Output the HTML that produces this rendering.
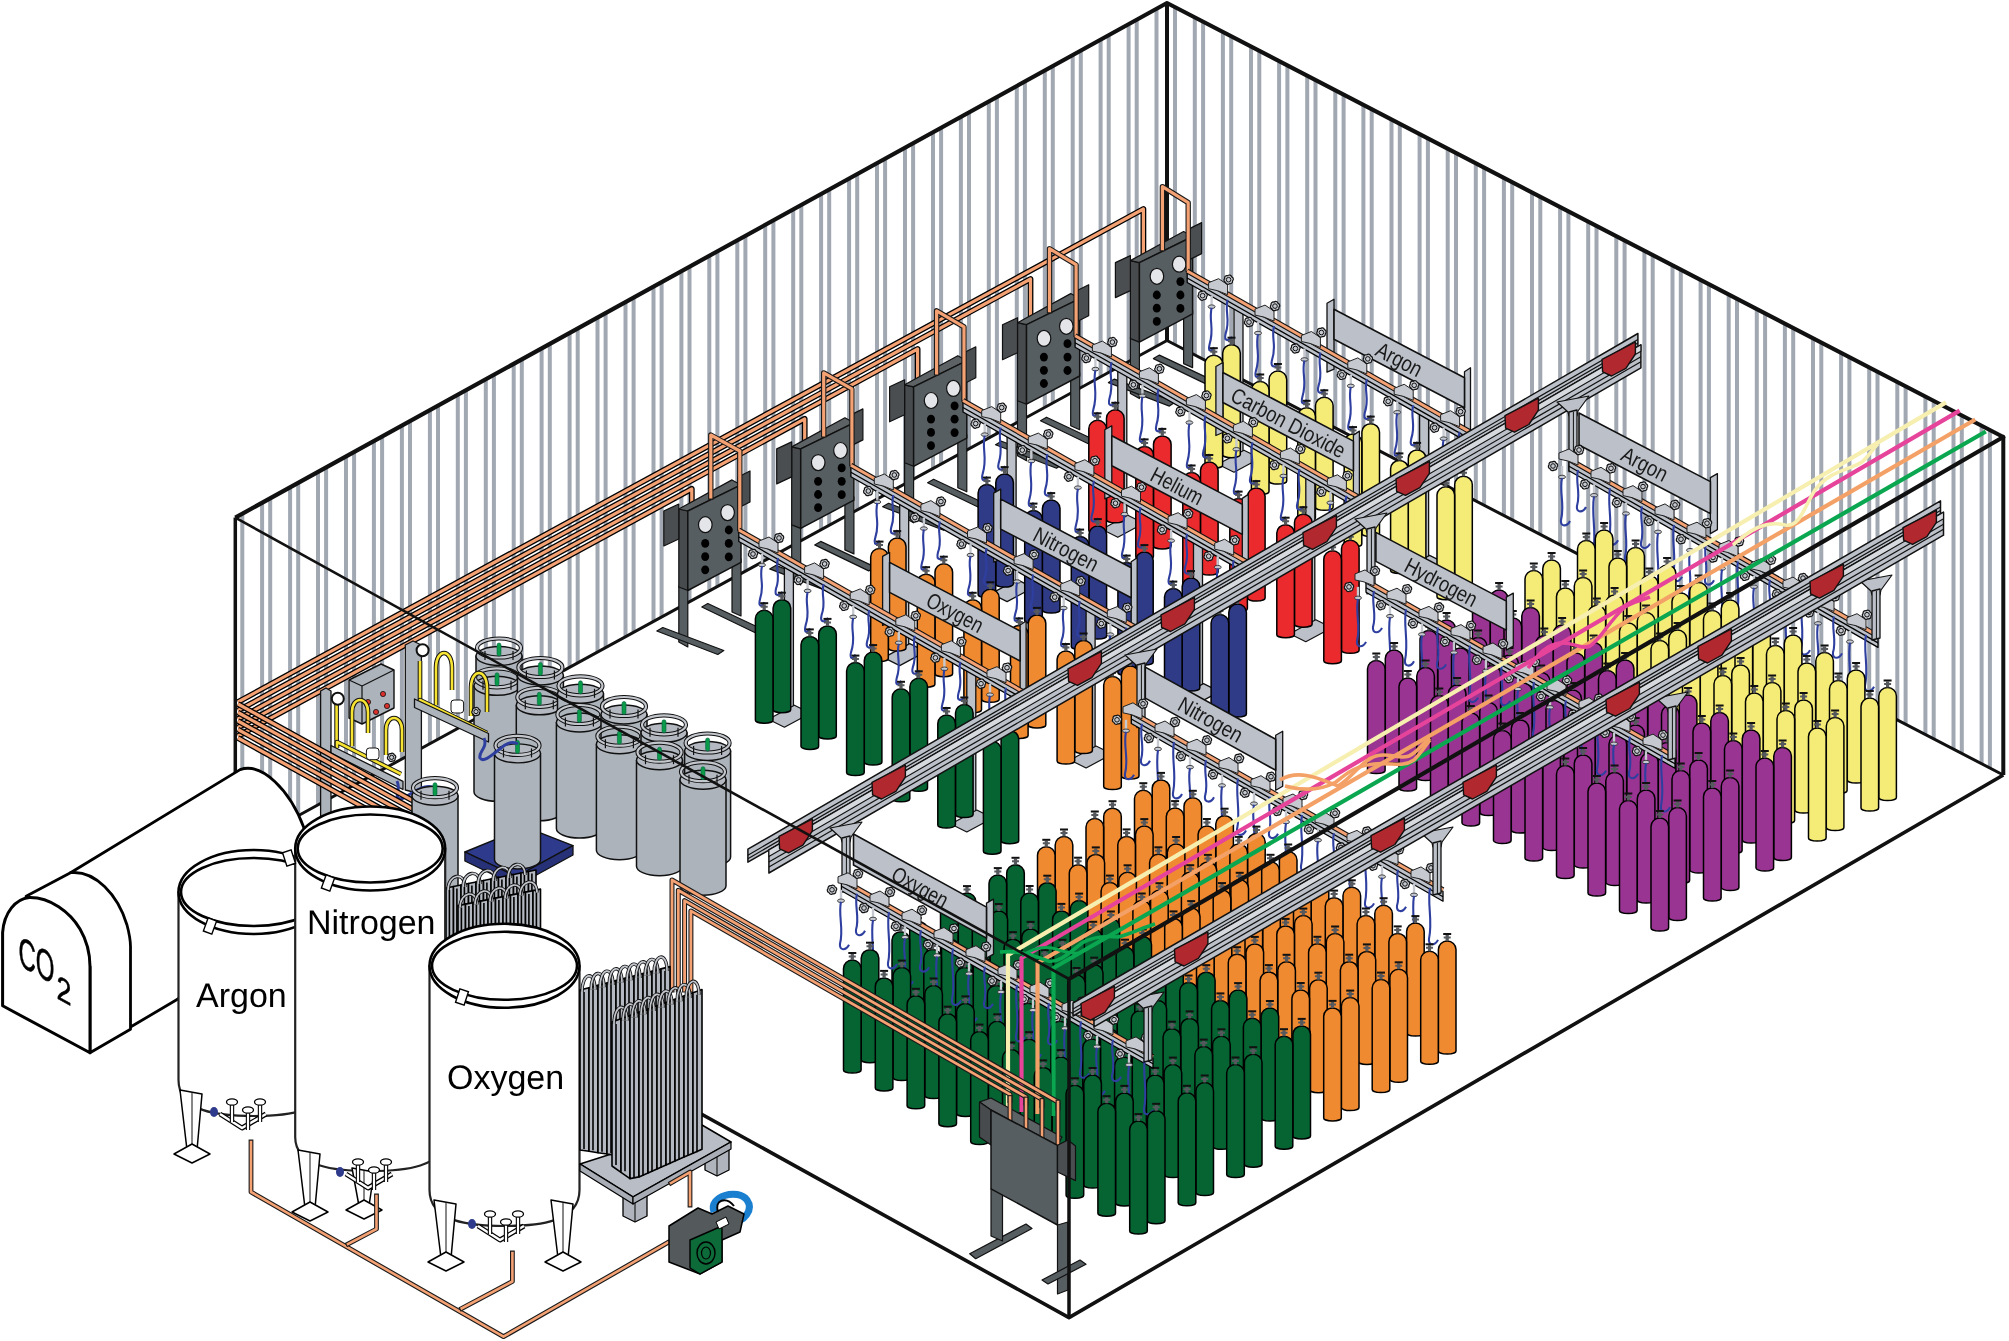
<!DOCTYPE html>
<html><head><meta charset="utf-8"><style>
html,body{margin:0;padding:0;background:#fff;overflow:hidden}
text{text-rendering:geometricPrecision}
svg{display:block;will-change:transform}
</style></head><body>
<svg xmlns="http://www.w3.org/2000/svg" width="2009" height="1341" viewBox="0 0 2009 1341">
<rect width="2009" height="1341" fill="#fff"/>
<line x1="242.3" y1="514.7" x2="242.3" y2="846.3" stroke="#a1a8b2" stroke-width="4" stroke-linecap="butt"/>
<line x1="262.1" y1="503.8" x2="262.1" y2="835.5" stroke="#a1a8b2" stroke-width="4" stroke-linecap="butt"/>
<line x1="270.2" y1="499.3" x2="270.2" y2="831" stroke="#a1a8b2" stroke-width="4" stroke-linecap="butt"/>
<line x1="290.1" y1="488.3" x2="290.1" y2="820.2" stroke="#a1a8b2" stroke-width="4" stroke-linecap="butt"/>
<line x1="298.2" y1="483.9" x2="298.2" y2="815.7" stroke="#a1a8b2" stroke-width="4" stroke-linecap="butt"/>
<line x1="318" y1="472.9" x2="318" y2="804.9" stroke="#a1a8b2" stroke-width="4" stroke-linecap="butt"/>
<line x1="326.1" y1="468.4" x2="326.1" y2="800.4" stroke="#a1a8b2" stroke-width="4" stroke-linecap="butt"/>
<line x1="346" y1="457.5" x2="346" y2="789.6" stroke="#a1a8b2" stroke-width="4" stroke-linecap="butt"/>
<line x1="354.1" y1="453" x2="354.1" y2="785.2" stroke="#a1a8b2" stroke-width="4" stroke-linecap="butt"/>
<line x1="373.9" y1="442" x2="373.9" y2="774.3" stroke="#a1a8b2" stroke-width="4" stroke-linecap="butt"/>
<line x1="382.1" y1="437.5" x2="382.1" y2="769.9" stroke="#a1a8b2" stroke-width="4" stroke-linecap="butt"/>
<line x1="401.9" y1="426.6" x2="401.9" y2="759" stroke="#a1a8b2" stroke-width="4" stroke-linecap="butt"/>
<line x1="410" y1="422.1" x2="410" y2="754.6" stroke="#a1a8b2" stroke-width="4" stroke-linecap="butt"/>
<line x1="429.9" y1="411.1" x2="429.9" y2="743.7" stroke="#a1a8b2" stroke-width="4" stroke-linecap="butt"/>
<line x1="438" y1="406.7" x2="438" y2="739.3" stroke="#a1a8b2" stroke-width="4" stroke-linecap="butt"/>
<line x1="457.8" y1="395.7" x2="457.8" y2="728.4" stroke="#a1a8b2" stroke-width="4" stroke-linecap="butt"/>
<line x1="465.9" y1="391.2" x2="465.9" y2="724" stroke="#a1a8b2" stroke-width="4" stroke-linecap="butt"/>
<line x1="485.8" y1="380.3" x2="485.8" y2="713.1" stroke="#a1a8b2" stroke-width="4" stroke-linecap="butt"/>
<line x1="493.9" y1="375.8" x2="493.9" y2="708.7" stroke="#a1a8b2" stroke-width="4" stroke-linecap="butt"/>
<line x1="513.7" y1="364.8" x2="513.7" y2="697.9" stroke="#a1a8b2" stroke-width="4" stroke-linecap="butt"/>
<line x1="521.8" y1="360.4" x2="521.8" y2="693.4" stroke="#a1a8b2" stroke-width="4" stroke-linecap="butt"/>
<line x1="541.6" y1="349.4" x2="541.6" y2="682.6" stroke="#a1a8b2" stroke-width="4" stroke-linecap="butt"/>
<line x1="549.8" y1="344.9" x2="549.8" y2="678.1" stroke="#a1a8b2" stroke-width="4" stroke-linecap="butt"/>
<line x1="569.6" y1="334" x2="569.6" y2="667.3" stroke="#a1a8b2" stroke-width="4" stroke-linecap="butt"/>
<line x1="577.7" y1="329.5" x2="577.7" y2="662.8" stroke="#a1a8b2" stroke-width="4" stroke-linecap="butt"/>
<line x1="597.5" y1="318.5" x2="597.5" y2="652" stroke="#a1a8b2" stroke-width="4" stroke-linecap="butt"/>
<line x1="605.6" y1="314" x2="605.6" y2="647.6" stroke="#a1a8b2" stroke-width="4" stroke-linecap="butt"/>
<line x1="625.5" y1="303.1" x2="625.5" y2="636.7" stroke="#a1a8b2" stroke-width="4" stroke-linecap="butt"/>
<line x1="633.6" y1="298.6" x2="633.6" y2="632.3" stroke="#a1a8b2" stroke-width="4" stroke-linecap="butt"/>
<line x1="653.5" y1="287.6" x2="653.5" y2="621.4" stroke="#a1a8b2" stroke-width="4" stroke-linecap="butt"/>
<line x1="661.6" y1="283.2" x2="661.6" y2="617" stroke="#a1a8b2" stroke-width="4" stroke-linecap="butt"/>
<line x1="681.4" y1="272.2" x2="681.4" y2="606.1" stroke="#a1a8b2" stroke-width="4" stroke-linecap="butt"/>
<line x1="689.5" y1="267.7" x2="689.5" y2="601.7" stroke="#a1a8b2" stroke-width="4" stroke-linecap="butt"/>
<line x1="709.3" y1="256.8" x2="709.3" y2="590.8" stroke="#a1a8b2" stroke-width="4" stroke-linecap="butt"/>
<line x1="717.4" y1="252.3" x2="717.4" y2="586.4" stroke="#a1a8b2" stroke-width="4" stroke-linecap="butt"/>
<line x1="737.3" y1="241.3" x2="737.3" y2="575.5" stroke="#a1a8b2" stroke-width="4" stroke-linecap="butt"/>
<line x1="745.4" y1="236.9" x2="745.4" y2="571.1" stroke="#a1a8b2" stroke-width="4" stroke-linecap="butt"/>
<line x1="765.2" y1="225.9" x2="765.2" y2="560.3" stroke="#a1a8b2" stroke-width="4" stroke-linecap="butt"/>
<line x1="773.4" y1="221.4" x2="773.4" y2="555.8" stroke="#a1a8b2" stroke-width="4" stroke-linecap="butt"/>
<line x1="793.2" y1="210.5" x2="793.2" y2="545" stroke="#a1a8b2" stroke-width="4" stroke-linecap="butt"/>
<line x1="801.3" y1="206" x2="801.3" y2="540.5" stroke="#a1a8b2" stroke-width="4" stroke-linecap="butt"/>
<line x1="821.1" y1="195" x2="821.1" y2="529.7" stroke="#a1a8b2" stroke-width="4" stroke-linecap="butt"/>
<line x1="829.2" y1="190.5" x2="829.2" y2="525.2" stroke="#a1a8b2" stroke-width="4" stroke-linecap="butt"/>
<line x1="849.1" y1="179.6" x2="849.1" y2="514.4" stroke="#a1a8b2" stroke-width="4" stroke-linecap="butt"/>
<line x1="857.2" y1="175.1" x2="857.2" y2="510" stroke="#a1a8b2" stroke-width="4" stroke-linecap="butt"/>
<line x1="877" y1="164.1" x2="877" y2="499.1" stroke="#a1a8b2" stroke-width="4" stroke-linecap="butt"/>
<line x1="885.1" y1="159.7" x2="885.1" y2="494.7" stroke="#a1a8b2" stroke-width="4" stroke-linecap="butt"/>
<line x1="905" y1="148.7" x2="905" y2="483.8" stroke="#a1a8b2" stroke-width="4" stroke-linecap="butt"/>
<line x1="913.1" y1="144.2" x2="913.1" y2="479.4" stroke="#a1a8b2" stroke-width="4" stroke-linecap="butt"/>
<line x1="933" y1="133.3" x2="933" y2="468.5" stroke="#a1a8b2" stroke-width="4" stroke-linecap="butt"/>
<line x1="941.1" y1="128.8" x2="941.1" y2="464.1" stroke="#a1a8b2" stroke-width="4" stroke-linecap="butt"/>
<line x1="960.9" y1="117.8" x2="960.9" y2="453.2" stroke="#a1a8b2" stroke-width="4" stroke-linecap="butt"/>
<line x1="969" y1="113.4" x2="969" y2="448.8" stroke="#a1a8b2" stroke-width="4" stroke-linecap="butt"/>
<line x1="988.8" y1="102.4" x2="988.8" y2="437.9" stroke="#a1a8b2" stroke-width="4" stroke-linecap="butt"/>
<line x1="996.9" y1="97.9" x2="996.9" y2="433.5" stroke="#a1a8b2" stroke-width="4" stroke-linecap="butt"/>
<line x1="1016.8" y1="87" x2="1016.8" y2="422.7" stroke="#a1a8b2" stroke-width="4" stroke-linecap="butt"/>
<line x1="1024.9" y1="82.5" x2="1024.9" y2="418.2" stroke="#a1a8b2" stroke-width="4" stroke-linecap="butt"/>
<line x1="1044.8" y1="71.5" x2="1044.8" y2="407.4" stroke="#a1a8b2" stroke-width="4" stroke-linecap="butt"/>
<line x1="1052.8" y1="67" x2="1052.8" y2="402.9" stroke="#a1a8b2" stroke-width="4" stroke-linecap="butt"/>
<line x1="1072.7" y1="56.1" x2="1072.7" y2="392.1" stroke="#a1a8b2" stroke-width="4" stroke-linecap="butt"/>
<line x1="1080.8" y1="51.6" x2="1080.8" y2="387.7" stroke="#a1a8b2" stroke-width="4" stroke-linecap="butt"/>
<line x1="1100.6" y1="40.6" x2="1100.6" y2="376.8" stroke="#a1a8b2" stroke-width="4" stroke-linecap="butt"/>
<line x1="1108.7" y1="36.2" x2="1108.7" y2="372.4" stroke="#a1a8b2" stroke-width="4" stroke-linecap="butt"/>
<line x1="1128.6" y1="25.2" x2="1128.6" y2="361.5" stroke="#a1a8b2" stroke-width="4" stroke-linecap="butt"/>
<line x1="1136.7" y1="20.7" x2="1136.7" y2="357.1" stroke="#a1a8b2" stroke-width="4" stroke-linecap="butt"/>
<line x1="1156.5" y1="9.8" x2="1156.5" y2="346.2" stroke="#a1a8b2" stroke-width="4" stroke-linecap="butt"/>
<line x1="1175" y1="8.2" x2="1175" y2="344.7" stroke="#a1a8b2" stroke-width="4" stroke-linecap="butt"/>
<line x1="1194.8" y1="18.4" x2="1194.8" y2="354.9" stroke="#a1a8b2" stroke-width="4" stroke-linecap="butt"/>
<line x1="1203.1" y1="22.7" x2="1203.1" y2="359.3" stroke="#a1a8b2" stroke-width="4" stroke-linecap="butt"/>
<line x1="1222.9" y1="33" x2="1222.9" y2="369.5" stroke="#a1a8b2" stroke-width="4" stroke-linecap="butt"/>
<line x1="1231.2" y1="37.3" x2="1231.2" y2="373.9" stroke="#a1a8b2" stroke-width="4" stroke-linecap="butt"/>
<line x1="1251" y1="47.6" x2="1251" y2="384.1" stroke="#a1a8b2" stroke-width="4" stroke-linecap="butt"/>
<line x1="1259.3" y1="51.9" x2="1259.3" y2="388.5" stroke="#a1a8b2" stroke-width="4" stroke-linecap="butt"/>
<line x1="1279.1" y1="62.2" x2="1279.1" y2="398.7" stroke="#a1a8b2" stroke-width="4" stroke-linecap="butt"/>
<line x1="1287.4" y1="66.5" x2="1287.4" y2="403.1" stroke="#a1a8b2" stroke-width="4" stroke-linecap="butt"/>
<line x1="1307.2" y1="76.8" x2="1307.2" y2="413.3" stroke="#a1a8b2" stroke-width="4" stroke-linecap="butt"/>
<line x1="1315.5" y1="81.1" x2="1315.5" y2="417.7" stroke="#a1a8b2" stroke-width="4" stroke-linecap="butt"/>
<line x1="1335.3" y1="91.3" x2="1335.3" y2="427.9" stroke="#a1a8b2" stroke-width="4" stroke-linecap="butt"/>
<line x1="1343.6" y1="95.6" x2="1343.6" y2="432.3" stroke="#a1a8b2" stroke-width="4" stroke-linecap="butt"/>
<line x1="1363.4" y1="105.9" x2="1363.4" y2="442.5" stroke="#a1a8b2" stroke-width="4" stroke-linecap="butt"/>
<line x1="1371.7" y1="110.2" x2="1371.7" y2="446.9" stroke="#a1a8b2" stroke-width="4" stroke-linecap="butt"/>
<line x1="1391.5" y1="120.5" x2="1391.5" y2="457.1" stroke="#a1a8b2" stroke-width="4" stroke-linecap="butt"/>
<line x1="1399.8" y1="124.8" x2="1399.8" y2="461.5" stroke="#a1a8b2" stroke-width="4" stroke-linecap="butt"/>
<line x1="1419.6" y1="135.1" x2="1419.6" y2="471.7" stroke="#a1a8b2" stroke-width="4" stroke-linecap="butt"/>
<line x1="1427.9" y1="139.4" x2="1427.9" y2="476.1" stroke="#a1a8b2" stroke-width="4" stroke-linecap="butt"/>
<line x1="1447.7" y1="149.7" x2="1447.7" y2="486.3" stroke="#a1a8b2" stroke-width="4" stroke-linecap="butt"/>
<line x1="1456" y1="154" x2="1456" y2="490.7" stroke="#a1a8b2" stroke-width="4" stroke-linecap="butt"/>
<line x1="1475.8" y1="164.3" x2="1475.8" y2="500.9" stroke="#a1a8b2" stroke-width="4" stroke-linecap="butt"/>
<line x1="1484.1" y1="168.6" x2="1484.1" y2="505.2" stroke="#a1a8b2" stroke-width="4" stroke-linecap="butt"/>
<line x1="1503.9" y1="178.8" x2="1503.9" y2="515.5" stroke="#a1a8b2" stroke-width="4" stroke-linecap="butt"/>
<line x1="1512.2" y1="183.1" x2="1512.2" y2="519.8" stroke="#a1a8b2" stroke-width="4" stroke-linecap="butt"/>
<line x1="1532" y1="193.4" x2="1532" y2="530.1" stroke="#a1a8b2" stroke-width="4" stroke-linecap="butt"/>
<line x1="1540.3" y1="197.7" x2="1540.3" y2="534.4" stroke="#a1a8b2" stroke-width="4" stroke-linecap="butt"/>
<line x1="1560.1" y1="208" x2="1560.1" y2="544.7" stroke="#a1a8b2" stroke-width="4" stroke-linecap="butt"/>
<line x1="1568.4" y1="212.3" x2="1568.4" y2="549" stroke="#a1a8b2" stroke-width="4" stroke-linecap="butt"/>
<line x1="1588.2" y1="222.6" x2="1588.2" y2="559.3" stroke="#a1a8b2" stroke-width="4" stroke-linecap="butt"/>
<line x1="1596.5" y1="226.9" x2="1596.5" y2="563.6" stroke="#a1a8b2" stroke-width="4" stroke-linecap="butt"/>
<line x1="1616.3" y1="237.2" x2="1616.3" y2="573.9" stroke="#a1a8b2" stroke-width="4" stroke-linecap="butt"/>
<line x1="1624.6" y1="241.5" x2="1624.6" y2="578.2" stroke="#a1a8b2" stroke-width="4" stroke-linecap="butt"/>
<line x1="1644.4" y1="251.7" x2="1644.4" y2="588.5" stroke="#a1a8b2" stroke-width="4" stroke-linecap="butt"/>
<line x1="1652.7" y1="256.1" x2="1652.7" y2="592.8" stroke="#a1a8b2" stroke-width="4" stroke-linecap="butt"/>
<line x1="1672.5" y1="266.3" x2="1672.5" y2="603.1" stroke="#a1a8b2" stroke-width="4" stroke-linecap="butt"/>
<line x1="1680.8" y1="270.6" x2="1680.8" y2="607.4" stroke="#a1a8b2" stroke-width="4" stroke-linecap="butt"/>
<line x1="1700.6" y1="280.9" x2="1700.6" y2="617.7" stroke="#a1a8b2" stroke-width="4" stroke-linecap="butt"/>
<line x1="1708.9" y1="285.2" x2="1708.9" y2="622" stroke="#a1a8b2" stroke-width="4" stroke-linecap="butt"/>
<line x1="1728.7" y1="295.5" x2="1728.7" y2="632.3" stroke="#a1a8b2" stroke-width="4" stroke-linecap="butt"/>
<line x1="1737" y1="299.8" x2="1737" y2="636.6" stroke="#a1a8b2" stroke-width="4" stroke-linecap="butt"/>
<line x1="1756.8" y1="310.1" x2="1756.8" y2="646.9" stroke="#a1a8b2" stroke-width="4" stroke-linecap="butt"/>
<line x1="1765.1" y1="314.4" x2="1765.1" y2="651.2" stroke="#a1a8b2" stroke-width="4" stroke-linecap="butt"/>
<line x1="1784.9" y1="324.7" x2="1784.9" y2="661.5" stroke="#a1a8b2" stroke-width="4" stroke-linecap="butt"/>
<line x1="1793.2" y1="329" x2="1793.2" y2="665.8" stroke="#a1a8b2" stroke-width="4" stroke-linecap="butt"/>
<line x1="1813" y1="339.2" x2="1813" y2="676.1" stroke="#a1a8b2" stroke-width="4" stroke-linecap="butt"/>
<line x1="1821.3" y1="343.6" x2="1821.3" y2="680.4" stroke="#a1a8b2" stroke-width="4" stroke-linecap="butt"/>
<line x1="1841.1" y1="353.8" x2="1841.1" y2="690.7" stroke="#a1a8b2" stroke-width="4" stroke-linecap="butt"/>
<line x1="1849.4" y1="358.1" x2="1849.4" y2="695" stroke="#a1a8b2" stroke-width="4" stroke-linecap="butt"/>
<line x1="1869.2" y1="368.4" x2="1869.2" y2="705.3" stroke="#a1a8b2" stroke-width="4" stroke-linecap="butt"/>
<line x1="1877.5" y1="372.7" x2="1877.5" y2="709.6" stroke="#a1a8b2" stroke-width="4" stroke-linecap="butt"/>
<line x1="1897.3" y1="383" x2="1897.3" y2="719.9" stroke="#a1a8b2" stroke-width="4" stroke-linecap="butt"/>
<line x1="1905.6" y1="387.3" x2="1905.6" y2="724.2" stroke="#a1a8b2" stroke-width="4" stroke-linecap="butt"/>
<line x1="1925.4" y1="397.6" x2="1925.4" y2="734.5" stroke="#a1a8b2" stroke-width="4" stroke-linecap="butt"/>
<line x1="1933.7" y1="401.9" x2="1933.7" y2="738.8" stroke="#a1a8b2" stroke-width="4" stroke-linecap="butt"/>
<line x1="1953.5" y1="412.2" x2="1953.5" y2="749.1" stroke="#a1a8b2" stroke-width="4" stroke-linecap="butt"/>
<line x1="1961.8" y1="416.5" x2="1961.8" y2="753.4" stroke="#a1a8b2" stroke-width="4" stroke-linecap="butt"/>
<line x1="1981.6" y1="426.7" x2="1981.6" y2="763.7" stroke="#a1a8b2" stroke-width="4" stroke-linecap="butt"/>
<line x1="1989.9" y1="431" x2="1989.9" y2="768" stroke="#a1a8b2" stroke-width="4" stroke-linecap="butt"/>
<polyline points="235.3,517.6 1167,3 2003.3,437" fill="none" stroke="#111" stroke-width="4.2" stroke-linejoin="round" />
<line x1="1167" y1="3" x2="1167" y2="340.5" stroke="#111" stroke-width="4" stroke-linecap="butt"/>
<polyline points="235.3,850.1 1167,340.5 2003.3,775" fill="none" stroke="#111" stroke-width="3" stroke-linejoin="round" />
<polyline points="238,736 691.8,488.9 691.8,508" fill="none" stroke="#000" stroke-width="5.800000000000001" stroke-linejoin="round" stroke-linecap="butt"/>
<polyline points="238,736 691.8,488.9 691.8,508" fill="none" stroke="#f4a173" stroke-width="3.2" stroke-linejoin="round" stroke-linecap="butt"/>
<polyline points="238,727.5 804.7,418.9 804.7,445.9" fill="none" stroke="#000" stroke-width="5.800000000000001" stroke-linejoin="round" stroke-linecap="butt"/>
<polyline points="238,727.5 804.7,418.9 804.7,445.9" fill="none" stroke="#f4a173" stroke-width="3.2" stroke-linejoin="round" stroke-linecap="butt"/>
<polyline points="238,719 917.6,349 917.6,383.8" fill="none" stroke="#000" stroke-width="5.800000000000001" stroke-linejoin="round" stroke-linecap="butt"/>
<polyline points="238,719 917.6,349 917.6,383.8" fill="none" stroke="#f4a173" stroke-width="3.2" stroke-linejoin="round" stroke-linecap="butt"/>
<polyline points="238,710.5 1030.5,279 1030.5,321.7" fill="none" stroke="#000" stroke-width="5.800000000000001" stroke-linejoin="round" stroke-linecap="butt"/>
<polyline points="238,710.5 1030.5,279 1030.5,321.7" fill="none" stroke="#f4a173" stroke-width="3.2" stroke-linejoin="round" stroke-linecap="butt"/>
<polyline points="238,702 1143.4,209 1143.4,259.6" fill="none" stroke="#000" stroke-width="5.800000000000001" stroke-linejoin="round" stroke-linecap="butt"/>
<polyline points="238,702 1143.4,209 1143.4,259.6" fill="none" stroke="#f4a173" stroke-width="3.2" stroke-linejoin="round" stroke-linecap="butt"/>
<polyline points="235.3,856 1069,1317.6 2003.3,775" fill="none" stroke="#111" stroke-width="3.6" stroke-linejoin="round" />
<polygon points="1130.4,337.6 1139.4,341.6 1139.4,398.6 1130.4,393.6" fill="#575e61" stroke="#111" stroke-width="1.2" stroke-linejoin="round" />
<polygon points="1183.6,307.6 1192.6,310.6 1192.6,367.6 1183.6,363.6" fill="#575e61" stroke="#111" stroke-width="1.2" stroke-linejoin="round" />
<polygon points="1108.4,382.6 1114.4,379.1 1175.4,402.1 1169.4,406.1" fill="#575e61" stroke="#111" stroke-width="1.2" stroke-linejoin="round" />
<polygon points="1153.4,358.6 1159.4,355.1 1213.4,380.6 1207.4,384.6" fill="#575e61" stroke="#111" stroke-width="1.2" stroke-linejoin="round" />
<polygon points="1130.4,260.6 1139.4,262.6 1139.4,342.1 1130.4,338.6" fill="#474b4e" stroke="#111" stroke-width="1.2" stroke-linejoin="round" />
<polygon points="1130.4,260.6 1183.6,231.5 1192.6,236.5 1139.4,262.6" fill="#5d6265" stroke="#111" stroke-width="1.2" stroke-linejoin="round" />
<polygon points="1139.4,262.6 1192.6,236.5 1192.6,313.9 1139.4,342.1" fill="#575e61" stroke="#111" stroke-width="1.5" stroke-linejoin="round" />
<polygon points="1115.4,262.6 1130.4,255.6 1130.4,290.6 1115.4,297.6" fill="#4a4e51" stroke="#111" stroke-width="1.2" stroke-linejoin="round" />
<polygon points="1189.6,228.6 1201.6,222.6 1201.6,253.6 1189.6,259.6" fill="#4a4e51" stroke="#111" stroke-width="1.2" stroke-linejoin="round" />
<ellipse cx="1156.9" cy="276.3" rx="6.8" ry="8" fill="#e4e5e8" stroke="#111" stroke-width="1.2"/>
<ellipse cx="1179.2" cy="264.2" rx="6.8" ry="8" fill="#e4e5e8" stroke="#111" stroke-width="1.2"/>
<ellipse cx="1156.8" cy="295" rx="4" ry="4.4" fill="#000"/>
<ellipse cx="1156.8" cy="308.2" rx="4" ry="4.4" fill="#000"/>
<ellipse cx="1156.8" cy="321.4" rx="4" ry="4.4" fill="#000"/>
<ellipse cx="1180.4" cy="281.6" rx="4" ry="4.4" fill="#000"/>
<ellipse cx="1180.4" cy="295" rx="4" ry="4.4" fill="#000"/>
<ellipse cx="1180.4" cy="308.4" rx="4" ry="4.4" fill="#000"/>
<polyline points="1162.4,248.6 1162.4,186.6 1188.2,202.6 1188.2,269.5" fill="none" stroke="#1a1a1a" stroke-width="5.4" stroke-linejoin="round" stroke-linecap="square"/>
<polyline points="1162.4,248.6 1162.4,186.6 1188.2,202.6 1188.2,269.5" fill="none" stroke="#f4a173" stroke-width="3.2" stroke-linejoin="round" stroke-linecap="square"/>
<polygon points="1017.5,399.7 1026.5,403.7 1026.5,460.7 1017.5,455.7" fill="#575e61" stroke="#111" stroke-width="1.2" stroke-linejoin="round" />
<polygon points="1070.7,369.7 1079.7,372.7 1079.7,429.7 1070.7,425.7" fill="#575e61" stroke="#111" stroke-width="1.2" stroke-linejoin="round" />
<polygon points="995.5,444.7 1001.5,441.2 1062.5,464.2 1056.5,468.2" fill="#575e61" stroke="#111" stroke-width="1.2" stroke-linejoin="round" />
<polygon points="1040.5,420.7 1046.5,417.2 1100.5,442.7 1094.5,446.7" fill="#575e61" stroke="#111" stroke-width="1.2" stroke-linejoin="round" />
<polygon points="1017.5,322.7 1026.5,324.7 1026.5,404.2 1017.5,400.7" fill="#474b4e" stroke="#111" stroke-width="1.2" stroke-linejoin="round" />
<polygon points="1017.5,322.7 1070.7,293.6 1079.7,298.6 1026.5,324.7" fill="#5d6265" stroke="#111" stroke-width="1.2" stroke-linejoin="round" />
<polygon points="1026.5,324.7 1079.7,298.6 1079.7,376 1026.5,404.2" fill="#575e61" stroke="#111" stroke-width="1.5" stroke-linejoin="round" />
<polygon points="1002.5,324.7 1017.5,317.7 1017.5,352.7 1002.5,359.7" fill="#4a4e51" stroke="#111" stroke-width="1.2" stroke-linejoin="round" />
<polygon points="1076.7,290.7 1088.7,284.7 1088.7,315.7 1076.7,321.7" fill="#4a4e51" stroke="#111" stroke-width="1.2" stroke-linejoin="round" />
<ellipse cx="1044" cy="338.4" rx="6.8" ry="8" fill="#e4e5e8" stroke="#111" stroke-width="1.2"/>
<ellipse cx="1066.3" cy="326.3" rx="6.8" ry="8" fill="#e4e5e8" stroke="#111" stroke-width="1.2"/>
<ellipse cx="1043.9" cy="357.1" rx="4" ry="4.4" fill="#000"/>
<ellipse cx="1043.9" cy="370.3" rx="4" ry="4.4" fill="#000"/>
<ellipse cx="1043.9" cy="383.5" rx="4" ry="4.4" fill="#000"/>
<ellipse cx="1067.5" cy="343.7" rx="4" ry="4.4" fill="#000"/>
<ellipse cx="1067.5" cy="357.1" rx="4" ry="4.4" fill="#000"/>
<ellipse cx="1067.5" cy="370.5" rx="4" ry="4.4" fill="#000"/>
<polyline points="1049.5,310.7 1049.5,248.7 1076.1,264.7 1076.1,334.2" fill="none" stroke="#1a1a1a" stroke-width="5.4" stroke-linejoin="round" stroke-linecap="square"/>
<polyline points="1049.5,310.7 1049.5,248.7 1076.1,264.7 1076.1,334.2" fill="none" stroke="#f4a173" stroke-width="3.2" stroke-linejoin="round" stroke-linecap="square"/>
<polygon points="904.6,461.8 913.6,465.8 913.6,522.8 904.6,517.8" fill="#575e61" stroke="#111" stroke-width="1.2" stroke-linejoin="round" />
<polygon points="957.8,431.8 966.8,434.8 966.8,491.8 957.8,487.8" fill="#575e61" stroke="#111" stroke-width="1.2" stroke-linejoin="round" />
<polygon points="882.6,506.8 888.6,503.3 949.6,526.3 943.6,530.3" fill="#575e61" stroke="#111" stroke-width="1.2" stroke-linejoin="round" />
<polygon points="927.6,482.8 933.6,479.3 987.6,504.8 981.6,508.8" fill="#575e61" stroke="#111" stroke-width="1.2" stroke-linejoin="round" />
<polygon points="904.6,384.8 913.6,386.8 913.6,466.3 904.6,462.8" fill="#474b4e" stroke="#111" stroke-width="1.2" stroke-linejoin="round" />
<polygon points="904.6,384.8 957.8,355.7 966.8,360.7 913.6,386.8" fill="#5d6265" stroke="#111" stroke-width="1.2" stroke-linejoin="round" />
<polygon points="913.6,386.8 966.8,360.7 966.8,438.1 913.6,466.3" fill="#575e61" stroke="#111" stroke-width="1.5" stroke-linejoin="round" />
<polygon points="889.6,386.8 904.6,379.8 904.6,414.8 889.6,421.8" fill="#4a4e51" stroke="#111" stroke-width="1.2" stroke-linejoin="round" />
<polygon points="963.8,352.8 975.8,346.8 975.8,377.8 963.8,383.8" fill="#4a4e51" stroke="#111" stroke-width="1.2" stroke-linejoin="round" />
<ellipse cx="931.1" cy="400.5" rx="6.8" ry="8" fill="#e4e5e8" stroke="#111" stroke-width="1.2"/>
<ellipse cx="953.4" cy="388.4" rx="6.8" ry="8" fill="#e4e5e8" stroke="#111" stroke-width="1.2"/>
<ellipse cx="931" cy="419.2" rx="4" ry="4.4" fill="#000"/>
<ellipse cx="931" cy="432.4" rx="4" ry="4.4" fill="#000"/>
<ellipse cx="931" cy="445.6" rx="4" ry="4.4" fill="#000"/>
<ellipse cx="954.6" cy="405.8" rx="4" ry="4.4" fill="#000"/>
<ellipse cx="954.6" cy="419.2" rx="4" ry="4.4" fill="#000"/>
<ellipse cx="954.6" cy="432.6" rx="4" ry="4.4" fill="#000"/>
<polyline points="936.6,372.8 936.6,310.8 964,326.8 964,399" fill="none" stroke="#1a1a1a" stroke-width="5.4" stroke-linejoin="round" stroke-linecap="square"/>
<polyline points="936.6,372.8 936.6,310.8 964,326.8 964,399" fill="none" stroke="#f4a173" stroke-width="3.2" stroke-linejoin="round" stroke-linecap="square"/>
<polygon points="791.7,523.9 800.7,527.9 800.7,584.9 791.7,579.9" fill="#575e61" stroke="#111" stroke-width="1.2" stroke-linejoin="round" />
<polygon points="844.9,493.9 853.9,496.9 853.9,553.9 844.9,549.9" fill="#575e61" stroke="#111" stroke-width="1.2" stroke-linejoin="round" />
<polygon points="769.7,568.9 775.7,565.4 836.7,588.4 830.7,592.4" fill="#575e61" stroke="#111" stroke-width="1.2" stroke-linejoin="round" />
<polygon points="814.7,544.9 820.7,541.4 874.7,566.9 868.7,570.9" fill="#575e61" stroke="#111" stroke-width="1.2" stroke-linejoin="round" />
<polygon points="791.7,446.9 800.7,448.9 800.7,528.4 791.7,524.9" fill="#474b4e" stroke="#111" stroke-width="1.2" stroke-linejoin="round" />
<polygon points="791.7,446.9 844.9,417.8 853.9,422.8 800.7,448.9" fill="#5d6265" stroke="#111" stroke-width="1.2" stroke-linejoin="round" />
<polygon points="800.7,448.9 853.9,422.8 853.9,500.2 800.7,528.4" fill="#575e61" stroke="#111" stroke-width="1.5" stroke-linejoin="round" />
<polygon points="776.7,448.9 791.7,441.9 791.7,476.9 776.7,483.9" fill="#4a4e51" stroke="#111" stroke-width="1.2" stroke-linejoin="round" />
<polygon points="850.9,414.9 862.9,408.9 862.9,439.9 850.9,445.9" fill="#4a4e51" stroke="#111" stroke-width="1.2" stroke-linejoin="round" />
<ellipse cx="818.2" cy="462.6" rx="6.8" ry="8" fill="#e4e5e8" stroke="#111" stroke-width="1.2"/>
<ellipse cx="840.5" cy="450.5" rx="6.8" ry="8" fill="#e4e5e8" stroke="#111" stroke-width="1.2"/>
<ellipse cx="818.1" cy="481.3" rx="4" ry="4.4" fill="#000"/>
<ellipse cx="818.1" cy="494.5" rx="4" ry="4.4" fill="#000"/>
<ellipse cx="818.1" cy="507.7" rx="4" ry="4.4" fill="#000"/>
<ellipse cx="841.7" cy="467.9" rx="4" ry="4.4" fill="#000"/>
<ellipse cx="841.7" cy="481.3" rx="4" ry="4.4" fill="#000"/>
<ellipse cx="841.7" cy="494.7" rx="4" ry="4.4" fill="#000"/>
<polyline points="823.7,434.9 823.7,372.9 851.9,388.9 851.9,463.8" fill="none" stroke="#1a1a1a" stroke-width="5.4" stroke-linejoin="round" stroke-linecap="square"/>
<polyline points="823.7,434.9 823.7,372.9 851.9,388.9 851.9,463.8" fill="none" stroke="#f4a173" stroke-width="3.2" stroke-linejoin="round" stroke-linecap="square"/>
<polygon points="678.8,586 687.8,590 687.8,647 678.8,642" fill="#575e61" stroke="#111" stroke-width="1.2" stroke-linejoin="round" />
<polygon points="732,556 741,559 741,616 732,612" fill="#575e61" stroke="#111" stroke-width="1.2" stroke-linejoin="round" />
<polygon points="656.8,631 662.8,627.5 723.8,650.5 717.8,654.5" fill="#575e61" stroke="#111" stroke-width="1.2" stroke-linejoin="round" />
<polygon points="701.8,607 707.8,603.5 761.8,629 755.8,633" fill="#575e61" stroke="#111" stroke-width="1.2" stroke-linejoin="round" />
<polygon points="678.8,509 687.8,511 687.8,590.5 678.8,587" fill="#474b4e" stroke="#111" stroke-width="1.2" stroke-linejoin="round" />
<polygon points="678.8,509 732,479.9 741,484.9 687.8,511" fill="#5d6265" stroke="#111" stroke-width="1.2" stroke-linejoin="round" />
<polygon points="687.8,511 741,484.9 741,562.3 687.8,590.5" fill="#575e61" stroke="#111" stroke-width="1.5" stroke-linejoin="round" />
<polygon points="663.8,511 678.8,504 678.8,539 663.8,546" fill="#4a4e51" stroke="#111" stroke-width="1.2" stroke-linejoin="round" />
<polygon points="738,477 750,471 750,502 738,508" fill="#4a4e51" stroke="#111" stroke-width="1.2" stroke-linejoin="round" />
<ellipse cx="705.3" cy="524.7" rx="6.8" ry="8" fill="#e4e5e8" stroke="#111" stroke-width="1.2"/>
<ellipse cx="727.6" cy="512.6" rx="6.8" ry="8" fill="#e4e5e8" stroke="#111" stroke-width="1.2"/>
<ellipse cx="705.2" cy="543.4" rx="4" ry="4.4" fill="#000"/>
<ellipse cx="705.2" cy="556.6" rx="4" ry="4.4" fill="#000"/>
<ellipse cx="705.2" cy="569.8" rx="4" ry="4.4" fill="#000"/>
<ellipse cx="728.8" cy="530" rx="4" ry="4.4" fill="#000"/>
<ellipse cx="728.8" cy="543.4" rx="4" ry="4.4" fill="#000"/>
<ellipse cx="728.8" cy="556.8" rx="4" ry="4.4" fill="#000"/>
<polyline points="710.8,497 710.8,435 739.8,451 739.8,528.5" fill="none" stroke="#1a1a1a" stroke-width="5.4" stroke-linejoin="round" stroke-linecap="square"/>
<polyline points="710.8,497 710.8,435 739.8,451 739.8,528.5" fill="none" stroke="#f4a173" stroke-width="3.2" stroke-linejoin="round" stroke-linecap="square"/>
<polygon points="1327,303.2 1334,299.2 1334,369.2 1327,372.2" fill="#bcc1c9" stroke="#111" stroke-width="1.3" stroke-linejoin="round" />
<polygon points="1464.5,371.8 1470.5,367.8 1470.5,442.8 1464.5,445.8" fill="#bcc1c9" stroke="#111" stroke-width="1.3" stroke-linejoin="round" />
<polygon points="1334,309.2 1464.5,377.8 1464.5,407.8 1334,339.2" fill="#bcc1c9" stroke="#111" stroke-width="1.6" stroke-linejoin="round" />
<text x="0" y="0" font-family="Liberation Sans, sans-serif" font-size="22" fill="#1a1a1a" text-anchor="middle" dominant-baseline="central" textLength="49" lengthAdjust="spacingAndGlyphs" transform="translate(1399.2,359.5) rotate(27.7)">Argon</text>
<polygon points="1234,306.1 1243,303.1 1243,456.2 1234,459.2" fill="#bcc1c9" stroke="#111" stroke-width="1.3" stroke-linejoin="round" />
<polygon points="1218,464.2 1244,450.2 1260,458.2 1234,472.2" fill="#bcc1c9" stroke="#111" stroke-width="1.2" stroke-linejoin="round" />
<polygon points="1419.6,411.7 1428.6,408.7 1428.6,561.4 1419.6,564.4" fill="#bcc1c9" stroke="#111" stroke-width="1.3" stroke-linejoin="round" />
<polygon points="1403.6,569.4 1429.6,555.4 1445.6,563.4 1419.6,577.4" fill="#bcc1c9" stroke="#111" stroke-width="1.2" stroke-linejoin="round" />
<polygon points="1187.2,272.5 1487,443.1 1487,453.1 1187.2,282.5" fill="#bcc1c9" stroke="#000" stroke-width="1.3" stroke-linejoin="round" />
<line x1="1187.2" y1="278" x2="1487" y2="448.6" stroke="#000" stroke-width="1.3" stroke-linecap="butt"/>
<line x1="1187.2" y1="271" x2="1487" y2="441.6" stroke="#111" stroke-width="5.2" stroke-linecap="butt"/>
<line x1="1187.2" y1="271" x2="1487" y2="441.6" stroke="#f4a173" stroke-width="3.0" stroke-linecap="butt"/>
<polygon points="1208.6,282.7 1218.6,278.7 1227.6,284.7 1227.6,294.7 1217.6,290.7 1208.6,288.7" fill="#c6cad0" stroke="#222" stroke-width="1.0" stroke-linejoin="round" />
<path d="M1232.5,280.9 A2.3,2.3 0 0 1 1229.5,283.6 A2.3,2.3 0 0 1 1225.6,282.4 A2.3,2.3 0 0 1 1224.7,278.5 A2.3,2.3 0 0 1 1227.7,275.7 A2.3,2.3 0 0 1 1231.6,276.9 A2.3,2.3 0 0 1 1232.5,280.9 Z" fill="#c6cad0" stroke="#111" stroke-width="1.2" stroke-linejoin="round" />
<circle cx="1228.6" cy="279.7" r="2.3" fill="none" stroke="#111" stroke-width="1.0"/>
<line x1="1211.6" y1="295.7" x2="1211.6" y2="305.7" stroke="#c6cad0" stroke-width="2.4" stroke-linecap="butt"/>
<ellipse cx="1211.6" cy="306.7" rx="3.5" ry="1.8" fill="#c6cad0" stroke="#222" stroke-width="0.8"/>
<path d="M1206.5,296.9 A2.3,2.3 0 0 1 1203.5,299.6 A2.3,2.3 0 0 1 1199.6,298.4 A2.3,2.3 0 0 1 1198.7,294.5 A2.3,2.3 0 0 1 1201.7,291.7 A2.3,2.3 0 0 1 1205.6,292.9 A2.3,2.3 0 0 1 1206.5,296.9 Z" fill="#c6cad0" stroke="#111" stroke-width="1.2" stroke-linejoin="round" />
<circle cx="1202.6" cy="295.7" r="2.3" fill="none" stroke="#111" stroke-width="1.0"/>
<polygon points="1255,309.1 1265,305.1 1274,311.1 1274,321.1 1264,317.1 1255,315.1" fill="#c6cad0" stroke="#222" stroke-width="1.0" stroke-linejoin="round" />
<path d="M1278.9,307.3 A2.3,2.3 0 0 1 1275.9,310 A2.3,2.3 0 0 1 1272,308.8 A2.3,2.3 0 0 1 1271.1,304.9 A2.3,2.3 0 0 1 1274.1,302.1 A2.3,2.3 0 0 1 1278,303.3 A2.3,2.3 0 0 1 1278.9,307.3 Z" fill="#c6cad0" stroke="#111" stroke-width="1.2" stroke-linejoin="round" />
<circle cx="1275" cy="306.1" r="2.3" fill="none" stroke="#111" stroke-width="1.0"/>
<line x1="1258" y1="322.1" x2="1258" y2="332.1" stroke="#c6cad0" stroke-width="2.4" stroke-linecap="butt"/>
<ellipse cx="1258" cy="333.1" rx="3.5" ry="1.8" fill="#c6cad0" stroke="#222" stroke-width="0.8"/>
<path d="M1252.9,323.3 A2.3,2.3 0 0 1 1249.9,326 A2.3,2.3 0 0 1 1246,324.8 A2.3,2.3 0 0 1 1245.1,320.9 A2.3,2.3 0 0 1 1248.1,318.1 A2.3,2.3 0 0 1 1252,319.3 A2.3,2.3 0 0 1 1252.9,323.3 Z" fill="#c6cad0" stroke="#111" stroke-width="1.2" stroke-linejoin="round" />
<circle cx="1249" cy="322.1" r="2.3" fill="none" stroke="#111" stroke-width="1.0"/>
<polygon points="1301.4,335.5 1311.4,331.5 1320.4,337.5 1320.4,347.5 1310.4,343.5 1301.4,341.5" fill="#c6cad0" stroke="#222" stroke-width="1.0" stroke-linejoin="round" />
<path d="M1325.3,333.7 A2.3,2.3 0 0 1 1322.3,336.4 A2.3,2.3 0 0 1 1318.4,335.2 A2.3,2.3 0 0 1 1317.5,331.3 A2.3,2.3 0 0 1 1320.5,328.5 A2.3,2.3 0 0 1 1324.4,329.7 A2.3,2.3 0 0 1 1325.3,333.7 Z" fill="#c6cad0" stroke="#111" stroke-width="1.2" stroke-linejoin="round" />
<circle cx="1321.4" cy="332.5" r="2.3" fill="none" stroke="#111" stroke-width="1.0"/>
<line x1="1304.4" y1="348.5" x2="1304.4" y2="358.5" stroke="#c6cad0" stroke-width="2.4" stroke-linecap="butt"/>
<ellipse cx="1304.4" cy="359.5" rx="3.5" ry="1.8" fill="#c6cad0" stroke="#222" stroke-width="0.8"/>
<path d="M1299.3,349.7 A2.3,2.3 0 0 1 1296.3,352.4 A2.3,2.3 0 0 1 1292.4,351.2 A2.3,2.3 0 0 1 1291.5,347.3 A2.3,2.3 0 0 1 1294.5,344.5 A2.3,2.3 0 0 1 1298.4,345.7 A2.3,2.3 0 0 1 1299.3,349.7 Z" fill="#c6cad0" stroke="#111" stroke-width="1.2" stroke-linejoin="round" />
<circle cx="1295.4" cy="348.5" r="2.3" fill="none" stroke="#111" stroke-width="1.0"/>
<polygon points="1347.8,361.9 1357.8,357.9 1366.8,363.9 1366.8,373.9 1356.8,369.9 1347.8,367.9" fill="#c6cad0" stroke="#222" stroke-width="1.0" stroke-linejoin="round" />
<path d="M1371.7,360.1 A2.3,2.3 0 0 1 1368.7,362.8 A2.3,2.3 0 0 1 1364.8,361.6 A2.3,2.3 0 0 1 1363.9,357.7 A2.3,2.3 0 0 1 1366.9,354.9 A2.3,2.3 0 0 1 1370.8,356.1 A2.3,2.3 0 0 1 1371.7,360.1 Z" fill="#c6cad0" stroke="#111" stroke-width="1.2" stroke-linejoin="round" />
<circle cx="1367.8" cy="358.9" r="2.3" fill="none" stroke="#111" stroke-width="1.0"/>
<line x1="1350.8" y1="374.9" x2="1350.8" y2="384.9" stroke="#c6cad0" stroke-width="2.4" stroke-linecap="butt"/>
<ellipse cx="1350.8" cy="385.9" rx="3.5" ry="1.8" fill="#c6cad0" stroke="#222" stroke-width="0.8"/>
<path d="M1345.7,376.1 A2.3,2.3 0 0 1 1342.7,378.8 A2.3,2.3 0 0 1 1338.8,377.6 A2.3,2.3 0 0 1 1337.9,373.7 A2.3,2.3 0 0 1 1340.9,370.9 A2.3,2.3 0 0 1 1344.8,372.1 A2.3,2.3 0 0 1 1345.7,376.1 Z" fill="#c6cad0" stroke="#111" stroke-width="1.2" stroke-linejoin="round" />
<circle cx="1341.8" cy="374.9" r="2.3" fill="none" stroke="#111" stroke-width="1.0"/>
<polygon points="1394.2,388.3 1404.2,384.3 1413.2,390.3 1413.2,400.3 1403.2,396.3 1394.2,394.3" fill="#c6cad0" stroke="#222" stroke-width="1.0" stroke-linejoin="round" />
<path d="M1418.1,386.5 A2.3,2.3 0 0 1 1415.1,389.2 A2.3,2.3 0 0 1 1411.2,388 A2.3,2.3 0 0 1 1410.3,384.1 A2.3,2.3 0 0 1 1413.3,381.3 A2.3,2.3 0 0 1 1417.2,382.5 A2.3,2.3 0 0 1 1418.1,386.5 Z" fill="#c6cad0" stroke="#111" stroke-width="1.2" stroke-linejoin="round" />
<circle cx="1414.2" cy="385.3" r="2.3" fill="none" stroke="#111" stroke-width="1.0"/>
<line x1="1397.2" y1="401.3" x2="1397.2" y2="411.3" stroke="#c6cad0" stroke-width="2.4" stroke-linecap="butt"/>
<ellipse cx="1397.2" cy="412.3" rx="3.5" ry="1.8" fill="#c6cad0" stroke="#222" stroke-width="0.8"/>
<path d="M1392.1,402.5 A2.3,2.3 0 0 1 1389.1,405.2 A2.3,2.3 0 0 1 1385.2,404 A2.3,2.3 0 0 1 1384.3,400.1 A2.3,2.3 0 0 1 1387.3,397.3 A2.3,2.3 0 0 1 1391.2,398.5 A2.3,2.3 0 0 1 1392.1,402.5 Z" fill="#c6cad0" stroke="#111" stroke-width="1.2" stroke-linejoin="round" />
<circle cx="1388.2" cy="401.3" r="2.3" fill="none" stroke="#111" stroke-width="1.0"/>
<polygon points="1440.6,414.7 1450.6,410.7 1459.6,416.7 1459.6,426.7 1449.6,422.7 1440.6,420.7" fill="#c6cad0" stroke="#222" stroke-width="1.0" stroke-linejoin="round" />
<path d="M1464.5,412.9 A2.3,2.3 0 0 1 1461.5,415.6 A2.3,2.3 0 0 1 1457.6,414.4 A2.3,2.3 0 0 1 1456.7,410.5 A2.3,2.3 0 0 1 1459.7,407.7 A2.3,2.3 0 0 1 1463.6,408.9 A2.3,2.3 0 0 1 1464.5,412.9 Z" fill="#c6cad0" stroke="#111" stroke-width="1.2" stroke-linejoin="round" />
<circle cx="1460.6" cy="411.7" r="2.3" fill="none" stroke="#111" stroke-width="1.0"/>
<line x1="1443.6" y1="427.7" x2="1443.6" y2="437.7" stroke="#c6cad0" stroke-width="2.4" stroke-linecap="butt"/>
<ellipse cx="1443.6" cy="438.7" rx="3.5" ry="1.8" fill="#c6cad0" stroke="#222" stroke-width="0.8"/>
<path d="M1438.5,428.9 A2.3,2.3 0 0 1 1435.5,431.6 A2.3,2.3 0 0 1 1431.6,430.4 A2.3,2.3 0 0 1 1430.7,426.5 A2.3,2.3 0 0 1 1433.7,423.7 A2.3,2.3 0 0 1 1437.6,424.9 A2.3,2.3 0 0 1 1438.5,428.9 Z" fill="#c6cad0" stroke="#111" stroke-width="1.2" stroke-linejoin="round" />
<circle cx="1434.6" cy="427.7" r="2.3" fill="none" stroke="#111" stroke-width="1.0"/>
<path d="M1211.6,307.7 C1208.6,321.8 1214.6,327.9 1209.6,344.2 C1207.6,352.2 1211,352.2 1214,347.2" fill="none" stroke="#2e3fa0" stroke-width="2.1" stroke-linejoin="round" />
<path d="M1227.6,299.7 C1224.6,313 1230.6,318.7 1225.6,333.7 C1223.6,341.7 1229,341.7 1232,336.7" fill="none" stroke="#2e3fa0" stroke-width="2.1" stroke-linejoin="round" />
<path d="M1258,334.1 C1255,348.2 1261,354.3 1256,370.5 C1254,378.5 1257.4,378.5 1260.4,373.5" fill="none" stroke="#2e3fa0" stroke-width="2.1" stroke-linejoin="round" />
<path d="M1274,326.1 C1271,339.3 1277,345 1272,360 C1270,368 1275.4,368 1278.4,363" fill="none" stroke="#2e3fa0" stroke-width="2.1" stroke-linejoin="round" />
<path d="M1304.4,360.5 C1301.4,374.6 1307.4,380.6 1302.4,396.8 C1300.4,404.8 1303.8,404.8 1306.8,399.8" fill="none" stroke="#2e3fa0" stroke-width="2.1" stroke-linejoin="round" />
<path d="M1320.4,352.5 C1317.4,365.7 1323.4,371.4 1318.4,386.3 C1316.4,394.3 1321.8,394.3 1324.8,389.3" fill="none" stroke="#2e3fa0" stroke-width="2.1" stroke-linejoin="round" />
<path d="M1350.8,386.9 C1347.8,400.9 1353.8,407 1348.8,423.1 C1346.8,431.1 1350.2,431.1 1353.2,426.1" fill="none" stroke="#2e3fa0" stroke-width="2.1" stroke-linejoin="round" />
<path d="M1366.8,378.9 C1363.8,392.1 1369.8,397.7 1364.8,412.6 C1362.8,420.6 1368.2,420.6 1371.2,415.6" fill="none" stroke="#2e3fa0" stroke-width="2.1" stroke-linejoin="round" />
<path d="M1397.2,413.3 C1394.2,427.3 1400.2,433.3 1395.2,449.4 C1393.2,457.4 1396.6,457.4 1399.6,452.4" fill="none" stroke="#2e3fa0" stroke-width="2.1" stroke-linejoin="round" />
<path d="M1413.2,405.3 C1410.2,418.4 1416.2,424.1 1411.2,438.9 C1409.2,446.9 1414.6,446.9 1417.6,441.9" fill="none" stroke="#2e3fa0" stroke-width="2.1" stroke-linejoin="round" />
<path d="M1443.6,439.7 C1440.6,453.7 1446.6,459.7 1441.6,475.7 C1439.6,483.7 1443,483.7 1446,478.7" fill="none" stroke="#2e3fa0" stroke-width="2.1" stroke-linejoin="round" />
<path d="M1459.6,431.7 C1456.6,444.8 1462.6,450.4 1457.6,465.2 C1455.6,473.2 1461,473.2 1464,468.2" fill="none" stroke="#2e3fa0" stroke-width="2.1" stroke-linejoin="round" />
<path d="M1222.7,454.7 L1222.7,353.1 A8.8,8.4 0 0 1 1240.3,353.1 L1240.3,454.7 A8.8,3 0 0 1 1222.7,454.7 Z" fill="#f5ec78" stroke="#000" stroke-width="1.5" stroke-linejoin="round" />
<path d="M1229.9,344.7 L1229.9,342.2 L1228,342.2 L1228,340.2 L1229.9,340.2 L1229.9,338.7 L1233.1,338.7 L1233.1,340.2 L1235,340.2 L1235,342.2 L1233.1,342.2 L1233.1,344.7 Z" fill="#55585c"/>
<rect x="1227.5" y="336.7" width="8" height="2" fill="#111"/>
<path d="M1205,465.2 L1205,363.6 A8.8,8.4 0 0 1 1222.6,363.6 L1222.6,465.2 A8.8,3 0 0 1 1205,465.2 Z" fill="#f5ec78" stroke="#000" stroke-width="1.5" stroke-linejoin="round" />
<path d="M1212.2,355.2 L1212.2,352.7 L1210.3,352.7 L1210.3,350.7 L1212.2,350.7 L1212.2,349.2 L1215.4,349.2 L1215.4,350.7 L1217.3,350.7 L1217.3,352.7 L1215.4,352.7 L1215.4,355.2 Z" fill="#55585c"/>
<rect x="1209.8" y="347.2" width="8" height="2" fill="#111"/>
<path d="M1269.1,481 L1269.1,379.4 A8.8,8.4 0 0 1 1286.7,379.4 L1286.7,481 A8.8,3 0 0 1 1269.1,481 Z" fill="#f5ec78" stroke="#000" stroke-width="1.5" stroke-linejoin="round" />
<path d="M1276.3,371 L1276.3,368.5 L1274.4,368.5 L1274.4,366.5 L1276.3,366.5 L1276.3,365 L1279.5,365 L1279.5,366.5 L1281.4,366.5 L1281.4,368.5 L1279.5,368.5 L1279.5,371 Z" fill="#55585c"/>
<rect x="1273.9" y="363" width="8" height="2" fill="#111"/>
<path d="M1251.4,491.5 L1251.4,389.9 A8.8,8.4 0 0 1 1269,389.9 L1269,491.5 A8.8,3 0 0 1 1251.4,491.5 Z" fill="#f5ec78" stroke="#000" stroke-width="1.5" stroke-linejoin="round" />
<path d="M1258.6,381.5 L1258.6,379 L1256.7,379 L1256.7,377 L1258.6,377 L1258.6,375.5 L1261.8,375.5 L1261.8,377 L1263.7,377 L1263.7,379 L1261.8,379 L1261.8,381.5 Z" fill="#55585c"/>
<rect x="1256.2" y="373.5" width="8" height="2" fill="#111"/>
<path d="M1315.5,507.3 L1315.5,405.7 A8.8,8.4 0 0 1 1333.1,405.7 L1333.1,507.3 A8.8,3 0 0 1 1315.5,507.3 Z" fill="#f5ec78" stroke="#000" stroke-width="1.5" stroke-linejoin="round" />
<path d="M1322.7,397.3 L1322.7,394.8 L1320.8,394.8 L1320.8,392.8 L1322.7,392.8 L1322.7,391.3 L1325.9,391.3 L1325.9,392.8 L1327.8,392.8 L1327.8,394.8 L1325.9,394.8 L1325.9,397.3 Z" fill="#55585c"/>
<rect x="1320.3" y="389.3" width="8" height="2" fill="#111"/>
<path d="M1297.8,517.8 L1297.8,416.2 A8.8,8.4 0 0 1 1315.4,416.2 L1315.4,517.8 A8.8,3 0 0 1 1297.8,517.8 Z" fill="#f5ec78" stroke="#000" stroke-width="1.5" stroke-linejoin="round" />
<path d="M1305,407.8 L1305,405.3 L1303.1,405.3 L1303.1,403.3 L1305,403.3 L1305,401.8 L1308.2,401.8 L1308.2,403.3 L1310.1,403.3 L1310.1,405.3 L1308.2,405.3 L1308.2,407.8 Z" fill="#55585c"/>
<rect x="1302.6" y="399.8" width="8" height="2" fill="#111"/>
<path d="M1361.9,533.6 L1361.9,432 A8.8,8.4 0 0 1 1379.5,432 L1379.5,533.6 A8.8,3 0 0 1 1361.9,533.6 Z" fill="#f5ec78" stroke="#000" stroke-width="1.5" stroke-linejoin="round" />
<path d="M1369.1,423.6 L1369.1,421.1 L1367.2,421.1 L1367.2,419.1 L1369.1,419.1 L1369.1,417.6 L1372.3,417.6 L1372.3,419.1 L1374.2,419.1 L1374.2,421.1 L1372.3,421.1 L1372.3,423.6 Z" fill="#55585c"/>
<rect x="1366.7" y="415.6" width="8" height="2" fill="#111"/>
<path d="M1344.2,544.1 L1344.2,442.5 A8.8,8.4 0 0 1 1361.8,442.5 L1361.8,544.1 A8.8,3 0 0 1 1344.2,544.1 Z" fill="#f5ec78" stroke="#000" stroke-width="1.5" stroke-linejoin="round" />
<path d="M1351.4,434.1 L1351.4,431.6 L1349.5,431.6 L1349.5,429.6 L1351.4,429.6 L1351.4,428.1 L1354.6,428.1 L1354.6,429.6 L1356.5,429.6 L1356.5,431.6 L1354.6,431.6 L1354.6,434.1 Z" fill="#55585c"/>
<rect x="1349" y="426.1" width="8" height="2" fill="#111"/>
<path d="M1408.3,559.9 L1408.3,458.3 A8.8,8.4 0 0 1 1425.9,458.3 L1425.9,559.9 A8.8,3 0 0 1 1408.3,559.9 Z" fill="#f5ec78" stroke="#000" stroke-width="1.5" stroke-linejoin="round" />
<path d="M1415.5,449.9 L1415.5,447.4 L1413.6,447.4 L1413.6,445.4 L1415.5,445.4 L1415.5,443.9 L1418.7,443.9 L1418.7,445.4 L1420.6,445.4 L1420.6,447.4 L1418.7,447.4 L1418.7,449.9 Z" fill="#55585c"/>
<rect x="1413.1" y="441.9" width="8" height="2" fill="#111"/>
<path d="M1390.6,570.4 L1390.6,468.8 A8.8,8.4 0 0 1 1408.2,468.8 L1408.2,570.4 A8.8,3 0 0 1 1390.6,570.4 Z" fill="#f5ec78" stroke="#000" stroke-width="1.5" stroke-linejoin="round" />
<path d="M1397.8,460.4 L1397.8,457.9 L1395.9,457.9 L1395.9,455.9 L1397.8,455.9 L1397.8,454.4 L1401,454.4 L1401,455.9 L1402.9,455.9 L1402.9,457.9 L1401,457.9 L1401,460.4 Z" fill="#55585c"/>
<rect x="1395.4" y="452.4" width="8" height="2" fill="#111"/>
<path d="M1454.7,586.2 L1454.7,484.6 A8.8,8.4 0 0 1 1472.3,484.6 L1472.3,586.2 A8.8,3 0 0 1 1454.7,586.2 Z" fill="#f5ec78" stroke="#000" stroke-width="1.5" stroke-linejoin="round" />
<path d="M1461.9,476.2 L1461.9,473.7 L1460,473.7 L1460,471.7 L1461.9,471.7 L1461.9,470.2 L1465.1,470.2 L1465.1,471.7 L1467,471.7 L1467,473.7 L1465.1,473.7 L1465.1,476.2 Z" fill="#55585c"/>
<rect x="1459.5" y="468.2" width="8" height="2" fill="#111"/>
<path d="M1437,596.7 L1437,495.1 A8.8,8.4 0 0 1 1454.6,495.1 L1454.6,596.7 A8.8,3 0 0 1 1437,596.7 Z" fill="#f5ec78" stroke="#000" stroke-width="1.5" stroke-linejoin="round" />
<path d="M1444.2,486.7 L1444.2,484.2 L1442.3,484.2 L1442.3,482.2 L1444.2,482.2 L1444.2,480.7 L1447.4,480.7 L1447.4,482.2 L1449.3,482.2 L1449.3,484.2 L1447.4,484.2 L1447.4,486.7 Z" fill="#55585c"/>
<rect x="1441.8" y="478.7" width="8" height="2" fill="#111"/>
<polygon points="1215.9,366.5 1222.9,362.5 1222.9,432.5 1215.9,435.5" fill="#bcc1c9" stroke="#111" stroke-width="1.3" stroke-linejoin="round" />
<polygon points="1353.4,435.1 1359.4,431.1 1359.4,506.1 1353.4,509.1" fill="#bcc1c9" stroke="#111" stroke-width="1.3" stroke-linejoin="round" />
<polygon points="1222.9,372.5 1353.4,441.1 1353.4,471.1 1222.9,402.5" fill="#bcc1c9" stroke="#111" stroke-width="1.6" stroke-linejoin="round" />
<text x="0" y="0" font-family="Liberation Sans, sans-serif" font-size="22" fill="#1a1a1a" text-anchor="middle" dominant-baseline="central" textLength="126" lengthAdjust="spacingAndGlyphs" transform="translate(1288.2,422.8) rotate(27.7)">Carbon Dioxide</text>
<polygon points="1117.8,368.5 1126.8,365.5 1126.8,521.3 1117.8,524.3" fill="#bcc1c9" stroke="#111" stroke-width="1.3" stroke-linejoin="round" />
<polygon points="1101.8,529.3 1127.8,515.3 1143.8,523.3 1117.8,537.3" fill="#bcc1c9" stroke="#111" stroke-width="1.2" stroke-linejoin="round" />
<polygon points="1305.8,475.5 1314.8,472.5 1314.8,625.7 1305.8,628.7" fill="#bcc1c9" stroke="#111" stroke-width="1.3" stroke-linejoin="round" />
<polygon points="1289.8,633.7 1315.8,619.7 1331.8,627.7 1305.8,641.7" fill="#bcc1c9" stroke="#111" stroke-width="1.2" stroke-linejoin="round" />
<polygon points="1075.1,337.2 1373.8,507.2 1373.8,517.2 1075.1,347.2" fill="#bcc1c9" stroke="#000" stroke-width="1.3" stroke-linejoin="round" />
<line x1="1075.1" y1="342.8" x2="1373.8" y2="512.7" stroke="#000" stroke-width="1.3" stroke-linecap="butt"/>
<line x1="1075.1" y1="335.8" x2="1373.8" y2="505.7" stroke="#111" stroke-width="5.2" stroke-linecap="butt"/>
<line x1="1075.1" y1="335.8" x2="1373.8" y2="505.7" stroke="#f4a173" stroke-width="3.0" stroke-linecap="butt"/>
<polygon points="1092.4,345.1 1102.4,341.1 1111.4,347.1 1111.4,357.1 1101.4,353.1 1092.4,351.1" fill="#c6cad0" stroke="#222" stroke-width="1.0" stroke-linejoin="round" />
<path d="M1116.3,343.3 A2.3,2.3 0 0 1 1113.3,346 A2.3,2.3 0 0 1 1109.4,344.8 A2.3,2.3 0 0 1 1108.5,340.9 A2.3,2.3 0 0 1 1111.5,338.1 A2.3,2.3 0 0 1 1115.4,339.3 A2.3,2.3 0 0 1 1116.3,343.3 Z" fill="#c6cad0" stroke="#111" stroke-width="1.2" stroke-linejoin="round" />
<circle cx="1112.4" cy="342.1" r="2.3" fill="none" stroke="#111" stroke-width="1.0"/>
<line x1="1095.4" y1="358.1" x2="1095.4" y2="368.1" stroke="#c6cad0" stroke-width="2.4" stroke-linecap="butt"/>
<ellipse cx="1095.4" cy="369.1" rx="3.5" ry="1.8" fill="#c6cad0" stroke="#222" stroke-width="0.8"/>
<path d="M1090.3,359.3 A2.3,2.3 0 0 1 1087.3,362 A2.3,2.3 0 0 1 1083.4,360.8 A2.3,2.3 0 0 1 1082.5,356.9 A2.3,2.3 0 0 1 1085.5,354.1 A2.3,2.3 0 0 1 1089.4,355.3 A2.3,2.3 0 0 1 1090.3,359.3 Z" fill="#c6cad0" stroke="#111" stroke-width="1.2" stroke-linejoin="round" />
<circle cx="1086.4" cy="358.1" r="2.3" fill="none" stroke="#111" stroke-width="1.0"/>
<polygon points="1139.4,371.8 1149.4,367.8 1158.4,373.8 1158.4,383.8 1148.4,379.8 1139.4,377.8" fill="#c6cad0" stroke="#222" stroke-width="1.0" stroke-linejoin="round" />
<path d="M1163.3,370 A2.3,2.3 0 0 1 1160.3,372.8 A2.3,2.3 0 0 1 1156.4,371.6 A2.3,2.3 0 0 1 1155.5,367.6 A2.3,2.3 0 0 1 1158.5,364.9 A2.3,2.3 0 0 1 1162.4,366.1 A2.3,2.3 0 0 1 1163.3,370 Z" fill="#c6cad0" stroke="#111" stroke-width="1.2" stroke-linejoin="round" />
<circle cx="1159.4" cy="368.8" r="2.3" fill="none" stroke="#111" stroke-width="1.0"/>
<line x1="1142.4" y1="384.8" x2="1142.4" y2="394.8" stroke="#c6cad0" stroke-width="2.4" stroke-linecap="butt"/>
<ellipse cx="1142.4" cy="395.8" rx="3.5" ry="1.8" fill="#c6cad0" stroke="#222" stroke-width="0.8"/>
<path d="M1137.3,386 A2.3,2.3 0 0 1 1134.3,388.8 A2.3,2.3 0 0 1 1130.4,387.6 A2.3,2.3 0 0 1 1129.5,383.6 A2.3,2.3 0 0 1 1132.5,380.9 A2.3,2.3 0 0 1 1136.4,382.1 A2.3,2.3 0 0 1 1137.3,386 Z" fill="#c6cad0" stroke="#111" stroke-width="1.2" stroke-linejoin="round" />
<circle cx="1133.4" cy="384.8" r="2.3" fill="none" stroke="#111" stroke-width="1.0"/>
<polygon points="1186.4,398.6 1196.4,394.6 1205.4,400.6 1205.4,410.6 1195.4,406.6 1186.4,404.6" fill="#c6cad0" stroke="#222" stroke-width="1.0" stroke-linejoin="round" />
<path d="M1210.3,396.8 A2.3,2.3 0 0 1 1207.3,399.5 A2.3,2.3 0 0 1 1203.4,398.3 A2.3,2.3 0 0 1 1202.5,394.4 A2.3,2.3 0 0 1 1205.5,391.6 A2.3,2.3 0 0 1 1209.4,392.8 A2.3,2.3 0 0 1 1210.3,396.8 Z" fill="#c6cad0" stroke="#111" stroke-width="1.2" stroke-linejoin="round" />
<circle cx="1206.4" cy="395.6" r="2.3" fill="none" stroke="#111" stroke-width="1.0"/>
<line x1="1189.4" y1="411.6" x2="1189.4" y2="421.6" stroke="#c6cad0" stroke-width="2.4" stroke-linecap="butt"/>
<ellipse cx="1189.4" cy="422.6" rx="3.5" ry="1.8" fill="#c6cad0" stroke="#222" stroke-width="0.8"/>
<path d="M1184.3,412.8 A2.3,2.3 0 0 1 1181.3,415.5 A2.3,2.3 0 0 1 1177.4,414.3 A2.3,2.3 0 0 1 1176.5,410.4 A2.3,2.3 0 0 1 1179.5,407.6 A2.3,2.3 0 0 1 1183.4,408.8 A2.3,2.3 0 0 1 1184.3,412.8 Z" fill="#c6cad0" stroke="#111" stroke-width="1.2" stroke-linejoin="round" />
<circle cx="1180.4" cy="411.6" r="2.3" fill="none" stroke="#111" stroke-width="1.0"/>
<polygon points="1233.4,425.3 1243.4,421.3 1252.4,427.3 1252.4,437.3 1242.4,433.3 1233.4,431.3" fill="#c6cad0" stroke="#222" stroke-width="1.0" stroke-linejoin="round" />
<path d="M1257.3,423.5 A2.3,2.3 0 0 1 1254.3,426.3 A2.3,2.3 0 0 1 1250.4,425.1 A2.3,2.3 0 0 1 1249.5,421.1 A2.3,2.3 0 0 1 1252.5,418.3 A2.3,2.3 0 0 1 1256.4,419.5 A2.3,2.3 0 0 1 1257.3,423.5 Z" fill="#c6cad0" stroke="#111" stroke-width="1.2" stroke-linejoin="round" />
<circle cx="1253.4" cy="422.3" r="2.3" fill="none" stroke="#111" stroke-width="1.0"/>
<line x1="1236.4" y1="438.3" x2="1236.4" y2="448.3" stroke="#c6cad0" stroke-width="2.4" stroke-linecap="butt"/>
<ellipse cx="1236.4" cy="449.3" rx="3.5" ry="1.8" fill="#c6cad0" stroke="#222" stroke-width="0.8"/>
<path d="M1231.3,439.5 A2.3,2.3 0 0 1 1228.3,442.3 A2.3,2.3 0 0 1 1224.4,441.1 A2.3,2.3 0 0 1 1223.5,437.1 A2.3,2.3 0 0 1 1226.5,434.3 A2.3,2.3 0 0 1 1230.4,435.5 A2.3,2.3 0 0 1 1231.3,439.5 Z" fill="#c6cad0" stroke="#111" stroke-width="1.2" stroke-linejoin="round" />
<circle cx="1227.4" cy="438.3" r="2.3" fill="none" stroke="#111" stroke-width="1.0"/>
<polygon points="1280.4,452 1290.4,448 1299.4,454 1299.4,464 1289.4,460 1280.4,458" fill="#c6cad0" stroke="#222" stroke-width="1.0" stroke-linejoin="round" />
<path d="M1304.3,450.3 A2.3,2.3 0 0 1 1301.3,453 A2.3,2.3 0 0 1 1297.4,451.8 A2.3,2.3 0 0 1 1296.5,447.8 A2.3,2.3 0 0 1 1299.5,445.1 A2.3,2.3 0 0 1 1303.4,446.3 A2.3,2.3 0 0 1 1304.3,450.3 Z" fill="#c6cad0" stroke="#111" stroke-width="1.2" stroke-linejoin="round" />
<circle cx="1300.4" cy="449" r="2.3" fill="none" stroke="#111" stroke-width="1.0"/>
<line x1="1283.4" y1="465" x2="1283.4" y2="475" stroke="#c6cad0" stroke-width="2.4" stroke-linecap="butt"/>
<ellipse cx="1283.4" cy="476" rx="3.5" ry="1.8" fill="#c6cad0" stroke="#222" stroke-width="0.8"/>
<path d="M1278.3,466.3 A2.3,2.3 0 0 1 1275.3,469 A2.3,2.3 0 0 1 1271.4,467.8 A2.3,2.3 0 0 1 1270.5,463.8 A2.3,2.3 0 0 1 1273.5,461.1 A2.3,2.3 0 0 1 1277.4,462.3 A2.3,2.3 0 0 1 1278.3,466.3 Z" fill="#c6cad0" stroke="#111" stroke-width="1.2" stroke-linejoin="round" />
<circle cx="1274.4" cy="465" r="2.3" fill="none" stroke="#111" stroke-width="1.0"/>
<polygon points="1327.4,478.8 1337.4,474.8 1346.4,480.8 1346.4,490.8 1336.4,486.8 1327.4,484.8" fill="#c6cad0" stroke="#222" stroke-width="1.0" stroke-linejoin="round" />
<path d="M1351.3,477 A2.3,2.3 0 0 1 1348.3,479.8 A2.3,2.3 0 0 1 1344.4,478.6 A2.3,2.3 0 0 1 1343.5,474.6 A2.3,2.3 0 0 1 1346.5,471.8 A2.3,2.3 0 0 1 1350.4,473 A2.3,2.3 0 0 1 1351.3,477 Z" fill="#c6cad0" stroke="#111" stroke-width="1.2" stroke-linejoin="round" />
<circle cx="1347.4" cy="475.8" r="2.3" fill="none" stroke="#111" stroke-width="1.0"/>
<line x1="1330.4" y1="491.8" x2="1330.4" y2="501.8" stroke="#c6cad0" stroke-width="2.4" stroke-linecap="butt"/>
<ellipse cx="1330.4" cy="502.8" rx="3.5" ry="1.8" fill="#c6cad0" stroke="#222" stroke-width="0.8"/>
<path d="M1325.3,493 A2.3,2.3 0 0 1 1322.3,495.8 A2.3,2.3 0 0 1 1318.4,494.6 A2.3,2.3 0 0 1 1317.5,490.6 A2.3,2.3 0 0 1 1320.5,487.8 A2.3,2.3 0 0 1 1324.4,489 A2.3,2.3 0 0 1 1325.3,493 Z" fill="#c6cad0" stroke="#111" stroke-width="1.2" stroke-linejoin="round" />
<circle cx="1321.4" cy="491.8" r="2.3" fill="none" stroke="#111" stroke-width="1.0"/>
<path d="M1095.4,370.1 C1092.4,385.2 1098.4,391.7 1093.4,409.3 C1091.4,417.3 1094.8,417.3 1097.8,412.3" fill="none" stroke="#2e3fa0" stroke-width="2.1" stroke-linejoin="round" />
<path d="M1111.4,362.1 C1108.4,376.3 1114.4,382.4 1109.4,398.8 C1107.4,406.8 1112.8,406.8 1115.8,401.8" fill="none" stroke="#2e3fa0" stroke-width="2.1" stroke-linejoin="round" />
<path d="M1142.4,396.8 C1139.4,411.7 1145.4,418.1 1140.4,435.4 C1138.4,443.4 1141.8,443.4 1144.8,438.4" fill="none" stroke="#2e3fa0" stroke-width="2.1" stroke-linejoin="round" />
<path d="M1158.4,388.8 C1155.4,402.8 1161.4,408.9 1156.4,424.9 C1154.4,432.9 1159.8,432.9 1162.8,427.9" fill="none" stroke="#2e3fa0" stroke-width="2.1" stroke-linejoin="round" />
<path d="M1189.4,423.6 C1186.4,438.2 1192.4,444.5 1187.4,461.5 C1185.4,469.5 1188.8,469.5 1191.8,464.5" fill="none" stroke="#2e3fa0" stroke-width="2.1" stroke-linejoin="round" />
<path d="M1205.4,415.6 C1202.4,429.4 1208.4,435.3 1203.4,451 C1201.4,459 1206.8,459 1209.8,454" fill="none" stroke="#2e3fa0" stroke-width="2.1" stroke-linejoin="round" />
<path d="M1236.4,450.3 C1233.4,464.8 1239.4,471 1234.4,487.6 C1232.4,495.6 1235.8,495.6 1238.8,490.6" fill="none" stroke="#2e3fa0" stroke-width="2.1" stroke-linejoin="round" />
<path d="M1252.4,442.3 C1249.4,455.9 1255.4,461.7 1250.4,477.1 C1248.4,485.1 1253.8,485.1 1256.8,480.1" fill="none" stroke="#2e3fa0" stroke-width="2.1" stroke-linejoin="round" />
<path d="M1283.4,477 C1280.4,491.3 1286.4,497.4 1281.4,513.7 C1279.4,521.7 1282.8,521.7 1285.8,516.7" fill="none" stroke="#2e3fa0" stroke-width="2.1" stroke-linejoin="round" />
<path d="M1299.4,469 C1296.4,482.4 1302.4,488.1 1297.4,503.2 C1295.4,511.2 1300.8,511.2 1303.8,506.2" fill="none" stroke="#2e3fa0" stroke-width="2.1" stroke-linejoin="round" />
<path d="M1330.4,503.8 C1327.4,517.8 1333.4,523.8 1328.4,539.8 C1326.4,547.8 1329.8,547.8 1332.8,542.8" fill="none" stroke="#2e3fa0" stroke-width="2.1" stroke-linejoin="round" />
<path d="M1346.4,495.8 C1343.4,508.9 1349.4,514.5 1344.4,529.3 C1342.4,537.3 1347.8,537.3 1350.8,532.3" fill="none" stroke="#2e3fa0" stroke-width="2.1" stroke-linejoin="round" />
<path d="M1106.5,519.8 L1106.5,418.2 A8.8,8.4 0 0 1 1124.1,418.2 L1124.1,519.8 A8.8,3 0 0 1 1106.5,519.8 Z" fill="#ea2a2d" stroke="#000" stroke-width="1.5" stroke-linejoin="round" />
<path d="M1113.7,409.8 L1113.7,407.3 L1111.8,407.3 L1111.8,405.3 L1113.7,405.3 L1113.7,403.8 L1116.9,403.8 L1116.9,405.3 L1118.8,405.3 L1118.8,407.3 L1116.9,407.3 L1116.9,409.8 Z" fill="#55585c"/>
<rect x="1111.3" y="401.8" width="8" height="2" fill="#111"/>
<path d="M1088.8,530.3 L1088.8,428.7 A8.8,8.4 0 0 1 1106.4,428.7 L1106.4,530.3 A8.8,3 0 0 1 1088.8,530.3 Z" fill="#ea2a2d" stroke="#000" stroke-width="1.5" stroke-linejoin="round" />
<path d="M1096,420.3 L1096,417.8 L1094.1,417.8 L1094.1,415.8 L1096,415.8 L1096,414.3 L1099.2,414.3 L1099.2,415.8 L1101.1,415.8 L1101.1,417.8 L1099.2,417.8 L1099.2,420.3 Z" fill="#55585c"/>
<rect x="1093.6" y="412.3" width="8" height="2" fill="#111"/>
<path d="M1153.5,545.9 L1153.5,444.3 A8.8,8.4 0 0 1 1171.1,444.3 L1171.1,545.9 A8.8,3 0 0 1 1153.5,545.9 Z" fill="#ea2a2d" stroke="#000" stroke-width="1.5" stroke-linejoin="round" />
<path d="M1160.7,435.9 L1160.7,433.4 L1158.8,433.4 L1158.8,431.4 L1160.7,431.4 L1160.7,429.9 L1163.9,429.9 L1163.9,431.4 L1165.8,431.4 L1165.8,433.4 L1163.9,433.4 L1163.9,435.9 Z" fill="#55585c"/>
<rect x="1158.3" y="427.9" width="8" height="2" fill="#111"/>
<path d="M1135.8,556.4 L1135.8,454.8 A8.8,8.4 0 0 1 1153.4,454.8 L1153.4,556.4 A8.8,3 0 0 1 1135.8,556.4 Z" fill="#ea2a2d" stroke="#000" stroke-width="1.5" stroke-linejoin="round" />
<path d="M1143,446.4 L1143,443.9 L1141.1,443.9 L1141.1,441.9 L1143,441.9 L1143,440.4 L1146.2,440.4 L1146.2,441.9 L1148.1,441.9 L1148.1,443.9 L1146.2,443.9 L1146.2,446.4 Z" fill="#55585c"/>
<rect x="1140.6" y="438.4" width="8" height="2" fill="#111"/>
<path d="M1200.5,572 L1200.5,470.4 A8.8,8.4 0 0 1 1218.1,470.4 L1218.1,572 A8.8,3 0 0 1 1200.5,572 Z" fill="#ea2a2d" stroke="#000" stroke-width="1.5" stroke-linejoin="round" />
<path d="M1207.7,462 L1207.7,459.5 L1205.8,459.5 L1205.8,457.5 L1207.7,457.5 L1207.7,456 L1210.9,456 L1210.9,457.5 L1212.8,457.5 L1212.8,459.5 L1210.9,459.5 L1210.9,462 Z" fill="#55585c"/>
<rect x="1205.3" y="454" width="8" height="2" fill="#111"/>
<path d="M1182.8,582.5 L1182.8,480.9 A8.8,8.4 0 0 1 1200.4,480.9 L1200.4,582.5 A8.8,3 0 0 1 1182.8,582.5 Z" fill="#ea2a2d" stroke="#000" stroke-width="1.5" stroke-linejoin="round" />
<path d="M1190,472.5 L1190,470 L1188.1,470 L1188.1,468 L1190,468 L1190,466.5 L1193.2,466.5 L1193.2,468 L1195.1,468 L1195.1,470 L1193.2,470 L1193.2,472.5 Z" fill="#55585c"/>
<rect x="1187.6" y="464.5" width="8" height="2" fill="#111"/>
<path d="M1247.5,598.1 L1247.5,496.5 A8.8,8.4 0 0 1 1265.1,496.5 L1265.1,598.1 A8.8,3 0 0 1 1247.5,598.1 Z" fill="#ea2a2d" stroke="#000" stroke-width="1.5" stroke-linejoin="round" />
<path d="M1254.7,488.1 L1254.7,485.6 L1252.8,485.6 L1252.8,483.6 L1254.7,483.6 L1254.7,482.1 L1257.9,482.1 L1257.9,483.6 L1259.8,483.6 L1259.8,485.6 L1257.9,485.6 L1257.9,488.1 Z" fill="#55585c"/>
<rect x="1252.3" y="480.1" width="8" height="2" fill="#111"/>
<path d="M1229.8,608.6 L1229.8,507 A8.8,8.4 0 0 1 1247.4,507 L1247.4,608.6 A8.8,3 0 0 1 1229.8,608.6 Z" fill="#ea2a2d" stroke="#000" stroke-width="1.5" stroke-linejoin="round" />
<path d="M1237,498.6 L1237,496.1 L1235.1,496.1 L1235.1,494.1 L1237,494.1 L1237,492.6 L1240.2,492.6 L1240.2,494.1 L1242.1,494.1 L1242.1,496.1 L1240.2,496.1 L1240.2,498.6 Z" fill="#55585c"/>
<rect x="1234.6" y="490.6" width="8" height="2" fill="#111"/>
<path d="M1294.5,624.2 L1294.5,522.6 A8.8,8.4 0 0 1 1312.1,522.6 L1312.1,624.2 A8.8,3 0 0 1 1294.5,624.2 Z" fill="#ea2a2d" stroke="#000" stroke-width="1.5" stroke-linejoin="round" />
<path d="M1301.7,514.2 L1301.7,511.7 L1299.8,511.7 L1299.8,509.7 L1301.7,509.7 L1301.7,508.2 L1304.9,508.2 L1304.9,509.7 L1306.8,509.7 L1306.8,511.7 L1304.9,511.7 L1304.9,514.2 Z" fill="#55585c"/>
<rect x="1299.3" y="506.2" width="8" height="2" fill="#111"/>
<path d="M1276.8,634.7 L1276.8,533.1 A8.8,8.4 0 0 1 1294.4,533.1 L1294.4,634.7 A8.8,3 0 0 1 1276.8,634.7 Z" fill="#ea2a2d" stroke="#000" stroke-width="1.5" stroke-linejoin="round" />
<path d="M1284,524.7 L1284,522.2 L1282.1,522.2 L1282.1,520.2 L1284,520.2 L1284,518.7 L1287.2,518.7 L1287.2,520.2 L1289.1,520.2 L1289.1,522.2 L1287.2,522.2 L1287.2,524.7 Z" fill="#55585c"/>
<rect x="1281.6" y="516.7" width="8" height="2" fill="#111"/>
<path d="M1341.5,650.3 L1341.5,548.7 A8.8,8.4 0 0 1 1359.1,548.7 L1359.1,650.3 A8.8,3 0 0 1 1341.5,650.3 Z" fill="#ea2a2d" stroke="#000" stroke-width="1.5" stroke-linejoin="round" />
<path d="M1348.7,540.3 L1348.7,537.8 L1346.8,537.8 L1346.8,535.8 L1348.7,535.8 L1348.7,534.3 L1351.9,534.3 L1351.9,535.8 L1353.8,535.8 L1353.8,537.8 L1351.9,537.8 L1351.9,540.3 Z" fill="#55585c"/>
<rect x="1346.3" y="532.3" width="8" height="2" fill="#111"/>
<path d="M1323.8,660.8 L1323.8,559.2 A8.8,8.4 0 0 1 1341.4,559.2 L1341.4,660.8 A8.8,3 0 0 1 1323.8,660.8 Z" fill="#ea2a2d" stroke="#000" stroke-width="1.5" stroke-linejoin="round" />
<path d="M1331,550.8 L1331,548.3 L1329.1,548.3 L1329.1,546.3 L1331,546.3 L1331,544.8 L1334.2,544.8 L1334.2,546.3 L1336.1,546.3 L1336.1,548.3 L1334.2,548.3 L1334.2,550.8 Z" fill="#55585c"/>
<rect x="1328.6" y="542.8" width="8" height="2" fill="#111"/>
<polygon points="1104.8,429.8 1111.8,425.8 1111.8,495.8 1104.8,498.8" fill="#bcc1c9" stroke="#111" stroke-width="1.3" stroke-linejoin="round" />
<polygon points="1242.3,498.4 1248.3,494.4 1248.3,569.4 1242.3,572.4" fill="#bcc1c9" stroke="#111" stroke-width="1.3" stroke-linejoin="round" />
<polygon points="1111.8,435.8 1242.3,504.4 1242.3,534.4 1111.8,465.8" fill="#bcc1c9" stroke="#111" stroke-width="1.6" stroke-linejoin="round" />
<text x="0" y="0" font-family="Liberation Sans, sans-serif" font-size="22" fill="#1a1a1a" text-anchor="middle" dominant-baseline="central" textLength="56" lengthAdjust="spacingAndGlyphs" transform="translate(1177,486.1) rotate(27.7)">Helium</text>
<polygon points="1007.1,434.1 1016.1,431.1 1016.1,585.6 1007.1,588.6" fill="#bcc1c9" stroke="#111" stroke-width="1.3" stroke-linejoin="round" />
<polygon points="991.1,593.6 1017.1,579.6 1033.1,587.6 1007.1,601.6" fill="#bcc1c9" stroke="#111" stroke-width="1.2" stroke-linejoin="round" />
<polygon points="1193.5,540.2 1202.5,537.2 1202.5,689.6 1193.5,692.6" fill="#bcc1c9" stroke="#111" stroke-width="1.3" stroke-linejoin="round" />
<polygon points="1177.5,697.6 1203.5,683.6 1219.5,691.6 1193.5,705.6" fill="#bcc1c9" stroke="#111" stroke-width="1.2" stroke-linejoin="round" />
<polygon points="963,402 1261.1,571.6 1261.1,581.6 963,412" fill="#bcc1c9" stroke="#000" stroke-width="1.3" stroke-linejoin="round" />
<line x1="963" y1="407.5" x2="1261.1" y2="577.1" stroke="#000" stroke-width="1.3" stroke-linecap="butt"/>
<line x1="963" y1="400.5" x2="1261.1" y2="570.1" stroke="#111" stroke-width="5.2" stroke-linecap="butt"/>
<line x1="963" y1="400.5" x2="1261.1" y2="570.1" stroke="#f4a173" stroke-width="3.0" stroke-linecap="butt"/>
<polygon points="981.7,410.6 991.7,406.6 1000.7,412.6 1000.7,422.6 990.7,418.6 981.7,416.6" fill="#c6cad0" stroke="#222" stroke-width="1.0" stroke-linejoin="round" />
<path d="M1005.6,408.8 A2.3,2.3 0 0 1 1002.6,411.6 A2.3,2.3 0 0 1 998.7,410.4 A2.3,2.3 0 0 1 997.8,406.4 A2.3,2.3 0 0 1 1000.8,403.7 A2.3,2.3 0 0 1 1004.7,404.9 A2.3,2.3 0 0 1 1005.6,408.8 Z" fill="#c6cad0" stroke="#111" stroke-width="1.2" stroke-linejoin="round" />
<circle cx="1001.7" cy="407.6" r="2.3" fill="none" stroke="#111" stroke-width="1.0"/>
<line x1="984.7" y1="423.6" x2="984.7" y2="433.6" stroke="#c6cad0" stroke-width="2.4" stroke-linecap="butt"/>
<ellipse cx="984.7" cy="434.6" rx="3.5" ry="1.8" fill="#c6cad0" stroke="#222" stroke-width="0.8"/>
<path d="M979.6,424.8 A2.3,2.3 0 0 1 976.6,427.6 A2.3,2.3 0 0 1 972.7,426.4 A2.3,2.3 0 0 1 971.8,422.4 A2.3,2.3 0 0 1 974.8,419.7 A2.3,2.3 0 0 1 978.7,420.9 A2.3,2.3 0 0 1 979.6,424.8 Z" fill="#c6cad0" stroke="#111" stroke-width="1.2" stroke-linejoin="round" />
<circle cx="975.7" cy="423.6" r="2.3" fill="none" stroke="#111" stroke-width="1.0"/>
<polygon points="1028.3,437.1 1038.3,433.1 1047.3,439.1 1047.3,449.1 1037.3,445.1 1028.3,443.1" fill="#c6cad0" stroke="#222" stroke-width="1.0" stroke-linejoin="round" />
<path d="M1052.2,435.3 A2.3,2.3 0 0 1 1049.2,438.1 A2.3,2.3 0 0 1 1045.3,436.9 A2.3,2.3 0 0 1 1044.4,432.9 A2.3,2.3 0 0 1 1047.4,430.2 A2.3,2.3 0 0 1 1051.3,431.4 A2.3,2.3 0 0 1 1052.2,435.3 Z" fill="#c6cad0" stroke="#111" stroke-width="1.2" stroke-linejoin="round" />
<circle cx="1048.3" cy="434.1" r="2.3" fill="none" stroke="#111" stroke-width="1.0"/>
<line x1="1031.3" y1="450.1" x2="1031.3" y2="460.1" stroke="#c6cad0" stroke-width="2.4" stroke-linecap="butt"/>
<ellipse cx="1031.3" cy="461.1" rx="3.5" ry="1.8" fill="#c6cad0" stroke="#222" stroke-width="0.8"/>
<path d="M1026.2,451.3 A2.3,2.3 0 0 1 1023.2,454.1 A2.3,2.3 0 0 1 1019.3,452.9 A2.3,2.3 0 0 1 1018.4,448.9 A2.3,2.3 0 0 1 1021.4,446.2 A2.3,2.3 0 0 1 1025.3,447.4 A2.3,2.3 0 0 1 1026.2,451.3 Z" fill="#c6cad0" stroke="#111" stroke-width="1.2" stroke-linejoin="round" />
<circle cx="1022.3" cy="450.1" r="2.3" fill="none" stroke="#111" stroke-width="1.0"/>
<polygon points="1074.9,463.7 1084.9,459.7 1093.9,465.7 1093.9,475.7 1083.9,471.7 1074.9,469.7" fill="#c6cad0" stroke="#222" stroke-width="1.0" stroke-linejoin="round" />
<path d="M1098.8,461.9 A2.3,2.3 0 0 1 1095.8,464.6 A2.3,2.3 0 0 1 1091.9,463.4 A2.3,2.3 0 0 1 1091,459.5 A2.3,2.3 0 0 1 1094,456.7 A2.3,2.3 0 0 1 1097.9,457.9 A2.3,2.3 0 0 1 1098.8,461.9 Z" fill="#c6cad0" stroke="#111" stroke-width="1.2" stroke-linejoin="round" />
<circle cx="1094.9" cy="460.7" r="2.3" fill="none" stroke="#111" stroke-width="1.0"/>
<line x1="1077.9" y1="476.7" x2="1077.9" y2="486.7" stroke="#c6cad0" stroke-width="2.4" stroke-linecap="butt"/>
<ellipse cx="1077.9" cy="487.7" rx="3.5" ry="1.8" fill="#c6cad0" stroke="#222" stroke-width="0.8"/>
<path d="M1072.8,477.9 A2.3,2.3 0 0 1 1069.8,480.6 A2.3,2.3 0 0 1 1065.9,479.4 A2.3,2.3 0 0 1 1065,475.5 A2.3,2.3 0 0 1 1068,472.7 A2.3,2.3 0 0 1 1071.9,473.9 A2.3,2.3 0 0 1 1072.8,477.9 Z" fill="#c6cad0" stroke="#111" stroke-width="1.2" stroke-linejoin="round" />
<circle cx="1068.9" cy="476.7" r="2.3" fill="none" stroke="#111" stroke-width="1.0"/>
<polygon points="1121.5,490.2 1131.5,486.2 1140.5,492.2 1140.5,502.2 1130.5,498.2 1121.5,496.2" fill="#c6cad0" stroke="#222" stroke-width="1.0" stroke-linejoin="round" />
<path d="M1145.4,488.4 A2.3,2.3 0 0 1 1142.4,491.1 A2.3,2.3 0 0 1 1138.5,489.9 A2.3,2.3 0 0 1 1137.6,486 A2.3,2.3 0 0 1 1140.6,483.2 A2.3,2.3 0 0 1 1144.5,484.4 A2.3,2.3 0 0 1 1145.4,488.4 Z" fill="#c6cad0" stroke="#111" stroke-width="1.2" stroke-linejoin="round" />
<circle cx="1141.5" cy="487.2" r="2.3" fill="none" stroke="#111" stroke-width="1.0"/>
<line x1="1124.5" y1="503.2" x2="1124.5" y2="513.2" stroke="#c6cad0" stroke-width="2.4" stroke-linecap="butt"/>
<ellipse cx="1124.5" cy="514.2" rx="3.5" ry="1.8" fill="#c6cad0" stroke="#222" stroke-width="0.8"/>
<path d="M1119.4,504.4 A2.3,2.3 0 0 1 1116.4,507.1 A2.3,2.3 0 0 1 1112.5,505.9 A2.3,2.3 0 0 1 1111.6,502 A2.3,2.3 0 0 1 1114.6,499.2 A2.3,2.3 0 0 1 1118.5,500.4 A2.3,2.3 0 0 1 1119.4,504.4 Z" fill="#c6cad0" stroke="#111" stroke-width="1.2" stroke-linejoin="round" />
<circle cx="1115.5" cy="503.2" r="2.3" fill="none" stroke="#111" stroke-width="1.0"/>
<polygon points="1168.1,516.7 1178.1,512.7 1187.1,518.7 1187.1,528.7 1177.1,524.7 1168.1,522.7" fill="#c6cad0" stroke="#222" stroke-width="1.0" stroke-linejoin="round" />
<path d="M1192,514.9 A2.3,2.3 0 0 1 1189,517.7 A2.3,2.3 0 0 1 1185.1,516.5 A2.3,2.3 0 0 1 1184.2,512.5 A2.3,2.3 0 0 1 1187.2,509.7 A2.3,2.3 0 0 1 1191.1,510.9 A2.3,2.3 0 0 1 1192,514.9 Z" fill="#c6cad0" stroke="#111" stroke-width="1.2" stroke-linejoin="round" />
<circle cx="1188.1" cy="513.7" r="2.3" fill="none" stroke="#111" stroke-width="1.0"/>
<line x1="1171.1" y1="529.7" x2="1171.1" y2="539.7" stroke="#c6cad0" stroke-width="2.4" stroke-linecap="butt"/>
<ellipse cx="1171.1" cy="540.7" rx="3.5" ry="1.8" fill="#c6cad0" stroke="#222" stroke-width="0.8"/>
<path d="M1166,530.9 A2.3,2.3 0 0 1 1163,533.7 A2.3,2.3 0 0 1 1159.1,532.5 A2.3,2.3 0 0 1 1158.2,528.5 A2.3,2.3 0 0 1 1161.2,525.7 A2.3,2.3 0 0 1 1165.1,526.9 A2.3,2.3 0 0 1 1166,530.9 Z" fill="#c6cad0" stroke="#111" stroke-width="1.2" stroke-linejoin="round" />
<circle cx="1162.1" cy="529.7" r="2.3" fill="none" stroke="#111" stroke-width="1.0"/>
<polygon points="1214.7,543.2 1224.7,539.2 1233.7,545.2 1233.7,555.2 1223.7,551.2 1214.7,549.2" fill="#c6cad0" stroke="#222" stroke-width="1.0" stroke-linejoin="round" />
<path d="M1238.6,541.4 A2.3,2.3 0 0 1 1235.6,544.2 A2.3,2.3 0 0 1 1231.7,543 A2.3,2.3 0 0 1 1230.8,539 A2.3,2.3 0 0 1 1233.8,536.2 A2.3,2.3 0 0 1 1237.7,537.4 A2.3,2.3 0 0 1 1238.6,541.4 Z" fill="#c6cad0" stroke="#111" stroke-width="1.2" stroke-linejoin="round" />
<circle cx="1234.7" cy="540.2" r="2.3" fill="none" stroke="#111" stroke-width="1.0"/>
<line x1="1217.7" y1="556.2" x2="1217.7" y2="566.2" stroke="#c6cad0" stroke-width="2.4" stroke-linecap="butt"/>
<ellipse cx="1217.7" cy="567.2" rx="3.5" ry="1.8" fill="#c6cad0" stroke="#222" stroke-width="0.8"/>
<path d="M1212.6,557.4 A2.3,2.3 0 0 1 1209.6,560.2 A2.3,2.3 0 0 1 1205.7,559 A2.3,2.3 0 0 1 1204.8,555 A2.3,2.3 0 0 1 1207.8,552.2 A2.3,2.3 0 0 1 1211.7,553.4 A2.3,2.3 0 0 1 1212.6,557.4 Z" fill="#c6cad0" stroke="#111" stroke-width="1.2" stroke-linejoin="round" />
<circle cx="1208.7" cy="556.2" r="2.3" fill="none" stroke="#111" stroke-width="1.0"/>
<path d="M984.7,435.6 C981.7,450.3 987.7,456.6 982.7,473.6 C980.7,481.6 984.1,481.6 987.1,476.6" fill="none" stroke="#2e3fa0" stroke-width="2.1" stroke-linejoin="round" />
<path d="M1000.7,427.6 C997.7,441.4 1003.7,447.4 998.7,463.1 C996.7,471.1 1002.1,471.1 1005.1,466.1" fill="none" stroke="#2e3fa0" stroke-width="2.1" stroke-linejoin="round" />
<path d="M1031.3,462.1 C1028.3,476.7 1034.3,482.9 1029.3,499.6 C1027.3,507.6 1030.7,507.6 1033.7,502.6" fill="none" stroke="#2e3fa0" stroke-width="2.1" stroke-linejoin="round" />
<path d="M1047.3,454.1 C1044.3,467.8 1050.3,473.6 1045.3,489.1 C1043.3,497.1 1048.7,497.1 1051.7,492.1" fill="none" stroke="#2e3fa0" stroke-width="2.1" stroke-linejoin="round" />
<path d="M1077.9,488.7 C1074.9,503 1080.9,509.1 1075.9,525.6 C1073.9,533.6 1077.3,533.6 1080.3,528.6" fill="none" stroke="#2e3fa0" stroke-width="2.1" stroke-linejoin="round" />
<path d="M1093.9,480.7 C1090.9,494.1 1096.9,499.9 1091.9,515.1 C1089.9,523.1 1095.3,523.1 1098.3,518.1" fill="none" stroke="#2e3fa0" stroke-width="2.1" stroke-linejoin="round" />
<path d="M1124.5,515.2 C1121.5,529.3 1127.5,535.4 1122.5,551.6 C1120.5,559.6 1123.9,559.6 1126.9,554.6" fill="none" stroke="#2e3fa0" stroke-width="2.1" stroke-linejoin="round" />
<path d="M1140.5,507.2 C1137.5,520.4 1143.5,526.1 1138.5,541.1 C1136.5,549.1 1141.9,549.1 1144.9,544.1" fill="none" stroke="#2e3fa0" stroke-width="2.1" stroke-linejoin="round" />
<path d="M1171.1,541.7 C1168.1,555.7 1174.1,561.6 1169.1,577.6 C1167.1,585.6 1170.5,585.6 1173.5,580.6" fill="none" stroke="#2e3fa0" stroke-width="2.1" stroke-linejoin="round" />
<path d="M1187.1,533.7 C1184.1,546.8 1190.1,552.4 1185.1,567.1 C1183.1,575.1 1188.5,575.1 1191.5,570.1" fill="none" stroke="#2e3fa0" stroke-width="2.1" stroke-linejoin="round" />
<path d="M1217.7,568.2 C1214.7,582 1220.7,587.9 1215.7,603.6 C1213.7,611.6 1217.1,611.6 1220.1,606.6" fill="none" stroke="#2e3fa0" stroke-width="2.1" stroke-linejoin="round" />
<path d="M1233.7,560.2 C1230.7,573.1 1236.7,578.7 1231.7,593.1 C1229.7,601.1 1235.1,601.1 1238.1,596.1" fill="none" stroke="#2e3fa0" stroke-width="2.1" stroke-linejoin="round" />
<path d="M995.8,584.1 L995.8,482.5 A8.8,8.4 0 0 1 1013.4,482.5 L1013.4,584.1 A8.8,3 0 0 1 995.8,584.1 Z" fill="#303b88" stroke="#000" stroke-width="1.5" stroke-linejoin="round" />
<path d="M1003,474.1 L1003,471.6 L1001.1,471.6 L1001.1,469.6 L1003,469.6 L1003,468.1 L1006.2,468.1 L1006.2,469.6 L1008.1,469.6 L1008.1,471.6 L1006.2,471.6 L1006.2,474.1 Z" fill="#55585c"/>
<rect x="1000.6" y="466.1" width="8" height="2" fill="#111"/>
<path d="M978.1,594.6 L978.1,493 A8.8,8.4 0 0 1 995.7,493 L995.7,594.6 A8.8,3 0 0 1 978.1,594.6 Z" fill="#303b88" stroke="#000" stroke-width="1.5" stroke-linejoin="round" />
<path d="M985.3,484.6 L985.3,482.1 L983.4,482.1 L983.4,480.1 L985.3,480.1 L985.3,478.6 L988.5,478.6 L988.5,480.1 L990.4,480.1 L990.4,482.1 L988.5,482.1 L988.5,484.6 Z" fill="#55585c"/>
<rect x="982.9" y="476.6" width="8" height="2" fill="#111"/>
<path d="M1042.4,610.1 L1042.4,508.5 A8.8,8.4 0 0 1 1060,508.5 L1060,610.1 A8.8,3 0 0 1 1042.4,610.1 Z" fill="#303b88" stroke="#000" stroke-width="1.5" stroke-linejoin="round" />
<path d="M1049.6,500.1 L1049.6,497.6 L1047.7,497.6 L1047.7,495.6 L1049.6,495.6 L1049.6,494.1 L1052.8,494.1 L1052.8,495.6 L1054.7,495.6 L1054.7,497.6 L1052.8,497.6 L1052.8,500.1 Z" fill="#55585c"/>
<rect x="1047.2" y="492.1" width="8" height="2" fill="#111"/>
<path d="M1024.7,620.6 L1024.7,519 A8.8,8.4 0 0 1 1042.3,519 L1042.3,620.6 A8.8,3 0 0 1 1024.7,620.6 Z" fill="#303b88" stroke="#000" stroke-width="1.5" stroke-linejoin="round" />
<path d="M1031.9,510.6 L1031.9,508.1 L1030,508.1 L1030,506.1 L1031.9,506.1 L1031.9,504.6 L1035.1,504.6 L1035.1,506.1 L1037,506.1 L1037,508.1 L1035.1,508.1 L1035.1,510.6 Z" fill="#55585c"/>
<rect x="1029.5" y="502.6" width="8" height="2" fill="#111"/>
<path d="M1089,636.1 L1089,534.5 A8.8,8.4 0 0 1 1106.6,534.5 L1106.6,636.1 A8.8,3 0 0 1 1089,636.1 Z" fill="#303b88" stroke="#000" stroke-width="1.5" stroke-linejoin="round" />
<path d="M1096.2,526.1 L1096.2,523.6 L1094.3,523.6 L1094.3,521.6 L1096.2,521.6 L1096.2,520.1 L1099.4,520.1 L1099.4,521.6 L1101.3,521.6 L1101.3,523.6 L1099.4,523.6 L1099.4,526.1 Z" fill="#55585c"/>
<rect x="1093.8" y="518.1" width="8" height="2" fill="#111"/>
<path d="M1071.3,646.6 L1071.3,545 A8.8,8.4 0 0 1 1088.9,545 L1088.9,646.6 A8.8,3 0 0 1 1071.3,646.6 Z" fill="#303b88" stroke="#000" stroke-width="1.5" stroke-linejoin="round" />
<path d="M1078.5,536.6 L1078.5,534.1 L1076.6,534.1 L1076.6,532.1 L1078.5,532.1 L1078.5,530.6 L1081.7,530.6 L1081.7,532.1 L1083.6,532.1 L1083.6,534.1 L1081.7,534.1 L1081.7,536.6 Z" fill="#55585c"/>
<rect x="1076.1" y="528.6" width="8" height="2" fill="#111"/>
<path d="M1135.6,662.1 L1135.6,560.5 A8.8,8.4 0 0 1 1153.2,560.5 L1153.2,662.1 A8.8,3 0 0 1 1135.6,662.1 Z" fill="#303b88" stroke="#000" stroke-width="1.5" stroke-linejoin="round" />
<path d="M1142.8,552.1 L1142.8,549.6 L1140.9,549.6 L1140.9,547.6 L1142.8,547.6 L1142.8,546.1 L1146,546.1 L1146,547.6 L1147.9,547.6 L1147.9,549.6 L1146,549.6 L1146,552.1 Z" fill="#55585c"/>
<rect x="1140.4" y="544.1" width="8" height="2" fill="#111"/>
<path d="M1117.9,672.6 L1117.9,571 A8.8,8.4 0 0 1 1135.5,571 L1135.5,672.6 A8.8,3 0 0 1 1117.9,672.6 Z" fill="#303b88" stroke="#000" stroke-width="1.5" stroke-linejoin="round" />
<path d="M1125.1,562.6 L1125.1,560.1 L1123.2,560.1 L1123.2,558.1 L1125.1,558.1 L1125.1,556.6 L1128.3,556.6 L1128.3,558.1 L1130.2,558.1 L1130.2,560.1 L1128.3,560.1 L1128.3,562.6 Z" fill="#55585c"/>
<rect x="1122.7" y="554.6" width="8" height="2" fill="#111"/>
<path d="M1182.2,688.1 L1182.2,586.5 A8.8,8.4 0 0 1 1199.8,586.5 L1199.8,688.1 A8.8,3 0 0 1 1182.2,688.1 Z" fill="#303b88" stroke="#000" stroke-width="1.5" stroke-linejoin="round" />
<path d="M1189.4,578.1 L1189.4,575.6 L1187.5,575.6 L1187.5,573.6 L1189.4,573.6 L1189.4,572.1 L1192.6,572.1 L1192.6,573.6 L1194.5,573.6 L1194.5,575.6 L1192.6,575.6 L1192.6,578.1 Z" fill="#55585c"/>
<rect x="1187" y="570.1" width="8" height="2" fill="#111"/>
<path d="M1164.5,698.6 L1164.5,597 A8.8,8.4 0 0 1 1182.1,597 L1182.1,698.6 A8.8,3 0 0 1 1164.5,698.6 Z" fill="#303b88" stroke="#000" stroke-width="1.5" stroke-linejoin="round" />
<path d="M1171.7,588.6 L1171.7,586.1 L1169.8,586.1 L1169.8,584.1 L1171.7,584.1 L1171.7,582.6 L1174.9,582.6 L1174.9,584.1 L1176.8,584.1 L1176.8,586.1 L1174.9,586.1 L1174.9,588.6 Z" fill="#55585c"/>
<rect x="1169.3" y="580.6" width="8" height="2" fill="#111"/>
<path d="M1228.8,714.1 L1228.8,612.5 A8.8,8.4 0 0 1 1246.4,612.5 L1246.4,714.1 A8.8,3 0 0 1 1228.8,714.1 Z" fill="#303b88" stroke="#000" stroke-width="1.5" stroke-linejoin="round" />
<path d="M1236,604.1 L1236,601.6 L1234.1,601.6 L1234.1,599.6 L1236,599.6 L1236,598.1 L1239.2,598.1 L1239.2,599.6 L1241.1,599.6 L1241.1,601.6 L1239.2,601.6 L1239.2,604.1 Z" fill="#55585c"/>
<rect x="1233.6" y="596.1" width="8" height="2" fill="#111"/>
<path d="M1211.1,724.6 L1211.1,623 A8.8,8.4 0 0 1 1228.7,623 L1228.7,724.6 A8.8,3 0 0 1 1211.1,724.6 Z" fill="#303b88" stroke="#000" stroke-width="1.5" stroke-linejoin="round" />
<path d="M1218.3,614.6 L1218.3,612.1 L1216.4,612.1 L1216.4,610.1 L1218.3,610.1 L1218.3,608.6 L1221.5,608.6 L1221.5,610.1 L1223.4,610.1 L1223.4,612.1 L1221.5,612.1 L1221.5,614.6 Z" fill="#55585c"/>
<rect x="1215.9" y="606.6" width="8" height="2" fill="#111"/>
<polygon points="993.7,493.1 1000.7,489.1 1000.7,559.1 993.7,562.1" fill="#bcc1c9" stroke="#111" stroke-width="1.3" stroke-linejoin="round" />
<polygon points="1131.2,561.7 1137.2,557.7 1137.2,632.7 1131.2,635.7" fill="#bcc1c9" stroke="#111" stroke-width="1.3" stroke-linejoin="round" />
<polygon points="1000.7,499.1 1131.2,567.7 1131.2,597.7 1000.7,529.1" fill="#bcc1c9" stroke="#111" stroke-width="1.6" stroke-linejoin="round" />
<text x="0" y="0" font-family="Liberation Sans, sans-serif" font-size="22" fill="#1a1a1a" text-anchor="middle" dominant-baseline="central" textLength="70" lengthAdjust="spacingAndGlyphs" transform="translate(1066,549.4) rotate(27.7)">Nitrogen</text>
<polygon points="899.7,501.5 908.7,498.5 908.7,649.6 899.7,652.6" fill="#bcc1c9" stroke="#111" stroke-width="1.3" stroke-linejoin="round" />
<polygon points="883.7,657.6 909.7,643.6 925.7,651.6 899.7,665.6" fill="#bcc1c9" stroke="#111" stroke-width="1.2" stroke-linejoin="round" />
<polygon points="1086.1,607.6 1095.1,604.6 1095.1,752 1086.1,755" fill="#bcc1c9" stroke="#111" stroke-width="1.3" stroke-linejoin="round" />
<polygon points="1070.1,760 1096.1,746 1112.1,754 1086.1,768" fill="#bcc1c9" stroke="#111" stroke-width="1.2" stroke-linejoin="round" />
<polygon points="850.9,466.8 1153.7,639 1153.7,649 850.9,476.8" fill="#bcc1c9" stroke="#000" stroke-width="1.3" stroke-linejoin="round" />
<line x1="850.9" y1="472.2" x2="1153.7" y2="644.5" stroke="#000" stroke-width="1.3" stroke-linecap="butt"/>
<line x1="850.9" y1="465.2" x2="1153.7" y2="637.5" stroke="#111" stroke-width="5.2" stroke-linecap="butt"/>
<line x1="850.9" y1="465.2" x2="1153.7" y2="637.5" stroke="#f4a173" stroke-width="3.0" stroke-linecap="butt"/>
<polygon points="874.3,478 884.3,474 893.3,480 893.3,490 883.3,486 874.3,484" fill="#c6cad0" stroke="#222" stroke-width="1.0" stroke-linejoin="round" />
<path d="M898.2,476.3 A2.3,2.3 0 0 1 895.2,479 A2.3,2.3 0 0 1 891.3,477.8 A2.3,2.3 0 0 1 890.4,473.8 A2.3,2.3 0 0 1 893.4,471.1 A2.3,2.3 0 0 1 897.3,472.3 A2.3,2.3 0 0 1 898.2,476.3 Z" fill="#c6cad0" stroke="#111" stroke-width="1.2" stroke-linejoin="round" />
<circle cx="894.3" cy="475" r="2.3" fill="none" stroke="#111" stroke-width="1.0"/>
<line x1="877.3" y1="491" x2="877.3" y2="501" stroke="#c6cad0" stroke-width="2.4" stroke-linecap="butt"/>
<ellipse cx="877.3" cy="502" rx="3.5" ry="1.8" fill="#c6cad0" stroke="#222" stroke-width="0.8"/>
<path d="M872.2,492.3 A2.3,2.3 0 0 1 869.2,495 A2.3,2.3 0 0 1 865.3,493.8 A2.3,2.3 0 0 1 864.4,489.8 A2.3,2.3 0 0 1 867.4,487.1 A2.3,2.3 0 0 1 871.3,488.3 A2.3,2.3 0 0 1 872.2,492.3 Z" fill="#c6cad0" stroke="#111" stroke-width="1.2" stroke-linejoin="round" />
<circle cx="868.3" cy="491" r="2.3" fill="none" stroke="#111" stroke-width="1.0"/>
<polygon points="920.9,504.6 930.9,500.6 939.9,506.6 939.9,516.6 929.9,512.6 920.9,510.6" fill="#c6cad0" stroke="#222" stroke-width="1.0" stroke-linejoin="round" />
<path d="M944.8,502.8 A2.3,2.3 0 0 1 941.8,505.5 A2.3,2.3 0 0 1 937.9,504.3 A2.3,2.3 0 0 1 937,500.4 A2.3,2.3 0 0 1 940,497.6 A2.3,2.3 0 0 1 943.9,498.8 A2.3,2.3 0 0 1 944.8,502.8 Z" fill="#c6cad0" stroke="#111" stroke-width="1.2" stroke-linejoin="round" />
<circle cx="940.9" cy="501.6" r="2.3" fill="none" stroke="#111" stroke-width="1.0"/>
<line x1="923.9" y1="517.6" x2="923.9" y2="527.6" stroke="#c6cad0" stroke-width="2.4" stroke-linecap="butt"/>
<ellipse cx="923.9" cy="528.6" rx="3.5" ry="1.8" fill="#c6cad0" stroke="#222" stroke-width="0.8"/>
<path d="M918.8,518.8 A2.3,2.3 0 0 1 915.8,521.5 A2.3,2.3 0 0 1 911.9,520.3 A2.3,2.3 0 0 1 911,516.4 A2.3,2.3 0 0 1 914,513.6 A2.3,2.3 0 0 1 917.9,514.8 A2.3,2.3 0 0 1 918.8,518.8 Z" fill="#c6cad0" stroke="#111" stroke-width="1.2" stroke-linejoin="round" />
<circle cx="914.9" cy="517.6" r="2.3" fill="none" stroke="#111" stroke-width="1.0"/>
<polygon points="967.5,531.1 977.5,527.1 986.5,533.1 986.5,543.1 976.5,539.1 967.5,537.1" fill="#c6cad0" stroke="#222" stroke-width="1.0" stroke-linejoin="round" />
<path d="M991.4,529.3 A2.3,2.3 0 0 1 988.4,532 A2.3,2.3 0 0 1 984.5,530.8 A2.3,2.3 0 0 1 983.6,526.9 A2.3,2.3 0 0 1 986.6,524.1 A2.3,2.3 0 0 1 990.5,525.3 A2.3,2.3 0 0 1 991.4,529.3 Z" fill="#c6cad0" stroke="#111" stroke-width="1.2" stroke-linejoin="round" />
<circle cx="987.5" cy="528.1" r="2.3" fill="none" stroke="#111" stroke-width="1.0"/>
<line x1="970.5" y1="544.1" x2="970.5" y2="554.1" stroke="#c6cad0" stroke-width="2.4" stroke-linecap="butt"/>
<ellipse cx="970.5" cy="555.1" rx="3.5" ry="1.8" fill="#c6cad0" stroke="#222" stroke-width="0.8"/>
<path d="M965.4,545.3 A2.3,2.3 0 0 1 962.4,548 A2.3,2.3 0 0 1 958.5,546.8 A2.3,2.3 0 0 1 957.6,542.9 A2.3,2.3 0 0 1 960.6,540.1 A2.3,2.3 0 0 1 964.5,541.3 A2.3,2.3 0 0 1 965.4,545.3 Z" fill="#c6cad0" stroke="#111" stroke-width="1.2" stroke-linejoin="round" />
<circle cx="961.5" cy="544.1" r="2.3" fill="none" stroke="#111" stroke-width="1.0"/>
<polygon points="1014.1,557.6 1024.1,553.6 1033.1,559.6 1033.1,569.6 1023.1,565.6 1014.1,563.6" fill="#c6cad0" stroke="#222" stroke-width="1.0" stroke-linejoin="round" />
<path d="M1038,555.8 A2.3,2.3 0 0 1 1035,558.6 A2.3,2.3 0 0 1 1031.1,557.4 A2.3,2.3 0 0 1 1030.2,553.4 A2.3,2.3 0 0 1 1033.2,550.6 A2.3,2.3 0 0 1 1037.1,551.8 A2.3,2.3 0 0 1 1038,555.8 Z" fill="#c6cad0" stroke="#111" stroke-width="1.2" stroke-linejoin="round" />
<circle cx="1034.1" cy="554.6" r="2.3" fill="none" stroke="#111" stroke-width="1.0"/>
<line x1="1017.1" y1="570.6" x2="1017.1" y2="580.6" stroke="#c6cad0" stroke-width="2.4" stroke-linecap="butt"/>
<ellipse cx="1017.1" cy="581.6" rx="3.5" ry="1.8" fill="#c6cad0" stroke="#222" stroke-width="0.8"/>
<path d="M1012,571.8 A2.3,2.3 0 0 1 1009,574.6 A2.3,2.3 0 0 1 1005.1,573.4 A2.3,2.3 0 0 1 1004.2,569.4 A2.3,2.3 0 0 1 1007.2,566.6 A2.3,2.3 0 0 1 1011.1,567.8 A2.3,2.3 0 0 1 1012,571.8 Z" fill="#c6cad0" stroke="#111" stroke-width="1.2" stroke-linejoin="round" />
<circle cx="1008.1" cy="570.6" r="2.3" fill="none" stroke="#111" stroke-width="1.0"/>
<polygon points="1060.7,584.1 1070.7,580.1 1079.7,586.1 1079.7,596.1 1069.7,592.1 1060.7,590.1" fill="#c6cad0" stroke="#222" stroke-width="1.0" stroke-linejoin="round" />
<path d="M1084.6,582.3 A2.3,2.3 0 0 1 1081.6,585.1 A2.3,2.3 0 0 1 1077.7,583.9 A2.3,2.3 0 0 1 1076.8,579.9 A2.3,2.3 0 0 1 1079.8,577.1 A2.3,2.3 0 0 1 1083.7,578.3 A2.3,2.3 0 0 1 1084.6,582.3 Z" fill="#c6cad0" stroke="#111" stroke-width="1.2" stroke-linejoin="round" />
<circle cx="1080.7" cy="581.1" r="2.3" fill="none" stroke="#111" stroke-width="1.0"/>
<line x1="1063.7" y1="597.1" x2="1063.7" y2="607.1" stroke="#c6cad0" stroke-width="2.4" stroke-linecap="butt"/>
<ellipse cx="1063.7" cy="608.1" rx="3.5" ry="1.8" fill="#c6cad0" stroke="#222" stroke-width="0.8"/>
<path d="M1058.6,598.3 A2.3,2.3 0 0 1 1055.6,601.1 A2.3,2.3 0 0 1 1051.7,599.9 A2.3,2.3 0 0 1 1050.8,595.9 A2.3,2.3 0 0 1 1053.8,593.1 A2.3,2.3 0 0 1 1057.7,594.3 A2.3,2.3 0 0 1 1058.6,598.3 Z" fill="#c6cad0" stroke="#111" stroke-width="1.2" stroke-linejoin="round" />
<circle cx="1054.7" cy="597.1" r="2.3" fill="none" stroke="#111" stroke-width="1.0"/>
<polygon points="1107.3,610.6 1117.3,606.6 1126.3,612.6 1126.3,622.6 1116.3,618.6 1107.3,616.6" fill="#c6cad0" stroke="#222" stroke-width="1.0" stroke-linejoin="round" />
<path d="M1131.2,608.8 A2.3,2.3 0 0 1 1128.2,611.6 A2.3,2.3 0 0 1 1124.3,610.4 A2.3,2.3 0 0 1 1123.4,606.4 A2.3,2.3 0 0 1 1126.4,603.7 A2.3,2.3 0 0 1 1130.3,604.9 A2.3,2.3 0 0 1 1131.2,608.8 Z" fill="#c6cad0" stroke="#111" stroke-width="1.2" stroke-linejoin="round" />
<circle cx="1127.3" cy="607.6" r="2.3" fill="none" stroke="#111" stroke-width="1.0"/>
<line x1="1110.3" y1="623.6" x2="1110.3" y2="633.6" stroke="#c6cad0" stroke-width="2.4" stroke-linecap="butt"/>
<ellipse cx="1110.3" cy="634.6" rx="3.5" ry="1.8" fill="#c6cad0" stroke="#222" stroke-width="0.8"/>
<path d="M1105.2,624.8 A2.3,2.3 0 0 1 1102.2,627.6 A2.3,2.3 0 0 1 1098.3,626.4 A2.3,2.3 0 0 1 1097.4,622.4 A2.3,2.3 0 0 1 1100.4,619.7 A2.3,2.3 0 0 1 1104.3,620.9 A2.3,2.3 0 0 1 1105.2,624.8 Z" fill="#c6cad0" stroke="#111" stroke-width="1.2" stroke-linejoin="round" />
<circle cx="1101.3" cy="623.6" r="2.3" fill="none" stroke="#111" stroke-width="1.0"/>
<path d="M877.3,503 C874.3,516.5 880.3,522.3 875.3,537.6 C873.3,545.6 876.7,545.6 879.7,540.6" fill="none" stroke="#2e3fa0" stroke-width="2.1" stroke-linejoin="round" />
<path d="M893.3,495 C890.3,507.7 896.3,513.1 891.3,527.1 C889.3,535.1 894.7,535.1 897.7,530.1" fill="none" stroke="#2e3fa0" stroke-width="2.1" stroke-linejoin="round" />
<path d="M923.9,529.6 C920.9,542.7 926.9,548.4 921.9,563.2 C919.9,571.2 923.3,571.2 926.3,566.2" fill="none" stroke="#2e3fa0" stroke-width="2.1" stroke-linejoin="round" />
<path d="M939.9,521.6 C936.9,533.9 942.9,539.1 937.9,552.7 C935.9,560.7 941.3,560.7 944.3,555.7" fill="none" stroke="#2e3fa0" stroke-width="2.1" stroke-linejoin="round" />
<path d="M970.5,556.1 C967.5,568.9 973.5,574.4 968.5,588.8 C966.5,596.8 969.9,596.8 972.9,591.8" fill="none" stroke="#2e3fa0" stroke-width="2.1" stroke-linejoin="round" />
<path d="M986.5,548.1 C983.5,560.1 989.5,565.2 984.5,578.3 C982.5,586.3 987.9,586.3 990.9,581.3" fill="none" stroke="#2e3fa0" stroke-width="2.1" stroke-linejoin="round" />
<path d="M1017.1,582.6 C1014.1,595.1 1020.1,600.5 1015.1,614.4 C1013.1,622.4 1016.5,622.4 1019.5,617.4" fill="none" stroke="#2e3fa0" stroke-width="2.1" stroke-linejoin="round" />
<path d="M1033.1,574.6 C1030.1,586.3 1036.1,591.2 1031.1,603.9 C1029.1,611.9 1034.5,611.9 1037.5,606.9" fill="none" stroke="#2e3fa0" stroke-width="2.1" stroke-linejoin="round" />
<path d="M1063.7,609.1 C1060.7,621.3 1066.7,626.6 1061.7,640 C1059.7,648 1063.1,648 1066.1,643" fill="none" stroke="#2e3fa0" stroke-width="2.1" stroke-linejoin="round" />
<path d="M1079.7,601.1 C1076.7,612.4 1082.7,617.3 1077.7,629.5 C1075.7,637.5 1081.1,637.5 1084.1,632.5" fill="none" stroke="#2e3fa0" stroke-width="2.1" stroke-linejoin="round" />
<path d="M1110.3,635.6 C1107.3,647.5 1113.3,652.6 1108.3,665.6 C1106.3,673.6 1109.7,673.6 1112.7,668.6" fill="none" stroke="#2e3fa0" stroke-width="2.1" stroke-linejoin="round" />
<path d="M1126.3,627.6 C1123.3,638.6 1129.3,643.4 1124.3,655.1 C1122.3,663.1 1127.7,663.1 1130.7,658.1" fill="none" stroke="#2e3fa0" stroke-width="2.1" stroke-linejoin="round" />
<path d="M888.4,648.1 L888.4,546.5 A8.8,8.4 0 0 1 906,546.5 L906,648.1 A8.8,3 0 0 1 888.4,648.1 Z" fill="#f08a30" stroke="#000" stroke-width="1.5" stroke-linejoin="round" />
<path d="M895.6,538.1 L895.6,535.6 L893.7,535.6 L893.7,533.6 L895.6,533.6 L895.6,532.1 L898.8,532.1 L898.8,533.6 L900.7,533.6 L900.7,535.6 L898.8,535.6 L898.8,538.1 Z" fill="#55585c"/>
<rect x="893.2" y="530.1" width="8" height="2" fill="#111"/>
<path d="M870.7,658.6 L870.7,557 A8.8,8.4 0 0 1 888.3,557 L888.3,658.6 A8.8,3 0 0 1 870.7,658.6 Z" fill="#f08a30" stroke="#000" stroke-width="1.5" stroke-linejoin="round" />
<path d="M877.9,548.6 L877.9,546.1 L876,546.1 L876,544.1 L877.9,544.1 L877.9,542.6 L881.1,542.6 L881.1,544.1 L883,544.1 L883,546.1 L881.1,546.1 L881.1,548.6 Z" fill="#55585c"/>
<rect x="875.5" y="540.6" width="8" height="2" fill="#111"/>
<path d="M935,673.7 L935,572.1 A8.8,8.4 0 0 1 952.6,572.1 L952.6,673.7 A8.8,3 0 0 1 935,673.7 Z" fill="#f08a30" stroke="#000" stroke-width="1.5" stroke-linejoin="round" />
<path d="M942.2,563.7 L942.2,561.2 L940.3,561.2 L940.3,559.2 L942.2,559.2 L942.2,557.7 L945.4,557.7 L945.4,559.2 L947.3,559.2 L947.3,561.2 L945.4,561.2 L945.4,563.7 Z" fill="#55585c"/>
<rect x="939.8" y="555.7" width="8" height="2" fill="#111"/>
<path d="M917.3,684.2 L917.3,582.6 A8.8,8.4 0 0 1 934.9,582.6 L934.9,684.2 A8.8,3 0 0 1 917.3,684.2 Z" fill="#f08a30" stroke="#000" stroke-width="1.5" stroke-linejoin="round" />
<path d="M924.5,574.2 L924.5,571.7 L922.6,571.7 L922.6,569.7 L924.5,569.7 L924.5,568.2 L927.7,568.2 L927.7,569.7 L929.6,569.7 L929.6,571.7 L927.7,571.7 L927.7,574.2 Z" fill="#55585c"/>
<rect x="922.1" y="566.2" width="8" height="2" fill="#111"/>
<path d="M981.6,699.3 L981.6,597.7 A8.8,8.4 0 0 1 999.2,597.7 L999.2,699.3 A8.8,3 0 0 1 981.6,699.3 Z" fill="#f08a30" stroke="#000" stroke-width="1.5" stroke-linejoin="round" />
<path d="M988.8,589.3 L988.8,586.8 L986.9,586.8 L986.9,584.8 L988.8,584.8 L988.8,583.3 L992,583.3 L992,584.8 L993.9,584.8 L993.9,586.8 L992,586.8 L992,589.3 Z" fill="#55585c"/>
<rect x="986.4" y="581.3" width="8" height="2" fill="#111"/>
<path d="M963.9,709.8 L963.9,608.2 A8.8,8.4 0 0 1 981.5,608.2 L981.5,709.8 A8.8,3 0 0 1 963.9,709.8 Z" fill="#f08a30" stroke="#000" stroke-width="1.5" stroke-linejoin="round" />
<path d="M971.1,599.8 L971.1,597.3 L969.2,597.3 L969.2,595.3 L971.1,595.3 L971.1,593.8 L974.3,593.8 L974.3,595.3 L976.2,595.3 L976.2,597.3 L974.3,597.3 L974.3,599.8 Z" fill="#55585c"/>
<rect x="968.7" y="591.8" width="8" height="2" fill="#111"/>
<path d="M1028.2,724.9 L1028.2,623.3 A8.8,8.4 0 0 1 1045.8,623.3 L1045.8,724.9 A8.8,3 0 0 1 1028.2,724.9 Z" fill="#f08a30" stroke="#000" stroke-width="1.5" stroke-linejoin="round" />
<path d="M1035.4,614.9 L1035.4,612.4 L1033.5,612.4 L1033.5,610.4 L1035.4,610.4 L1035.4,608.9 L1038.6,608.9 L1038.6,610.4 L1040.5,610.4 L1040.5,612.4 L1038.6,612.4 L1038.6,614.9 Z" fill="#55585c"/>
<rect x="1033" y="606.9" width="8" height="2" fill="#111"/>
<path d="M1010.5,735.4 L1010.5,633.8 A8.8,8.4 0 0 1 1028.1,633.8 L1028.1,735.4 A8.8,3 0 0 1 1010.5,735.4 Z" fill="#f08a30" stroke="#000" stroke-width="1.5" stroke-linejoin="round" />
<path d="M1017.7,625.4 L1017.7,622.9 L1015.8,622.9 L1015.8,620.9 L1017.7,620.9 L1017.7,619.4 L1020.9,619.4 L1020.9,620.9 L1022.8,620.9 L1022.8,622.9 L1020.9,622.9 L1020.9,625.4 Z" fill="#55585c"/>
<rect x="1015.3" y="617.4" width="8" height="2" fill="#111"/>
<path d="M1074.8,750.5 L1074.8,648.9 A8.8,8.4 0 0 1 1092.4,648.9 L1092.4,750.5 A8.8,3 0 0 1 1074.8,750.5 Z" fill="#f08a30" stroke="#000" stroke-width="1.5" stroke-linejoin="round" />
<path d="M1082,640.5 L1082,638 L1080.1,638 L1080.1,636 L1082,636 L1082,634.5 L1085.2,634.5 L1085.2,636 L1087.1,636 L1087.1,638 L1085.2,638 L1085.2,640.5 Z" fill="#55585c"/>
<rect x="1079.6" y="632.5" width="8" height="2" fill="#111"/>
<path d="M1057.1,761 L1057.1,659.4 A8.8,8.4 0 0 1 1074.7,659.4 L1074.7,761 A8.8,3 0 0 1 1057.1,761 Z" fill="#f08a30" stroke="#000" stroke-width="1.5" stroke-linejoin="round" />
<path d="M1064.3,651 L1064.3,648.5 L1062.4,648.5 L1062.4,646.5 L1064.3,646.5 L1064.3,645 L1067.5,645 L1067.5,646.5 L1069.4,646.5 L1069.4,648.5 L1067.5,648.5 L1067.5,651 Z" fill="#55585c"/>
<rect x="1061.9" y="643" width="8" height="2" fill="#111"/>
<path d="M1121.4,776.1 L1121.4,674.5 A8.8,8.4 0 0 1 1139,674.5 L1139,776.1 A8.8,3 0 0 1 1121.4,776.1 Z" fill="#f08a30" stroke="#000" stroke-width="1.5" stroke-linejoin="round" />
<path d="M1128.6,666.1 L1128.6,663.6 L1126.7,663.6 L1126.7,661.6 L1128.6,661.6 L1128.6,660.1 L1131.8,660.1 L1131.8,661.6 L1133.7,661.6 L1133.7,663.6 L1131.8,663.6 L1131.8,666.1 Z" fill="#55585c"/>
<rect x="1126.2" y="658.1" width="8" height="2" fill="#111"/>
<path d="M1103.7,786.6 L1103.7,685 A8.8,8.4 0 0 1 1121.3,685 L1121.3,786.6 A8.8,3 0 0 1 1103.7,786.6 Z" fill="#f08a30" stroke="#000" stroke-width="1.5" stroke-linejoin="round" />
<path d="M1110.9,676.6 L1110.9,674.1 L1109,674.1 L1109,672.1 L1110.9,672.1 L1110.9,670.6 L1114.1,670.6 L1114.1,672.1 L1116,672.1 L1116,674.1 L1114.1,674.1 L1114.1,676.6 Z" fill="#55585c"/>
<rect x="1108.5" y="668.6" width="8" height="2" fill="#111"/>
<polygon points="882.6,556.4 889.6,552.4 889.6,622.4 882.6,625.4" fill="#bcc1c9" stroke="#111" stroke-width="1.3" stroke-linejoin="round" />
<polygon points="1020.1,625 1026.1,621 1026.1,696 1020.1,699" fill="#bcc1c9" stroke="#111" stroke-width="1.3" stroke-linejoin="round" />
<polygon points="889.6,562.4 1020.1,631 1020.1,661 889.6,592.4" fill="#bcc1c9" stroke="#111" stroke-width="1.6" stroke-linejoin="round" />
<text x="0" y="0" font-family="Liberation Sans, sans-serif" font-size="22" fill="#1a1a1a" text-anchor="middle" dominant-baseline="central" textLength="61" lengthAdjust="spacingAndGlyphs" transform="translate(954.9,612.7) rotate(27.7)">Oxygen</text>
<polygon points="784.4,564.4 793.4,561.4 793.4,711.2 784.4,714.2" fill="#bcc1c9" stroke="#111" stroke-width="1.3" stroke-linejoin="round" />
<polygon points="768.4,719.2 794.4,705.2 810.4,713.2 784.4,727.2" fill="#bcc1c9" stroke="#111" stroke-width="1.2" stroke-linejoin="round" />
<polygon points="966.8,668.2 975.8,665.2 975.8,816 966.8,819" fill="#bcc1c9" stroke="#111" stroke-width="1.3" stroke-linejoin="round" />
<polygon points="950.8,824 976.8,810 992.8,818 966.8,832" fill="#bcc1c9" stroke="#111" stroke-width="1.2" stroke-linejoin="round" />
<polygon points="738.8,531.5 1033.4,699.1 1033.4,709.1 738.8,541.5" fill="#bcc1c9" stroke="#000" stroke-width="1.3" stroke-linejoin="round" />
<line x1="738.8" y1="537" x2="1033.4" y2="704.6" stroke="#000" stroke-width="1.3" stroke-linecap="butt"/>
<line x1="738.8" y1="530" x2="1033.4" y2="697.6" stroke="#111" stroke-width="5.2" stroke-linecap="butt"/>
<line x1="738.8" y1="530" x2="1033.4" y2="697.6" stroke="#f4a173" stroke-width="3.0" stroke-linecap="butt"/>
<polygon points="759,541 769,537 778,543 778,553 768,549 759,547" fill="#c6cad0" stroke="#222" stroke-width="1.0" stroke-linejoin="round" />
<path d="M782.9,539.2 A2.3,2.3 0 0 1 779.9,541.9 A2.3,2.3 0 0 1 776,540.7 A2.3,2.3 0 0 1 775.1,536.8 A2.3,2.3 0 0 1 778.1,534 A2.3,2.3 0 0 1 782,535.2 A2.3,2.3 0 0 1 782.9,539.2 Z" fill="#c6cad0" stroke="#111" stroke-width="1.2" stroke-linejoin="round" />
<circle cx="779" cy="538" r="2.3" fill="none" stroke="#111" stroke-width="1.0"/>
<line x1="762" y1="554" x2="762" y2="564" stroke="#c6cad0" stroke-width="2.4" stroke-linecap="butt"/>
<ellipse cx="762" cy="565" rx="3.5" ry="1.8" fill="#c6cad0" stroke="#222" stroke-width="0.8"/>
<path d="M756.9,555.2 A2.3,2.3 0 0 1 753.9,557.9 A2.3,2.3 0 0 1 750,556.7 A2.3,2.3 0 0 1 749.1,552.8 A2.3,2.3 0 0 1 752.1,550 A2.3,2.3 0 0 1 756,551.2 A2.3,2.3 0 0 1 756.9,555.2 Z" fill="#c6cad0" stroke="#111" stroke-width="1.2" stroke-linejoin="round" />
<circle cx="753" cy="554" r="2.3" fill="none" stroke="#111" stroke-width="1.0"/>
<polygon points="804.6,566.9 814.6,562.9 823.6,568.9 823.6,578.9 813.6,574.9 804.6,572.9" fill="#c6cad0" stroke="#222" stroke-width="1.0" stroke-linejoin="round" />
<path d="M828.5,565.1 A2.3,2.3 0 0 1 825.5,567.9 A2.3,2.3 0 0 1 821.6,566.7 A2.3,2.3 0 0 1 820.7,562.7 A2.3,2.3 0 0 1 823.7,560 A2.3,2.3 0 0 1 827.6,561.2 A2.3,2.3 0 0 1 828.5,565.1 Z" fill="#c6cad0" stroke="#111" stroke-width="1.2" stroke-linejoin="round" />
<circle cx="824.6" cy="563.9" r="2.3" fill="none" stroke="#111" stroke-width="1.0"/>
<line x1="807.6" y1="579.9" x2="807.6" y2="589.9" stroke="#c6cad0" stroke-width="2.4" stroke-linecap="butt"/>
<ellipse cx="807.6" cy="590.9" rx="3.5" ry="1.8" fill="#c6cad0" stroke="#222" stroke-width="0.8"/>
<path d="M802.5,581.1 A2.3,2.3 0 0 1 799.5,583.9 A2.3,2.3 0 0 1 795.6,582.7 A2.3,2.3 0 0 1 794.7,578.7 A2.3,2.3 0 0 1 797.7,576 A2.3,2.3 0 0 1 801.6,577.2 A2.3,2.3 0 0 1 802.5,581.1 Z" fill="#c6cad0" stroke="#111" stroke-width="1.2" stroke-linejoin="round" />
<circle cx="798.6" cy="579.9" r="2.3" fill="none" stroke="#111" stroke-width="1.0"/>
<polygon points="850.2,592.9 860.2,588.9 869.2,594.9 869.2,604.9 859.2,600.9 850.2,598.9" fill="#c6cad0" stroke="#222" stroke-width="1.0" stroke-linejoin="round" />
<path d="M874.1,591.1 A2.3,2.3 0 0 1 871.1,593.8 A2.3,2.3 0 0 1 867.2,592.6 A2.3,2.3 0 0 1 866.3,588.7 A2.3,2.3 0 0 1 869.3,585.9 A2.3,2.3 0 0 1 873.2,587.1 A2.3,2.3 0 0 1 874.1,591.1 Z" fill="#c6cad0" stroke="#111" stroke-width="1.2" stroke-linejoin="round" />
<circle cx="870.2" cy="589.9" r="2.3" fill="none" stroke="#111" stroke-width="1.0"/>
<line x1="853.2" y1="605.9" x2="853.2" y2="615.9" stroke="#c6cad0" stroke-width="2.4" stroke-linecap="butt"/>
<ellipse cx="853.2" cy="616.9" rx="3.5" ry="1.8" fill="#c6cad0" stroke="#222" stroke-width="0.8"/>
<path d="M848.1,607.1 A2.3,2.3 0 0 1 845.1,609.8 A2.3,2.3 0 0 1 841.2,608.6 A2.3,2.3 0 0 1 840.3,604.7 A2.3,2.3 0 0 1 843.3,601.9 A2.3,2.3 0 0 1 847.2,603.1 A2.3,2.3 0 0 1 848.1,607.1 Z" fill="#c6cad0" stroke="#111" stroke-width="1.2" stroke-linejoin="round" />
<circle cx="844.2" cy="605.9" r="2.3" fill="none" stroke="#111" stroke-width="1.0"/>
<polygon points="895.8,618.8 905.8,614.8 914.8,620.8 914.8,630.8 904.8,626.8 895.8,624.8" fill="#c6cad0" stroke="#222" stroke-width="1.0" stroke-linejoin="round" />
<path d="M919.7,617 A2.3,2.3 0 0 1 916.7,619.8 A2.3,2.3 0 0 1 912.8,618.6 A2.3,2.3 0 0 1 911.9,614.6 A2.3,2.3 0 0 1 914.9,611.8 A2.3,2.3 0 0 1 918.8,613.1 A2.3,2.3 0 0 1 919.7,617 Z" fill="#c6cad0" stroke="#111" stroke-width="1.2" stroke-linejoin="round" />
<circle cx="915.8" cy="615.8" r="2.3" fill="none" stroke="#111" stroke-width="1.0"/>
<line x1="898.8" y1="631.8" x2="898.8" y2="641.8" stroke="#c6cad0" stroke-width="2.4" stroke-linecap="butt"/>
<ellipse cx="898.8" cy="642.8" rx="3.5" ry="1.8" fill="#c6cad0" stroke="#222" stroke-width="0.8"/>
<path d="M893.7,633 A2.3,2.3 0 0 1 890.7,635.8 A2.3,2.3 0 0 1 886.8,634.6 A2.3,2.3 0 0 1 885.9,630.6 A2.3,2.3 0 0 1 888.9,627.8 A2.3,2.3 0 0 1 892.8,629.1 A2.3,2.3 0 0 1 893.7,633 Z" fill="#c6cad0" stroke="#111" stroke-width="1.2" stroke-linejoin="round" />
<circle cx="889.8" cy="631.8" r="2.3" fill="none" stroke="#111" stroke-width="1.0"/>
<polygon points="941.4,644.8 951.4,640.8 960.4,646.8 960.4,656.8 950.4,652.8 941.4,650.8" fill="#c6cad0" stroke="#222" stroke-width="1.0" stroke-linejoin="round" />
<path d="M965.3,643 A2.3,2.3 0 0 1 962.3,645.7 A2.3,2.3 0 0 1 958.4,644.5 A2.3,2.3 0 0 1 957.5,640.6 A2.3,2.3 0 0 1 960.5,637.8 A2.3,2.3 0 0 1 964.4,639 A2.3,2.3 0 0 1 965.3,643 Z" fill="#c6cad0" stroke="#111" stroke-width="1.2" stroke-linejoin="round" />
<circle cx="961.4" cy="641.8" r="2.3" fill="none" stroke="#111" stroke-width="1.0"/>
<line x1="944.4" y1="657.8" x2="944.4" y2="667.8" stroke="#c6cad0" stroke-width="2.4" stroke-linecap="butt"/>
<ellipse cx="944.4" cy="668.8" rx="3.5" ry="1.8" fill="#c6cad0" stroke="#222" stroke-width="0.8"/>
<path d="M939.3,659 A2.3,2.3 0 0 1 936.3,661.7 A2.3,2.3 0 0 1 932.4,660.5 A2.3,2.3 0 0 1 931.5,656.6 A2.3,2.3 0 0 1 934.5,653.8 A2.3,2.3 0 0 1 938.4,655 A2.3,2.3 0 0 1 939.3,659 Z" fill="#c6cad0" stroke="#111" stroke-width="1.2" stroke-linejoin="round" />
<circle cx="935.4" cy="657.8" r="2.3" fill="none" stroke="#111" stroke-width="1.0"/>
<polygon points="987,670.7 997,666.7 1006,672.7 1006,682.7 996,678.7 987,676.7" fill="#c6cad0" stroke="#222" stroke-width="1.0" stroke-linejoin="round" />
<path d="M1010.9,668.9 A2.3,2.3 0 0 1 1007.9,671.7 A2.3,2.3 0 0 1 1004,670.5 A2.3,2.3 0 0 1 1003.1,666.5 A2.3,2.3 0 0 1 1006.1,663.7 A2.3,2.3 0 0 1 1010,664.9 A2.3,2.3 0 0 1 1010.9,668.9 Z" fill="#c6cad0" stroke="#111" stroke-width="1.2" stroke-linejoin="round" />
<circle cx="1007" cy="667.7" r="2.3" fill="none" stroke="#111" stroke-width="1.0"/>
<line x1="990" y1="683.7" x2="990" y2="693.7" stroke="#c6cad0" stroke-width="2.4" stroke-linecap="butt"/>
<ellipse cx="990" cy="694.7" rx="3.5" ry="1.8" fill="#c6cad0" stroke="#222" stroke-width="0.8"/>
<path d="M984.9,684.9 A2.3,2.3 0 0 1 981.9,687.7 A2.3,2.3 0 0 1 978,686.5 A2.3,2.3 0 0 1 977.1,682.5 A2.3,2.3 0 0 1 980.1,679.7 A2.3,2.3 0 0 1 984,680.9 A2.3,2.3 0 0 1 984.9,684.9 Z" fill="#c6cad0" stroke="#111" stroke-width="1.2" stroke-linejoin="round" />
<circle cx="981" cy="683.7" r="2.3" fill="none" stroke="#111" stroke-width="1.0"/>
<path d="M762,566 C759,579 765,584.6 760,599.2 C758,607.2 761.4,607.2 764.4,602.2" fill="none" stroke="#2e3fa0" stroke-width="2.1" stroke-linejoin="round" />
<path d="M778,558 C775,570.1 781,575.3 776,588.7 C774,596.7 779.4,596.7 782.4,591.7" fill="none" stroke="#2e3fa0" stroke-width="2.1" stroke-linejoin="round" />
<path d="M807.6,591.9 C804.6,605 810.6,610.7 805.6,625.4 C803.6,633.4 807,633.4 810,628.4" fill="none" stroke="#2e3fa0" stroke-width="2.1" stroke-linejoin="round" />
<path d="M823.6,583.9 C820.6,596.2 826.6,601.4 821.6,614.9 C819.6,622.9 825,622.9 828,617.9" fill="none" stroke="#2e3fa0" stroke-width="2.1" stroke-linejoin="round" />
<path d="M853.2,617.9 C850.2,631.1 856.2,636.7 851.2,651.6 C849.2,659.6 852.6,659.6 855.6,654.6" fill="none" stroke="#2e3fa0" stroke-width="2.1" stroke-linejoin="round" />
<path d="M869.2,609.9 C866.2,622.2 872.2,627.5 867.2,641.1 C865.2,649.1 870.6,649.1 873.6,644.1" fill="none" stroke="#2e3fa0" stroke-width="2.1" stroke-linejoin="round" />
<path d="M898.8,643.8 C895.8,657.1 901.8,662.8 896.8,677.8 C894.8,685.8 898.2,685.8 901.2,680.8" fill="none" stroke="#2e3fa0" stroke-width="2.1" stroke-linejoin="round" />
<path d="M914.8,635.8 C911.8,648.2 917.8,653.6 912.8,667.3 C910.8,675.3 916.2,675.3 919.2,670.3" fill="none" stroke="#2e3fa0" stroke-width="2.1" stroke-linejoin="round" />
<path d="M944.4,669.8 C941.4,683.1 947.4,688.9 942.4,704 C940.4,712 943.8,712 946.8,707" fill="none" stroke="#2e3fa0" stroke-width="2.1" stroke-linejoin="round" />
<path d="M960.4,661.8 C957.4,674.3 963.4,679.6 958.4,693.5 C956.4,701.5 961.8,701.5 964.8,696.5" fill="none" stroke="#2e3fa0" stroke-width="2.1" stroke-linejoin="round" />
<path d="M990,695.7 C987,709.2 993,715 988,730.2 C986,738.2 989.4,738.2 992.4,733.2" fill="none" stroke="#2e3fa0" stroke-width="2.1" stroke-linejoin="round" />
<path d="M1006,687.7 C1003,700.3 1009,705.7 1004,719.7 C1002,727.7 1007.4,727.7 1010.4,722.7" fill="none" stroke="#2e3fa0" stroke-width="2.1" stroke-linejoin="round" />
<path d="M773.1,709.7 L773.1,608.1 A8.8,8.4 0 0 1 790.7,608.1 L790.7,709.7 A8.8,3 0 0 1 773.1,709.7 Z" fill="#056432" stroke="#000" stroke-width="1.5" stroke-linejoin="round" />
<path d="M780.3,599.7 L780.3,597.2 L778.4,597.2 L778.4,595.2 L780.3,595.2 L780.3,593.7 L783.5,593.7 L783.5,595.2 L785.4,595.2 L785.4,597.2 L783.5,597.2 L783.5,599.7 Z" fill="#55585c"/>
<rect x="777.9" y="591.7" width="8" height="2" fill="#111"/>
<path d="M755.4,720.2 L755.4,618.6 A8.8,8.4 0 0 1 773,618.6 L773,720.2 A8.8,3 0 0 1 755.4,720.2 Z" fill="#056432" stroke="#000" stroke-width="1.5" stroke-linejoin="round" />
<path d="M762.6,610.2 L762.6,607.7 L760.7,607.7 L760.7,605.7 L762.6,605.7 L762.6,604.2 L765.8,604.2 L765.8,605.7 L767.7,605.7 L767.7,607.7 L765.8,607.7 L765.8,610.2 Z" fill="#55585c"/>
<rect x="760.2" y="602.2" width="8" height="2" fill="#111"/>
<path d="M818.7,735.9 L818.7,634.3 A8.8,8.4 0 0 1 836.3,634.3 L836.3,735.9 A8.8,3 0 0 1 818.7,735.9 Z" fill="#056432" stroke="#000" stroke-width="1.5" stroke-linejoin="round" />
<path d="M825.9,625.9 L825.9,623.4 L824,623.4 L824,621.4 L825.9,621.4 L825.9,619.9 L829.1,619.9 L829.1,621.4 L831,621.4 L831,623.4 L829.1,623.4 L829.1,625.9 Z" fill="#55585c"/>
<rect x="823.5" y="617.9" width="8" height="2" fill="#111"/>
<path d="M801,746.4 L801,644.8 A8.8,8.4 0 0 1 818.6,644.8 L818.6,746.4 A8.8,3 0 0 1 801,746.4 Z" fill="#056432" stroke="#000" stroke-width="1.5" stroke-linejoin="round" />
<path d="M808.2,636.4 L808.2,633.9 L806.3,633.9 L806.3,631.9 L808.2,631.9 L808.2,630.4 L811.4,630.4 L811.4,631.9 L813.3,631.9 L813.3,633.9 L811.4,633.9 L811.4,636.4 Z" fill="#55585c"/>
<rect x="805.8" y="628.4" width="8" height="2" fill="#111"/>
<path d="M864.3,762.1 L864.3,660.5 A8.8,8.4 0 0 1 881.9,660.5 L881.9,762.1 A8.8,3 0 0 1 864.3,762.1 Z" fill="#056432" stroke="#000" stroke-width="1.5" stroke-linejoin="round" />
<path d="M871.5,652.1 L871.5,649.6 L869.6,649.6 L869.6,647.6 L871.5,647.6 L871.5,646.1 L874.7,646.1 L874.7,647.6 L876.6,647.6 L876.6,649.6 L874.7,649.6 L874.7,652.1 Z" fill="#55585c"/>
<rect x="869.1" y="644.1" width="8" height="2" fill="#111"/>
<path d="M846.6,772.6 L846.6,671 A8.8,8.4 0 0 1 864.2,671 L864.2,772.6 A8.8,3 0 0 1 846.6,772.6 Z" fill="#056432" stroke="#000" stroke-width="1.5" stroke-linejoin="round" />
<path d="M853.8,662.6 L853.8,660.1 L851.9,660.1 L851.9,658.1 L853.8,658.1 L853.8,656.6 L857,656.6 L857,658.1 L858.9,658.1 L858.9,660.1 L857,660.1 L857,662.6 Z" fill="#55585c"/>
<rect x="851.4" y="654.6" width="8" height="2" fill="#111"/>
<path d="M909.9,788.3 L909.9,686.7 A8.8,8.4 0 0 1 927.5,686.7 L927.5,788.3 A8.8,3 0 0 1 909.9,788.3 Z" fill="#056432" stroke="#000" stroke-width="1.5" stroke-linejoin="round" />
<path d="M917.1,678.3 L917.1,675.8 L915.2,675.8 L915.2,673.8 L917.1,673.8 L917.1,672.3 L920.3,672.3 L920.3,673.8 L922.2,673.8 L922.2,675.8 L920.3,675.8 L920.3,678.3 Z" fill="#55585c"/>
<rect x="914.7" y="670.3" width="8" height="2" fill="#111"/>
<path d="M892.2,798.8 L892.2,697.2 A8.8,8.4 0 0 1 909.8,697.2 L909.8,798.8 A8.8,3 0 0 1 892.2,798.8 Z" fill="#056432" stroke="#000" stroke-width="1.5" stroke-linejoin="round" />
<path d="M899.4,688.8 L899.4,686.3 L897.5,686.3 L897.5,684.3 L899.4,684.3 L899.4,682.8 L902.6,682.8 L902.6,684.3 L904.5,684.3 L904.5,686.3 L902.6,686.3 L902.6,688.8 Z" fill="#55585c"/>
<rect x="897" y="680.8" width="8" height="2" fill="#111"/>
<path d="M955.5,814.5 L955.5,712.9 A8.8,8.4 0 0 1 973.1,712.9 L973.1,814.5 A8.8,3 0 0 1 955.5,814.5 Z" fill="#056432" stroke="#000" stroke-width="1.5" stroke-linejoin="round" />
<path d="M962.7,704.5 L962.7,702 L960.8,702 L960.8,700 L962.7,700 L962.7,698.5 L965.9,698.5 L965.9,700 L967.8,700 L967.8,702 L965.9,702 L965.9,704.5 Z" fill="#55585c"/>
<rect x="960.3" y="696.5" width="8" height="2" fill="#111"/>
<path d="M937.8,825 L937.8,723.4 A8.8,8.4 0 0 1 955.4,723.4 L955.4,825 A8.8,3 0 0 1 937.8,825 Z" fill="#056432" stroke="#000" stroke-width="1.5" stroke-linejoin="round" />
<path d="M945,715 L945,712.5 L943.1,712.5 L943.1,710.5 L945,710.5 L945,709 L948.2,709 L948.2,710.5 L950.1,710.5 L950.1,712.5 L948.2,712.5 L948.2,715 Z" fill="#55585c"/>
<rect x="942.6" y="707" width="8" height="2" fill="#111"/>
<path d="M1001.1,840.7 L1001.1,739.1 A8.8,8.4 0 0 1 1018.7,739.1 L1018.7,840.7 A8.8,3 0 0 1 1001.1,840.7 Z" fill="#056432" stroke="#000" stroke-width="1.5" stroke-linejoin="round" />
<path d="M1008.3,730.7 L1008.3,728.2 L1006.4,728.2 L1006.4,726.2 L1008.3,726.2 L1008.3,724.7 L1011.5,724.7 L1011.5,726.2 L1013.4,726.2 L1013.4,728.2 L1011.5,728.2 L1011.5,730.7 Z" fill="#55585c"/>
<rect x="1005.9" y="722.7" width="8" height="2" fill="#111"/>
<path d="M983.4,851.2 L983.4,749.6 A8.8,8.4 0 0 1 1001,749.6 L1001,851.2 A8.8,3 0 0 1 983.4,851.2 Z" fill="#056432" stroke="#000" stroke-width="1.5" stroke-linejoin="round" />
<path d="M990.6,741.2 L990.6,738.7 L988.7,738.7 L988.7,736.7 L990.6,736.7 L990.6,735.2 L993.8,735.2 L993.8,736.7 L995.7,736.7 L995.7,738.7 L993.8,738.7 L993.8,741.2 Z" fill="#55585c"/>
<rect x="988.2" y="733.2" width="8" height="2" fill="#111"/>
<path d="M476,656 L476,762 A23,9.5 0 0 0 522,762 L522,656 Z" fill="#acb3bb" stroke="#111" stroke-width="1.5" stroke-linejoin="round" />
<ellipse cx="499" cy="656" rx="23" ry="9.5" fill="#b4b9c1" stroke="#111" stroke-width="1.4"/>
<ellipse cx="499" cy="648" rx="22" ry="9.5" fill="none" stroke="#111" stroke-width="4.2"/>
<ellipse cx="499" cy="648" rx="22" ry="9.5" fill="none" stroke="#c3c7cd" stroke-width="2.2"/>
<line x1="485" y1="651" x2="485" y2="660" stroke="#111" stroke-width="1.2" stroke-linecap="butt"/>
<line x1="513" y1="651" x2="513" y2="660" stroke="#111" stroke-width="1.2" stroke-linecap="butt"/>
<rect x="497" y="643" width="4" height="13" rx="2" fill="#0a9a48" stroke="#064" stroke-width="0.6"/>
<path d="M474,685.8 L474,791.8 A23,9.5 0 0 0 520,791.8 L520,685.8 Z" fill="#acb3bb" stroke="#111" stroke-width="1.5" stroke-linejoin="round" />
<ellipse cx="497" cy="685.8" rx="23" ry="9.5" fill="#b4b9c1" stroke="#111" stroke-width="1.4"/>
<ellipse cx="497" cy="677.8" rx="22" ry="9.5" fill="none" stroke="#111" stroke-width="4.2"/>
<ellipse cx="497" cy="677.8" rx="22" ry="9.5" fill="none" stroke="#c3c7cd" stroke-width="2.2"/>
<line x1="483" y1="680.8" x2="483" y2="689.8" stroke="#111" stroke-width="1.2" stroke-linecap="butt"/>
<line x1="511" y1="680.8" x2="511" y2="689.8" stroke="#111" stroke-width="1.2" stroke-linecap="butt"/>
<rect x="495" y="672.8" width="4" height="13" rx="2" fill="#0a9a48" stroke="#064" stroke-width="0.6"/>
<path d="M517.4,675.5 L517.4,781.5 A23,9.5 0 0 0 563.4,781.5 L563.4,675.5 Z" fill="#acb3bb" stroke="#111" stroke-width="1.5" stroke-linejoin="round" />
<ellipse cx="540.4" cy="675.5" rx="23" ry="9.5" fill="#b4b9c1" stroke="#111" stroke-width="1.4"/>
<ellipse cx="540.4" cy="667.5" rx="22" ry="9.5" fill="none" stroke="#111" stroke-width="4.2"/>
<ellipse cx="540.4" cy="667.5" rx="22" ry="9.5" fill="none" stroke="#c3c7cd" stroke-width="2.2"/>
<line x1="526.4" y1="670.5" x2="526.4" y2="679.5" stroke="#111" stroke-width="1.2" stroke-linecap="butt"/>
<line x1="554.4" y1="670.5" x2="554.4" y2="679.5" stroke="#111" stroke-width="1.2" stroke-linecap="butt"/>
<rect x="538.4" y="662.5" width="4" height="13" rx="2" fill="#0a9a48" stroke="#064" stroke-width="0.6"/>
<path d="M516.3,705.3 L516.3,811.3 A23,9.5 0 0 0 562.3,811.3 L562.3,705.3 Z" fill="#acb3bb" stroke="#111" stroke-width="1.5" stroke-linejoin="round" />
<ellipse cx="539.3" cy="705.3" rx="23" ry="9.5" fill="#b4b9c1" stroke="#111" stroke-width="1.4"/>
<ellipse cx="539.3" cy="697.3" rx="22" ry="9.5" fill="none" stroke="#111" stroke-width="4.2"/>
<ellipse cx="539.3" cy="697.3" rx="22" ry="9.5" fill="none" stroke="#c3c7cd" stroke-width="2.2"/>
<line x1="525.3" y1="700.3" x2="525.3" y2="709.3" stroke="#111" stroke-width="1.2" stroke-linecap="butt"/>
<line x1="553.3" y1="700.3" x2="553.3" y2="709.3" stroke="#111" stroke-width="1.2" stroke-linecap="butt"/>
<rect x="537.3" y="692.3" width="4" height="13" rx="2" fill="#0a9a48" stroke="#064" stroke-width="0.6"/>
<path d="M557.5,693.8 L557.5,799.8 A23,9.5 0 0 0 603.5,799.8 L603.5,693.8 Z" fill="#acb3bb" stroke="#111" stroke-width="1.5" stroke-linejoin="round" />
<ellipse cx="580.5" cy="693.8" rx="23" ry="9.5" fill="#b4b9c1" stroke="#111" stroke-width="1.4"/>
<ellipse cx="580.5" cy="685.8" rx="22" ry="9.5" fill="none" stroke="#111" stroke-width="4.2"/>
<ellipse cx="580.5" cy="685.8" rx="22" ry="9.5" fill="none" stroke="#c3c7cd" stroke-width="2.2"/>
<line x1="566.5" y1="688.8" x2="566.5" y2="697.8" stroke="#111" stroke-width="1.2" stroke-linecap="butt"/>
<line x1="594.5" y1="688.8" x2="594.5" y2="697.8" stroke="#111" stroke-width="1.2" stroke-linecap="butt"/>
<rect x="578.5" y="680.8" width="4" height="13" rx="2" fill="#0a9a48" stroke="#064" stroke-width="0.6"/>
<path d="M556.4,722.5 L556.4,828.5 A23,9.5 0 0 0 602.4,828.5 L602.4,722.5 Z" fill="#acb3bb" stroke="#111" stroke-width="1.5" stroke-linejoin="round" />
<ellipse cx="579.4" cy="722.5" rx="23" ry="9.5" fill="#b4b9c1" stroke="#111" stroke-width="1.4"/>
<ellipse cx="579.4" cy="714.5" rx="22" ry="9.5" fill="none" stroke="#111" stroke-width="4.2"/>
<ellipse cx="579.4" cy="714.5" rx="22" ry="9.5" fill="none" stroke="#c3c7cd" stroke-width="2.2"/>
<line x1="565.4" y1="717.5" x2="565.4" y2="726.5" stroke="#111" stroke-width="1.2" stroke-linecap="butt"/>
<line x1="593.4" y1="717.5" x2="593.4" y2="726.5" stroke="#111" stroke-width="1.2" stroke-linecap="butt"/>
<rect x="577.4" y="709.5" width="4" height="13" rx="2" fill="#0a9a48" stroke="#064" stroke-width="0.6"/>
<path d="M601,714.5 L601,820.5 A23,9.5 0 0 0 647,820.5 L647,714.5 Z" fill="#acb3bb" stroke="#111" stroke-width="1.5" stroke-linejoin="round" />
<ellipse cx="624" cy="714.5" rx="23" ry="9.5" fill="#b4b9c1" stroke="#111" stroke-width="1.4"/>
<ellipse cx="624" cy="706.5" rx="22" ry="9.5" fill="none" stroke="#111" stroke-width="4.2"/>
<ellipse cx="624" cy="706.5" rx="22" ry="9.5" fill="none" stroke="#c3c7cd" stroke-width="2.2"/>
<line x1="610" y1="709.5" x2="610" y2="718.5" stroke="#111" stroke-width="1.2" stroke-linecap="butt"/>
<line x1="638" y1="709.5" x2="638" y2="718.5" stroke="#111" stroke-width="1.2" stroke-linecap="butt"/>
<rect x="622" y="701.5" width="4" height="13" rx="2" fill="#0a9a48" stroke="#064" stroke-width="0.6"/>
<path d="M596.4,744.2 L596.4,850.2 A23,9.5 0 0 0 642.4,850.2 L642.4,744.2 Z" fill="#acb3bb" stroke="#111" stroke-width="1.5" stroke-linejoin="round" />
<ellipse cx="619.4" cy="744.2" rx="23" ry="9.5" fill="#b4b9c1" stroke="#111" stroke-width="1.4"/>
<ellipse cx="619.4" cy="736.2" rx="22" ry="9.5" fill="none" stroke="#111" stroke-width="4.2"/>
<ellipse cx="619.4" cy="736.2" rx="22" ry="9.5" fill="none" stroke="#c3c7cd" stroke-width="2.2"/>
<line x1="605.4" y1="739.2" x2="605.4" y2="748.2" stroke="#111" stroke-width="1.2" stroke-linecap="butt"/>
<line x1="633.4" y1="739.2" x2="633.4" y2="748.2" stroke="#111" stroke-width="1.2" stroke-linecap="butt"/>
<rect x="617.4" y="731.2" width="4" height="13" rx="2" fill="#0a9a48" stroke="#064" stroke-width="0.6"/>
<path d="M641,732.8 L641,838.8 A23,9.5 0 0 0 687,838.8 L687,732.8 Z" fill="#acb3bb" stroke="#111" stroke-width="1.5" stroke-linejoin="round" />
<ellipse cx="664" cy="732.8" rx="23" ry="9.5" fill="#b4b9c1" stroke="#111" stroke-width="1.4"/>
<ellipse cx="664" cy="724.8" rx="22" ry="9.5" fill="none" stroke="#111" stroke-width="4.2"/>
<ellipse cx="664" cy="724.8" rx="22" ry="9.5" fill="none" stroke="#c3c7cd" stroke-width="2.2"/>
<line x1="650" y1="727.8" x2="650" y2="736.8" stroke="#111" stroke-width="1.2" stroke-linecap="butt"/>
<line x1="678" y1="727.8" x2="678" y2="736.8" stroke="#111" stroke-width="1.2" stroke-linecap="butt"/>
<rect x="662" y="719.8" width="4" height="13" rx="2" fill="#0a9a48" stroke="#064" stroke-width="0.6"/>
<path d="M636.5,760.2 L636.5,866.2 A23,9.5 0 0 0 682.5,866.2 L682.5,760.2 Z" fill="#acb3bb" stroke="#111" stroke-width="1.5" stroke-linejoin="round" />
<ellipse cx="659.5" cy="760.2" rx="23" ry="9.5" fill="#b4b9c1" stroke="#111" stroke-width="1.4"/>
<ellipse cx="659.5" cy="752.2" rx="22" ry="9.5" fill="none" stroke="#111" stroke-width="4.2"/>
<ellipse cx="659.5" cy="752.2" rx="22" ry="9.5" fill="none" stroke="#c3c7cd" stroke-width="2.2"/>
<line x1="645.5" y1="755.2" x2="645.5" y2="764.2" stroke="#111" stroke-width="1.2" stroke-linecap="butt"/>
<line x1="673.5" y1="755.2" x2="673.5" y2="764.2" stroke="#111" stroke-width="1.2" stroke-linecap="butt"/>
<rect x="657.5" y="747.2" width="4" height="13" rx="2" fill="#0a9a48" stroke="#064" stroke-width="0.6"/>
<path d="M684.6,751 L684.6,857 A23,9.5 0 0 0 730.6,857 L730.6,751 Z" fill="#acb3bb" stroke="#111" stroke-width="1.5" stroke-linejoin="round" />
<ellipse cx="707.6" cy="751" rx="23" ry="9.5" fill="#b4b9c1" stroke="#111" stroke-width="1.4"/>
<ellipse cx="707.6" cy="743" rx="22" ry="9.5" fill="none" stroke="#111" stroke-width="4.2"/>
<ellipse cx="707.6" cy="743" rx="22" ry="9.5" fill="none" stroke="#c3c7cd" stroke-width="2.2"/>
<line x1="693.6" y1="746" x2="693.6" y2="755" stroke="#111" stroke-width="1.2" stroke-linecap="butt"/>
<line x1="721.6" y1="746" x2="721.6" y2="755" stroke="#111" stroke-width="1.2" stroke-linecap="butt"/>
<rect x="705.6" y="738" width="4" height="13" rx="2" fill="#0a9a48" stroke="#064" stroke-width="0.6"/>
<path d="M680,779.7 L680,885.7 A23,9.5 0 0 0 726,885.7 L726,779.7 Z" fill="#acb3bb" stroke="#111" stroke-width="1.5" stroke-linejoin="round" />
<ellipse cx="703" cy="779.7" rx="23" ry="9.5" fill="#b4b9c1" stroke="#111" stroke-width="1.4"/>
<ellipse cx="703" cy="771.7" rx="22" ry="9.5" fill="none" stroke="#111" stroke-width="4.2"/>
<ellipse cx="703" cy="771.7" rx="22" ry="9.5" fill="none" stroke="#c3c7cd" stroke-width="2.2"/>
<line x1="689" y1="774.7" x2="689" y2="783.7" stroke="#111" stroke-width="1.2" stroke-linecap="butt"/>
<line x1="717" y1="774.7" x2="717" y2="783.7" stroke="#111" stroke-width="1.2" stroke-linecap="butt"/>
<rect x="701" y="766.7" width="4" height="13" rx="2" fill="#0a9a48" stroke="#064" stroke-width="0.6"/>
<polygon points="464.9,852 525.6,827.2 573,845.6 516.4,876.5" fill="#2e3a8c" stroke="#111" stroke-width="1.4" stroke-linejoin="round" />
<polygon points="464.9,852 516.4,876.5 516.4,886 464.9,861" fill="#263178" stroke="#111" stroke-width="1.3" stroke-linejoin="round" />
<polygon points="516.4,876.5 573,845.6 573,855 516.4,886" fill="#263178" stroke="#111" stroke-width="1.3" stroke-linejoin="round" />
<path d="M494.5,753.4 L494.5,859.4 A23,9.5 0 0 0 540.5,859.4 L540.5,753.4 Z" fill="#acb3bb" stroke="#111" stroke-width="1.5" stroke-linejoin="round" />
<ellipse cx="517.5" cy="753.4" rx="23" ry="9.5" fill="#b4b9c1" stroke="#111" stroke-width="1.4"/>
<ellipse cx="517.5" cy="745.4" rx="22" ry="9.5" fill="none" stroke="#111" stroke-width="4.2"/>
<ellipse cx="517.5" cy="745.4" rx="22" ry="9.5" fill="none" stroke="#c3c7cd" stroke-width="2.2"/>
<line x1="503.5" y1="748.4" x2="503.5" y2="757.4" stroke="#111" stroke-width="1.2" stroke-linecap="butt"/>
<line x1="531.5" y1="748.4" x2="531.5" y2="757.4" stroke="#111" stroke-width="1.2" stroke-linecap="butt"/>
<rect x="515.5" y="740.4" width="4" height="13" rx="2" fill="#0a9a48" stroke="#064" stroke-width="0.6"/>
<polygon points="320.6,691 326,688 331,691 331,821.5 320.6,818" fill="#acb3bb" stroke="#111" stroke-width="1.3" stroke-linejoin="round" />
<polygon points="349,680 381,664 394,670 394,708 362,724 349,718" fill="#acb3bb" stroke="#111" stroke-width="1.4" stroke-linejoin="round" />
<line x1="362" y1="686" x2="362" y2="724" stroke="#111" stroke-width="1.2" stroke-linecap="butt"/>
<line x1="349" y1="680" x2="362" y2="686" stroke="#111" stroke-width="1.2" stroke-linecap="butt"/>
<line x1="362" y1="686" x2="394" y2="670" stroke="#111" stroke-width="1.2" stroke-linecap="butt"/>
<circle cx="368" cy="702" r="2.6" fill="#d9302c" stroke="#111" stroke-width="0.8"/>
<circle cx="383" cy="694" r="2.6" fill="#d9302c" stroke="#111" stroke-width="0.8"/>
<circle cx="376" cy="712" r="2.6" fill="#d9302c" stroke="#111" stroke-width="0.8"/>
<circle cx="387" cy="706" r="2.6" fill="#d9302c" stroke="#111" stroke-width="0.8"/>
<path d="M336.6,748 L336.6,700" fill="none" stroke="#111" stroke-width="4.6" stroke-linejoin="round" />
<path d="M336.6,748 L336.6,700" fill="none" stroke="#f7e332" stroke-width="2.6" stroke-linejoin="round" />
<path d="M352,746 L352,712 C352,696 368,696 368,712 L368,733" fill="none" stroke="#111" stroke-width="4.6" stroke-linejoin="round" />
<path d="M352,746 L352,712 C352,696 368,696 368,712 L368,733" fill="none" stroke="#f7e332" stroke-width="2.6" stroke-linejoin="round" />
<path d="M386,755 L386,730 C386,714 402,714 402,730 L402,752" fill="none" stroke="#111" stroke-width="4.6" stroke-linejoin="round" />
<path d="M386,755 L386,730 C386,714 402,714 402,730 L402,752" fill="none" stroke="#f7e332" stroke-width="2.6" stroke-linejoin="round" />
<path d="M337,748 L337,742 L401,774" fill="none" stroke="#111" stroke-width="4.6" stroke-linejoin="round" />
<path d="M337,748 L337,742 L401,774" fill="none" stroke="#f7e332" stroke-width="2.6" stroke-linejoin="round" />
<polygon points="331,745.5 403,781.4 403,789.5 331,753" fill="#acb3bb" stroke="#111" stroke-width="1.3" stroke-linejoin="round" />
<circle cx="337.8" cy="698.8" r="6" fill="#fff" stroke="#111" stroke-width="2"/>
<rect x="366.4" y="748" width="12.6" height="11.7" rx="3" fill="#fff" stroke="#111" stroke-width="1"/>
<path d="M395.1,758.5 A2.1,2.1 0 0 1 392.4,761 A2.1,2.1 0 0 1 388.9,759.9 A2.1,2.1 0 0 1 388.1,756.3 A2.1,2.1 0 0 1 390.8,753.8 A2.1,2.1 0 0 1 394.3,754.9 A2.1,2.1 0 0 1 395.1,758.5 Z" fill="#c6cad0" stroke="#111" stroke-width="1.2" stroke-linejoin="round" />
<circle cx="391.6" cy="757.4" r="2.1" fill="none" stroke="#111" stroke-width="1.0"/>
<polygon points="405.3,645 413,641 421.4,645 421.4,794 405.3,790" fill="#acb3bb" stroke="#111" stroke-width="1.3" stroke-linejoin="round" />
<path d="M420,707 L420,661" fill="none" stroke="#111" stroke-width="4.6" stroke-linejoin="round" />
<path d="M420,707 L420,661" fill="none" stroke="#f7e332" stroke-width="2.6" stroke-linejoin="round" />
<path d="M436,705 L436,668 C436,648 452,648 452,668 L452,690" fill="none" stroke="#111" stroke-width="4.6" stroke-linejoin="round" />
<path d="M436,705 L436,668 C436,648 452,648 452,668 L452,690" fill="none" stroke="#f7e332" stroke-width="2.6" stroke-linejoin="round" />
<path d="M471,716 L471,688 C471,668 487,668 487,688 L487,712" fill="none" stroke="#111" stroke-width="4.6" stroke-linejoin="round" />
<path d="M471,716 L471,688 C471,668 487,668 487,688 L487,712" fill="none" stroke="#f7e332" stroke-width="2.6" stroke-linejoin="round" />
<path d="M420,707 L420,700 L487,733" fill="none" stroke="#111" stroke-width="4.6" stroke-linejoin="round" />
<path d="M420,707 L420,700 L487,733" fill="none" stroke="#f7e332" stroke-width="2.6" stroke-linejoin="round" />
<polygon points="414.5,699 488.5,733.5 488.5,742 414.5,707.5" fill="#acb3bb" stroke="#111" stroke-width="1.3" stroke-linejoin="round" />
<circle cx="422.6" cy="650.3" r="6" fill="#fff" stroke="#111" stroke-width="2"/>
<rect x="451" y="700" width="12.6" height="13" rx="3" fill="#fff" stroke="#111" stroke-width="1"/>
<path d="M479.5,712.7 A2.1,2.1 0 0 1 476.8,715.2 A2.1,2.1 0 0 1 473.3,714.1 A2.1,2.1 0 0 1 472.5,710.5 A2.1,2.1 0 0 1 475.2,708 A2.1,2.1 0 0 1 478.7,709.1 A2.1,2.1 0 0 1 479.5,712.7 Z" fill="#c6cad0" stroke="#111" stroke-width="1.2" stroke-linejoin="round" />
<circle cx="476" cy="711.6" r="2.1" fill="none" stroke="#111" stroke-width="1.0"/>
<path d="M484,738 C488,748 478,752 480,758 C484,764 495,752 505,745 C510,742 515,742 518,744" fill="none" stroke="#2e3fa0" stroke-width="3" stroke-linejoin="round" />
<path d="M397,781 C401,790 395,793 398,798 C403,802 412,790 425,787 C430,786 433,787 435,789" fill="none" stroke="#2e3fa0" stroke-width="3" stroke-linejoin="round" />
<polyline points="238,704 432,811.3" fill="none" stroke="#000" stroke-width="5.800000000000001" stroke-linejoin="round" stroke-linecap="butt"/>
<polyline points="238,704 432,811.3" fill="none" stroke="#f4a173" stroke-width="3.2" stroke-linejoin="round" stroke-linecap="butt"/>
<polyline points="238,712.5 432,819.8" fill="none" stroke="#000" stroke-width="5.800000000000001" stroke-linejoin="round" stroke-linecap="butt"/>
<polyline points="238,712.5 432,819.8" fill="none" stroke="#f4a173" stroke-width="3.2" stroke-linejoin="round" stroke-linecap="butt"/>
<polyline points="238,721 432,828.3" fill="none" stroke="#000" stroke-width="5.800000000000001" stroke-linejoin="round" stroke-linecap="butt"/>
<polyline points="238,721 432,828.3" fill="none" stroke="#f4a173" stroke-width="3.2" stroke-linejoin="round" stroke-linecap="butt"/>
<polyline points="238,729.5 432,836.8" fill="none" stroke="#000" stroke-width="5.800000000000001" stroke-linejoin="round" stroke-linecap="butt"/>
<polyline points="238,729.5 432,836.8" fill="none" stroke="#f4a173" stroke-width="3.2" stroke-linejoin="round" stroke-linecap="butt"/>
<polyline points="238,738 432,845.3" fill="none" stroke="#000" stroke-width="5.800000000000001" stroke-linejoin="round" stroke-linecap="butt"/>
<polyline points="238,738 432,845.3" fill="none" stroke="#f4a173" stroke-width="3.2" stroke-linejoin="round" stroke-linecap="butt"/>
<path d="M412,795.7 L412,901.7 A23,9.5 0 0 0 458,901.7 L458,795.7 Z" fill="#acb3bb" stroke="#111" stroke-width="1.5" stroke-linejoin="round" />
<ellipse cx="435" cy="795.7" rx="23" ry="9.5" fill="#b4b9c1" stroke="#111" stroke-width="1.4"/>
<ellipse cx="435" cy="787.7" rx="22" ry="9.5" fill="none" stroke="#111" stroke-width="4.2"/>
<ellipse cx="435" cy="787.7" rx="22" ry="9.5" fill="none" stroke="#c3c7cd" stroke-width="2.2"/>
<line x1="421" y1="790.7" x2="421" y2="799.7" stroke="#111" stroke-width="1.2" stroke-linecap="butt"/>
<line x1="449" y1="790.7" x2="449" y2="799.7" stroke="#111" stroke-width="1.2" stroke-linecap="butt"/>
<rect x="433" y="782.7" width="4" height="13" rx="2" fill="#0a9a48" stroke="#064" stroke-width="0.6"/>
<polygon points="747.9,849.2 1637.9,333.5 1637.9,346.5 747.9,862.2" fill="#bcc1c9" stroke="#111" stroke-width="1.5" stroke-linejoin="round" />
<line x1="747.9" y1="855.2" x2="1637.9" y2="339.5" stroke="#111" stroke-width="1.2" stroke-linecap="butt"/>
<line x1="747.9" y1="858.7" x2="1637.9" y2="343" stroke="#111" stroke-width="1.2" stroke-linecap="butt"/>
<polygon points="768.9,850 1640.9,344.8 1640.9,367.8 768.9,873" fill="#bcc1c9" stroke="#111" stroke-width="1.5" stroke-linejoin="round" />
<polygon points="768.9,850 1640.9,344.8 1640.9,351.3 768.9,856.5" fill="#d6d9de" stroke="#111" stroke-width="1.1" stroke-linejoin="round" />
<line x1="768.9" y1="862" x2="1640.9" y2="356.8" stroke="#111" stroke-width="1.2" stroke-linecap="butt"/>
<line x1="768.9" y1="867" x2="1640.9" y2="361.8" stroke="#111" stroke-width="1.2" stroke-linecap="butt"/>
<polygon points="779,836.3 812.4,818.9 812.4,830.9 802.9,845.2 788.5,852.9 779.6,848.8" fill="#b1282e" stroke="#111" stroke-width="1.4" stroke-linejoin="round" />
<polygon points="872,782.4 905.4,765 905.4,777 895.9,791.3 881.5,799 872.6,794.9" fill="#b1282e" stroke="#111" stroke-width="1.4" stroke-linejoin="round" />
<polygon points="1068,668.8 1101.4,651.4 1101.4,663.4 1091.9,677.7 1077.5,685.4 1068.6,681.3" fill="#b1282e" stroke="#111" stroke-width="1.4" stroke-linejoin="round" />
<polygon points="1161,614.9 1194.4,597.5 1194.4,609.5 1184.9,623.8 1170.5,631.5 1161.6,627.4" fill="#b1282e" stroke="#111" stroke-width="1.4" stroke-linejoin="round" />
<polygon points="1303,532.7 1336.4,515.3 1336.4,527.3 1326.9,541.6 1312.5,549.3 1303.6,545.2" fill="#b1282e" stroke="#111" stroke-width="1.4" stroke-linejoin="round" />
<polygon points="1396,478.8 1429.4,461.4 1429.4,473.4 1419.9,487.7 1405.5,495.4 1396.6,491.3" fill="#b1282e" stroke="#111" stroke-width="1.4" stroke-linejoin="round" />
<polygon points="1505,415.6 1538.4,398.2 1538.4,410.2 1528.9,424.5 1514.5,432.2 1505.6,428.1" fill="#b1282e" stroke="#111" stroke-width="1.4" stroke-linejoin="round" />
<polygon points="1602,359.4 1635.4,342 1635.4,354 1625.9,368.3 1611.5,376 1602.6,371.9" fill="#b1282e" stroke="#111" stroke-width="1.4" stroke-linejoin="round" />
<polygon points="1557,402 1589,396 1578,411 1577,416 1569,416 1568,412" fill="#bcc1c9" stroke="#111" stroke-width="1.2" stroke-linejoin="round" />
<polygon points="1569,412 1577,410 1577,469.7 1569,471.7" fill="#bcc1c9" stroke="#111" stroke-width="1.3" stroke-linejoin="round" />
<line x1="1573.4" y1="412" x2="1573.4" y2="470.7" stroke="#111" stroke-width="1.0" stroke-linecap="butt"/>
<polygon points="1710.4,477.6 1717.4,473.6 1717.4,529.6 1710.4,533.6" fill="#bcc1c9" stroke="#111" stroke-width="1.3" stroke-linejoin="round" />
<polygon points="1579,413 1710.4,481.6 1710.4,513.6 1579,445" fill="#bcc1c9" stroke="#111" stroke-width="1.6" stroke-linejoin="round" />
<text x="0" y="0" font-family="Liberation Sans, sans-serif" font-size="22" fill="#1a1a1a" text-anchor="middle" dominant-baseline="central" textLength="49" lengthAdjust="spacingAndGlyphs" transform="translate(1644.7,464.3) rotate(27.6)">Argon</text>
<polygon points="1569,460.7 1878,637.4 1878,647.4 1569,470.7" fill="#bcc1c9" stroke="#000" stroke-width="1.3" stroke-linejoin="round" />
<line x1="1569" y1="466.2" x2="1878" y2="642.9" stroke="#000" stroke-width="1.3" stroke-linecap="butt"/>
<line x1="1569" y1="459.2" x2="1878" y2="635.9" stroke="#111" stroke-width="5.2" stroke-linecap="butt"/>
<line x1="1569" y1="459.2" x2="1878" y2="635.9" stroke="#f4a173" stroke-width="3.0" stroke-linecap="butt"/>
<polygon points="1559,453 1569,449 1578,455 1578,465 1568,461 1559,459" fill="#c6cad0" stroke="#222" stroke-width="1.0" stroke-linejoin="round" />
<path d="M1582.9,451.2 A2.3,2.3 0 0 1 1579.9,454 A2.3,2.3 0 0 1 1576,452.7 A2.3,2.3 0 0 1 1575.1,448.8 A2.3,2.3 0 0 1 1578.1,446 A2.3,2.3 0 0 1 1582,447.2 A2.3,2.3 0 0 1 1582.9,451.2 Z" fill="#c6cad0" stroke="#111" stroke-width="1.2" stroke-linejoin="round" />
<circle cx="1579" cy="450" r="2.3" fill="none" stroke="#111" stroke-width="1.0"/>
<line x1="1562" y1="466" x2="1562" y2="476" stroke="#c6cad0" stroke-width="2.4" stroke-linecap="butt"/>
<ellipse cx="1562" cy="477" rx="3.5" ry="1.8" fill="#c6cad0" stroke="#222" stroke-width="0.8"/>
<path d="M1556.9,467.2 A2.3,2.3 0 0 1 1553.9,470 A2.3,2.3 0 0 1 1550,468.7 A2.3,2.3 0 0 1 1549.1,464.8 A2.3,2.3 0 0 1 1552.1,462 A2.3,2.3 0 0 1 1556,463.2 A2.3,2.3 0 0 1 1556.9,467.2 Z" fill="#c6cad0" stroke="#111" stroke-width="1.2" stroke-linejoin="round" />
<circle cx="1553" cy="466" r="2.3" fill="none" stroke="#111" stroke-width="1.0"/>
<polygon points="1591,471.3 1601,467.3 1610,473.3 1610,483.3 1600,479.3 1591,477.3" fill="#c6cad0" stroke="#222" stroke-width="1.0" stroke-linejoin="round" />
<path d="M1614.9,469.5 A2.3,2.3 0 0 1 1611.9,472.3 A2.3,2.3 0 0 1 1608,471.1 A2.3,2.3 0 0 1 1607.1,467.1 A2.3,2.3 0 0 1 1610.1,464.3 A2.3,2.3 0 0 1 1614,465.5 A2.3,2.3 0 0 1 1614.9,469.5 Z" fill="#c6cad0" stroke="#111" stroke-width="1.2" stroke-linejoin="round" />
<circle cx="1611" cy="468.3" r="2.3" fill="none" stroke="#111" stroke-width="1.0"/>
<line x1="1594" y1="484.3" x2="1594" y2="494.3" stroke="#c6cad0" stroke-width="2.4" stroke-linecap="butt"/>
<ellipse cx="1594" cy="495.3" rx="3.5" ry="1.8" fill="#c6cad0" stroke="#222" stroke-width="0.8"/>
<path d="M1588.9,485.5 A2.3,2.3 0 0 1 1585.9,488.3 A2.3,2.3 0 0 1 1582,487.1 A2.3,2.3 0 0 1 1581.1,483.1 A2.3,2.3 0 0 1 1584.1,480.3 A2.3,2.3 0 0 1 1588,481.5 A2.3,2.3 0 0 1 1588.9,485.5 Z" fill="#c6cad0" stroke="#111" stroke-width="1.2" stroke-linejoin="round" />
<circle cx="1585" cy="484.3" r="2.3" fill="none" stroke="#111" stroke-width="1.0"/>
<polygon points="1623,489.6 1633,485.6 1642,491.6 1642,501.6 1632,497.6 1623,495.6" fill="#c6cad0" stroke="#222" stroke-width="1.0" stroke-linejoin="round" />
<path d="M1646.9,487.8 A2.3,2.3 0 0 1 1643.9,490.6 A2.3,2.3 0 0 1 1640,489.4 A2.3,2.3 0 0 1 1639.1,485.4 A2.3,2.3 0 0 1 1642.1,482.6 A2.3,2.3 0 0 1 1646,483.8 A2.3,2.3 0 0 1 1646.9,487.8 Z" fill="#c6cad0" stroke="#111" stroke-width="1.2" stroke-linejoin="round" />
<circle cx="1643" cy="486.6" r="2.3" fill="none" stroke="#111" stroke-width="1.0"/>
<line x1="1626" y1="502.6" x2="1626" y2="512.6" stroke="#c6cad0" stroke-width="2.4" stroke-linecap="butt"/>
<ellipse cx="1626" cy="513.6" rx="3.5" ry="1.8" fill="#c6cad0" stroke="#222" stroke-width="0.8"/>
<path d="M1620.9,503.8 A2.3,2.3 0 0 1 1617.9,506.6 A2.3,2.3 0 0 1 1614,505.4 A2.3,2.3 0 0 1 1613.1,501.4 A2.3,2.3 0 0 1 1616.1,498.6 A2.3,2.3 0 0 1 1620,499.8 A2.3,2.3 0 0 1 1620.9,503.8 Z" fill="#c6cad0" stroke="#111" stroke-width="1.2" stroke-linejoin="round" />
<circle cx="1617" cy="502.6" r="2.3" fill="none" stroke="#111" stroke-width="1.0"/>
<polygon points="1655,507.9 1665,503.9 1674,509.9 1674,519.9 1664,515.9 1655,513.9" fill="#c6cad0" stroke="#222" stroke-width="1.0" stroke-linejoin="round" />
<path d="M1678.9,506.1 A2.3,2.3 0 0 1 1675.9,508.9 A2.3,2.3 0 0 1 1672,507.7 A2.3,2.3 0 0 1 1671.1,503.7 A2.3,2.3 0 0 1 1674.1,500.9 A2.3,2.3 0 0 1 1678,502.1 A2.3,2.3 0 0 1 1678.9,506.1 Z" fill="#c6cad0" stroke="#111" stroke-width="1.2" stroke-linejoin="round" />
<circle cx="1675" cy="504.9" r="2.3" fill="none" stroke="#111" stroke-width="1.0"/>
<line x1="1658" y1="520.9" x2="1658" y2="530.9" stroke="#c6cad0" stroke-width="2.4" stroke-linecap="butt"/>
<ellipse cx="1658" cy="531.9" rx="3.5" ry="1.8" fill="#c6cad0" stroke="#222" stroke-width="0.8"/>
<path d="M1652.9,522.1 A2.3,2.3 0 0 1 1649.9,524.9 A2.3,2.3 0 0 1 1646,523.7 A2.3,2.3 0 0 1 1645.1,519.7 A2.3,2.3 0 0 1 1648.1,516.9 A2.3,2.3 0 0 1 1652,518.1 A2.3,2.3 0 0 1 1652.9,522.1 Z" fill="#c6cad0" stroke="#111" stroke-width="1.2" stroke-linejoin="round" />
<circle cx="1649" cy="520.9" r="2.3" fill="none" stroke="#111" stroke-width="1.0"/>
<polygon points="1687,526.2 1697,522.2 1706,528.2 1706,538.2 1696,534.2 1687,532.2" fill="#c6cad0" stroke="#222" stroke-width="1.0" stroke-linejoin="round" />
<path d="M1710.9,524.4 A2.3,2.3 0 0 1 1707.9,527.2 A2.3,2.3 0 0 1 1704,526 A2.3,2.3 0 0 1 1703.1,522 A2.3,2.3 0 0 1 1706.1,519.2 A2.3,2.3 0 0 1 1710,520.4 A2.3,2.3 0 0 1 1710.9,524.4 Z" fill="#c6cad0" stroke="#111" stroke-width="1.2" stroke-linejoin="round" />
<circle cx="1707" cy="523.2" r="2.3" fill="none" stroke="#111" stroke-width="1.0"/>
<line x1="1690" y1="539.2" x2="1690" y2="549.2" stroke="#c6cad0" stroke-width="2.4" stroke-linecap="butt"/>
<ellipse cx="1690" cy="550.2" rx="3.5" ry="1.8" fill="#c6cad0" stroke="#222" stroke-width="0.8"/>
<path d="M1684.9,540.4 A2.3,2.3 0 0 1 1681.9,543.2 A2.3,2.3 0 0 1 1678,542 A2.3,2.3 0 0 1 1677.1,538 A2.3,2.3 0 0 1 1680.1,535.2 A2.3,2.3 0 0 1 1684,536.4 A2.3,2.3 0 0 1 1684.9,540.4 Z" fill="#c6cad0" stroke="#111" stroke-width="1.2" stroke-linejoin="round" />
<circle cx="1681" cy="539.2" r="2.3" fill="none" stroke="#111" stroke-width="1.0"/>
<polygon points="1719,544.5 1729,540.5 1738,546.5 1738,556.5 1728,552.5 1719,550.5" fill="#c6cad0" stroke="#222" stroke-width="1.0" stroke-linejoin="round" />
<path d="M1742.9,542.7 A2.3,2.3 0 0 1 1739.9,545.5 A2.3,2.3 0 0 1 1736,544.3 A2.3,2.3 0 0 1 1735.1,540.3 A2.3,2.3 0 0 1 1738.1,537.5 A2.3,2.3 0 0 1 1742,538.7 A2.3,2.3 0 0 1 1742.9,542.7 Z" fill="#c6cad0" stroke="#111" stroke-width="1.2" stroke-linejoin="round" />
<circle cx="1739" cy="541.5" r="2.3" fill="none" stroke="#111" stroke-width="1.0"/>
<line x1="1722" y1="557.5" x2="1722" y2="567.5" stroke="#c6cad0" stroke-width="2.4" stroke-linecap="butt"/>
<ellipse cx="1722" cy="568.5" rx="3.5" ry="1.8" fill="#c6cad0" stroke="#222" stroke-width="0.8"/>
<path d="M1716.9,558.7 A2.3,2.3 0 0 1 1713.9,561.5 A2.3,2.3 0 0 1 1710,560.3 A2.3,2.3 0 0 1 1709.1,556.3 A2.3,2.3 0 0 1 1712.1,553.5 A2.3,2.3 0 0 1 1716,554.7 A2.3,2.3 0 0 1 1716.9,558.7 Z" fill="#c6cad0" stroke="#111" stroke-width="1.2" stroke-linejoin="round" />
<circle cx="1713" cy="557.5" r="2.3" fill="none" stroke="#111" stroke-width="1.0"/>
<polygon points="1751,562.8 1761,558.8 1770,564.8 1770,574.8 1760,570.8 1751,568.8" fill="#c6cad0" stroke="#222" stroke-width="1.0" stroke-linejoin="round" />
<path d="M1774.9,561 A2.3,2.3 0 0 1 1771.9,563.8 A2.3,2.3 0 0 1 1768,562.6 A2.3,2.3 0 0 1 1767.1,558.6 A2.3,2.3 0 0 1 1770.1,555.8 A2.3,2.3 0 0 1 1774,557 A2.3,2.3 0 0 1 1774.9,561 Z" fill="#c6cad0" stroke="#111" stroke-width="1.2" stroke-linejoin="round" />
<circle cx="1771" cy="559.8" r="2.3" fill="none" stroke="#111" stroke-width="1.0"/>
<line x1="1754" y1="575.8" x2="1754" y2="585.8" stroke="#c6cad0" stroke-width="2.4" stroke-linecap="butt"/>
<ellipse cx="1754" cy="586.8" rx="3.5" ry="1.8" fill="#c6cad0" stroke="#222" stroke-width="0.8"/>
<path d="M1748.9,577 A2.3,2.3 0 0 1 1745.9,579.8 A2.3,2.3 0 0 1 1742,578.6 A2.3,2.3 0 0 1 1741.1,574.6 A2.3,2.3 0 0 1 1744.1,571.8 A2.3,2.3 0 0 1 1748,573 A2.3,2.3 0 0 1 1748.9,577 Z" fill="#c6cad0" stroke="#111" stroke-width="1.2" stroke-linejoin="round" />
<circle cx="1745" cy="575.8" r="2.3" fill="none" stroke="#111" stroke-width="1.0"/>
<polygon points="1783,581.1 1793,577.1 1802,583.1 1802,593.1 1792,589.1 1783,587.1" fill="#c6cad0" stroke="#222" stroke-width="1.0" stroke-linejoin="round" />
<path d="M1806.9,579.3 A2.3,2.3 0 0 1 1803.9,582.1 A2.3,2.3 0 0 1 1800,580.9 A2.3,2.3 0 0 1 1799.1,576.9 A2.3,2.3 0 0 1 1802.1,574.1 A2.3,2.3 0 0 1 1806,575.3 A2.3,2.3 0 0 1 1806.9,579.3 Z" fill="#c6cad0" stroke="#111" stroke-width="1.2" stroke-linejoin="round" />
<circle cx="1803" cy="578.1" r="2.3" fill="none" stroke="#111" stroke-width="1.0"/>
<line x1="1786" y1="594.1" x2="1786" y2="604.1" stroke="#c6cad0" stroke-width="2.4" stroke-linecap="butt"/>
<ellipse cx="1786" cy="605.1" rx="3.5" ry="1.8" fill="#c6cad0" stroke="#222" stroke-width="0.8"/>
<path d="M1780.9,595.3 A2.3,2.3 0 0 1 1777.9,598.1 A2.3,2.3 0 0 1 1774,596.9 A2.3,2.3 0 0 1 1773.1,592.9 A2.3,2.3 0 0 1 1776.1,590.1 A2.3,2.3 0 0 1 1780,591.3 A2.3,2.3 0 0 1 1780.9,595.3 Z" fill="#c6cad0" stroke="#111" stroke-width="1.2" stroke-linejoin="round" />
<circle cx="1777" cy="594.1" r="2.3" fill="none" stroke="#111" stroke-width="1.0"/>
<polygon points="1815,599.4 1825,595.4 1834,601.4 1834,611.4 1824,607.4 1815,605.4" fill="#c6cad0" stroke="#222" stroke-width="1.0" stroke-linejoin="round" />
<path d="M1838.9,597.6 A2.3,2.3 0 0 1 1835.9,600.4 A2.3,2.3 0 0 1 1832,599.2 A2.3,2.3 0 0 1 1831.1,595.2 A2.3,2.3 0 0 1 1834.1,592.4 A2.3,2.3 0 0 1 1838,593.7 A2.3,2.3 0 0 1 1838.9,597.6 Z" fill="#c6cad0" stroke="#111" stroke-width="1.2" stroke-linejoin="round" />
<circle cx="1835" cy="596.4" r="2.3" fill="none" stroke="#111" stroke-width="1.0"/>
<line x1="1818" y1="612.4" x2="1818" y2="622.4" stroke="#c6cad0" stroke-width="2.4" stroke-linecap="butt"/>
<ellipse cx="1818" cy="623.4" rx="3.5" ry="1.8" fill="#c6cad0" stroke="#222" stroke-width="0.8"/>
<path d="M1812.9,613.6 A2.3,2.3 0 0 1 1809.9,616.4 A2.3,2.3 0 0 1 1806,615.2 A2.3,2.3 0 0 1 1805.1,611.2 A2.3,2.3 0 0 1 1808.1,608.4 A2.3,2.3 0 0 1 1812,609.7 A2.3,2.3 0 0 1 1812.9,613.6 Z" fill="#c6cad0" stroke="#111" stroke-width="1.2" stroke-linejoin="round" />
<circle cx="1809" cy="612.4" r="2.3" fill="none" stroke="#111" stroke-width="1.0"/>
<polygon points="1847,617.7 1857,613.7 1866,619.7 1866,629.7 1856,625.7 1847,623.7" fill="#c6cad0" stroke="#222" stroke-width="1.0" stroke-linejoin="round" />
<path d="M1870.9,615.9 A2.3,2.3 0 0 1 1867.9,618.7 A2.3,2.3 0 0 1 1864,617.5 A2.3,2.3 0 0 1 1863.1,613.5 A2.3,2.3 0 0 1 1866.1,610.8 A2.3,2.3 0 0 1 1870,612 A2.3,2.3 0 0 1 1870.9,615.9 Z" fill="#c6cad0" stroke="#111" stroke-width="1.2" stroke-linejoin="round" />
<circle cx="1867" cy="614.7" r="2.3" fill="none" stroke="#111" stroke-width="1.0"/>
<line x1="1850" y1="630.7" x2="1850" y2="640.7" stroke="#c6cad0" stroke-width="2.4" stroke-linecap="butt"/>
<ellipse cx="1850" cy="641.7" rx="3.5" ry="1.8" fill="#c6cad0" stroke="#222" stroke-width="0.8"/>
<path d="M1844.9,631.9 A2.3,2.3 0 0 1 1841.9,634.7 A2.3,2.3 0 0 1 1838,633.5 A2.3,2.3 0 0 1 1837.1,629.5 A2.3,2.3 0 0 1 1840.1,626.8 A2.3,2.3 0 0 1 1844,628 A2.3,2.3 0 0 1 1844.9,631.9 Z" fill="#c6cad0" stroke="#111" stroke-width="1.2" stroke-linejoin="round" />
<circle cx="1841" cy="630.7" r="2.3" fill="none" stroke="#111" stroke-width="1.0"/>
<path d="M1562,478 C1559,491.5 1565,505 1561,520 C1560,527 1567,527 1570,521" fill="none" stroke="#2e3fa0" stroke-width="2.1" stroke-linejoin="round" />
<path d="M1578,470 C1575,481.7 1581,493.4 1577,506 C1576,513 1583,513 1586,507" fill="none" stroke="#2e3fa0" stroke-width="2.1" stroke-linejoin="round" />
<path d="M1594,496.3 C1591,514.3 1597,532.3 1593,553.3 C1592,560.3 1599,560.3 1602,554.3" fill="none" stroke="#2e3fa0" stroke-width="2.1" stroke-linejoin="round" />
<path d="M1610,488.3 C1607,504.5 1613,520.7 1609,539.3 C1608,546.3 1615,546.3 1618,540.3" fill="none" stroke="#2e3fa0" stroke-width="2.1" stroke-linejoin="round" />
<path d="M1626,514.6 C1623,528.1 1629,541.6 1625,556.6 C1624,563.6 1631,563.6 1634,557.6" fill="none" stroke="#2e3fa0" stroke-width="2.1" stroke-linejoin="round" />
<path d="M1642,506.6 C1639,518.3 1645,530 1641,542.6 C1640,549.6 1647,549.6 1650,543.6" fill="none" stroke="#2e3fa0" stroke-width="2.1" stroke-linejoin="round" />
<path d="M1658,532.9 C1655,550.9 1661,568.9 1657,589.9 C1656,596.9 1663,596.9 1666,590.9" fill="none" stroke="#2e3fa0" stroke-width="2.1" stroke-linejoin="round" />
<path d="M1674,524.9 C1671,541.1 1677,557.3 1673,575.9 C1672,582.9 1679,582.9 1682,576.9" fill="none" stroke="#2e3fa0" stroke-width="2.1" stroke-linejoin="round" />
<path d="M1690,551.2 C1687,564.7 1693,578.2 1689,593.2 C1688,600.2 1695,600.2 1698,594.2" fill="none" stroke="#2e3fa0" stroke-width="2.1" stroke-linejoin="round" />
<path d="M1706,543.2 C1703,554.9 1709,566.6 1705,579.2 C1704,586.2 1711,586.2 1714,580.2" fill="none" stroke="#2e3fa0" stroke-width="2.1" stroke-linejoin="round" />
<path d="M1722,569.5 C1719,587.5 1725,605.5 1721,626.5 C1720,633.5 1727,633.5 1730,627.5" fill="none" stroke="#2e3fa0" stroke-width="2.1" stroke-linejoin="round" />
<path d="M1738,561.5 C1735,577.7 1741,593.9 1737,612.5 C1736,619.5 1743,619.5 1746,613.5" fill="none" stroke="#2e3fa0" stroke-width="2.1" stroke-linejoin="round" />
<path d="M1754,587.8 C1751,601.3 1757,614.8 1753,629.8 C1752,636.8 1759,636.8 1762,630.8" fill="none" stroke="#2e3fa0" stroke-width="2.1" stroke-linejoin="round" />
<path d="M1770,579.8 C1767,591.5 1773,603.2 1769,615.8 C1768,622.8 1775,622.8 1778,616.8" fill="none" stroke="#2e3fa0" stroke-width="2.1" stroke-linejoin="round" />
<path d="M1786,606.1 C1783,624.1 1789,642.1 1785,663.1 C1784,670.1 1791,670.1 1794,664.1" fill="none" stroke="#2e3fa0" stroke-width="2.1" stroke-linejoin="round" />
<path d="M1802,598.1 C1799,614.3 1805,630.5 1801,649.1 C1800,656.1 1807,656.1 1810,650.1" fill="none" stroke="#2e3fa0" stroke-width="2.1" stroke-linejoin="round" />
<path d="M1818,624.4 C1815,637.9 1821,651.4 1817,666.4 C1816,673.4 1823,673.4 1826,667.4" fill="none" stroke="#2e3fa0" stroke-width="2.1" stroke-linejoin="round" />
<path d="M1834,616.4 C1831,628.1 1837,639.8 1833,652.4 C1832,659.4 1839,659.4 1842,653.4" fill="none" stroke="#2e3fa0" stroke-width="2.1" stroke-linejoin="round" />
<path d="M1850,642.7 C1847,660.7 1853,678.7 1849,699.7 C1848,706.7 1855,706.7 1858,700.7" fill="none" stroke="#2e3fa0" stroke-width="2.1" stroke-linejoin="round" />
<path d="M1866,634.7 C1863,650.9 1869,667.1 1865,685.7 C1864,692.7 1871,692.7 1874,686.7" fill="none" stroke="#2e3fa0" stroke-width="2.1" stroke-linejoin="round" />
<path d="M1595.3,640 L1595.3,538.4 A8.8,8.4 0 0 1 1612.9,538.4 L1612.9,640 A8.8,3 0 0 1 1595.3,640 Z" fill="#f5ec78" stroke="#000" stroke-width="1.5" stroke-linejoin="round" />
<path d="M1602.5,530 L1602.5,527.5 L1600.6,527.5 L1600.6,525.5 L1602.5,525.5 L1602.5,524 L1605.7,524 L1605.7,525.5 L1607.6,525.5 L1607.6,527.5 L1605.7,527.5 L1605.7,530 Z" fill="#55585c"/>
<rect x="1600.1" y="522" width="8" height="2" fill="#111"/>
<path d="M1577.5,650.5 L1577.5,548.9 A8.8,8.4 0 0 1 1595.1,548.9 L1595.1,650.5 A8.8,3 0 0 1 1577.5,650.5 Z" fill="#f5ec78" stroke="#000" stroke-width="1.5" stroke-linejoin="round" />
<path d="M1584.7,540.5 L1584.7,538 L1582.8,538 L1582.8,536 L1584.7,536 L1584.7,534.5 L1587.9,534.5 L1587.9,536 L1589.8,536 L1589.8,538 L1587.9,538 L1587.9,540.5 Z" fill="#55585c"/>
<rect x="1582.3" y="532.5" width="8" height="2" fill="#111"/>
<path d="M1626.8,657.5 L1626.8,555.9 A8.8,8.4 0 0 1 1644.4,555.9 L1644.4,657.5 A8.8,3 0 0 1 1626.8,657.5 Z" fill="#f5ec78" stroke="#000" stroke-width="1.5" stroke-linejoin="round" />
<path d="M1634,547.5 L1634,545 L1632.1,545 L1632.1,543 L1634,543 L1634,541.5 L1637.2,541.5 L1637.2,543 L1639.1,543 L1639.1,545 L1637.2,545 L1637.2,547.5 Z" fill="#55585c"/>
<rect x="1631.6" y="539.5" width="8" height="2" fill="#111"/>
<path d="M1609,668 L1609,566.4 A8.8,8.4 0 0 1 1626.6,566.4 L1626.6,668 A8.8,3 0 0 1 1609,668 Z" fill="#f5ec78" stroke="#000" stroke-width="1.5" stroke-linejoin="round" />
<path d="M1616.2,558 L1616.2,555.5 L1614.3,555.5 L1614.3,553.5 L1616.2,553.5 L1616.2,552 L1619.4,552 L1619.4,553.5 L1621.3,553.5 L1621.3,555.5 L1619.4,555.5 L1619.4,558 Z" fill="#55585c"/>
<rect x="1613.8" y="550" width="8" height="2" fill="#111"/>
<path d="M1542.8,670 L1542.8,568.4 A8.8,8.4 0 0 1 1560.4,568.4 L1560.4,670 A8.8,3 0 0 1 1542.8,670 Z" fill="#f5ec78" stroke="#000" stroke-width="1.5" stroke-linejoin="round" />
<path d="M1550,560 L1550,557.5 L1548.1,557.5 L1548.1,555.5 L1550,555.5 L1550,554 L1553.2,554 L1553.2,555.5 L1555.1,555.5 L1555.1,557.5 L1553.2,557.5 L1553.2,560 Z" fill="#55585c"/>
<rect x="1547.6" y="552" width="8" height="2" fill="#111"/>
<path d="M1658.3,675 L1658.3,573.4 A8.8,8.4 0 0 1 1675.9,573.4 L1675.9,675 A8.8,3 0 0 1 1658.3,675 Z" fill="#f5ec78" stroke="#000" stroke-width="1.5" stroke-linejoin="round" />
<path d="M1665.5,565 L1665.5,562.5 L1663.6,562.5 L1663.6,560.5 L1665.5,560.5 L1665.5,559 L1668.7,559 L1668.7,560.5 L1670.6,560.5 L1670.6,562.5 L1668.7,562.5 L1668.7,565 Z" fill="#55585c"/>
<rect x="1663.1" y="557" width="8" height="2" fill="#111"/>
<path d="M1525,680.5 L1525,578.9 A8.8,8.4 0 0 1 1542.6,578.9 L1542.6,680.5 A8.8,3 0 0 1 1525,680.5 Z" fill="#f5ec78" stroke="#000" stroke-width="1.5" stroke-linejoin="round" />
<path d="M1532.2,570.5 L1532.2,568 L1530.3,568 L1530.3,566 L1532.2,566 L1532.2,564.5 L1535.4,564.5 L1535.4,566 L1537.3,566 L1537.3,568 L1535.4,568 L1535.4,570.5 Z" fill="#55585c"/>
<rect x="1529.8" y="562.5" width="8" height="2" fill="#111"/>
<path d="M1640.5,685.5 L1640.5,583.9 A8.8,8.4 0 0 1 1658.1,583.9 L1658.1,685.5 A8.8,3 0 0 1 1640.5,685.5 Z" fill="#f5ec78" stroke="#000" stroke-width="1.5" stroke-linejoin="round" />
<path d="M1647.7,575.5 L1647.7,573 L1645.8,573 L1645.8,571 L1647.7,571 L1647.7,569.5 L1650.9,569.5 L1650.9,571 L1652.8,571 L1652.8,573 L1650.9,573 L1650.9,575.5 Z" fill="#55585c"/>
<rect x="1645.3" y="567.5" width="8" height="2" fill="#111"/>
<path d="M1574.3,687.5 L1574.3,585.9 A8.8,8.4 0 0 1 1591.9,585.9 L1591.9,687.5 A8.8,3 0 0 1 1574.3,687.5 Z" fill="#f5ec78" stroke="#000" stroke-width="1.5" stroke-linejoin="round" />
<path d="M1581.5,577.5 L1581.5,575 L1579.6,575 L1579.6,573 L1581.5,573 L1581.5,571.5 L1584.7,571.5 L1584.7,573 L1586.6,573 L1586.6,575 L1584.7,575 L1584.7,577.5 Z" fill="#55585c"/>
<rect x="1579.1" y="569.5" width="8" height="2" fill="#111"/>
<path d="M1689.8,692.5 L1689.8,590.9 A8.8,8.4 0 0 1 1707.4,590.9 L1707.4,692.5 A8.8,3 0 0 1 1689.8,692.5 Z" fill="#f5ec78" stroke="#000" stroke-width="1.5" stroke-linejoin="round" />
<path d="M1697,582.5 L1697,580 L1695.1,580 L1695.1,578 L1697,578 L1697,576.5 L1700.2,576.5 L1700.2,578 L1702.1,578 L1702.1,580 L1700.2,580 L1700.2,582.5 Z" fill="#55585c"/>
<rect x="1694.6" y="574.5" width="8" height="2" fill="#111"/>
<path d="M1556.5,698 L1556.5,596.4 A8.8,8.4 0 0 1 1574.1,596.4 L1574.1,698 A8.8,3 0 0 1 1556.5,698 Z" fill="#f5ec78" stroke="#000" stroke-width="1.5" stroke-linejoin="round" />
<path d="M1563.7,588 L1563.7,585.5 L1561.8,585.5 L1561.8,583.5 L1563.7,583.5 L1563.7,582 L1566.9,582 L1566.9,583.5 L1568.8,583.5 L1568.8,585.5 L1566.9,585.5 L1566.9,588 Z" fill="#55585c"/>
<rect x="1561.3" y="580" width="8" height="2" fill="#111"/>
<path d="M1490.3,700 L1490.3,598.4 A8.8,8.4 0 0 1 1507.9,598.4 L1507.9,700 A8.8,3 0 0 1 1490.3,700 Z" fill="#9a3492" stroke="#000" stroke-width="1.5" stroke-linejoin="round" />
<path d="M1497.5,590 L1497.5,587.5 L1495.6,587.5 L1495.6,585.5 L1497.5,585.5 L1497.5,584 L1500.7,584 L1500.7,585.5 L1502.6,585.5 L1502.6,587.5 L1500.7,587.5 L1500.7,590 Z" fill="#55585c"/>
<rect x="1495.1" y="582" width="8" height="2" fill="#111"/>
<path d="M1672,703 L1672,601.4 A8.8,8.4 0 0 1 1689.6,601.4 L1689.6,703 A8.8,3 0 0 1 1672,703 Z" fill="#f5ec78" stroke="#000" stroke-width="1.5" stroke-linejoin="round" />
<path d="M1679.2,593 L1679.2,590.5 L1677.3,590.5 L1677.3,588.5 L1679.2,588.5 L1679.2,587 L1682.4,587 L1682.4,588.5 L1684.3,588.5 L1684.3,590.5 L1682.4,590.5 L1682.4,593 Z" fill="#55585c"/>
<rect x="1676.8" y="585" width="8" height="2" fill="#111"/>
<path d="M1605.8,705 L1605.8,603.4 A8.8,8.4 0 0 1 1623.4,603.4 L1623.4,705 A8.8,3 0 0 1 1605.8,705 Z" fill="#f5ec78" stroke="#000" stroke-width="1.5" stroke-linejoin="round" />
<path d="M1613,595 L1613,592.5 L1611.1,592.5 L1611.1,590.5 L1613,590.5 L1613,589 L1616.2,589 L1616.2,590.5 L1618.1,590.5 L1618.1,592.5 L1616.2,592.5 L1616.2,595 Z" fill="#55585c"/>
<rect x="1610.6" y="587" width="8" height="2" fill="#111"/>
<path d="M1721.3,710 L1721.3,608.4 A8.8,8.4 0 0 1 1738.9,608.4 L1738.9,710 A8.8,3 0 0 1 1721.3,710 Z" fill="#f5ec78" stroke="#000" stroke-width="1.5" stroke-linejoin="round" />
<path d="M1728.5,600 L1728.5,597.5 L1726.6,597.5 L1726.6,595.5 L1728.5,595.5 L1728.5,594 L1731.7,594 L1731.7,595.5 L1733.6,595.5 L1733.6,597.5 L1731.7,597.5 L1731.7,600 Z" fill="#55585c"/>
<rect x="1726.1" y="592" width="8" height="2" fill="#111"/>
<path d="M1472.5,710.5 L1472.5,608.9 A8.8,8.4 0 0 1 1490.1,608.9 L1490.1,710.5 A8.8,3 0 0 1 1472.5,710.5 Z" fill="#9a3492" stroke="#000" stroke-width="1.5" stroke-linejoin="round" />
<path d="M1479.7,600.5 L1479.7,598 L1477.8,598 L1477.8,596 L1479.7,596 L1479.7,594.5 L1482.9,594.5 L1482.9,596 L1484.8,596 L1484.8,598 L1482.9,598 L1482.9,600.5 Z" fill="#55585c"/>
<rect x="1477.3" y="592.5" width="8" height="2" fill="#111"/>
<path d="M1588,715.5 L1588,613.9 A8.8,8.4 0 0 1 1605.6,613.9 L1605.6,715.5 A8.8,3 0 0 1 1588,715.5 Z" fill="#f5ec78" stroke="#000" stroke-width="1.5" stroke-linejoin="round" />
<path d="M1595.2,605.5 L1595.2,603 L1593.3,603 L1593.3,601 L1595.2,601 L1595.2,599.5 L1598.4,599.5 L1598.4,601 L1600.3,601 L1600.3,603 L1598.4,603 L1598.4,605.5 Z" fill="#55585c"/>
<rect x="1592.8" y="597.5" width="8" height="2" fill="#111"/>
<path d="M1521.8,717.5 L1521.8,615.9 A8.8,8.4 0 0 1 1539.4,615.9 L1539.4,717.5 A8.8,3 0 0 1 1521.8,717.5 Z" fill="#9a3492" stroke="#000" stroke-width="1.5" stroke-linejoin="round" />
<path d="M1529,607.5 L1529,605 L1527.1,605 L1527.1,603 L1529,603 L1529,601.5 L1532.2,601.5 L1532.2,603 L1534.1,603 L1534.1,605 L1532.2,605 L1532.2,607.5 Z" fill="#55585c"/>
<rect x="1526.6" y="599.5" width="8" height="2" fill="#111"/>
<path d="M1703.5,720.5 L1703.5,618.9 A8.8,8.4 0 0 1 1721.1,618.9 L1721.1,720.5 A8.8,3 0 0 1 1703.5,720.5 Z" fill="#f5ec78" stroke="#000" stroke-width="1.5" stroke-linejoin="round" />
<path d="M1710.7,610.5 L1710.7,608 L1708.8,608 L1708.8,606 L1710.7,606 L1710.7,604.5 L1713.9,604.5 L1713.9,606 L1715.8,606 L1715.8,608 L1713.9,608 L1713.9,610.5 Z" fill="#55585c"/>
<rect x="1708.3" y="602.5" width="8" height="2" fill="#111"/>
<path d="M1637.3,722.5 L1637.3,620.9 A8.8,8.4 0 0 1 1654.9,620.9 L1654.9,722.5 A8.8,3 0 0 1 1637.3,722.5 Z" fill="#f5ec78" stroke="#000" stroke-width="1.5" stroke-linejoin="round" />
<path d="M1644.5,612.5 L1644.5,610 L1642.6,610 L1642.6,608 L1644.5,608 L1644.5,606.5 L1647.7,606.5 L1647.7,608 L1649.6,608 L1649.6,610 L1647.7,610 L1647.7,612.5 Z" fill="#55585c"/>
<rect x="1642.1" y="604.5" width="8" height="2" fill="#111"/>
<path d="M1752.8,727.5 L1752.8,625.9 A8.8,8.4 0 0 1 1770.4,625.9 L1770.4,727.5 A8.8,3 0 0 1 1752.8,727.5 Z" fill="#f5ec78" stroke="#000" stroke-width="1.5" stroke-linejoin="round" />
<path d="M1760,617.5 L1760,615 L1758.1,615 L1758.1,613 L1760,613 L1760,611.5 L1763.2,611.5 L1763.2,613 L1765.1,613 L1765.1,615 L1763.2,615 L1763.2,617.5 Z" fill="#55585c"/>
<rect x="1757.6" y="609.5" width="8" height="2" fill="#111"/>
<path d="M1504,728 L1504,626.4 A8.8,8.4 0 0 1 1521.6,626.4 L1521.6,728 A8.8,3 0 0 1 1504,728 Z" fill="#9a3492" stroke="#000" stroke-width="1.5" stroke-linejoin="round" />
<path d="M1511.2,618 L1511.2,615.5 L1509.3,615.5 L1509.3,613.5 L1511.2,613.5 L1511.2,612 L1514.4,612 L1514.4,613.5 L1516.3,613.5 L1516.3,615.5 L1514.4,615.5 L1514.4,618 Z" fill="#55585c"/>
<rect x="1508.8" y="610" width="8" height="2" fill="#111"/>
<path d="M1437.8,730 L1437.8,628.4 A8.8,8.4 0 0 1 1455.4,628.4 L1455.4,730 A8.8,3 0 0 1 1437.8,730 Z" fill="#9a3492" stroke="#000" stroke-width="1.5" stroke-linejoin="round" />
<path d="M1445,620 L1445,617.5 L1443.1,617.5 L1443.1,615.5 L1445,615.5 L1445,614 L1448.2,614 L1448.2,615.5 L1450.1,615.5 L1450.1,617.5 L1448.2,617.5 L1448.2,620 Z" fill="#55585c"/>
<rect x="1442.6" y="612" width="8" height="2" fill="#111"/>
<path d="M1619.5,733 L1619.5,631.4 A8.8,8.4 0 0 1 1637.1,631.4 L1637.1,733 A8.8,3 0 0 1 1619.5,733 Z" fill="#f5ec78" stroke="#000" stroke-width="1.5" stroke-linejoin="round" />
<path d="M1626.7,623 L1626.7,620.5 L1624.8,620.5 L1624.8,618.5 L1626.7,618.5 L1626.7,617 L1629.9,617 L1629.9,618.5 L1631.8,618.5 L1631.8,620.5 L1629.9,620.5 L1629.9,623 Z" fill="#55585c"/>
<rect x="1624.3" y="615" width="8" height="2" fill="#111"/>
<path d="M1553.3,735 L1553.3,633.4 A8.8,8.4 0 0 1 1570.9,633.4 L1570.9,735 A8.8,3 0 0 1 1553.3,735 Z" fill="#9a3492" stroke="#000" stroke-width="1.5" stroke-linejoin="round" />
<path d="M1560.5,625 L1560.5,622.5 L1558.6,622.5 L1558.6,620.5 L1560.5,620.5 L1560.5,619 L1563.7,619 L1563.7,620.5 L1565.6,620.5 L1565.6,622.5 L1563.7,622.5 L1563.7,625 Z" fill="#55585c"/>
<rect x="1558.1" y="617" width="8" height="2" fill="#111"/>
<path d="M1735,738 L1735,636.4 A8.8,8.4 0 0 1 1752.6,636.4 L1752.6,738 A8.8,3 0 0 1 1735,738 Z" fill="#f5ec78" stroke="#000" stroke-width="1.5" stroke-linejoin="round" />
<path d="M1742.2,628 L1742.2,625.5 L1740.3,625.5 L1740.3,623.5 L1742.2,623.5 L1742.2,622 L1745.4,622 L1745.4,623.5 L1747.3,623.5 L1747.3,625.5 L1745.4,625.5 L1745.4,628 Z" fill="#55585c"/>
<rect x="1739.8" y="620" width="8" height="2" fill="#111"/>
<path d="M1668.8,740 L1668.8,638.4 A8.8,8.4 0 0 1 1686.4,638.4 L1686.4,740 A8.8,3 0 0 1 1668.8,740 Z" fill="#f5ec78" stroke="#000" stroke-width="1.5" stroke-linejoin="round" />
<path d="M1676,630 L1676,627.5 L1674.1,627.5 L1674.1,625.5 L1676,625.5 L1676,624 L1679.2,624 L1679.2,625.5 L1681.1,625.5 L1681.1,627.5 L1679.2,627.5 L1679.2,630 Z" fill="#55585c"/>
<rect x="1673.6" y="622" width="8" height="2" fill="#111"/>
<path d="M1420,740.5 L1420,638.9 A8.8,8.4 0 0 1 1437.6,638.9 L1437.6,740.5 A8.8,3 0 0 1 1420,740.5 Z" fill="#9a3492" stroke="#000" stroke-width="1.5" stroke-linejoin="round" />
<path d="M1427.2,630.5 L1427.2,628 L1425.3,628 L1425.3,626 L1427.2,626 L1427.2,624.5 L1430.4,624.5 L1430.4,626 L1432.3,626 L1432.3,628 L1430.4,628 L1430.4,630.5 Z" fill="#55585c"/>
<rect x="1424.8" y="622.5" width="8" height="2" fill="#111"/>
<path d="M1784.3,745 L1784.3,643.4 A8.8,8.4 0 0 1 1801.9,643.4 L1801.9,745 A8.8,3 0 0 1 1784.3,745 Z" fill="#f5ec78" stroke="#000" stroke-width="1.5" stroke-linejoin="round" />
<path d="M1791.5,635 L1791.5,632.5 L1789.6,632.5 L1789.6,630.5 L1791.5,630.5 L1791.5,629 L1794.7,629 L1794.7,630.5 L1796.6,630.5 L1796.6,632.5 L1794.7,632.5 L1794.7,635 Z" fill="#55585c"/>
<rect x="1789.1" y="627" width="8" height="2" fill="#111"/>
<path d="M1535.5,745.5 L1535.5,643.9 A8.8,8.4 0 0 1 1553.1,643.9 L1553.1,745.5 A8.8,3 0 0 1 1535.5,745.5 Z" fill="#9a3492" stroke="#000" stroke-width="1.5" stroke-linejoin="round" />
<path d="M1542.7,635.5 L1542.7,633 L1540.8,633 L1540.8,631 L1542.7,631 L1542.7,629.5 L1545.9,629.5 L1545.9,631 L1547.8,631 L1547.8,633 L1545.9,633 L1545.9,635.5 Z" fill="#55585c"/>
<rect x="1540.3" y="627.5" width="8" height="2" fill="#111"/>
<path d="M1469.3,747.5 L1469.3,645.9 A8.8,8.4 0 0 1 1486.9,645.9 L1486.9,747.5 A8.8,3 0 0 1 1469.3,747.5 Z" fill="#9a3492" stroke="#000" stroke-width="1.5" stroke-linejoin="round" />
<path d="M1476.5,637.5 L1476.5,635 L1474.6,635 L1474.6,633 L1476.5,633 L1476.5,631.5 L1479.7,631.5 L1479.7,633 L1481.6,633 L1481.6,635 L1479.7,635 L1479.7,637.5 Z" fill="#55585c"/>
<rect x="1474.1" y="629.5" width="8" height="2" fill="#111"/>
<path d="M1651,750.5 L1651,648.9 A8.8,8.4 0 0 1 1668.6,648.9 L1668.6,750.5 A8.8,3 0 0 1 1651,750.5 Z" fill="#f5ec78" stroke="#000" stroke-width="1.5" stroke-linejoin="round" />
<path d="M1658.2,640.5 L1658.2,638 L1656.3,638 L1656.3,636 L1658.2,636 L1658.2,634.5 L1661.4,634.5 L1661.4,636 L1663.3,636 L1663.3,638 L1661.4,638 L1661.4,640.5 Z" fill="#55585c"/>
<rect x="1655.8" y="632.5" width="8" height="2" fill="#111"/>
<path d="M1584.8,752.5 L1584.8,650.9 A8.8,8.4 0 0 1 1602.4,650.9 L1602.4,752.5 A8.8,3 0 0 1 1584.8,752.5 Z" fill="#9a3492" stroke="#000" stroke-width="1.5" stroke-linejoin="round" />
<path d="M1592,642.5 L1592,640 L1590.1,640 L1590.1,638 L1592,638 L1592,636.5 L1595.2,636.5 L1595.2,638 L1597.1,638 L1597.1,640 L1595.2,640 L1595.2,642.5 Z" fill="#55585c"/>
<rect x="1589.6" y="634.5" width="8" height="2" fill="#111"/>
<path d="M1766.5,755.5 L1766.5,653.9 A8.8,8.4 0 0 1 1784.1,653.9 L1784.1,755.5 A8.8,3 0 0 1 1766.5,755.5 Z" fill="#f5ec78" stroke="#000" stroke-width="1.5" stroke-linejoin="round" />
<path d="M1773.7,645.5 L1773.7,643 L1771.8,643 L1771.8,641 L1773.7,641 L1773.7,639.5 L1776.9,639.5 L1776.9,641 L1778.8,641 L1778.8,643 L1776.9,643 L1776.9,645.5 Z" fill="#55585c"/>
<rect x="1771.3" y="637.5" width="8" height="2" fill="#111"/>
<path d="M1700.3,757.5 L1700.3,655.9 A8.8,8.4 0 0 1 1717.9,655.9 L1717.9,757.5 A8.8,3 0 0 1 1700.3,757.5 Z" fill="#f5ec78" stroke="#000" stroke-width="1.5" stroke-linejoin="round" />
<path d="M1707.5,647.5 L1707.5,645 L1705.6,645 L1705.6,643 L1707.5,643 L1707.5,641.5 L1710.7,641.5 L1710.7,643 L1712.6,643 L1712.6,645 L1710.7,645 L1710.7,647.5 Z" fill="#55585c"/>
<rect x="1705.1" y="639.5" width="8" height="2" fill="#111"/>
<path d="M1451.5,758 L1451.5,656.4 A8.8,8.4 0 0 1 1469.1,656.4 L1469.1,758 A8.8,3 0 0 1 1451.5,758 Z" fill="#9a3492" stroke="#000" stroke-width="1.5" stroke-linejoin="round" />
<path d="M1458.7,648 L1458.7,645.5 L1456.8,645.5 L1456.8,643.5 L1458.7,643.5 L1458.7,642 L1461.9,642 L1461.9,643.5 L1463.8,643.5 L1463.8,645.5 L1461.9,645.5 L1461.9,648 Z" fill="#55585c"/>
<rect x="1456.3" y="640" width="8" height="2" fill="#111"/>
<path d="M1815.8,762.5 L1815.8,660.9 A8.8,8.4 0 0 1 1833.4,660.9 L1833.4,762.5 A8.8,3 0 0 1 1815.8,762.5 Z" fill="#f5ec78" stroke="#000" stroke-width="1.5" stroke-linejoin="round" />
<path d="M1823,652.5 L1823,650 L1821.1,650 L1821.1,648 L1823,648 L1823,646.5 L1826.2,646.5 L1826.2,648 L1828.1,648 L1828.1,650 L1826.2,650 L1826.2,652.5 Z" fill="#55585c"/>
<rect x="1820.6" y="644.5" width="8" height="2" fill="#111"/>
<path d="M1567,763 L1567,661.4 A8.8,8.4 0 0 1 1584.6,661.4 L1584.6,763 A8.8,3 0 0 1 1567,763 Z" fill="#9a3492" stroke="#000" stroke-width="1.5" stroke-linejoin="round" />
<path d="M1574.2,653 L1574.2,650.5 L1572.3,650.5 L1572.3,648.5 L1574.2,648.5 L1574.2,647 L1577.4,647 L1577.4,648.5 L1579.3,648.5 L1579.3,650.5 L1577.4,650.5 L1577.4,653 Z" fill="#55585c"/>
<rect x="1571.8" y="645" width="8" height="2" fill="#111"/>
<path d="M1500.8,765 L1500.8,663.4 A8.8,8.4 0 0 1 1518.4,663.4 L1518.4,765 A8.8,3 0 0 1 1500.8,765 Z" fill="#9a3492" stroke="#000" stroke-width="1.5" stroke-linejoin="round" />
<path d="M1508,655 L1508,652.5 L1506.1,652.5 L1506.1,650.5 L1508,650.5 L1508,649 L1511.2,649 L1511.2,650.5 L1513.1,650.5 L1513.1,652.5 L1511.2,652.5 L1511.2,655 Z" fill="#55585c"/>
<rect x="1505.6" y="647" width="8" height="2" fill="#111"/>
<path d="M1682.5,768 L1682.5,666.4 A8.8,8.4 0 0 1 1700.1,666.4 L1700.1,768 A8.8,3 0 0 1 1682.5,768 Z" fill="#f5ec78" stroke="#000" stroke-width="1.5" stroke-linejoin="round" />
<path d="M1689.7,658 L1689.7,655.5 L1687.8,655.5 L1687.8,653.5 L1689.7,653.5 L1689.7,652 L1692.9,652 L1692.9,653.5 L1694.8,653.5 L1694.8,655.5 L1692.9,655.5 L1692.9,658 Z" fill="#55585c"/>
<rect x="1687.3" y="650" width="8" height="2" fill="#111"/>
<path d="M1616.3,770 L1616.3,668.4 A8.8,8.4 0 0 1 1633.9,668.4 L1633.9,770 A8.8,3 0 0 1 1616.3,770 Z" fill="#9a3492" stroke="#000" stroke-width="1.5" stroke-linejoin="round" />
<path d="M1623.5,660 L1623.5,657.5 L1621.6,657.5 L1621.6,655.5 L1623.5,655.5 L1623.5,654 L1626.7,654 L1626.7,655.5 L1628.6,655.5 L1628.6,657.5 L1626.7,657.5 L1626.7,660 Z" fill="#55585c"/>
<rect x="1621.1" y="652" width="8" height="2" fill="#111"/>
<path d="M1798,773 L1798,671.4 A8.8,8.4 0 0 1 1815.6,671.4 L1815.6,773 A8.8,3 0 0 1 1798,773 Z" fill="#f5ec78" stroke="#000" stroke-width="1.5" stroke-linejoin="round" />
<path d="M1805.2,663 L1805.2,660.5 L1803.3,660.5 L1803.3,658.5 L1805.2,658.5 L1805.2,657 L1808.4,657 L1808.4,658.5 L1810.3,658.5 L1810.3,660.5 L1808.4,660.5 L1808.4,663 Z" fill="#55585c"/>
<rect x="1802.8" y="655" width="8" height="2" fill="#111"/>
<path d="M1731.8,775 L1731.8,673.4 A8.8,8.4 0 0 1 1749.4,673.4 L1749.4,775 A8.8,3 0 0 1 1731.8,775 Z" fill="#f5ec78" stroke="#000" stroke-width="1.5" stroke-linejoin="round" />
<path d="M1739,665 L1739,662.5 L1737.1,662.5 L1737.1,660.5 L1739,660.5 L1739,659 L1742.2,659 L1742.2,660.5 L1744.1,660.5 L1744.1,662.5 L1742.2,662.5 L1742.2,665 Z" fill="#55585c"/>
<rect x="1736.6" y="657" width="8" height="2" fill="#111"/>
<path d="M1483,775.5 L1483,673.9 A8.8,8.4 0 0 1 1500.6,673.9 L1500.6,775.5 A8.8,3 0 0 1 1483,775.5 Z" fill="#9a3492" stroke="#000" stroke-width="1.5" stroke-linejoin="round" />
<path d="M1490.2,665.5 L1490.2,663 L1488.3,663 L1488.3,661 L1490.2,661 L1490.2,659.5 L1493.4,659.5 L1493.4,661 L1495.3,661 L1495.3,663 L1493.4,663 L1493.4,665.5 Z" fill="#55585c"/>
<rect x="1487.8" y="657.5" width="8" height="2" fill="#111"/>
<path d="M1847.3,780 L1847.3,678.4 A8.8,8.4 0 0 1 1864.9,678.4 L1864.9,780 A8.8,3 0 0 1 1847.3,780 Z" fill="#f5ec78" stroke="#000" stroke-width="1.5" stroke-linejoin="round" />
<path d="M1854.5,670 L1854.5,667.5 L1852.6,667.5 L1852.6,665.5 L1854.5,665.5 L1854.5,664 L1857.7,664 L1857.7,665.5 L1859.6,665.5 L1859.6,667.5 L1857.7,667.5 L1857.7,670 Z" fill="#55585c"/>
<rect x="1852.1" y="662" width="8" height="2" fill="#111"/>
<path d="M1598.5,780.5 L1598.5,678.9 A8.8,8.4 0 0 1 1616.1,678.9 L1616.1,780.5 A8.8,3 0 0 1 1598.5,780.5 Z" fill="#9a3492" stroke="#000" stroke-width="1.5" stroke-linejoin="round" />
<path d="M1605.7,670.5 L1605.7,668 L1603.8,668 L1603.8,666 L1605.7,666 L1605.7,664.5 L1608.9,664.5 L1608.9,666 L1610.8,666 L1610.8,668 L1608.9,668 L1608.9,670.5 Z" fill="#55585c"/>
<rect x="1603.3" y="662.5" width="8" height="2" fill="#111"/>
<path d="M1532.3,782.5 L1532.3,680.9 A8.8,8.4 0 0 1 1549.9,680.9 L1549.9,782.5 A8.8,3 0 0 1 1532.3,782.5 Z" fill="#9a3492" stroke="#000" stroke-width="1.5" stroke-linejoin="round" />
<path d="M1539.5,672.5 L1539.5,670 L1537.6,670 L1537.6,668 L1539.5,668 L1539.5,666.5 L1542.7,666.5 L1542.7,668 L1544.6,668 L1544.6,670 L1542.7,670 L1542.7,672.5 Z" fill="#55585c"/>
<rect x="1537.1" y="664.5" width="8" height="2" fill="#111"/>
<path d="M1714,785.5 L1714,683.9 A8.8,8.4 0 0 1 1731.6,683.9 L1731.6,785.5 A8.8,3 0 0 1 1714,785.5 Z" fill="#f5ec78" stroke="#000" stroke-width="1.5" stroke-linejoin="round" />
<path d="M1721.2,675.5 L1721.2,673 L1719.3,673 L1719.3,671 L1721.2,671 L1721.2,669.5 L1724.4,669.5 L1724.4,671 L1726.3,671 L1726.3,673 L1724.4,673 L1724.4,675.5 Z" fill="#55585c"/>
<rect x="1718.8" y="667.5" width="8" height="2" fill="#111"/>
<path d="M1647.8,787.5 L1647.8,685.9 A8.8,8.4 0 0 1 1665.4,685.9 L1665.4,787.5 A8.8,3 0 0 1 1647.8,787.5 Z" fill="#9a3492" stroke="#000" stroke-width="1.5" stroke-linejoin="round" />
<path d="M1655,677.5 L1655,675 L1653.1,675 L1653.1,673 L1655,673 L1655,671.5 L1658.2,671.5 L1658.2,673 L1660.1,673 L1660.1,675 L1658.2,675 L1658.2,677.5 Z" fill="#55585c"/>
<rect x="1652.6" y="669.5" width="8" height="2" fill="#111"/>
<path d="M1829.5,790.5 L1829.5,688.9 A8.8,8.4 0 0 1 1847.1,688.9 L1847.1,790.5 A8.8,3 0 0 1 1829.5,790.5 Z" fill="#f5ec78" stroke="#000" stroke-width="1.5" stroke-linejoin="round" />
<path d="M1836.7,680.5 L1836.7,678 L1834.8,678 L1834.8,676 L1836.7,676 L1836.7,674.5 L1839.9,674.5 L1839.9,676 L1841.8,676 L1841.8,678 L1839.9,678 L1839.9,680.5 Z" fill="#55585c"/>
<rect x="1834.3" y="672.5" width="8" height="2" fill="#111"/>
<path d="M1763.3,792.5 L1763.3,690.9 A8.8,8.4 0 0 1 1780.9,690.9 L1780.9,792.5 A8.8,3 0 0 1 1763.3,792.5 Z" fill="#f5ec78" stroke="#000" stroke-width="1.5" stroke-linejoin="round" />
<path d="M1770.5,682.5 L1770.5,680 L1768.6,680 L1768.6,678 L1770.5,678 L1770.5,676.5 L1773.7,676.5 L1773.7,678 L1775.6,678 L1775.6,680 L1773.7,680 L1773.7,682.5 Z" fill="#55585c"/>
<rect x="1768.1" y="674.5" width="8" height="2" fill="#111"/>
<path d="M1514.5,793 L1514.5,691.4 A8.8,8.4 0 0 1 1532.1,691.4 L1532.1,793 A8.8,3 0 0 1 1514.5,793 Z" fill="#9a3492" stroke="#000" stroke-width="1.5" stroke-linejoin="round" />
<path d="M1521.7,683 L1521.7,680.5 L1519.8,680.5 L1519.8,678.5 L1521.7,678.5 L1521.7,677 L1524.9,677 L1524.9,678.5 L1526.8,678.5 L1526.8,680.5 L1524.9,680.5 L1524.9,683 Z" fill="#55585c"/>
<rect x="1519.3" y="675" width="8" height="2" fill="#111"/>
<path d="M1878.8,797.5 L1878.8,695.9 A8.8,8.4 0 0 1 1896.4,695.9 L1896.4,797.5 A8.8,3 0 0 1 1878.8,797.5 Z" fill="#f5ec78" stroke="#000" stroke-width="1.5" stroke-linejoin="round" />
<path d="M1886,687.5 L1886,685 L1884.1,685 L1884.1,683 L1886,683 L1886,681.5 L1889.2,681.5 L1889.2,683 L1891.1,683 L1891.1,685 L1889.2,685 L1889.2,687.5 Z" fill="#55585c"/>
<rect x="1883.6" y="679.5" width="8" height="2" fill="#111"/>
<path d="M1630,798 L1630,696.4 A8.8,8.4 0 0 1 1647.6,696.4 L1647.6,798 A8.8,3 0 0 1 1630,798 Z" fill="#9a3492" stroke="#000" stroke-width="1.5" stroke-linejoin="round" />
<path d="M1637.2,688 L1637.2,685.5 L1635.3,685.5 L1635.3,683.5 L1637.2,683.5 L1637.2,682 L1640.4,682 L1640.4,683.5 L1642.3,683.5 L1642.3,685.5 L1640.4,685.5 L1640.4,688 Z" fill="#55585c"/>
<rect x="1634.8" y="680" width="8" height="2" fill="#111"/>
<path d="M1563.8,800 L1563.8,698.4 A8.8,8.4 0 0 1 1581.4,698.4 L1581.4,800 A8.8,3 0 0 1 1563.8,800 Z" fill="#9a3492" stroke="#000" stroke-width="1.5" stroke-linejoin="round" />
<path d="M1571,690 L1571,687.5 L1569.1,687.5 L1569.1,685.5 L1571,685.5 L1571,684 L1574.2,684 L1574.2,685.5 L1576.1,685.5 L1576.1,687.5 L1574.2,687.5 L1574.2,690 Z" fill="#55585c"/>
<rect x="1568.6" y="682" width="8" height="2" fill="#111"/>
<path d="M1745.5,803 L1745.5,701.4 A8.8,8.4 0 0 1 1763.1,701.4 L1763.1,803 A8.8,3 0 0 1 1745.5,803 Z" fill="#f5ec78" stroke="#000" stroke-width="1.5" stroke-linejoin="round" />
<path d="M1752.7,693 L1752.7,690.5 L1750.8,690.5 L1750.8,688.5 L1752.7,688.5 L1752.7,687 L1755.9,687 L1755.9,688.5 L1757.8,688.5 L1757.8,690.5 L1755.9,690.5 L1755.9,693 Z" fill="#55585c"/>
<rect x="1750.3" y="685" width="8" height="2" fill="#111"/>
<path d="M1679.3,805 L1679.3,703.4 A8.8,8.4 0 0 1 1696.9,703.4 L1696.9,805 A8.8,3 0 0 1 1679.3,805 Z" fill="#9a3492" stroke="#000" stroke-width="1.5" stroke-linejoin="round" />
<path d="M1686.5,695 L1686.5,692.5 L1684.6,692.5 L1684.6,690.5 L1686.5,690.5 L1686.5,689 L1689.7,689 L1689.7,690.5 L1691.6,690.5 L1691.6,692.5 L1689.7,692.5 L1689.7,695 Z" fill="#55585c"/>
<rect x="1684.1" y="687" width="8" height="2" fill="#111"/>
<path d="M1861,808 L1861,706.4 A8.8,8.4 0 0 1 1878.6,706.4 L1878.6,808 A8.8,3 0 0 1 1861,808 Z" fill="#f5ec78" stroke="#000" stroke-width="1.5" stroke-linejoin="round" />
<path d="M1868.2,698 L1868.2,695.5 L1866.3,695.5 L1866.3,693.5 L1868.2,693.5 L1868.2,692 L1871.4,692 L1871.4,693.5 L1873.3,693.5 L1873.3,695.5 L1871.4,695.5 L1871.4,698 Z" fill="#55585c"/>
<rect x="1865.8" y="690" width="8" height="2" fill="#111"/>
<path d="M1794.8,810 L1794.8,708.4 A8.8,8.4 0 0 1 1812.4,708.4 L1812.4,810 A8.8,3 0 0 1 1794.8,810 Z" fill="#f5ec78" stroke="#000" stroke-width="1.5" stroke-linejoin="round" />
<path d="M1802,700 L1802,697.5 L1800.1,697.5 L1800.1,695.5 L1802,695.5 L1802,694 L1805.2,694 L1805.2,695.5 L1807.1,695.5 L1807.1,697.5 L1805.2,697.5 L1805.2,700 Z" fill="#55585c"/>
<rect x="1799.6" y="692" width="8" height="2" fill="#111"/>
<path d="M1546,810.5 L1546,708.9 A8.8,8.4 0 0 1 1563.6,708.9 L1563.6,810.5 A8.8,3 0 0 1 1546,810.5 Z" fill="#9a3492" stroke="#000" stroke-width="1.5" stroke-linejoin="round" />
<path d="M1553.2,700.5 L1553.2,698 L1551.3,698 L1551.3,696 L1553.2,696 L1553.2,694.5 L1556.4,694.5 L1556.4,696 L1558.3,696 L1558.3,698 L1556.4,698 L1556.4,700.5 Z" fill="#55585c"/>
<rect x="1550.8" y="692.5" width="8" height="2" fill="#111"/>
<path d="M1661.5,815.5 L1661.5,713.9 A8.8,8.4 0 0 1 1679.1,713.9 L1679.1,815.5 A8.8,3 0 0 1 1661.5,815.5 Z" fill="#9a3492" stroke="#000" stroke-width="1.5" stroke-linejoin="round" />
<path d="M1668.7,705.5 L1668.7,703 L1666.8,703 L1666.8,701 L1668.7,701 L1668.7,699.5 L1671.9,699.5 L1671.9,701 L1673.8,701 L1673.8,703 L1671.9,703 L1671.9,705.5 Z" fill="#55585c"/>
<rect x="1666.3" y="697.5" width="8" height="2" fill="#111"/>
<path d="M1595.3,817.5 L1595.3,715.9 A8.8,8.4 0 0 1 1612.9,715.9 L1612.9,817.5 A8.8,3 0 0 1 1595.3,817.5 Z" fill="#9a3492" stroke="#000" stroke-width="1.5" stroke-linejoin="round" />
<path d="M1602.5,707.5 L1602.5,705 L1600.6,705 L1600.6,703 L1602.5,703 L1602.5,701.5 L1605.7,701.5 L1605.7,703 L1607.6,703 L1607.6,705 L1605.7,705 L1605.7,707.5 Z" fill="#55585c"/>
<rect x="1600.1" y="699.5" width="8" height="2" fill="#111"/>
<path d="M1777,820.5 L1777,718.9 A8.8,8.4 0 0 1 1794.6,718.9 L1794.6,820.5 A8.8,3 0 0 1 1777,820.5 Z" fill="#f5ec78" stroke="#000" stroke-width="1.5" stroke-linejoin="round" />
<path d="M1784.2,710.5 L1784.2,708 L1782.3,708 L1782.3,706 L1784.2,706 L1784.2,704.5 L1787.4,704.5 L1787.4,706 L1789.3,706 L1789.3,708 L1787.4,708 L1787.4,710.5 Z" fill="#55585c"/>
<rect x="1781.8" y="702.5" width="8" height="2" fill="#111"/>
<path d="M1710.8,822.5 L1710.8,720.9 A8.8,8.4 0 0 1 1728.4,720.9 L1728.4,822.5 A8.8,3 0 0 1 1710.8,822.5 Z" fill="#9a3492" stroke="#000" stroke-width="1.5" stroke-linejoin="round" />
<path d="M1718,712.5 L1718,710 L1716.1,710 L1716.1,708 L1718,708 L1718,706.5 L1721.2,706.5 L1721.2,708 L1723.1,708 L1723.1,710 L1721.2,710 L1721.2,712.5 Z" fill="#55585c"/>
<rect x="1715.6" y="704.5" width="8" height="2" fill="#111"/>
<path d="M1826.3,827.5 L1826.3,725.9 A8.8,8.4 0 0 1 1843.9,725.9 L1843.9,827.5 A8.8,3 0 0 1 1826.3,827.5 Z" fill="#f5ec78" stroke="#000" stroke-width="1.5" stroke-linejoin="round" />
<path d="M1833.5,717.5 L1833.5,715 L1831.6,715 L1831.6,713 L1833.5,713 L1833.5,711.5 L1836.7,711.5 L1836.7,713 L1838.6,713 L1838.6,715 L1836.7,715 L1836.7,717.5 Z" fill="#55585c"/>
<rect x="1831.1" y="709.5" width="8" height="2" fill="#111"/>
<path d="M1577.5,828 L1577.5,726.4 A8.8,8.4 0 0 1 1595.1,726.4 L1595.1,828 A8.8,3 0 0 1 1577.5,828 Z" fill="#9a3492" stroke="#000" stroke-width="1.5" stroke-linejoin="round" />
<path d="M1584.7,718 L1584.7,715.5 L1582.8,715.5 L1582.8,713.5 L1584.7,713.5 L1584.7,712 L1587.9,712 L1587.9,713.5 L1589.8,713.5 L1589.8,715.5 L1587.9,715.5 L1587.9,718 Z" fill="#55585c"/>
<rect x="1582.3" y="710" width="8" height="2" fill="#111"/>
<path d="M1693,833 L1693,731.4 A8.8,8.4 0 0 1 1710.6,731.4 L1710.6,833 A8.8,3 0 0 1 1693,833 Z" fill="#9a3492" stroke="#000" stroke-width="1.5" stroke-linejoin="round" />
<path d="M1700.2,723 L1700.2,720.5 L1698.3,720.5 L1698.3,718.5 L1700.2,718.5 L1700.2,717 L1703.4,717 L1703.4,718.5 L1705.3,718.5 L1705.3,720.5 L1703.4,720.5 L1703.4,723 Z" fill="#55585c"/>
<rect x="1697.8" y="715" width="8" height="2" fill="#111"/>
<path d="M1626.8,835 L1626.8,733.4 A8.8,8.4 0 0 1 1644.4,733.4 L1644.4,835 A8.8,3 0 0 1 1626.8,835 Z" fill="#9a3492" stroke="#000" stroke-width="1.5" stroke-linejoin="round" />
<path d="M1634,725 L1634,722.5 L1632.1,722.5 L1632.1,720.5 L1634,720.5 L1634,719 L1637.2,719 L1637.2,720.5 L1639.1,720.5 L1639.1,722.5 L1637.2,722.5 L1637.2,725 Z" fill="#55585c"/>
<rect x="1631.6" y="717" width="8" height="2" fill="#111"/>
<path d="M1808.5,838 L1808.5,736.4 A8.8,8.4 0 0 1 1826.1,736.4 L1826.1,838 A8.8,3 0 0 1 1808.5,838 Z" fill="#f5ec78" stroke="#000" stroke-width="1.5" stroke-linejoin="round" />
<path d="M1815.7,728 L1815.7,725.5 L1813.8,725.5 L1813.8,723.5 L1815.7,723.5 L1815.7,722 L1818.9,722 L1818.9,723.5 L1820.8,723.5 L1820.8,725.5 L1818.9,725.5 L1818.9,728 Z" fill="#55585c"/>
<rect x="1813.3" y="720" width="8" height="2" fill="#111"/>
<path d="M1742.3,840 L1742.3,738.4 A8.8,8.4 0 0 1 1759.9,738.4 L1759.9,840 A8.8,3 0 0 1 1742.3,840 Z" fill="#9a3492" stroke="#000" stroke-width="1.5" stroke-linejoin="round" />
<path d="M1749.5,730 L1749.5,727.5 L1747.6,727.5 L1747.6,725.5 L1749.5,725.5 L1749.5,724 L1752.7,724 L1752.7,725.5 L1754.6,725.5 L1754.6,727.5 L1752.7,727.5 L1752.7,730 Z" fill="#55585c"/>
<rect x="1747.1" y="722" width="8" height="2" fill="#111"/>
<path d="M1609,845.5 L1609,743.9 A8.8,8.4 0 0 1 1626.6,743.9 L1626.6,845.5 A8.8,3 0 0 1 1609,845.5 Z" fill="#9a3492" stroke="#000" stroke-width="1.5" stroke-linejoin="round" />
<path d="M1616.2,735.5 L1616.2,733 L1614.3,733 L1614.3,731 L1616.2,731 L1616.2,729.5 L1619.4,729.5 L1619.4,731 L1621.3,731 L1621.3,733 L1619.4,733 L1619.4,735.5 Z" fill="#55585c"/>
<rect x="1613.8" y="727.5" width="8" height="2" fill="#111"/>
<path d="M1724.5,850.5 L1724.5,748.9 A8.8,8.4 0 0 1 1742.1,748.9 L1742.1,850.5 A8.8,3 0 0 1 1724.5,850.5 Z" fill="#9a3492" stroke="#000" stroke-width="1.5" stroke-linejoin="round" />
<path d="M1731.7,740.5 L1731.7,738 L1729.8,738 L1729.8,736 L1731.7,736 L1731.7,734.5 L1734.9,734.5 L1734.9,736 L1736.8,736 L1736.8,738 L1734.9,738 L1734.9,740.5 Z" fill="#55585c"/>
<rect x="1729.3" y="732.5" width="8" height="2" fill="#111"/>
<path d="M1658.3,852.5 L1658.3,750.9 A8.8,8.4 0 0 1 1675.9,750.9 L1675.9,852.5 A8.8,3 0 0 1 1658.3,852.5 Z" fill="#9a3492" stroke="#000" stroke-width="1.5" stroke-linejoin="round" />
<path d="M1665.5,742.5 L1665.5,740 L1663.6,740 L1663.6,738 L1665.5,738 L1665.5,736.5 L1668.7,736.5 L1668.7,738 L1670.6,738 L1670.6,740 L1668.7,740 L1668.7,742.5 Z" fill="#55585c"/>
<rect x="1663.1" y="734.5" width="8" height="2" fill="#111"/>
<path d="M1773.8,857.5 L1773.8,755.9 A8.8,8.4 0 0 1 1791.4,755.9 L1791.4,857.5 A8.8,3 0 0 1 1773.8,857.5 Z" fill="#9a3492" stroke="#000" stroke-width="1.5" stroke-linejoin="round" />
<path d="M1781,747.5 L1781,745 L1779.1,745 L1779.1,743 L1781,743 L1781,741.5 L1784.2,741.5 L1784.2,743 L1786.1,743 L1786.1,745 L1784.2,745 L1784.2,747.5 Z" fill="#55585c"/>
<rect x="1778.6" y="739.5" width="8" height="2" fill="#111"/>
<path d="M1640.5,863 L1640.5,761.4 A8.8,8.4 0 0 1 1658.1,761.4 L1658.1,863 A8.8,3 0 0 1 1640.5,863 Z" fill="#9a3492" stroke="#000" stroke-width="1.5" stroke-linejoin="round" />
<path d="M1647.7,753 L1647.7,750.5 L1645.8,750.5 L1645.8,748.5 L1647.7,748.5 L1647.7,747 L1650.9,747 L1650.9,748.5 L1652.8,748.5 L1652.8,750.5 L1650.9,750.5 L1650.9,753 Z" fill="#55585c"/>
<rect x="1645.3" y="745" width="8" height="2" fill="#111"/>
<path d="M1756,868 L1756,766.4 A8.8,8.4 0 0 1 1773.6,766.4 L1773.6,868 A8.8,3 0 0 1 1756,868 Z" fill="#9a3492" stroke="#000" stroke-width="1.5" stroke-linejoin="round" />
<path d="M1763.2,758 L1763.2,755.5 L1761.3,755.5 L1761.3,753.5 L1763.2,753.5 L1763.2,752 L1766.4,752 L1766.4,753.5 L1768.3,753.5 L1768.3,755.5 L1766.4,755.5 L1766.4,758 Z" fill="#55585c"/>
<rect x="1760.8" y="750" width="8" height="2" fill="#111"/>
<path d="M1689.8,870 L1689.8,768.4 A8.8,8.4 0 0 1 1707.4,768.4 L1707.4,870 A8.8,3 0 0 1 1689.8,870 Z" fill="#9a3492" stroke="#000" stroke-width="1.5" stroke-linejoin="round" />
<path d="M1697,760 L1697,757.5 L1695.1,757.5 L1695.1,755.5 L1697,755.5 L1697,754 L1700.2,754 L1700.2,755.5 L1702.1,755.5 L1702.1,757.5 L1700.2,757.5 L1700.2,760 Z" fill="#55585c"/>
<rect x="1694.6" y="752" width="8" height="2" fill="#111"/>
<path d="M1672,880.5 L1672,778.9 A8.8,8.4 0 0 1 1689.6,778.9 L1689.6,880.5 A8.8,3 0 0 1 1672,880.5 Z" fill="#9a3492" stroke="#000" stroke-width="1.5" stroke-linejoin="round" />
<path d="M1679.2,770.5 L1679.2,768 L1677.3,768 L1677.3,766 L1679.2,766 L1679.2,764.5 L1682.4,764.5 L1682.4,766 L1684.3,766 L1684.3,768 L1682.4,768 L1682.4,770.5 Z" fill="#55585c"/>
<rect x="1676.8" y="762.5" width="8" height="2" fill="#111"/>
<path d="M1721.3,887.5 L1721.3,785.9 A8.8,8.4 0 0 1 1738.9,785.9 L1738.9,887.5 A8.8,3 0 0 1 1721.3,887.5 Z" fill="#9a3492" stroke="#000" stroke-width="1.5" stroke-linejoin="round" />
<path d="M1728.5,777.5 L1728.5,775 L1726.6,775 L1726.6,773 L1728.5,773 L1728.5,771.5 L1731.7,771.5 L1731.7,773 L1733.6,773 L1733.6,775 L1731.7,775 L1731.7,777.5 Z" fill="#55585c"/>
<rect x="1726.1" y="769.5" width="8" height="2" fill="#111"/>
<path d="M1703.5,898 L1703.5,796.4 A8.8,8.4 0 0 1 1721.1,796.4 L1721.1,898 A8.8,3 0 0 1 1703.5,898 Z" fill="#9a3492" stroke="#000" stroke-width="1.5" stroke-linejoin="round" />
<path d="M1710.7,788 L1710.7,785.5 L1708.8,785.5 L1708.8,783.5 L1710.7,783.5 L1710.7,782 L1713.9,782 L1713.9,783.5 L1715.8,783.5 L1715.8,785.5 L1713.9,785.5 L1713.9,788 Z" fill="#55585c"/>
<rect x="1708.3" y="780" width="8" height="2" fill="#111"/>
<polygon points="1355,519 1387,513 1376,528 1375,533 1367,533 1366,529" fill="#bcc1c9" stroke="#111" stroke-width="1.2" stroke-linejoin="round" />
<polygon points="1367,529 1375,527 1375,591.8 1367,593.8" fill="#bcc1c9" stroke="#111" stroke-width="1.3" stroke-linejoin="round" />
<line x1="1371.4" y1="529" x2="1371.4" y2="592.8" stroke="#111" stroke-width="1.0" stroke-linecap="butt"/>
<polygon points="1506.3,597.1 1513.3,593.1 1513.3,646.1 1506.3,650.1" fill="#bcc1c9" stroke="#111" stroke-width="1.3" stroke-linejoin="round" />
<polygon points="1375.9,532.4 1506.3,601.1 1506.3,630.1 1375.9,561.4" fill="#bcc1c9" stroke="#111" stroke-width="1.6" stroke-linejoin="round" />
<text x="0" y="0" font-family="Liberation Sans, sans-serif" font-size="22" fill="#1a1a1a" text-anchor="middle" dominant-baseline="central" textLength="79" lengthAdjust="spacingAndGlyphs" transform="translate(1441.1,582.3) rotate(27.8)">Hydrogen</text>
<polygon points="1366,582.2 1675,758.3 1675,768.3 1366,592.2" fill="#bcc1c9" stroke="#000" stroke-width="1.3" stroke-linejoin="round" />
<line x1="1366" y1="587.7" x2="1675" y2="763.8" stroke="#000" stroke-width="1.3" stroke-linecap="butt"/>
<line x1="1366" y1="580.7" x2="1675" y2="756.8" stroke="#111" stroke-width="5.2" stroke-linecap="butt"/>
<line x1="1366" y1="580.7" x2="1675" y2="756.8" stroke="#f4a173" stroke-width="3.0" stroke-linecap="butt"/>
<polygon points="1355,573.9 1365,569.9 1374,575.9 1374,585.9 1364,581.9 1355,579.9" fill="#c6cad0" stroke="#222" stroke-width="1.0" stroke-linejoin="round" />
<path d="M1378.9,572.1 A2.3,2.3 0 0 1 1375.9,574.9 A2.3,2.3 0 0 1 1372,573.7 A2.3,2.3 0 0 1 1371.1,569.7 A2.3,2.3 0 0 1 1374.1,567 A2.3,2.3 0 0 1 1378,568.2 A2.3,2.3 0 0 1 1378.9,572.1 Z" fill="#c6cad0" stroke="#111" stroke-width="1.2" stroke-linejoin="round" />
<circle cx="1375" cy="570.9" r="2.3" fill="none" stroke="#111" stroke-width="1.0"/>
<line x1="1358" y1="586.9" x2="1358" y2="596.9" stroke="#c6cad0" stroke-width="2.4" stroke-linecap="butt"/>
<ellipse cx="1358" cy="597.9" rx="3.5" ry="1.8" fill="#c6cad0" stroke="#222" stroke-width="0.8"/>
<path d="M1352.9,588.1 A2.3,2.3 0 0 1 1349.9,590.9 A2.3,2.3 0 0 1 1346,589.7 A2.3,2.3 0 0 1 1345.1,585.7 A2.3,2.3 0 0 1 1348.1,583 A2.3,2.3 0 0 1 1352,584.2 A2.3,2.3 0 0 1 1352.9,588.1 Z" fill="#c6cad0" stroke="#111" stroke-width="1.2" stroke-linejoin="round" />
<circle cx="1349" cy="586.9" r="2.3" fill="none" stroke="#111" stroke-width="1.0"/>
<polygon points="1387,592.2 1397,588.2 1406,594.2 1406,604.2 1396,600.2 1387,598.2" fill="#c6cad0" stroke="#222" stroke-width="1.0" stroke-linejoin="round" />
<path d="M1410.9,590.4 A2.3,2.3 0 0 1 1407.9,593.1 A2.3,2.3 0 0 1 1404,591.9 A2.3,2.3 0 0 1 1403.1,588 A2.3,2.3 0 0 1 1406.1,585.2 A2.3,2.3 0 0 1 1410,586.4 A2.3,2.3 0 0 1 1410.9,590.4 Z" fill="#c6cad0" stroke="#111" stroke-width="1.2" stroke-linejoin="round" />
<circle cx="1407" cy="589.2" r="2.3" fill="none" stroke="#111" stroke-width="1.0"/>
<line x1="1390" y1="605.2" x2="1390" y2="615.2" stroke="#c6cad0" stroke-width="2.4" stroke-linecap="butt"/>
<ellipse cx="1390" cy="616.2" rx="3.5" ry="1.8" fill="#c6cad0" stroke="#222" stroke-width="0.8"/>
<path d="M1384.9,606.4 A2.3,2.3 0 0 1 1381.9,609.1 A2.3,2.3 0 0 1 1378,607.9 A2.3,2.3 0 0 1 1377.1,604 A2.3,2.3 0 0 1 1380.1,601.2 A2.3,2.3 0 0 1 1384,602.4 A2.3,2.3 0 0 1 1384.9,606.4 Z" fill="#c6cad0" stroke="#111" stroke-width="1.2" stroke-linejoin="round" />
<circle cx="1381" cy="605.2" r="2.3" fill="none" stroke="#111" stroke-width="1.0"/>
<polygon points="1419,610.4 1429,606.4 1438,612.4 1438,622.4 1428,618.4 1419,616.4" fill="#c6cad0" stroke="#222" stroke-width="1.0" stroke-linejoin="round" />
<path d="M1442.9,608.6 A2.3,2.3 0 0 1 1439.9,611.4 A2.3,2.3 0 0 1 1436,610.2 A2.3,2.3 0 0 1 1435.1,606.2 A2.3,2.3 0 0 1 1438.1,603.4 A2.3,2.3 0 0 1 1442,604.6 A2.3,2.3 0 0 1 1442.9,608.6 Z" fill="#c6cad0" stroke="#111" stroke-width="1.2" stroke-linejoin="round" />
<circle cx="1439" cy="607.4" r="2.3" fill="none" stroke="#111" stroke-width="1.0"/>
<line x1="1422" y1="623.4" x2="1422" y2="633.4" stroke="#c6cad0" stroke-width="2.4" stroke-linecap="butt"/>
<ellipse cx="1422" cy="634.4" rx="3.5" ry="1.8" fill="#c6cad0" stroke="#222" stroke-width="0.8"/>
<path d="M1416.9,624.6 A2.3,2.3 0 0 1 1413.9,627.4 A2.3,2.3 0 0 1 1410,626.2 A2.3,2.3 0 0 1 1409.1,622.2 A2.3,2.3 0 0 1 1412.1,619.4 A2.3,2.3 0 0 1 1416,620.6 A2.3,2.3 0 0 1 1416.9,624.6 Z" fill="#c6cad0" stroke="#111" stroke-width="1.2" stroke-linejoin="round" />
<circle cx="1413" cy="623.4" r="2.3" fill="none" stroke="#111" stroke-width="1.0"/>
<polygon points="1451,628.6 1461,624.6 1470,630.6 1470,640.6 1460,636.6 1451,634.6" fill="#c6cad0" stroke="#222" stroke-width="1.0" stroke-linejoin="round" />
<path d="M1474.9,626.8 A2.3,2.3 0 0 1 1471.9,629.6 A2.3,2.3 0 0 1 1468,628.4 A2.3,2.3 0 0 1 1467.1,624.4 A2.3,2.3 0 0 1 1470.1,621.7 A2.3,2.3 0 0 1 1474,622.9 A2.3,2.3 0 0 1 1474.9,626.8 Z" fill="#c6cad0" stroke="#111" stroke-width="1.2" stroke-linejoin="round" />
<circle cx="1471" cy="625.6" r="2.3" fill="none" stroke="#111" stroke-width="1.0"/>
<line x1="1454" y1="641.6" x2="1454" y2="651.6" stroke="#c6cad0" stroke-width="2.4" stroke-linecap="butt"/>
<ellipse cx="1454" cy="652.6" rx="3.5" ry="1.8" fill="#c6cad0" stroke="#222" stroke-width="0.8"/>
<path d="M1448.9,642.8 A2.3,2.3 0 0 1 1445.9,645.6 A2.3,2.3 0 0 1 1442,644.4 A2.3,2.3 0 0 1 1441.1,640.4 A2.3,2.3 0 0 1 1444.1,637.7 A2.3,2.3 0 0 1 1448,638.9 A2.3,2.3 0 0 1 1448.9,642.8 Z" fill="#c6cad0" stroke="#111" stroke-width="1.2" stroke-linejoin="round" />
<circle cx="1445" cy="641.6" r="2.3" fill="none" stroke="#111" stroke-width="1.0"/>
<polygon points="1483,646.9 1493,642.9 1502,648.9 1502,658.9 1492,654.9 1483,652.9" fill="#c6cad0" stroke="#222" stroke-width="1.0" stroke-linejoin="round" />
<path d="M1506.9,645.1 A2.3,2.3 0 0 1 1503.9,647.8 A2.3,2.3 0 0 1 1500,646.6 A2.3,2.3 0 0 1 1499.1,642.7 A2.3,2.3 0 0 1 1502.1,639.9 A2.3,2.3 0 0 1 1506,641.1 A2.3,2.3 0 0 1 1506.9,645.1 Z" fill="#c6cad0" stroke="#111" stroke-width="1.2" stroke-linejoin="round" />
<circle cx="1503" cy="643.9" r="2.3" fill="none" stroke="#111" stroke-width="1.0"/>
<line x1="1486" y1="659.9" x2="1486" y2="669.9" stroke="#c6cad0" stroke-width="2.4" stroke-linecap="butt"/>
<ellipse cx="1486" cy="670.9" rx="3.5" ry="1.8" fill="#c6cad0" stroke="#222" stroke-width="0.8"/>
<path d="M1480.9,661.1 A2.3,2.3 0 0 1 1477.9,663.8 A2.3,2.3 0 0 1 1474,662.6 A2.3,2.3 0 0 1 1473.1,658.7 A2.3,2.3 0 0 1 1476.1,655.9 A2.3,2.3 0 0 1 1480,657.1 A2.3,2.3 0 0 1 1480.9,661.1 Z" fill="#c6cad0" stroke="#111" stroke-width="1.2" stroke-linejoin="round" />
<circle cx="1477" cy="659.9" r="2.3" fill="none" stroke="#111" stroke-width="1.0"/>
<polygon points="1515,665.1 1525,661.1 1534,667.1 1534,677.1 1524,673.1 1515,671.1" fill="#c6cad0" stroke="#222" stroke-width="1.0" stroke-linejoin="round" />
<path d="M1538.9,663.3 A2.3,2.3 0 0 1 1535.9,666.1 A2.3,2.3 0 0 1 1532,664.9 A2.3,2.3 0 0 1 1531.1,660.9 A2.3,2.3 0 0 1 1534.1,658.2 A2.3,2.3 0 0 1 1538,659.4 A2.3,2.3 0 0 1 1538.9,663.3 Z" fill="#c6cad0" stroke="#111" stroke-width="1.2" stroke-linejoin="round" />
<circle cx="1535" cy="662.1" r="2.3" fill="none" stroke="#111" stroke-width="1.0"/>
<line x1="1518" y1="678.1" x2="1518" y2="688.1" stroke="#c6cad0" stroke-width="2.4" stroke-linecap="butt"/>
<ellipse cx="1518" cy="689.1" rx="3.5" ry="1.8" fill="#c6cad0" stroke="#222" stroke-width="0.8"/>
<path d="M1512.9,679.3 A2.3,2.3 0 0 1 1509.9,682.1 A2.3,2.3 0 0 1 1506,680.9 A2.3,2.3 0 0 1 1505.1,676.9 A2.3,2.3 0 0 1 1508.1,674.2 A2.3,2.3 0 0 1 1512,675.4 A2.3,2.3 0 0 1 1512.9,679.3 Z" fill="#c6cad0" stroke="#111" stroke-width="1.2" stroke-linejoin="round" />
<circle cx="1509" cy="678.1" r="2.3" fill="none" stroke="#111" stroke-width="1.0"/>
<polygon points="1547,683.4 1557,679.4 1566,685.4 1566,695.4 1556,691.4 1547,689.4" fill="#c6cad0" stroke="#222" stroke-width="1.0" stroke-linejoin="round" />
<path d="M1570.9,681.6 A2.3,2.3 0 0 1 1567.9,684.3 A2.3,2.3 0 0 1 1564,683.1 A2.3,2.3 0 0 1 1563.1,679.2 A2.3,2.3 0 0 1 1566.1,676.4 A2.3,2.3 0 0 1 1570,677.6 A2.3,2.3 0 0 1 1570.9,681.6 Z" fill="#c6cad0" stroke="#111" stroke-width="1.2" stroke-linejoin="round" />
<circle cx="1567" cy="680.4" r="2.3" fill="none" stroke="#111" stroke-width="1.0"/>
<line x1="1550" y1="696.4" x2="1550" y2="706.4" stroke="#c6cad0" stroke-width="2.4" stroke-linecap="butt"/>
<ellipse cx="1550" cy="707.4" rx="3.5" ry="1.8" fill="#c6cad0" stroke="#222" stroke-width="0.8"/>
<path d="M1544.9,697.6 A2.3,2.3 0 0 1 1541.9,700.3 A2.3,2.3 0 0 1 1538,699.1 A2.3,2.3 0 0 1 1537.1,695.2 A2.3,2.3 0 0 1 1540.1,692.4 A2.3,2.3 0 0 1 1544,693.6 A2.3,2.3 0 0 1 1544.9,697.6 Z" fill="#c6cad0" stroke="#111" stroke-width="1.2" stroke-linejoin="round" />
<circle cx="1541" cy="696.4" r="2.3" fill="none" stroke="#111" stroke-width="1.0"/>
<polygon points="1579,701.6 1589,697.6 1598,703.6 1598,713.6 1588,709.6 1579,707.6" fill="#c6cad0" stroke="#222" stroke-width="1.0" stroke-linejoin="round" />
<path d="M1602.9,699.8 A2.3,2.3 0 0 1 1599.9,702.6 A2.3,2.3 0 0 1 1596,701.4 A2.3,2.3 0 0 1 1595.1,697.4 A2.3,2.3 0 0 1 1598.1,694.6 A2.3,2.3 0 0 1 1602,695.8 A2.3,2.3 0 0 1 1602.9,699.8 Z" fill="#c6cad0" stroke="#111" stroke-width="1.2" stroke-linejoin="round" />
<circle cx="1599" cy="698.6" r="2.3" fill="none" stroke="#111" stroke-width="1.0"/>
<line x1="1582" y1="714.6" x2="1582" y2="724.6" stroke="#c6cad0" stroke-width="2.4" stroke-linecap="butt"/>
<ellipse cx="1582" cy="725.6" rx="3.5" ry="1.8" fill="#c6cad0" stroke="#222" stroke-width="0.8"/>
<path d="M1576.9,715.8 A2.3,2.3 0 0 1 1573.9,718.6 A2.3,2.3 0 0 1 1570,717.4 A2.3,2.3 0 0 1 1569.1,713.4 A2.3,2.3 0 0 1 1572.1,710.6 A2.3,2.3 0 0 1 1576,711.8 A2.3,2.3 0 0 1 1576.9,715.8 Z" fill="#c6cad0" stroke="#111" stroke-width="1.2" stroke-linejoin="round" />
<circle cx="1573" cy="714.6" r="2.3" fill="none" stroke="#111" stroke-width="1.0"/>
<polygon points="1611,719.8 1621,715.8 1630,721.8 1630,731.8 1620,727.8 1611,725.8" fill="#c6cad0" stroke="#222" stroke-width="1.0" stroke-linejoin="round" />
<path d="M1634.9,718 A2.3,2.3 0 0 1 1631.9,720.8 A2.3,2.3 0 0 1 1628,719.6 A2.3,2.3 0 0 1 1627.1,715.6 A2.3,2.3 0 0 1 1630.1,712.9 A2.3,2.3 0 0 1 1634,714.1 A2.3,2.3 0 0 1 1634.9,718 Z" fill="#c6cad0" stroke="#111" stroke-width="1.2" stroke-linejoin="round" />
<circle cx="1631" cy="716.8" r="2.3" fill="none" stroke="#111" stroke-width="1.0"/>
<line x1="1614" y1="732.8" x2="1614" y2="742.8" stroke="#c6cad0" stroke-width="2.4" stroke-linecap="butt"/>
<ellipse cx="1614" cy="743.8" rx="3.5" ry="1.8" fill="#c6cad0" stroke="#222" stroke-width="0.8"/>
<path d="M1608.9,734 A2.3,2.3 0 0 1 1605.9,736.8 A2.3,2.3 0 0 1 1602,735.6 A2.3,2.3 0 0 1 1601.1,731.6 A2.3,2.3 0 0 1 1604.1,728.9 A2.3,2.3 0 0 1 1608,730.1 A2.3,2.3 0 0 1 1608.9,734 Z" fill="#c6cad0" stroke="#111" stroke-width="1.2" stroke-linejoin="round" />
<circle cx="1605" cy="732.8" r="2.3" fill="none" stroke="#111" stroke-width="1.0"/>
<polygon points="1643,738.1 1653,734.1 1662,740.1 1662,750.1 1652,746.1 1643,744.1" fill="#c6cad0" stroke="#222" stroke-width="1.0" stroke-linejoin="round" />
<path d="M1666.9,736.3 A2.3,2.3 0 0 1 1663.9,739 A2.3,2.3 0 0 1 1660,737.8 A2.3,2.3 0 0 1 1659.1,733.9 A2.3,2.3 0 0 1 1662.1,731.1 A2.3,2.3 0 0 1 1666,732.3 A2.3,2.3 0 0 1 1666.9,736.3 Z" fill="#c6cad0" stroke="#111" stroke-width="1.2" stroke-linejoin="round" />
<circle cx="1663" cy="735.1" r="2.3" fill="none" stroke="#111" stroke-width="1.0"/>
<line x1="1646" y1="751.1" x2="1646" y2="761.1" stroke="#c6cad0" stroke-width="2.4" stroke-linecap="butt"/>
<ellipse cx="1646" cy="762.1" rx="3.5" ry="1.8" fill="#c6cad0" stroke="#222" stroke-width="0.8"/>
<path d="M1640.9,752.3 A2.3,2.3 0 0 1 1637.9,755 A2.3,2.3 0 0 1 1634,753.8 A2.3,2.3 0 0 1 1633.1,749.9 A2.3,2.3 0 0 1 1636.1,747.1 A2.3,2.3 0 0 1 1640,748.3 A2.3,2.3 0 0 1 1640.9,752.3 Z" fill="#c6cad0" stroke="#111" stroke-width="1.2" stroke-linejoin="round" />
<circle cx="1637" cy="751.1" r="2.3" fill="none" stroke="#111" stroke-width="1.0"/>
<path d="M1358,598.9 C1355,612.4 1361,625.9 1357,640.9 C1356,647.9 1363,647.9 1366,641.9" fill="none" stroke="#2e3fa0" stroke-width="2.1" stroke-linejoin="round" />
<path d="M1374,590.9 C1371,602.6 1377,614.3 1373,626.9 C1372,633.9 1379,633.9 1382,627.9" fill="none" stroke="#2e3fa0" stroke-width="2.1" stroke-linejoin="round" />
<path d="M1390,617.2 C1387,635.2 1393,653.2 1389,674.2 C1388,681.2 1395,681.2 1398,675.2" fill="none" stroke="#2e3fa0" stroke-width="2.1" stroke-linejoin="round" />
<path d="M1406,609.2 C1403,625.4 1409,641.6 1405,660.2 C1404,667.2 1411,667.2 1414,661.2" fill="none" stroke="#2e3fa0" stroke-width="2.1" stroke-linejoin="round" />
<path d="M1422,635.4 C1419,648.9 1425,662.4 1421,677.4 C1420,684.4 1427,684.4 1430,678.4" fill="none" stroke="#2e3fa0" stroke-width="2.1" stroke-linejoin="round" />
<path d="M1438,627.4 C1435,639.1 1441,650.8 1437,663.4 C1436,670.4 1443,670.4 1446,664.4" fill="none" stroke="#2e3fa0" stroke-width="2.1" stroke-linejoin="round" />
<path d="M1454,653.6 C1451,671.6 1457,689.6 1453,710.6 C1452,717.6 1459,717.6 1462,711.6" fill="none" stroke="#2e3fa0" stroke-width="2.1" stroke-linejoin="round" />
<path d="M1470,645.6 C1467,661.8 1473,678 1469,696.6 C1468,703.6 1475,703.6 1478,697.6" fill="none" stroke="#2e3fa0" stroke-width="2.1" stroke-linejoin="round" />
<path d="M1486,671.9 C1483,685.4 1489,698.9 1485,713.9 C1484,720.9 1491,720.9 1494,714.9" fill="none" stroke="#2e3fa0" stroke-width="2.1" stroke-linejoin="round" />
<path d="M1502,663.9 C1499,675.6 1505,687.3 1501,699.9 C1500,706.9 1507,706.9 1510,700.9" fill="none" stroke="#2e3fa0" stroke-width="2.1" stroke-linejoin="round" />
<path d="M1518,690.1 C1515,708.1 1521,726.1 1517,747.1 C1516,754.1 1523,754.1 1526,748.1" fill="none" stroke="#2e3fa0" stroke-width="2.1" stroke-linejoin="round" />
<path d="M1534,682.1 C1531,698.3 1537,714.5 1533,733.1 C1532,740.1 1539,740.1 1542,734.1" fill="none" stroke="#2e3fa0" stroke-width="2.1" stroke-linejoin="round" />
<path d="M1550,708.4 C1547,721.9 1553,735.4 1549,750.4 C1548,757.4 1555,757.4 1558,751.4" fill="none" stroke="#2e3fa0" stroke-width="2.1" stroke-linejoin="round" />
<path d="M1566,700.4 C1563,712.1 1569,723.8 1565,736.4 C1564,743.4 1571,743.4 1574,737.4" fill="none" stroke="#2e3fa0" stroke-width="2.1" stroke-linejoin="round" />
<path d="M1582,726.6 C1579,744.6 1585,762.6 1581,783.6 C1580,790.6 1587,790.6 1590,784.6" fill="none" stroke="#2e3fa0" stroke-width="2.1" stroke-linejoin="round" />
<path d="M1598,718.6 C1595,734.8 1601,751 1597,769.6 C1596,776.6 1603,776.6 1606,770.6" fill="none" stroke="#2e3fa0" stroke-width="2.1" stroke-linejoin="round" />
<path d="M1614,744.8 C1611,758.3 1617,771.8 1613,786.8 C1612,793.8 1619,793.8 1622,787.8" fill="none" stroke="#2e3fa0" stroke-width="2.1" stroke-linejoin="round" />
<path d="M1630,736.8 C1627,748.5 1633,760.2 1629,772.8 C1628,779.8 1635,779.8 1638,773.8" fill="none" stroke="#2e3fa0" stroke-width="2.1" stroke-linejoin="round" />
<path d="M1646,763.1 C1643,781.1 1649,799.1 1645,820.1 C1644,827.1 1651,827.1 1654,821.1" fill="none" stroke="#2e3fa0" stroke-width="2.1" stroke-linejoin="round" />
<path d="M1662,755.1 C1659,771.3 1665,787.5 1661,806.1 C1660,813.1 1667,813.1 1670,807.1" fill="none" stroke="#2e3fa0" stroke-width="2.1" stroke-linejoin="round" />
<path d="M1385.3,760 L1385.3,658.4 A8.8,8.4 0 0 1 1402.9,658.4 L1402.9,760 A8.8,3 0 0 1 1385.3,760 Z" fill="#9a3492" stroke="#000" stroke-width="1.5" stroke-linejoin="round" />
<path d="M1392.5,650 L1392.5,647.5 L1390.6,647.5 L1390.6,645.5 L1392.5,645.5 L1392.5,644 L1395.7,644 L1395.7,645.5 L1397.6,645.5 L1397.6,647.5 L1395.7,647.5 L1395.7,650 Z" fill="#55585c"/>
<rect x="1390.1" y="642" width="8" height="2" fill="#111"/>
<path d="M1367.5,770.5 L1367.5,668.9 A8.8,8.4 0 0 1 1385.1,668.9 L1385.1,770.5 A8.8,3 0 0 1 1367.5,770.5 Z" fill="#9a3492" stroke="#000" stroke-width="1.5" stroke-linejoin="round" />
<path d="M1374.7,660.5 L1374.7,658 L1372.8,658 L1372.8,656 L1374.7,656 L1374.7,654.5 L1377.9,654.5 L1377.9,656 L1379.8,656 L1379.8,658 L1377.9,658 L1377.9,660.5 Z" fill="#55585c"/>
<rect x="1372.3" y="652.5" width="8" height="2" fill="#111"/>
<path d="M1416.8,777.5 L1416.8,675.9 A8.8,8.4 0 0 1 1434.4,675.9 L1434.4,777.5 A8.8,3 0 0 1 1416.8,777.5 Z" fill="#9a3492" stroke="#000" stroke-width="1.5" stroke-linejoin="round" />
<path d="M1424,667.5 L1424,665 L1422.1,665 L1422.1,663 L1424,663 L1424,661.5 L1427.2,661.5 L1427.2,663 L1429.1,663 L1429.1,665 L1427.2,665 L1427.2,667.5 Z" fill="#55585c"/>
<rect x="1421.6" y="659.5" width="8" height="2" fill="#111"/>
<path d="M1399,788 L1399,686.4 A8.8,8.4 0 0 1 1416.6,686.4 L1416.6,788 A8.8,3 0 0 1 1399,788 Z" fill="#9a3492" stroke="#000" stroke-width="1.5" stroke-linejoin="round" />
<path d="M1406.2,678 L1406.2,675.5 L1404.3,675.5 L1404.3,673.5 L1406.2,673.5 L1406.2,672 L1409.4,672 L1409.4,673.5 L1411.3,673.5 L1411.3,675.5 L1409.4,675.5 L1409.4,678 Z" fill="#55585c"/>
<rect x="1403.8" y="670" width="8" height="2" fill="#111"/>
<path d="M1448.3,795 L1448.3,693.4 A8.8,8.4 0 0 1 1465.9,693.4 L1465.9,795 A8.8,3 0 0 1 1448.3,795 Z" fill="#9a3492" stroke="#000" stroke-width="1.5" stroke-linejoin="round" />
<path d="M1455.5,685 L1455.5,682.5 L1453.6,682.5 L1453.6,680.5 L1455.5,680.5 L1455.5,679 L1458.7,679 L1458.7,680.5 L1460.6,680.5 L1460.6,682.5 L1458.7,682.5 L1458.7,685 Z" fill="#55585c"/>
<rect x="1453.1" y="677" width="8" height="2" fill="#111"/>
<path d="M1430.5,805.5 L1430.5,703.9 A8.8,8.4 0 0 1 1448.1,703.9 L1448.1,805.5 A8.8,3 0 0 1 1430.5,805.5 Z" fill="#9a3492" stroke="#000" stroke-width="1.5" stroke-linejoin="round" />
<path d="M1437.7,695.5 L1437.7,693 L1435.8,693 L1435.8,691 L1437.7,691 L1437.7,689.5 L1440.9,689.5 L1440.9,691 L1442.8,691 L1442.8,693 L1440.9,693 L1440.9,695.5 Z" fill="#55585c"/>
<rect x="1435.3" y="687.5" width="8" height="2" fill="#111"/>
<path d="M1479.8,812.5 L1479.8,710.9 A8.8,8.4 0 0 1 1497.4,710.9 L1497.4,812.5 A8.8,3 0 0 1 1479.8,812.5 Z" fill="#9a3492" stroke="#000" stroke-width="1.5" stroke-linejoin="round" />
<path d="M1487,702.5 L1487,700 L1485.1,700 L1485.1,698 L1487,698 L1487,696.5 L1490.2,696.5 L1490.2,698 L1492.1,698 L1492.1,700 L1490.2,700 L1490.2,702.5 Z" fill="#55585c"/>
<rect x="1484.6" y="694.5" width="8" height="2" fill="#111"/>
<path d="M1462,823 L1462,721.4 A8.8,8.4 0 0 1 1479.6,721.4 L1479.6,823 A8.8,3 0 0 1 1462,823 Z" fill="#9a3492" stroke="#000" stroke-width="1.5" stroke-linejoin="round" />
<path d="M1469.2,713 L1469.2,710.5 L1467.3,710.5 L1467.3,708.5 L1469.2,708.5 L1469.2,707 L1472.4,707 L1472.4,708.5 L1474.3,708.5 L1474.3,710.5 L1472.4,710.5 L1472.4,713 Z" fill="#55585c"/>
<rect x="1466.8" y="705" width="8" height="2" fill="#111"/>
<path d="M1511.3,830 L1511.3,728.4 A8.8,8.4 0 0 1 1528.9,728.4 L1528.9,830 A8.8,3 0 0 1 1511.3,830 Z" fill="#9a3492" stroke="#000" stroke-width="1.5" stroke-linejoin="round" />
<path d="M1518.5,720 L1518.5,717.5 L1516.6,717.5 L1516.6,715.5 L1518.5,715.5 L1518.5,714 L1521.7,714 L1521.7,715.5 L1523.6,715.5 L1523.6,717.5 L1521.7,717.5 L1521.7,720 Z" fill="#55585c"/>
<rect x="1516.1" y="712" width="8" height="2" fill="#111"/>
<path d="M1493.5,840.5 L1493.5,738.9 A8.8,8.4 0 0 1 1511.1,738.9 L1511.1,840.5 A8.8,3 0 0 1 1493.5,840.5 Z" fill="#9a3492" stroke="#000" stroke-width="1.5" stroke-linejoin="round" />
<path d="M1500.7,730.5 L1500.7,728 L1498.8,728 L1498.8,726 L1500.7,726 L1500.7,724.5 L1503.9,724.5 L1503.9,726 L1505.8,726 L1505.8,728 L1503.9,728 L1503.9,730.5 Z" fill="#55585c"/>
<rect x="1498.3" y="722.5" width="8" height="2" fill="#111"/>
<path d="M1542.8,847.5 L1542.8,745.9 A8.8,8.4 0 0 1 1560.4,745.9 L1560.4,847.5 A8.8,3 0 0 1 1542.8,847.5 Z" fill="#9a3492" stroke="#000" stroke-width="1.5" stroke-linejoin="round" />
<path d="M1550,737.5 L1550,735 L1548.1,735 L1548.1,733 L1550,733 L1550,731.5 L1553.2,731.5 L1553.2,733 L1555.1,733 L1555.1,735 L1553.2,735 L1553.2,737.5 Z" fill="#55585c"/>
<rect x="1547.6" y="729.5" width="8" height="2" fill="#111"/>
<path d="M1525,858 L1525,756.4 A8.8,8.4 0 0 1 1542.6,756.4 L1542.6,858 A8.8,3 0 0 1 1525,858 Z" fill="#9a3492" stroke="#000" stroke-width="1.5" stroke-linejoin="round" />
<path d="M1532.2,748 L1532.2,745.5 L1530.3,745.5 L1530.3,743.5 L1532.2,743.5 L1532.2,742 L1535.4,742 L1535.4,743.5 L1537.3,743.5 L1537.3,745.5 L1535.4,745.5 L1535.4,748 Z" fill="#55585c"/>
<rect x="1529.8" y="740" width="8" height="2" fill="#111"/>
<path d="M1574.3,865 L1574.3,763.4 A8.8,8.4 0 0 1 1591.9,763.4 L1591.9,865 A8.8,3 0 0 1 1574.3,865 Z" fill="#9a3492" stroke="#000" stroke-width="1.5" stroke-linejoin="round" />
<path d="M1581.5,755 L1581.5,752.5 L1579.6,752.5 L1579.6,750.5 L1581.5,750.5 L1581.5,749 L1584.7,749 L1584.7,750.5 L1586.6,750.5 L1586.6,752.5 L1584.7,752.5 L1584.7,755 Z" fill="#55585c"/>
<rect x="1579.1" y="747" width="8" height="2" fill="#111"/>
<path d="M1556.5,875.5 L1556.5,773.9 A8.8,8.4 0 0 1 1574.1,773.9 L1574.1,875.5 A8.8,3 0 0 1 1556.5,875.5 Z" fill="#9a3492" stroke="#000" stroke-width="1.5" stroke-linejoin="round" />
<path d="M1563.7,765.5 L1563.7,763 L1561.8,763 L1561.8,761 L1563.7,761 L1563.7,759.5 L1566.9,759.5 L1566.9,761 L1568.8,761 L1568.8,763 L1566.9,763 L1566.9,765.5 Z" fill="#55585c"/>
<rect x="1561.3" y="757.5" width="8" height="2" fill="#111"/>
<path d="M1605.8,882.5 L1605.8,780.9 A8.8,8.4 0 0 1 1623.4,780.9 L1623.4,882.5 A8.8,3 0 0 1 1605.8,882.5 Z" fill="#9a3492" stroke="#000" stroke-width="1.5" stroke-linejoin="round" />
<path d="M1613,772.5 L1613,770 L1611.1,770 L1611.1,768 L1613,768 L1613,766.5 L1616.2,766.5 L1616.2,768 L1618.1,768 L1618.1,770 L1616.2,770 L1616.2,772.5 Z" fill="#55585c"/>
<rect x="1610.6" y="764.5" width="8" height="2" fill="#111"/>
<path d="M1588,893 L1588,791.4 A8.8,8.4 0 0 1 1605.6,791.4 L1605.6,893 A8.8,3 0 0 1 1588,893 Z" fill="#9a3492" stroke="#000" stroke-width="1.5" stroke-linejoin="round" />
<path d="M1595.2,783 L1595.2,780.5 L1593.3,780.5 L1593.3,778.5 L1595.2,778.5 L1595.2,777 L1598.4,777 L1598.4,778.5 L1600.3,778.5 L1600.3,780.5 L1598.4,780.5 L1598.4,783 Z" fill="#55585c"/>
<rect x="1592.8" y="775" width="8" height="2" fill="#111"/>
<path d="M1637.3,900 L1637.3,798.4 A8.8,8.4 0 0 1 1654.9,798.4 L1654.9,900 A8.8,3 0 0 1 1637.3,900 Z" fill="#9a3492" stroke="#000" stroke-width="1.5" stroke-linejoin="round" />
<path d="M1644.5,790 L1644.5,787.5 L1642.6,787.5 L1642.6,785.5 L1644.5,785.5 L1644.5,784 L1647.7,784 L1647.7,785.5 L1649.6,785.5 L1649.6,787.5 L1647.7,787.5 L1647.7,790 Z" fill="#55585c"/>
<rect x="1642.1" y="782" width="8" height="2" fill="#111"/>
<path d="M1619.5,910.5 L1619.5,808.9 A8.8,8.4 0 0 1 1637.1,808.9 L1637.1,910.5 A8.8,3 0 0 1 1619.5,910.5 Z" fill="#9a3492" stroke="#000" stroke-width="1.5" stroke-linejoin="round" />
<path d="M1626.7,800.5 L1626.7,798 L1624.8,798 L1624.8,796 L1626.7,796 L1626.7,794.5 L1629.9,794.5 L1629.9,796 L1631.8,796 L1631.8,798 L1629.9,798 L1629.9,800.5 Z" fill="#55585c"/>
<rect x="1624.3" y="792.5" width="8" height="2" fill="#111"/>
<path d="M1668.8,917.5 L1668.8,815.9 A8.8,8.4 0 0 1 1686.4,815.9 L1686.4,917.5 A8.8,3 0 0 1 1668.8,917.5 Z" fill="#9a3492" stroke="#000" stroke-width="1.5" stroke-linejoin="round" />
<path d="M1676,807.5 L1676,805 L1674.1,805 L1674.1,803 L1676,803 L1676,801.5 L1679.2,801.5 L1679.2,803 L1681.1,803 L1681.1,805 L1679.2,805 L1679.2,807.5 Z" fill="#55585c"/>
<rect x="1673.6" y="799.5" width="8" height="2" fill="#111"/>
<path d="M1651,928 L1651,826.4 A8.8,8.4 0 0 1 1668.6,826.4 L1668.6,928 A8.8,3 0 0 1 1651,928 Z" fill="#9a3492" stroke="#000" stroke-width="1.5" stroke-linejoin="round" />
<path d="M1658.2,818 L1658.2,815.5 L1656.3,815.5 L1656.3,813.5 L1658.2,813.5 L1658.2,812 L1661.4,812 L1661.4,813.5 L1663.3,813.5 L1663.3,815.5 L1661.4,815.5 L1661.4,818 Z" fill="#55585c"/>
<rect x="1655.8" y="810" width="8" height="2" fill="#111"/>
<polygon points="1125,655 1157,649 1146,664 1145,669 1137,669 1136,665" fill="#bcc1c9" stroke="#111" stroke-width="1.2" stroke-linejoin="round" />
<polygon points="1137,665 1145,663 1145,725.7 1137,727.7" fill="#bcc1c9" stroke="#111" stroke-width="1.3" stroke-linejoin="round" />
<line x1="1141.4" y1="665" x2="1141.4" y2="726.7" stroke="#111" stroke-width="1.0" stroke-linecap="butt"/>
<polygon points="1275.7,735.3 1282.7,731.3 1282.7,786.3 1275.7,790.3" fill="#bcc1c9" stroke="#111" stroke-width="1.3" stroke-linejoin="round" />
<polygon points="1145.3,667.1 1275.7,739.3 1275.7,770.3 1145.3,698.1" fill="#bcc1c9" stroke="#111" stroke-width="1.6" stroke-linejoin="round" />
<text x="0" y="0" font-family="Liberation Sans, sans-serif" font-size="22" fill="#1a1a1a" text-anchor="middle" dominant-baseline="central" textLength="70" lengthAdjust="spacingAndGlyphs" transform="translate(1210.5,719.7) rotate(29)">Nitrogen</text>
<polygon points="1131.3,713.5 1443,891.2 1443,901.2 1131.3,723.5" fill="#bcc1c9" stroke="#000" stroke-width="1.3" stroke-linejoin="round" />
<line x1="1131.3" y1="719" x2="1443" y2="896.7" stroke="#000" stroke-width="1.3" stroke-linecap="butt"/>
<line x1="1131.3" y1="712" x2="1443" y2="889.7" stroke="#111" stroke-width="5.2" stroke-linecap="butt"/>
<line x1="1131.3" y1="712" x2="1443" y2="889.7" stroke="#f4a173" stroke-width="3.0" stroke-linecap="butt"/>
<polygon points="1123,706.8 1133,702.8 1142,708.8 1142,718.8 1132,714.8 1123,712.8" fill="#c6cad0" stroke="#222" stroke-width="1.0" stroke-linejoin="round" />
<path d="M1146.9,705 A2.3,2.3 0 0 1 1143.9,707.7 A2.3,2.3 0 0 1 1140,706.5 A2.3,2.3 0 0 1 1139.1,702.6 A2.3,2.3 0 0 1 1142.1,699.8 A2.3,2.3 0 0 1 1146,701 A2.3,2.3 0 0 1 1146.9,705 Z" fill="#c6cad0" stroke="#111" stroke-width="1.2" stroke-linejoin="round" />
<circle cx="1143" cy="703.8" r="2.3" fill="none" stroke="#111" stroke-width="1.0"/>
<line x1="1126" y1="719.8" x2="1126" y2="729.8" stroke="#c6cad0" stroke-width="2.4" stroke-linecap="butt"/>
<ellipse cx="1126" cy="730.8" rx="3.5" ry="1.8" fill="#c6cad0" stroke="#222" stroke-width="0.8"/>
<path d="M1120.9,721 A2.3,2.3 0 0 1 1117.9,723.7 A2.3,2.3 0 0 1 1114,722.5 A2.3,2.3 0 0 1 1113.1,718.6 A2.3,2.3 0 0 1 1116.1,715.8 A2.3,2.3 0 0 1 1120,717 A2.3,2.3 0 0 1 1120.9,721 Z" fill="#c6cad0" stroke="#111" stroke-width="1.2" stroke-linejoin="round" />
<circle cx="1117" cy="719.8" r="2.3" fill="none" stroke="#111" stroke-width="1.0"/>
<polygon points="1155,725 1165,721 1174,727 1174,737 1164,733 1155,731" fill="#c6cad0" stroke="#222" stroke-width="1.0" stroke-linejoin="round" />
<path d="M1178.9,723.2 A2.3,2.3 0 0 1 1175.9,726 A2.3,2.3 0 0 1 1172,724.8 A2.3,2.3 0 0 1 1171.1,720.8 A2.3,2.3 0 0 1 1174.1,718 A2.3,2.3 0 0 1 1178,719.2 A2.3,2.3 0 0 1 1178.9,723.2 Z" fill="#c6cad0" stroke="#111" stroke-width="1.2" stroke-linejoin="round" />
<circle cx="1175" cy="722" r="2.3" fill="none" stroke="#111" stroke-width="1.0"/>
<line x1="1158" y1="738" x2="1158" y2="748" stroke="#c6cad0" stroke-width="2.4" stroke-linecap="butt"/>
<ellipse cx="1158" cy="749" rx="3.5" ry="1.8" fill="#c6cad0" stroke="#222" stroke-width="0.8"/>
<path d="M1152.9,739.2 A2.3,2.3 0 0 1 1149.9,742 A2.3,2.3 0 0 1 1146,740.8 A2.3,2.3 0 0 1 1145.1,736.8 A2.3,2.3 0 0 1 1148.1,734 A2.3,2.3 0 0 1 1152,735.2 A2.3,2.3 0 0 1 1152.9,739.2 Z" fill="#c6cad0" stroke="#111" stroke-width="1.2" stroke-linejoin="round" />
<circle cx="1149" cy="738" r="2.3" fill="none" stroke="#111" stroke-width="1.0"/>
<polygon points="1187,743.2 1197,739.2 1206,745.2 1206,755.2 1196,751.2 1187,749.2" fill="#c6cad0" stroke="#222" stroke-width="1.0" stroke-linejoin="round" />
<path d="M1210.9,741.4 A2.3,2.3 0 0 1 1207.9,744.2 A2.3,2.3 0 0 1 1204,743 A2.3,2.3 0 0 1 1203.1,739 A2.3,2.3 0 0 1 1206.1,736.3 A2.3,2.3 0 0 1 1210,737.5 A2.3,2.3 0 0 1 1210.9,741.4 Z" fill="#c6cad0" stroke="#111" stroke-width="1.2" stroke-linejoin="round" />
<circle cx="1207" cy="740.2" r="2.3" fill="none" stroke="#111" stroke-width="1.0"/>
<line x1="1190" y1="756.2" x2="1190" y2="766.2" stroke="#c6cad0" stroke-width="2.4" stroke-linecap="butt"/>
<ellipse cx="1190" cy="767.2" rx="3.5" ry="1.8" fill="#c6cad0" stroke="#222" stroke-width="0.8"/>
<path d="M1184.9,757.4 A2.3,2.3 0 0 1 1181.9,760.2 A2.3,2.3 0 0 1 1178,759 A2.3,2.3 0 0 1 1177.1,755 A2.3,2.3 0 0 1 1180.1,752.3 A2.3,2.3 0 0 1 1184,753.5 A2.3,2.3 0 0 1 1184.9,757.4 Z" fill="#c6cad0" stroke="#111" stroke-width="1.2" stroke-linejoin="round" />
<circle cx="1181" cy="756.2" r="2.3" fill="none" stroke="#111" stroke-width="1.0"/>
<polygon points="1219,761.5 1229,757.5 1238,763.5 1238,773.5 1228,769.5 1219,767.5" fill="#c6cad0" stroke="#222" stroke-width="1.0" stroke-linejoin="round" />
<path d="M1242.9,759.7 A2.3,2.3 0 0 1 1239.9,762.4 A2.3,2.3 0 0 1 1236,761.2 A2.3,2.3 0 0 1 1235.1,757.3 A2.3,2.3 0 0 1 1238.1,754.5 A2.3,2.3 0 0 1 1242,755.7 A2.3,2.3 0 0 1 1242.9,759.7 Z" fill="#c6cad0" stroke="#111" stroke-width="1.2" stroke-linejoin="round" />
<circle cx="1239" cy="758.5" r="2.3" fill="none" stroke="#111" stroke-width="1.0"/>
<line x1="1222" y1="774.5" x2="1222" y2="784.5" stroke="#c6cad0" stroke-width="2.4" stroke-linecap="butt"/>
<ellipse cx="1222" cy="785.5" rx="3.5" ry="1.8" fill="#c6cad0" stroke="#222" stroke-width="0.8"/>
<path d="M1216.9,775.7 A2.3,2.3 0 0 1 1213.9,778.4 A2.3,2.3 0 0 1 1210,777.2 A2.3,2.3 0 0 1 1209.1,773.3 A2.3,2.3 0 0 1 1212.1,770.5 A2.3,2.3 0 0 1 1216,771.7 A2.3,2.3 0 0 1 1216.9,775.7 Z" fill="#c6cad0" stroke="#111" stroke-width="1.2" stroke-linejoin="round" />
<circle cx="1213" cy="774.5" r="2.3" fill="none" stroke="#111" stroke-width="1.0"/>
<polygon points="1251,779.7 1261,775.7 1270,781.7 1270,791.7 1260,787.7 1251,785.7" fill="#c6cad0" stroke="#222" stroke-width="1.0" stroke-linejoin="round" />
<path d="M1274.9,777.9 A2.3,2.3 0 0 1 1271.9,780.7 A2.3,2.3 0 0 1 1268,779.5 A2.3,2.3 0 0 1 1267.1,775.5 A2.3,2.3 0 0 1 1270.1,772.8 A2.3,2.3 0 0 1 1274,774 A2.3,2.3 0 0 1 1274.9,777.9 Z" fill="#c6cad0" stroke="#111" stroke-width="1.2" stroke-linejoin="round" />
<circle cx="1271" cy="776.7" r="2.3" fill="none" stroke="#111" stroke-width="1.0"/>
<line x1="1254" y1="792.7" x2="1254" y2="802.7" stroke="#c6cad0" stroke-width="2.4" stroke-linecap="butt"/>
<ellipse cx="1254" cy="803.7" rx="3.5" ry="1.8" fill="#c6cad0" stroke="#222" stroke-width="0.8"/>
<path d="M1248.9,793.9 A2.3,2.3 0 0 1 1245.9,796.7 A2.3,2.3 0 0 1 1242,795.5 A2.3,2.3 0 0 1 1241.1,791.5 A2.3,2.3 0 0 1 1244.1,788.8 A2.3,2.3 0 0 1 1248,790 A2.3,2.3 0 0 1 1248.9,793.9 Z" fill="#c6cad0" stroke="#111" stroke-width="1.2" stroke-linejoin="round" />
<circle cx="1245" cy="792.7" r="2.3" fill="none" stroke="#111" stroke-width="1.0"/>
<polygon points="1283,798 1293,794 1302,800 1302,810 1292,806 1283,804" fill="#c6cad0" stroke="#222" stroke-width="1.0" stroke-linejoin="round" />
<path d="M1306.9,796.2 A2.3,2.3 0 0 1 1303.9,798.9 A2.3,2.3 0 0 1 1300,797.7 A2.3,2.3 0 0 1 1299.1,793.8 A2.3,2.3 0 0 1 1302.1,791 A2.3,2.3 0 0 1 1306,792.2 A2.3,2.3 0 0 1 1306.9,796.2 Z" fill="#c6cad0" stroke="#111" stroke-width="1.2" stroke-linejoin="round" />
<circle cx="1303" cy="795" r="2.3" fill="none" stroke="#111" stroke-width="1.0"/>
<line x1="1286" y1="811" x2="1286" y2="821" stroke="#c6cad0" stroke-width="2.4" stroke-linecap="butt"/>
<ellipse cx="1286" cy="822" rx="3.5" ry="1.8" fill="#c6cad0" stroke="#222" stroke-width="0.8"/>
<path d="M1280.9,812.2 A2.3,2.3 0 0 1 1277.9,814.9 A2.3,2.3 0 0 1 1274,813.7 A2.3,2.3 0 0 1 1273.1,809.8 A2.3,2.3 0 0 1 1276.1,807 A2.3,2.3 0 0 1 1280,808.2 A2.3,2.3 0 0 1 1280.9,812.2 Z" fill="#c6cad0" stroke="#111" stroke-width="1.2" stroke-linejoin="round" />
<circle cx="1277" cy="811" r="2.3" fill="none" stroke="#111" stroke-width="1.0"/>
<polygon points="1315,816.2 1325,812.2 1334,818.2 1334,828.2 1324,824.2 1315,822.2" fill="#c6cad0" stroke="#222" stroke-width="1.0" stroke-linejoin="round" />
<path d="M1338.9,814.4 A2.3,2.3 0 0 1 1335.9,817.2 A2.3,2.3 0 0 1 1332,816 A2.3,2.3 0 0 1 1331.1,812 A2.3,2.3 0 0 1 1334.1,809.2 A2.3,2.3 0 0 1 1338,810.4 A2.3,2.3 0 0 1 1338.9,814.4 Z" fill="#c6cad0" stroke="#111" stroke-width="1.2" stroke-linejoin="round" />
<circle cx="1335" cy="813.2" r="2.3" fill="none" stroke="#111" stroke-width="1.0"/>
<line x1="1318" y1="829.2" x2="1318" y2="839.2" stroke="#c6cad0" stroke-width="2.4" stroke-linecap="butt"/>
<ellipse cx="1318" cy="840.2" rx="3.5" ry="1.8" fill="#c6cad0" stroke="#222" stroke-width="0.8"/>
<path d="M1312.9,830.4 A2.3,2.3 0 0 1 1309.9,833.2 A2.3,2.3 0 0 1 1306,832 A2.3,2.3 0 0 1 1305.1,828 A2.3,2.3 0 0 1 1308.1,825.2 A2.3,2.3 0 0 1 1312,826.4 A2.3,2.3 0 0 1 1312.9,830.4 Z" fill="#c6cad0" stroke="#111" stroke-width="1.2" stroke-linejoin="round" />
<circle cx="1309" cy="829.2" r="2.3" fill="none" stroke="#111" stroke-width="1.0"/>
<polygon points="1347,834.4 1357,830.4 1366,836.4 1366,846.4 1356,842.4 1347,840.4" fill="#c6cad0" stroke="#222" stroke-width="1.0" stroke-linejoin="round" />
<path d="M1370.9,832.6 A2.3,2.3 0 0 1 1367.9,835.4 A2.3,2.3 0 0 1 1364,834.2 A2.3,2.3 0 0 1 1363.1,830.2 A2.3,2.3 0 0 1 1366.1,827.5 A2.3,2.3 0 0 1 1370,828.7 A2.3,2.3 0 0 1 1370.9,832.6 Z" fill="#c6cad0" stroke="#111" stroke-width="1.2" stroke-linejoin="round" />
<circle cx="1367" cy="831.4" r="2.3" fill="none" stroke="#111" stroke-width="1.0"/>
<line x1="1350" y1="847.4" x2="1350" y2="857.4" stroke="#c6cad0" stroke-width="2.4" stroke-linecap="butt"/>
<ellipse cx="1350" cy="858.4" rx="3.5" ry="1.8" fill="#c6cad0" stroke="#222" stroke-width="0.8"/>
<path d="M1344.9,848.6 A2.3,2.3 0 0 1 1341.9,851.4 A2.3,2.3 0 0 1 1338,850.2 A2.3,2.3 0 0 1 1337.1,846.2 A2.3,2.3 0 0 1 1340.1,843.5 A2.3,2.3 0 0 1 1344,844.7 A2.3,2.3 0 0 1 1344.9,848.6 Z" fill="#c6cad0" stroke="#111" stroke-width="1.2" stroke-linejoin="round" />
<circle cx="1341" cy="847.4" r="2.3" fill="none" stroke="#111" stroke-width="1.0"/>
<polygon points="1379,852.7 1389,848.7 1398,854.7 1398,864.7 1388,860.7 1379,858.7" fill="#c6cad0" stroke="#222" stroke-width="1.0" stroke-linejoin="round" />
<path d="M1402.9,850.9 A2.3,2.3 0 0 1 1399.9,853.6 A2.3,2.3 0 0 1 1396,852.4 A2.3,2.3 0 0 1 1395.1,848.5 A2.3,2.3 0 0 1 1398.1,845.7 A2.3,2.3 0 0 1 1402,846.9 A2.3,2.3 0 0 1 1402.9,850.9 Z" fill="#c6cad0" stroke="#111" stroke-width="1.2" stroke-linejoin="round" />
<circle cx="1399" cy="849.7" r="2.3" fill="none" stroke="#111" stroke-width="1.0"/>
<line x1="1382" y1="865.7" x2="1382" y2="875.7" stroke="#c6cad0" stroke-width="2.4" stroke-linecap="butt"/>
<ellipse cx="1382" cy="876.7" rx="3.5" ry="1.8" fill="#c6cad0" stroke="#222" stroke-width="0.8"/>
<path d="M1376.9,866.9 A2.3,2.3 0 0 1 1373.9,869.6 A2.3,2.3 0 0 1 1370,868.4 A2.3,2.3 0 0 1 1369.1,864.5 A2.3,2.3 0 0 1 1372.1,861.7 A2.3,2.3 0 0 1 1376,862.9 A2.3,2.3 0 0 1 1376.9,866.9 Z" fill="#c6cad0" stroke="#111" stroke-width="1.2" stroke-linejoin="round" />
<circle cx="1373" cy="865.7" r="2.3" fill="none" stroke="#111" stroke-width="1.0"/>
<polygon points="1411,870.9 1421,866.9 1430,872.9 1430,882.9 1420,878.9 1411,876.9" fill="#c6cad0" stroke="#222" stroke-width="1.0" stroke-linejoin="round" />
<path d="M1434.9,869.1 A2.3,2.3 0 0 1 1431.9,871.9 A2.3,2.3 0 0 1 1428,870.7 A2.3,2.3 0 0 1 1427.1,866.7 A2.3,2.3 0 0 1 1430.1,864 A2.3,2.3 0 0 1 1434,865.2 A2.3,2.3 0 0 1 1434.9,869.1 Z" fill="#c6cad0" stroke="#111" stroke-width="1.2" stroke-linejoin="round" />
<circle cx="1431" cy="867.9" r="2.3" fill="none" stroke="#111" stroke-width="1.0"/>
<line x1="1414" y1="883.9" x2="1414" y2="893.9" stroke="#c6cad0" stroke-width="2.4" stroke-linecap="butt"/>
<ellipse cx="1414" cy="894.9" rx="3.5" ry="1.8" fill="#c6cad0" stroke="#222" stroke-width="0.8"/>
<path d="M1408.9,885.1 A2.3,2.3 0 0 1 1405.9,887.9 A2.3,2.3 0 0 1 1402,886.7 A2.3,2.3 0 0 1 1401.1,882.7 A2.3,2.3 0 0 1 1404.1,880 A2.3,2.3 0 0 1 1408,881.2 A2.3,2.3 0 0 1 1408.9,885.1 Z" fill="#c6cad0" stroke="#111" stroke-width="1.2" stroke-linejoin="round" />
<circle cx="1405" cy="883.9" r="2.3" fill="none" stroke="#111" stroke-width="1.0"/>
<path d="M1126,731.8 C1123,745.3 1129,758.8 1125,773.8 C1124,780.8 1131,780.8 1134,774.8" fill="none" stroke="#2e3fa0" stroke-width="2.1" stroke-linejoin="round" />
<path d="M1142,723.8 C1139,735.5 1145,747.2 1141,759.8 C1140,766.8 1147,766.8 1150,760.8" fill="none" stroke="#2e3fa0" stroke-width="2.1" stroke-linejoin="round" />
<path d="M1158,750 C1155,768 1161,786 1157,807 C1156,814 1163,814 1166,808" fill="none" stroke="#2e3fa0" stroke-width="2.1" stroke-linejoin="round" />
<path d="M1174,742 C1171,758.2 1177,774.4 1173,793 C1172,800 1179,800 1182,794" fill="none" stroke="#2e3fa0" stroke-width="2.1" stroke-linejoin="round" />
<path d="M1190,768.2 C1187,781.7 1193,795.2 1189,810.2 C1188,817.2 1195,817.2 1198,811.2" fill="none" stroke="#2e3fa0" stroke-width="2.1" stroke-linejoin="round" />
<path d="M1206,760.2 C1203,771.9 1209,783.6 1205,796.2 C1204,803.2 1211,803.2 1214,797.2" fill="none" stroke="#2e3fa0" stroke-width="2.1" stroke-linejoin="round" />
<path d="M1222,786.5 C1219,804.5 1225,822.5 1221,843.5 C1220,850.5 1227,850.5 1230,844.5" fill="none" stroke="#2e3fa0" stroke-width="2.1" stroke-linejoin="round" />
<path d="M1238,778.5 C1235,794.7 1241,810.9 1237,829.5 C1236,836.5 1243,836.5 1246,830.5" fill="none" stroke="#2e3fa0" stroke-width="2.1" stroke-linejoin="round" />
<path d="M1254,804.7 C1251,818.2 1257,831.7 1253,846.7 C1252,853.7 1259,853.7 1262,847.7" fill="none" stroke="#2e3fa0" stroke-width="2.1" stroke-linejoin="round" />
<path d="M1270,796.7 C1267,808.4 1273,820.1 1269,832.7 C1268,839.7 1275,839.7 1278,833.7" fill="none" stroke="#2e3fa0" stroke-width="2.1" stroke-linejoin="round" />
<path d="M1286,823 C1283,841 1289,859 1285,880 C1284,887 1291,887 1294,881" fill="none" stroke="#2e3fa0" stroke-width="2.1" stroke-linejoin="round" />
<path d="M1302,815 C1299,831.2 1305,847.4 1301,866 C1300,873 1307,873 1310,867" fill="none" stroke="#2e3fa0" stroke-width="2.1" stroke-linejoin="round" />
<path d="M1318,841.2 C1315,854.7 1321,868.2 1317,883.2 C1316,890.2 1323,890.2 1326,884.2" fill="none" stroke="#2e3fa0" stroke-width="2.1" stroke-linejoin="round" />
<path d="M1334,833.2 C1331,844.9 1337,856.6 1333,869.2 C1332,876.2 1339,876.2 1342,870.2" fill="none" stroke="#2e3fa0" stroke-width="2.1" stroke-linejoin="round" />
<path d="M1350,859.4 C1347,877.4 1353,895.4 1349,916.4 C1348,923.4 1355,923.4 1358,917.4" fill="none" stroke="#2e3fa0" stroke-width="2.1" stroke-linejoin="round" />
<path d="M1366,851.4 C1363,867.6 1369,883.8 1365,902.4 C1364,909.4 1371,909.4 1374,903.4" fill="none" stroke="#2e3fa0" stroke-width="2.1" stroke-linejoin="round" />
<path d="M1382,877.7 C1379,891.2 1385,904.7 1381,919.7 C1380,926.7 1387,926.7 1390,920.7" fill="none" stroke="#2e3fa0" stroke-width="2.1" stroke-linejoin="round" />
<path d="M1398,869.7 C1395,881.4 1401,893.1 1397,905.7 C1396,912.7 1403,912.7 1406,906.7" fill="none" stroke="#2e3fa0" stroke-width="2.1" stroke-linejoin="round" />
<path d="M1414,895.9 C1411,913.9 1417,931.9 1413,952.9 C1412,959.9 1419,959.9 1422,953.9" fill="none" stroke="#2e3fa0" stroke-width="2.1" stroke-linejoin="round" />
<path d="M1430,887.9 C1427,904.1 1433,920.3 1429,938.9 C1428,945.9 1435,945.9 1438,939.9" fill="none" stroke="#2e3fa0" stroke-width="2.1" stroke-linejoin="round" />
<path d="M1152.2,889.9 L1152.2,788.3 A8.8,8.4 0 0 1 1169.8,788.3 L1169.8,889.9 A8.8,3 0 0 1 1152.2,889.9 Z" fill="#f08a30" stroke="#000" stroke-width="1.5" stroke-linejoin="round" />
<path d="M1159.4,779.9 L1159.4,777.4 L1157.5,777.4 L1157.5,775.4 L1159.4,775.4 L1159.4,773.9 L1162.6,773.9 L1162.6,775.4 L1164.5,775.4 L1164.5,777.4 L1162.6,777.4 L1162.6,779.9 Z" fill="#55585c"/>
<rect x="1157" y="771.9" width="8" height="2" fill="#111"/>
<path d="M1134.5,900.2 L1134.5,798.6 A8.8,8.4 0 0 1 1152.1,798.6 L1152.1,900.2 A8.8,3 0 0 1 1134.5,900.2 Z" fill="#f08a30" stroke="#000" stroke-width="1.5" stroke-linejoin="round" />
<path d="M1141.7,790.2 L1141.7,787.7 L1139.8,787.7 L1139.8,785.7 L1141.7,785.7 L1141.7,784.2 L1144.9,784.2 L1144.9,785.7 L1146.8,785.7 L1146.8,787.7 L1144.9,787.7 L1144.9,790.2 Z" fill="#55585c"/>
<rect x="1139.3" y="782.2" width="8" height="2" fill="#111"/>
<path d="M1184,907.8 L1184,806.2 A8.8,8.4 0 0 1 1201.6,806.2 L1201.6,907.8 A8.8,3 0 0 1 1184,907.8 Z" fill="#f08a30" stroke="#000" stroke-width="1.5" stroke-linejoin="round" />
<path d="M1191.2,797.8 L1191.2,795.3 L1189.3,795.3 L1189.3,793.3 L1191.2,793.3 L1191.2,791.8 L1194.4,791.8 L1194.4,793.3 L1196.3,793.3 L1196.3,795.3 L1194.4,795.3 L1194.4,797.8 Z" fill="#55585c"/>
<rect x="1188.8" y="789.8" width="8" height="2" fill="#111"/>
<path d="M1166.3,918.1 L1166.3,816.5 A8.8,8.4 0 0 1 1183.9,816.5 L1183.9,918.1 A8.8,3 0 0 1 1166.3,918.1 Z" fill="#f08a30" stroke="#000" stroke-width="1.5" stroke-linejoin="round" />
<path d="M1173.5,808.1 L1173.5,805.6 L1171.6,805.6 L1171.6,803.6 L1173.5,803.6 L1173.5,802.1 L1176.7,802.1 L1176.7,803.6 L1178.6,803.6 L1178.6,805.6 L1176.7,805.6 L1176.7,808.1 Z" fill="#55585c"/>
<rect x="1171.1" y="800.1" width="8" height="2" fill="#111"/>
<path d="M1103.7,918.2 L1103.7,816.6 A8.8,8.4 0 0 1 1121.3,816.6 L1121.3,918.2 A8.8,3 0 0 1 1103.7,918.2 Z" fill="#f08a30" stroke="#000" stroke-width="1.5" stroke-linejoin="round" />
<path d="M1110.9,808.2 L1110.9,805.7 L1109,805.7 L1109,803.7 L1110.9,803.7 L1110.9,802.2 L1114.1,802.2 L1114.1,803.7 L1116,803.7 L1116,805.7 L1114.1,805.7 L1114.1,808.2 Z" fill="#55585c"/>
<rect x="1108.5" y="800.2" width="8" height="2" fill="#111"/>
<path d="M1215.8,925.7 L1215.8,824.1 A8.8,8.4 0 0 1 1233.4,824.1 L1233.4,925.7 A8.8,3 0 0 1 1215.8,925.7 Z" fill="#f08a30" stroke="#000" stroke-width="1.5" stroke-linejoin="round" />
<path d="M1223,815.7 L1223,813.2 L1221.1,813.2 L1221.1,811.2 L1223,811.2 L1223,809.7 L1226.2,809.7 L1226.2,811.2 L1228.1,811.2 L1228.1,813.2 L1226.2,813.2 L1226.2,815.7 Z" fill="#55585c"/>
<rect x="1220.6" y="807.7" width="8" height="2" fill="#111"/>
<path d="M1086,928.5 L1086,826.9 A8.8,8.4 0 0 1 1103.6,826.9 L1103.6,928.5 A8.8,3 0 0 1 1086,928.5 Z" fill="#f08a30" stroke="#000" stroke-width="1.5" stroke-linejoin="round" />
<path d="M1093.2,818.5 L1093.2,816 L1091.3,816 L1091.3,814 L1093.2,814 L1093.2,812.5 L1096.4,812.5 L1096.4,814 L1098.3,814 L1098.3,816 L1096.4,816 L1096.4,818.5 Z" fill="#55585c"/>
<rect x="1090.8" y="810.5" width="8" height="2" fill="#111"/>
<path d="M1198.1,936 L1198.1,834.4 A8.8,8.4 0 0 1 1215.7,834.4 L1215.7,936 A8.8,3 0 0 1 1198.1,936 Z" fill="#f08a30" stroke="#000" stroke-width="1.5" stroke-linejoin="round" />
<path d="M1205.3,826 L1205.3,823.5 L1203.4,823.5 L1203.4,821.5 L1205.3,821.5 L1205.3,820 L1208.5,820 L1208.5,821.5 L1210.4,821.5 L1210.4,823.5 L1208.5,823.5 L1208.5,826 Z" fill="#55585c"/>
<rect x="1202.9" y="818" width="8" height="2" fill="#111"/>
<path d="M1135.5,936.1 L1135.5,834.5 A8.8,8.4 0 0 1 1153.1,834.5 L1153.1,936.1 A8.8,3 0 0 1 1135.5,936.1 Z" fill="#f08a30" stroke="#000" stroke-width="1.5" stroke-linejoin="round" />
<path d="M1142.7,826.1 L1142.7,823.6 L1140.8,823.6 L1140.8,821.6 L1142.7,821.6 L1142.7,820.1 L1145.9,820.1 L1145.9,821.6 L1147.8,821.6 L1147.8,823.6 L1145.9,823.6 L1145.9,826.1 Z" fill="#55585c"/>
<rect x="1140.3" y="818.1" width="8" height="2" fill="#111"/>
<path d="M1247.6,943.6 L1247.6,842 A8.8,8.4 0 0 1 1265.2,842 L1265.2,943.6 A8.8,3 0 0 1 1247.6,943.6 Z" fill="#f08a30" stroke="#000" stroke-width="1.5" stroke-linejoin="round" />
<path d="M1254.8,833.6 L1254.8,831.1 L1252.9,831.1 L1252.9,829.1 L1254.8,829.1 L1254.8,827.6 L1258,827.6 L1258,829.1 L1259.9,829.1 L1259.9,831.1 L1258,831.1 L1258,833.6 Z" fill="#55585c"/>
<rect x="1252.4" y="825.6" width="8" height="2" fill="#111"/>
<path d="M1117.8,946.4 L1117.8,844.8 A8.8,8.4 0 0 1 1135.4,844.8 L1135.4,946.4 A8.8,3 0 0 1 1117.8,946.4 Z" fill="#f08a30" stroke="#000" stroke-width="1.5" stroke-linejoin="round" />
<path d="M1125,836.4 L1125,833.9 L1123.1,833.9 L1123.1,831.9 L1125,831.9 L1125,830.4 L1128.2,830.4 L1128.2,831.9 L1130.1,831.9 L1130.1,833.9 L1128.2,833.9 L1128.2,836.4 Z" fill="#55585c"/>
<rect x="1122.6" y="828.4" width="8" height="2" fill="#111"/>
<path d="M1055.2,946.5 L1055.2,844.9 A8.8,8.4 0 0 1 1072.8,844.9 L1072.8,946.5 A8.8,3 0 0 1 1055.2,946.5 Z" fill="#f08a30" stroke="#000" stroke-width="1.5" stroke-linejoin="round" />
<path d="M1062.4,836.5 L1062.4,834 L1060.5,834 L1060.5,832 L1062.4,832 L1062.4,830.5 L1065.6,830.5 L1065.6,832 L1067.5,832 L1067.5,834 L1065.6,834 L1065.6,836.5 Z" fill="#55585c"/>
<rect x="1060" y="828.5" width="8" height="2" fill="#111"/>
<path d="M1229.9,953.9 L1229.9,852.3 A8.8,8.4 0 0 1 1247.5,852.3 L1247.5,953.9 A8.8,3 0 0 1 1229.9,953.9 Z" fill="#f08a30" stroke="#000" stroke-width="1.5" stroke-linejoin="round" />
<path d="M1237.1,843.9 L1237.1,841.4 L1235.2,841.4 L1235.2,839.4 L1237.1,839.4 L1237.1,837.9 L1240.3,837.9 L1240.3,839.4 L1242.2,839.4 L1242.2,841.4 L1240.3,841.4 L1240.3,843.9 Z" fill="#55585c"/>
<rect x="1234.7" y="835.9" width="8" height="2" fill="#111"/>
<path d="M1167.3,954 L1167.3,852.4 A8.8,8.4 0 0 1 1184.9,852.4 L1184.9,954 A8.8,3 0 0 1 1167.3,954 Z" fill="#f08a30" stroke="#000" stroke-width="1.5" stroke-linejoin="round" />
<path d="M1174.5,844 L1174.5,841.5 L1172.6,841.5 L1172.6,839.5 L1174.5,839.5 L1174.5,838 L1177.7,838 L1177.7,839.5 L1179.6,839.5 L1179.6,841.5 L1177.7,841.5 L1177.7,844 Z" fill="#55585c"/>
<rect x="1172.1" y="836" width="8" height="2" fill="#111"/>
<path d="M1037.5,956.8 L1037.5,855.2 A8.8,8.4 0 0 1 1055.1,855.2 L1055.1,956.8 A8.8,3 0 0 1 1037.5,956.8 Z" fill="#f08a30" stroke="#000" stroke-width="1.5" stroke-linejoin="round" />
<path d="M1044.7,846.8 L1044.7,844.3 L1042.8,844.3 L1042.8,842.3 L1044.7,842.3 L1044.7,840.8 L1047.9,840.8 L1047.9,842.3 L1049.8,842.3 L1049.8,844.3 L1047.9,844.3 L1047.9,846.8 Z" fill="#55585c"/>
<rect x="1042.3" y="838.8" width="8" height="2" fill="#111"/>
<path d="M1279.4,961.5 L1279.4,859.9 A8.8,8.4 0 0 1 1297,859.9 L1297,961.5 A8.8,3 0 0 1 1279.4,961.5 Z" fill="#f08a30" stroke="#000" stroke-width="1.5" stroke-linejoin="round" />
<path d="M1286.6,851.5 L1286.6,849 L1284.7,849 L1284.7,847 L1286.6,847 L1286.6,845.5 L1289.8,845.5 L1289.8,847 L1291.7,847 L1291.7,849 L1289.8,849 L1289.8,851.5 Z" fill="#55585c"/>
<rect x="1284.2" y="843.5" width="8" height="2" fill="#111"/>
<path d="M1149.6,964.3 L1149.6,862.7 A8.8,8.4 0 0 1 1167.2,862.7 L1167.2,964.3 A8.8,3 0 0 1 1149.6,964.3 Z" fill="#f08a30" stroke="#000" stroke-width="1.5" stroke-linejoin="round" />
<path d="M1156.8,854.3 L1156.8,851.8 L1154.9,851.8 L1154.9,849.8 L1156.8,849.8 L1156.8,848.3 L1160,848.3 L1160,849.8 L1161.9,849.8 L1161.9,851.8 L1160,851.8 L1160,854.3 Z" fill="#55585c"/>
<rect x="1154.4" y="846.3" width="8" height="2" fill="#111"/>
<path d="M1087,964.4 L1087,862.8 A8.8,8.4 0 0 1 1104.6,862.8 L1104.6,964.4 A8.8,3 0 0 1 1087,964.4 Z" fill="#f08a30" stroke="#000" stroke-width="1.5" stroke-linejoin="round" />
<path d="M1094.2,854.4 L1094.2,851.9 L1092.3,851.9 L1092.3,849.9 L1094.2,849.9 L1094.2,848.4 L1097.4,848.4 L1097.4,849.9 L1099.3,849.9 L1099.3,851.9 L1097.4,851.9 L1097.4,854.4 Z" fill="#55585c"/>
<rect x="1091.8" y="846.4" width="8" height="2" fill="#111"/>
<path d="M1261.7,971.8 L1261.7,870.2 A8.8,8.4 0 0 1 1279.3,870.2 L1279.3,971.8 A8.8,3 0 0 1 1261.7,971.8 Z" fill="#f08a30" stroke="#000" stroke-width="1.5" stroke-linejoin="round" />
<path d="M1268.9,861.8 L1268.9,859.3 L1267,859.3 L1267,857.3 L1268.9,857.3 L1268.9,855.8 L1272.1,855.8 L1272.1,857.3 L1274,857.3 L1274,859.3 L1272.1,859.3 L1272.1,861.8 Z" fill="#55585c"/>
<rect x="1266.5" y="853.8" width="8" height="2" fill="#111"/>
<path d="M1199.1,971.9 L1199.1,870.3 A8.8,8.4 0 0 1 1216.7,870.3 L1216.7,971.9 A8.8,3 0 0 1 1199.1,971.9 Z" fill="#f08a30" stroke="#000" stroke-width="1.5" stroke-linejoin="round" />
<path d="M1206.3,861.9 L1206.3,859.4 L1204.4,859.4 L1204.4,857.4 L1206.3,857.4 L1206.3,855.9 L1209.5,855.9 L1209.5,857.4 L1211.4,857.4 L1211.4,859.4 L1209.5,859.4 L1209.5,861.9 Z" fill="#55585c"/>
<rect x="1203.9" y="853.9" width="8" height="2" fill="#111"/>
<path d="M1069.3,974.7 L1069.3,873.1 A8.8,8.4 0 0 1 1086.9,873.1 L1086.9,974.7 A8.8,3 0 0 1 1069.3,974.7 Z" fill="#f08a30" stroke="#000" stroke-width="1.5" stroke-linejoin="round" />
<path d="M1076.5,864.7 L1076.5,862.2 L1074.6,862.2 L1074.6,860.2 L1076.5,860.2 L1076.5,858.7 L1079.7,858.7 L1079.7,860.2 L1081.6,860.2 L1081.6,862.2 L1079.7,862.2 L1079.7,864.7 Z" fill="#55585c"/>
<rect x="1074.1" y="856.7" width="8" height="2" fill="#111"/>
<path d="M1006.7,974.8 L1006.7,873.2 A8.8,8.4 0 0 1 1024.3,873.2 L1024.3,974.8 A8.8,3 0 0 1 1006.7,974.8 Z" fill="#056432" stroke="#000" stroke-width="1.5" stroke-linejoin="round" />
<path d="M1013.9,864.8 L1013.9,862.3 L1012,862.3 L1012,860.3 L1013.9,860.3 L1013.9,858.8 L1017.1,858.8 L1017.1,860.3 L1019,860.3 L1019,862.3 L1017.1,862.3 L1017.1,864.8 Z" fill="#55585c"/>
<rect x="1011.5" y="856.8" width="8" height="2" fill="#111"/>
<path d="M1311.2,979.4 L1311.2,877.8 A8.8,8.4 0 0 1 1328.8,877.8 L1328.8,979.4 A8.8,3 0 0 1 1311.2,979.4 Z" fill="#f08a30" stroke="#000" stroke-width="1.5" stroke-linejoin="round" />
<path d="M1318.4,869.4 L1318.4,866.9 L1316.5,866.9 L1316.5,864.9 L1318.4,864.9 L1318.4,863.4 L1321.6,863.4 L1321.6,864.9 L1323.5,864.9 L1323.5,866.9 L1321.6,866.9 L1321.6,869.4 Z" fill="#55585c"/>
<rect x="1316" y="861.4" width="8" height="2" fill="#111"/>
<path d="M1181.4,982.2 L1181.4,880.6 A8.8,8.4 0 0 1 1199,880.6 L1199,982.2 A8.8,3 0 0 1 1181.4,982.2 Z" fill="#f08a30" stroke="#000" stroke-width="1.5" stroke-linejoin="round" />
<path d="M1188.6,872.2 L1188.6,869.7 L1186.7,869.7 L1186.7,867.7 L1188.6,867.7 L1188.6,866.2 L1191.8,866.2 L1191.8,867.7 L1193.7,867.7 L1193.7,869.7 L1191.8,869.7 L1191.8,872.2 Z" fill="#55585c"/>
<rect x="1186.2" y="864.2" width="8" height="2" fill="#111"/>
<path d="M1118.8,982.3 L1118.8,880.7 A8.8,8.4 0 0 1 1136.4,880.7 L1136.4,982.3 A8.8,3 0 0 1 1118.8,982.3 Z" fill="#f08a30" stroke="#000" stroke-width="1.5" stroke-linejoin="round" />
<path d="M1126,872.3 L1126,869.8 L1124.1,869.8 L1124.1,867.8 L1126,867.8 L1126,866.3 L1129.2,866.3 L1129.2,867.8 L1131.1,867.8 L1131.1,869.8 L1129.2,869.8 L1129.2,872.3 Z" fill="#55585c"/>
<rect x="1123.6" y="864.3" width="8" height="2" fill="#111"/>
<path d="M989,985.1 L989,883.5 A8.8,8.4 0 0 1 1006.6,883.5 L1006.6,985.1 A8.8,3 0 0 1 989,985.1 Z" fill="#056432" stroke="#000" stroke-width="1.5" stroke-linejoin="round" />
<path d="M996.2,875.1 L996.2,872.6 L994.3,872.6 L994.3,870.6 L996.2,870.6 L996.2,869.1 L999.4,869.1 L999.4,870.6 L1001.3,870.6 L1001.3,872.6 L999.4,872.6 L999.4,875.1 Z" fill="#55585c"/>
<rect x="993.8" y="867.1" width="8" height="2" fill="#111"/>
<path d="M1293.5,989.7 L1293.5,888.1 A8.8,8.4 0 0 1 1311.1,888.1 L1311.1,989.7 A8.8,3 0 0 1 1293.5,989.7 Z" fill="#f08a30" stroke="#000" stroke-width="1.5" stroke-linejoin="round" />
<path d="M1300.7,879.7 L1300.7,877.2 L1298.8,877.2 L1298.8,875.2 L1300.7,875.2 L1300.7,873.7 L1303.9,873.7 L1303.9,875.2 L1305.8,875.2 L1305.8,877.2 L1303.9,877.2 L1303.9,879.7 Z" fill="#55585c"/>
<rect x="1298.3" y="871.7" width="8" height="2" fill="#111"/>
<path d="M1230.9,989.8 L1230.9,888.2 A8.8,8.4 0 0 1 1248.5,888.2 L1248.5,989.8 A8.8,3 0 0 1 1230.9,989.8 Z" fill="#f08a30" stroke="#000" stroke-width="1.5" stroke-linejoin="round" />
<path d="M1238.1,879.8 L1238.1,877.3 L1236.2,877.3 L1236.2,875.3 L1238.1,875.3 L1238.1,873.8 L1241.3,873.8 L1241.3,875.3 L1243.2,875.3 L1243.2,877.3 L1241.3,877.3 L1241.3,879.8 Z" fill="#55585c"/>
<rect x="1235.7" y="871.8" width="8" height="2" fill="#111"/>
<path d="M1101.1,992.6 L1101.1,891 A8.8,8.4 0 0 1 1118.7,891 L1118.7,992.6 A8.8,3 0 0 1 1101.1,992.6 Z" fill="#f08a30" stroke="#000" stroke-width="1.5" stroke-linejoin="round" />
<path d="M1108.3,882.6 L1108.3,880.1 L1106.4,880.1 L1106.4,878.1 L1108.3,878.1 L1108.3,876.6 L1111.5,876.6 L1111.5,878.1 L1113.4,878.1 L1113.4,880.1 L1111.5,880.1 L1111.5,882.6 Z" fill="#55585c"/>
<rect x="1105.9" y="874.6" width="8" height="2" fill="#111"/>
<path d="M1038.5,992.7 L1038.5,891.1 A8.8,8.4 0 0 1 1056.1,891.1 L1056.1,992.7 A8.8,3 0 0 1 1038.5,992.7 Z" fill="#056432" stroke="#000" stroke-width="1.5" stroke-linejoin="round" />
<path d="M1045.7,882.7 L1045.7,880.2 L1043.8,880.2 L1043.8,878.2 L1045.7,878.2 L1045.7,876.7 L1048.9,876.7 L1048.9,878.2 L1050.8,878.2 L1050.8,880.2 L1048.9,880.2 L1048.9,882.7 Z" fill="#55585c"/>
<rect x="1043.3" y="874.7" width="8" height="2" fill="#111"/>
<path d="M1343,997.3 L1343,895.7 A8.8,8.4 0 0 1 1360.6,895.7 L1360.6,997.3 A8.8,3 0 0 1 1343,997.3 Z" fill="#f08a30" stroke="#000" stroke-width="1.5" stroke-linejoin="round" />
<path d="M1350.2,887.3 L1350.2,884.8 L1348.3,884.8 L1348.3,882.8 L1350.2,882.8 L1350.2,881.3 L1353.4,881.3 L1353.4,882.8 L1355.3,882.8 L1355.3,884.8 L1353.4,884.8 L1353.4,887.3 Z" fill="#55585c"/>
<rect x="1347.8" y="879.3" width="8" height="2" fill="#111"/>
<path d="M1213.2,1000.1 L1213.2,898.5 A8.8,8.4 0 0 1 1230.8,898.5 L1230.8,1000.1 A8.8,3 0 0 1 1213.2,1000.1 Z" fill="#f08a30" stroke="#000" stroke-width="1.5" stroke-linejoin="round" />
<path d="M1220.4,890.1 L1220.4,887.6 L1218.5,887.6 L1218.5,885.6 L1220.4,885.6 L1220.4,884.1 L1223.6,884.1 L1223.6,885.6 L1225.5,885.6 L1225.5,887.6 L1223.6,887.6 L1223.6,890.1 Z" fill="#55585c"/>
<rect x="1218" y="882.1" width="8" height="2" fill="#111"/>
<path d="M1150.6,1000.2 L1150.6,898.6 A8.8,8.4 0 0 1 1168.2,898.6 L1168.2,1000.2 A8.8,3 0 0 1 1150.6,1000.2 Z" fill="#f08a30" stroke="#000" stroke-width="1.5" stroke-linejoin="round" />
<path d="M1157.8,890.2 L1157.8,887.7 L1155.9,887.7 L1155.9,885.7 L1157.8,885.7 L1157.8,884.2 L1161,884.2 L1161,885.7 L1162.9,885.7 L1162.9,887.7 L1161,887.7 L1161,890.2 Z" fill="#55585c"/>
<rect x="1155.4" y="882.2" width="8" height="2" fill="#111"/>
<path d="M1020.8,1003 L1020.8,901.4 A8.8,8.4 0 0 1 1038.4,901.4 L1038.4,1003 A8.8,3 0 0 1 1020.8,1003 Z" fill="#056432" stroke="#000" stroke-width="1.5" stroke-linejoin="round" />
<path d="M1028,893 L1028,890.5 L1026.1,890.5 L1026.1,888.5 L1028,888.5 L1028,887 L1031.2,887 L1031.2,888.5 L1033.1,888.5 L1033.1,890.5 L1031.2,890.5 L1031.2,893 Z" fill="#55585c"/>
<rect x="1025.6" y="885" width="8" height="2" fill="#111"/>
<path d="M958.2,1003.1 L958.2,901.5 A8.8,8.4 0 0 1 975.8,901.5 L975.8,1003.1 A8.8,3 0 0 1 958.2,1003.1 Z" fill="#056432" stroke="#000" stroke-width="1.5" stroke-linejoin="round" />
<path d="M965.4,893.1 L965.4,890.6 L963.5,890.6 L963.5,888.6 L965.4,888.6 L965.4,887.1 L968.6,887.1 L968.6,888.6 L970.5,888.6 L970.5,890.6 L968.6,890.6 L968.6,893.1 Z" fill="#55585c"/>
<rect x="963" y="885.1" width="8" height="2" fill="#111"/>
<path d="M1325.3,1007.6 L1325.3,906 A8.8,8.4 0 0 1 1342.9,906 L1342.9,1007.6 A8.8,3 0 0 1 1325.3,1007.6 Z" fill="#f08a30" stroke="#000" stroke-width="1.5" stroke-linejoin="round" />
<path d="M1332.5,897.6 L1332.5,895.1 L1330.6,895.1 L1330.6,893.1 L1332.5,893.1 L1332.5,891.6 L1335.7,891.6 L1335.7,893.1 L1337.6,893.1 L1337.6,895.1 L1335.7,895.1 L1335.7,897.6 Z" fill="#55585c"/>
<rect x="1330.1" y="889.6" width="8" height="2" fill="#111"/>
<path d="M1262.7,1007.7 L1262.7,906.1 A8.8,8.4 0 0 1 1280.3,906.1 L1280.3,1007.7 A8.8,3 0 0 1 1262.7,1007.7 Z" fill="#f08a30" stroke="#000" stroke-width="1.5" stroke-linejoin="round" />
<path d="M1269.9,897.7 L1269.9,895.2 L1268,895.2 L1268,893.2 L1269.9,893.2 L1269.9,891.7 L1273.1,891.7 L1273.1,893.2 L1275,893.2 L1275,895.2 L1273.1,895.2 L1273.1,897.7 Z" fill="#55585c"/>
<rect x="1267.5" y="889.7" width="8" height="2" fill="#111"/>
<path d="M1132.9,1010.5 L1132.9,908.9 A8.8,8.4 0 0 1 1150.5,908.9 L1150.5,1010.5 A8.8,3 0 0 1 1132.9,1010.5 Z" fill="#f08a30" stroke="#000" stroke-width="1.5" stroke-linejoin="round" />
<path d="M1140.1,900.5 L1140.1,898 L1138.2,898 L1138.2,896 L1140.1,896 L1140.1,894.5 L1143.3,894.5 L1143.3,896 L1145.2,896 L1145.2,898 L1143.3,898 L1143.3,900.5 Z" fill="#55585c"/>
<rect x="1137.7" y="892.5" width="8" height="2" fill="#111"/>
<path d="M1070.3,1010.6 L1070.3,909 A8.8,8.4 0 0 1 1087.9,909 L1087.9,1010.6 A8.8,3 0 0 1 1070.3,1010.6 Z" fill="#056432" stroke="#000" stroke-width="1.5" stroke-linejoin="round" />
<path d="M1077.5,900.6 L1077.5,898.1 L1075.6,898.1 L1075.6,896.1 L1077.5,896.1 L1077.5,894.6 L1080.7,894.6 L1080.7,896.1 L1082.6,896.1 L1082.6,898.1 L1080.7,898.1 L1080.7,900.6 Z" fill="#55585c"/>
<rect x="1075.1" y="892.6" width="8" height="2" fill="#111"/>
<path d="M940.5,1013.4 L940.5,911.8 A8.8,8.4 0 0 1 958.1,911.8 L958.1,1013.4 A8.8,3 0 0 1 940.5,1013.4 Z" fill="#056432" stroke="#000" stroke-width="1.5" stroke-linejoin="round" />
<path d="M947.7,903.4 L947.7,900.9 L945.8,900.9 L945.8,898.9 L947.7,898.9 L947.7,897.4 L950.9,897.4 L950.9,898.9 L952.8,898.9 L952.8,900.9 L950.9,900.9 L950.9,903.4 Z" fill="#55585c"/>
<rect x="945.3" y="895.4" width="8" height="2" fill="#111"/>
<path d="M1374.8,1015.2 L1374.8,913.6 A8.8,8.4 0 0 1 1392.4,913.6 L1392.4,1015.2 A8.8,3 0 0 1 1374.8,1015.2 Z" fill="#f08a30" stroke="#000" stroke-width="1.5" stroke-linejoin="round" />
<path d="M1382,905.2 L1382,902.7 L1380.1,902.7 L1380.1,900.7 L1382,900.7 L1382,899.2 L1385.2,899.2 L1385.2,900.7 L1387.1,900.7 L1387.1,902.7 L1385.2,902.7 L1385.2,905.2 Z" fill="#55585c"/>
<rect x="1379.6" y="897.2" width="8" height="2" fill="#111"/>
<path d="M1245,1018 L1245,916.4 A8.8,8.4 0 0 1 1262.6,916.4 L1262.6,1018 A8.8,3 0 0 1 1245,1018 Z" fill="#f08a30" stroke="#000" stroke-width="1.5" stroke-linejoin="round" />
<path d="M1252.2,908 L1252.2,905.5 L1250.3,905.5 L1250.3,903.5 L1252.2,903.5 L1252.2,902 L1255.4,902 L1255.4,903.5 L1257.3,903.5 L1257.3,905.5 L1255.4,905.5 L1255.4,908 Z" fill="#55585c"/>
<rect x="1249.8" y="900" width="8" height="2" fill="#111"/>
<path d="M1182.4,1018.1 L1182.4,916.5 A8.8,8.4 0 0 1 1200,916.5 L1200,1018.1 A8.8,3 0 0 1 1182.4,1018.1 Z" fill="#f08a30" stroke="#000" stroke-width="1.5" stroke-linejoin="round" />
<path d="M1189.6,908.1 L1189.6,905.6 L1187.7,905.6 L1187.7,903.6 L1189.6,903.6 L1189.6,902.1 L1192.8,902.1 L1192.8,903.6 L1194.7,903.6 L1194.7,905.6 L1192.8,905.6 L1192.8,908.1 Z" fill="#55585c"/>
<rect x="1187.2" y="900.1" width="8" height="2" fill="#111"/>
<path d="M1052.6,1020.9 L1052.6,919.3 A8.8,8.4 0 0 1 1070.2,919.3 L1070.2,1020.9 A8.8,3 0 0 1 1052.6,1020.9 Z" fill="#056432" stroke="#000" stroke-width="1.5" stroke-linejoin="round" />
<path d="M1059.8,910.9 L1059.8,908.4 L1057.9,908.4 L1057.9,906.4 L1059.8,906.4 L1059.8,904.9 L1063,904.9 L1063,906.4 L1064.9,906.4 L1064.9,908.4 L1063,908.4 L1063,910.9 Z" fill="#55585c"/>
<rect x="1057.4" y="902.9" width="8" height="2" fill="#111"/>
<path d="M990,1021 L990,919.4 A8.8,8.4 0 0 1 1007.6,919.4 L1007.6,1021 A8.8,3 0 0 1 990,1021 Z" fill="#056432" stroke="#000" stroke-width="1.5" stroke-linejoin="round" />
<path d="M997.2,911 L997.2,908.5 L995.3,908.5 L995.3,906.5 L997.2,906.5 L997.2,905 L1000.4,905 L1000.4,906.5 L1002.3,906.5 L1002.3,908.5 L1000.4,908.5 L1000.4,911 Z" fill="#55585c"/>
<rect x="994.8" y="903" width="8" height="2" fill="#111"/>
<path d="M1357.1,1025.5 L1357.1,923.9 A8.8,8.4 0 0 1 1374.7,923.9 L1374.7,1025.5 A8.8,3 0 0 1 1357.1,1025.5 Z" fill="#f08a30" stroke="#000" stroke-width="1.5" stroke-linejoin="round" />
<path d="M1364.3,915.5 L1364.3,913 L1362.4,913 L1362.4,911 L1364.3,911 L1364.3,909.5 L1367.5,909.5 L1367.5,911 L1369.4,911 L1369.4,913 L1367.5,913 L1367.5,915.5 Z" fill="#55585c"/>
<rect x="1361.9" y="907.5" width="8" height="2" fill="#111"/>
<path d="M1294.5,1025.6 L1294.5,924 A8.8,8.4 0 0 1 1312.1,924 L1312.1,1025.6 A8.8,3 0 0 1 1294.5,1025.6 Z" fill="#f08a30" stroke="#000" stroke-width="1.5" stroke-linejoin="round" />
<path d="M1301.7,915.6 L1301.7,913.1 L1299.8,913.1 L1299.8,911.1 L1301.7,911.1 L1301.7,909.6 L1304.9,909.6 L1304.9,911.1 L1306.8,911.1 L1306.8,913.1 L1304.9,913.1 L1304.9,915.6 Z" fill="#55585c"/>
<rect x="1299.3" y="907.6" width="8" height="2" fill="#111"/>
<path d="M1164.7,1028.4 L1164.7,926.8 A8.8,8.4 0 0 1 1182.3,926.8 L1182.3,1028.4 A8.8,3 0 0 1 1164.7,1028.4 Z" fill="#f08a30" stroke="#000" stroke-width="1.5" stroke-linejoin="round" />
<path d="M1171.9,918.4 L1171.9,915.9 L1170,915.9 L1170,913.9 L1171.9,913.9 L1171.9,912.4 L1175.1,912.4 L1175.1,913.9 L1177,913.9 L1177,915.9 L1175.1,915.9 L1175.1,918.4 Z" fill="#55585c"/>
<rect x="1169.5" y="910.4" width="8" height="2" fill="#111"/>
<path d="M1102.1,1028.5 L1102.1,926.9 A8.8,8.4 0 0 1 1119.7,926.9 L1119.7,1028.5 A8.8,3 0 0 1 1102.1,1028.5 Z" fill="#056432" stroke="#000" stroke-width="1.5" stroke-linejoin="round" />
<path d="M1109.3,918.5 L1109.3,916 L1107.4,916 L1107.4,914 L1109.3,914 L1109.3,912.5 L1112.5,912.5 L1112.5,914 L1114.4,914 L1114.4,916 L1112.5,916 L1112.5,918.5 Z" fill="#55585c"/>
<rect x="1106.9" y="910.5" width="8" height="2" fill="#111"/>
<path d="M972.3,1031.3 L972.3,929.7 A8.8,8.4 0 0 1 989.9,929.7 L989.9,1031.3 A8.8,3 0 0 1 972.3,1031.3 Z" fill="#056432" stroke="#000" stroke-width="1.5" stroke-linejoin="round" />
<path d="M979.5,921.3 L979.5,918.8 L977.6,918.8 L977.6,916.8 L979.5,916.8 L979.5,915.3 L982.7,915.3 L982.7,916.8 L984.6,916.8 L984.6,918.8 L982.7,918.8 L982.7,921.3 Z" fill="#55585c"/>
<rect x="977.1" y="913.3" width="8" height="2" fill="#111"/>
<path d="M909.7,1031.4 L909.7,929.8 A8.8,8.4 0 0 1 927.3,929.8 L927.3,1031.4 A8.8,3 0 0 1 909.7,1031.4 Z" fill="#056432" stroke="#000" stroke-width="1.5" stroke-linejoin="round" />
<path d="M916.9,921.4 L916.9,918.9 L915,918.9 L915,916.9 L916.9,916.9 L916.9,915.4 L920.1,915.4 L920.1,916.9 L922,916.9 L922,918.9 L920.1,918.9 L920.1,921.4 Z" fill="#55585c"/>
<rect x="914.5" y="913.4" width="8" height="2" fill="#111"/>
<path d="M1406.6,1033.1 L1406.6,931.5 A8.8,8.4 0 0 1 1424.2,931.5 L1424.2,1033.1 A8.8,3 0 0 1 1406.6,1033.1 Z" fill="#f08a30" stroke="#000" stroke-width="1.5" stroke-linejoin="round" />
<path d="M1413.8,923.1 L1413.8,920.6 L1411.9,920.6 L1411.9,918.6 L1413.8,918.6 L1413.8,917.1 L1417,917.1 L1417,918.6 L1418.9,918.6 L1418.9,920.6 L1417,920.6 L1417,923.1 Z" fill="#55585c"/>
<rect x="1411.4" y="915.1" width="8" height="2" fill="#111"/>
<path d="M1276.8,1035.9 L1276.8,934.3 A8.8,8.4 0 0 1 1294.4,934.3 L1294.4,1035.9 A8.8,3 0 0 1 1276.8,1035.9 Z" fill="#f08a30" stroke="#000" stroke-width="1.5" stroke-linejoin="round" />
<path d="M1284,925.9 L1284,923.4 L1282.1,923.4 L1282.1,921.4 L1284,921.4 L1284,919.9 L1287.2,919.9 L1287.2,921.4 L1289.1,921.4 L1289.1,923.4 L1287.2,923.4 L1287.2,925.9 Z" fill="#55585c"/>
<rect x="1281.6" y="917.9" width="8" height="2" fill="#111"/>
<path d="M1214.2,1036 L1214.2,934.4 A8.8,8.4 0 0 1 1231.8,934.4 L1231.8,1036 A8.8,3 0 0 1 1214.2,1036 Z" fill="#f08a30" stroke="#000" stroke-width="1.5" stroke-linejoin="round" />
<path d="M1221.4,926 L1221.4,923.5 L1219.5,923.5 L1219.5,921.5 L1221.4,921.5 L1221.4,920 L1224.6,920 L1224.6,921.5 L1226.5,921.5 L1226.5,923.5 L1224.6,923.5 L1224.6,926 Z" fill="#55585c"/>
<rect x="1219" y="918" width="8" height="2" fill="#111"/>
<path d="M1084.4,1038.8 L1084.4,937.2 A8.8,8.4 0 0 1 1102,937.2 L1102,1038.8 A8.8,3 0 0 1 1084.4,1038.8 Z" fill="#056432" stroke="#000" stroke-width="1.5" stroke-linejoin="round" />
<path d="M1091.6,928.8 L1091.6,926.3 L1089.7,926.3 L1089.7,924.3 L1091.6,924.3 L1091.6,922.8 L1094.8,922.8 L1094.8,924.3 L1096.7,924.3 L1096.7,926.3 L1094.8,926.3 L1094.8,928.8 Z" fill="#55585c"/>
<rect x="1089.2" y="920.8" width="8" height="2" fill="#111"/>
<path d="M1021.8,1038.9 L1021.8,937.3 A8.8,8.4 0 0 1 1039.4,937.3 L1039.4,1038.9 A8.8,3 0 0 1 1021.8,1038.9 Z" fill="#056432" stroke="#000" stroke-width="1.5" stroke-linejoin="round" />
<path d="M1029,928.9 L1029,926.4 L1027.1,926.4 L1027.1,924.4 L1029,924.4 L1029,922.9 L1032.2,922.9 L1032.2,924.4 L1034.1,924.4 L1034.1,926.4 L1032.2,926.4 L1032.2,928.9 Z" fill="#55585c"/>
<rect x="1026.6" y="920.9" width="8" height="2" fill="#111"/>
<path d="M892,1041.7 L892,940.1 A8.8,8.4 0 0 1 909.6,940.1 L909.6,1041.7 A8.8,3 0 0 1 892,1041.7 Z" fill="#056432" stroke="#000" stroke-width="1.5" stroke-linejoin="round" />
<path d="M899.2,931.7 L899.2,929.2 L897.3,929.2 L897.3,927.2 L899.2,927.2 L899.2,925.7 L902.4,925.7 L902.4,927.2 L904.3,927.2 L904.3,929.2 L902.4,929.2 L902.4,931.7 Z" fill="#55585c"/>
<rect x="896.8" y="923.7" width="8" height="2" fill="#111"/>
<path d="M1388.9,1043.4 L1388.9,941.8 A8.8,8.4 0 0 1 1406.5,941.8 L1406.5,1043.4 A8.8,3 0 0 1 1388.9,1043.4 Z" fill="#f08a30" stroke="#000" stroke-width="1.5" stroke-linejoin="round" />
<path d="M1396.1,933.4 L1396.1,930.9 L1394.2,930.9 L1394.2,928.9 L1396.1,928.9 L1396.1,927.4 L1399.3,927.4 L1399.3,928.9 L1401.2,928.9 L1401.2,930.9 L1399.3,930.9 L1399.3,933.4 Z" fill="#55585c"/>
<rect x="1393.7" y="925.4" width="8" height="2" fill="#111"/>
<path d="M1326.3,1043.5 L1326.3,941.9 A8.8,8.4 0 0 1 1343.9,941.9 L1343.9,1043.5 A8.8,3 0 0 1 1326.3,1043.5 Z" fill="#f08a30" stroke="#000" stroke-width="1.5" stroke-linejoin="round" />
<path d="M1333.5,933.5 L1333.5,931 L1331.6,931 L1331.6,929 L1333.5,929 L1333.5,927.5 L1336.7,927.5 L1336.7,929 L1338.6,929 L1338.6,931 L1336.7,931 L1336.7,933.5 Z" fill="#55585c"/>
<rect x="1331.1" y="925.5" width="8" height="2" fill="#111"/>
<path d="M1196.5,1046.3 L1196.5,944.7 A8.8,8.4 0 0 1 1214.1,944.7 L1214.1,1046.3 A8.8,3 0 0 1 1196.5,1046.3 Z" fill="#f08a30" stroke="#000" stroke-width="1.5" stroke-linejoin="round" />
<path d="M1203.7,936.3 L1203.7,933.8 L1201.8,933.8 L1201.8,931.8 L1203.7,931.8 L1203.7,930.3 L1206.9,930.3 L1206.9,931.8 L1208.8,931.8 L1208.8,933.8 L1206.9,933.8 L1206.9,936.3 Z" fill="#55585c"/>
<rect x="1201.3" y="928.3" width="8" height="2" fill="#111"/>
<path d="M1133.9,1046.4 L1133.9,944.8 A8.8,8.4 0 0 1 1151.5,944.8 L1151.5,1046.4 A8.8,3 0 0 1 1133.9,1046.4 Z" fill="#056432" stroke="#000" stroke-width="1.5" stroke-linejoin="round" />
<path d="M1141.1,936.4 L1141.1,933.9 L1139.2,933.9 L1139.2,931.9 L1141.1,931.9 L1141.1,930.4 L1144.3,930.4 L1144.3,931.9 L1146.2,931.9 L1146.2,933.9 L1144.3,933.9 L1144.3,936.4 Z" fill="#55585c"/>
<rect x="1138.7" y="928.4" width="8" height="2" fill="#111"/>
<path d="M1004.1,1049.2 L1004.1,947.6 A8.8,8.4 0 0 1 1021.7,947.6 L1021.7,1049.2 A8.8,3 0 0 1 1004.1,1049.2 Z" fill="#056432" stroke="#000" stroke-width="1.5" stroke-linejoin="round" />
<path d="M1011.3,939.2 L1011.3,936.7 L1009.4,936.7 L1009.4,934.7 L1011.3,934.7 L1011.3,933.2 L1014.5,933.2 L1014.5,934.7 L1016.4,934.7 L1016.4,936.7 L1014.5,936.7 L1014.5,939.2 Z" fill="#55585c"/>
<rect x="1008.9" y="931.2" width="8" height="2" fill="#111"/>
<path d="M941.5,1049.3 L941.5,947.7 A8.8,8.4 0 0 1 959.1,947.7 L959.1,1049.3 A8.8,3 0 0 1 941.5,1049.3 Z" fill="#056432" stroke="#000" stroke-width="1.5" stroke-linejoin="round" />
<path d="M948.7,939.3 L948.7,936.8 L946.8,936.8 L946.8,934.8 L948.7,934.8 L948.7,933.3 L951.9,933.3 L951.9,934.8 L953.8,934.8 L953.8,936.8 L951.9,936.8 L951.9,939.3 Z" fill="#55585c"/>
<rect x="946.3" y="931.3" width="8" height="2" fill="#111"/>
<path d="M1438.4,1051 L1438.4,949.4 A8.8,8.4 0 0 1 1456,949.4 L1456,1051 A8.8,3 0 0 1 1438.4,1051 Z" fill="#f08a30" stroke="#000" stroke-width="1.5" stroke-linejoin="round" />
<path d="M1445.6,941 L1445.6,938.5 L1443.7,938.5 L1443.7,936.5 L1445.6,936.5 L1445.6,935 L1448.8,935 L1448.8,936.5 L1450.7,936.5 L1450.7,938.5 L1448.8,938.5 L1448.8,941 Z" fill="#55585c"/>
<rect x="1443.2" y="933" width="8" height="2" fill="#111"/>
<path d="M1308.6,1053.8 L1308.6,952.2 A8.8,8.4 0 0 1 1326.2,952.2 L1326.2,1053.8 A8.8,3 0 0 1 1308.6,1053.8 Z" fill="#f08a30" stroke="#000" stroke-width="1.5" stroke-linejoin="round" />
<path d="M1315.8,943.8 L1315.8,941.3 L1313.9,941.3 L1313.9,939.3 L1315.8,939.3 L1315.8,937.8 L1319,937.8 L1319,939.3 L1320.9,939.3 L1320.9,941.3 L1319,941.3 L1319,943.8 Z" fill="#55585c"/>
<rect x="1313.4" y="935.8" width="8" height="2" fill="#111"/>
<path d="M1246,1053.9 L1246,952.3 A8.8,8.4 0 0 1 1263.6,952.3 L1263.6,1053.9 A8.8,3 0 0 1 1246,1053.9 Z" fill="#f08a30" stroke="#000" stroke-width="1.5" stroke-linejoin="round" />
<path d="M1253.2,943.9 L1253.2,941.4 L1251.3,941.4 L1251.3,939.4 L1253.2,939.4 L1253.2,937.9 L1256.4,937.9 L1256.4,939.4 L1258.3,939.4 L1258.3,941.4 L1256.4,941.4 L1256.4,943.9 Z" fill="#55585c"/>
<rect x="1250.8" y="935.9" width="8" height="2" fill="#111"/>
<path d="M1116.2,1056.7 L1116.2,955.1 A8.8,8.4 0 0 1 1133.8,955.1 L1133.8,1056.7 A8.8,3 0 0 1 1116.2,1056.7 Z" fill="#056432" stroke="#000" stroke-width="1.5" stroke-linejoin="round" />
<path d="M1123.4,946.7 L1123.4,944.2 L1121.5,944.2 L1121.5,942.2 L1123.4,942.2 L1123.4,940.7 L1126.6,940.7 L1126.6,942.2 L1128.5,942.2 L1128.5,944.2 L1126.6,944.2 L1126.6,946.7 Z" fill="#55585c"/>
<rect x="1121" y="938.7" width="8" height="2" fill="#111"/>
<path d="M1053.6,1056.8 L1053.6,955.2 A8.8,8.4 0 0 1 1071.2,955.2 L1071.2,1056.8 A8.8,3 0 0 1 1053.6,1056.8 Z" fill="#056432" stroke="#000" stroke-width="1.5" stroke-linejoin="round" />
<path d="M1060.8,946.8 L1060.8,944.3 L1058.9,944.3 L1058.9,942.3 L1060.8,942.3 L1060.8,940.8 L1064,940.8 L1064,942.3 L1065.9,942.3 L1065.9,944.3 L1064,944.3 L1064,946.8 Z" fill="#55585c"/>
<rect x="1058.4" y="938.8" width="8" height="2" fill="#111"/>
<path d="M923.8,1059.6 L923.8,958 A8.8,8.4 0 0 1 941.4,958 L941.4,1059.6 A8.8,3 0 0 1 923.8,1059.6 Z" fill="#056432" stroke="#000" stroke-width="1.5" stroke-linejoin="round" />
<path d="M931,949.6 L931,947.1 L929.1,947.1 L929.1,945.1 L931,945.1 L931,943.6 L934.2,943.6 L934.2,945.1 L936.1,945.1 L936.1,947.1 L934.2,947.1 L934.2,949.6 Z" fill="#55585c"/>
<rect x="928.6" y="941.6" width="8" height="2" fill="#111"/>
<path d="M1420.7,1061.3 L1420.7,959.7 A8.8,8.4 0 0 1 1438.3,959.7 L1438.3,1061.3 A8.8,3 0 0 1 1420.7,1061.3 Z" fill="#f08a30" stroke="#000" stroke-width="1.5" stroke-linejoin="round" />
<path d="M1427.9,951.3 L1427.9,948.8 L1426,948.8 L1426,946.8 L1427.9,946.8 L1427.9,945.3 L1431.1,945.3 L1431.1,946.8 L1433,946.8 L1433,948.8 L1431.1,948.8 L1431.1,951.3 Z" fill="#55585c"/>
<rect x="1425.5" y="943.3" width="8" height="2" fill="#111"/>
<path d="M1358.1,1061.4 L1358.1,959.8 A8.8,8.4 0 0 1 1375.7,959.8 L1375.7,1061.4 A8.8,3 0 0 1 1358.1,1061.4 Z" fill="#f08a30" stroke="#000" stroke-width="1.5" stroke-linejoin="round" />
<path d="M1365.3,951.4 L1365.3,948.9 L1363.4,948.9 L1363.4,946.9 L1365.3,946.9 L1365.3,945.4 L1368.5,945.4 L1368.5,946.9 L1370.4,946.9 L1370.4,948.9 L1368.5,948.9 L1368.5,951.4 Z" fill="#55585c"/>
<rect x="1362.9" y="943.4" width="8" height="2" fill="#111"/>
<path d="M1228.3,1064.2 L1228.3,962.6 A8.8,8.4 0 0 1 1245.9,962.6 L1245.9,1064.2 A8.8,3 0 0 1 1228.3,1064.2 Z" fill="#f08a30" stroke="#000" stroke-width="1.5" stroke-linejoin="round" />
<path d="M1235.5,954.2 L1235.5,951.7 L1233.6,951.7 L1233.6,949.7 L1235.5,949.7 L1235.5,948.2 L1238.7,948.2 L1238.7,949.7 L1240.6,949.7 L1240.6,951.7 L1238.7,951.7 L1238.7,954.2 Z" fill="#55585c"/>
<rect x="1233.1" y="946.2" width="8" height="2" fill="#111"/>
<path d="M1165.7,1064.3 L1165.7,962.7 A8.8,8.4 0 0 1 1183.3,962.7 L1183.3,1064.3 A8.8,3 0 0 1 1165.7,1064.3 Z" fill="#056432" stroke="#000" stroke-width="1.5" stroke-linejoin="round" />
<path d="M1172.9,954.3 L1172.9,951.8 L1171,951.8 L1171,949.8 L1172.9,949.8 L1172.9,948.3 L1176.1,948.3 L1176.1,949.8 L1178,949.8 L1178,951.8 L1176.1,951.8 L1176.1,954.3 Z" fill="#55585c"/>
<rect x="1170.5" y="946.3" width="8" height="2" fill="#111"/>
<path d="M1035.9,1067.1 L1035.9,965.5 A8.8,8.4 0 0 1 1053.5,965.5 L1053.5,1067.1 A8.8,3 0 0 1 1035.9,1067.1 Z" fill="#056432" stroke="#000" stroke-width="1.5" stroke-linejoin="round" />
<path d="M1043.1,957.1 L1043.1,954.6 L1041.2,954.6 L1041.2,952.6 L1043.1,952.6 L1043.1,951.1 L1046.3,951.1 L1046.3,952.6 L1048.2,952.6 L1048.2,954.6 L1046.3,954.6 L1046.3,957.1 Z" fill="#55585c"/>
<rect x="1040.7" y="949.1" width="8" height="2" fill="#111"/>
<path d="M973.3,1067.2 L973.3,965.6 A8.8,8.4 0 0 1 990.9,965.6 L990.9,1067.2 A8.8,3 0 0 1 973.3,1067.2 Z" fill="#056432" stroke="#000" stroke-width="1.5" stroke-linejoin="round" />
<path d="M980.5,957.2 L980.5,954.7 L978.6,954.7 L978.6,952.7 L980.5,952.7 L980.5,951.2 L983.7,951.2 L983.7,952.7 L985.6,952.7 L985.6,954.7 L983.7,954.7 L983.7,957.2 Z" fill="#55585c"/>
<rect x="978.1" y="949.2" width="8" height="2" fill="#111"/>
<path d="M1340.4,1071.7 L1340.4,970.1 A8.8,8.4 0 0 1 1358,970.1 L1358,1071.7 A8.8,3 0 0 1 1340.4,1071.7 Z" fill="#f08a30" stroke="#000" stroke-width="1.5" stroke-linejoin="round" />
<path d="M1347.6,961.7 L1347.6,959.2 L1345.7,959.2 L1345.7,957.2 L1347.6,957.2 L1347.6,955.7 L1350.8,955.7 L1350.8,957.2 L1352.7,957.2 L1352.7,959.2 L1350.8,959.2 L1350.8,961.7 Z" fill="#55585c"/>
<rect x="1345.2" y="953.7" width="8" height="2" fill="#111"/>
<path d="M1277.8,1071.8 L1277.8,970.2 A8.8,8.4 0 0 1 1295.4,970.2 L1295.4,1071.8 A8.8,3 0 0 1 1277.8,1071.8 Z" fill="#f08a30" stroke="#000" stroke-width="1.5" stroke-linejoin="round" />
<path d="M1285,961.8 L1285,959.3 L1283.1,959.3 L1283.1,957.3 L1285,957.3 L1285,955.8 L1288.2,955.8 L1288.2,957.3 L1290.1,957.3 L1290.1,959.3 L1288.2,959.3 L1288.2,961.8 Z" fill="#55585c"/>
<rect x="1282.6" y="953.8" width="8" height="2" fill="#111"/>
<path d="M1148,1074.6 L1148,973 A8.8,8.4 0 0 1 1165.6,973 L1165.6,1074.6 A8.8,3 0 0 1 1148,1074.6 Z" fill="#056432" stroke="#000" stroke-width="1.5" stroke-linejoin="round" />
<path d="M1155.2,964.6 L1155.2,962.1 L1153.3,962.1 L1153.3,960.1 L1155.2,960.1 L1155.2,958.6 L1158.4,958.6 L1158.4,960.1 L1160.3,960.1 L1160.3,962.1 L1158.4,962.1 L1158.4,964.6 Z" fill="#55585c"/>
<rect x="1152.8" y="956.6" width="8" height="2" fill="#111"/>
<path d="M1085.4,1074.7 L1085.4,973.1 A8.8,8.4 0 0 1 1103,973.1 L1103,1074.7 A8.8,3 0 0 1 1085.4,1074.7 Z" fill="#056432" stroke="#000" stroke-width="1.5" stroke-linejoin="round" />
<path d="M1092.6,964.7 L1092.6,962.2 L1090.7,962.2 L1090.7,960.2 L1092.6,960.2 L1092.6,958.7 L1095.8,958.7 L1095.8,960.2 L1097.7,960.2 L1097.7,962.2 L1095.8,962.2 L1095.8,964.7 Z" fill="#55585c"/>
<rect x="1090.2" y="956.7" width="8" height="2" fill="#111"/>
<path d="M955.6,1077.5 L955.6,975.9 A8.8,8.4 0 0 1 973.2,975.9 L973.2,1077.5 A8.8,3 0 0 1 955.6,1077.5 Z" fill="#056432" stroke="#000" stroke-width="1.5" stroke-linejoin="round" />
<path d="M962.8,967.5 L962.8,965 L960.9,965 L960.9,963 L962.8,963 L962.8,961.5 L966,961.5 L966,963 L967.9,963 L967.9,965 L966,965 L966,967.5 Z" fill="#55585c"/>
<rect x="960.4" y="959.5" width="8" height="2" fill="#111"/>
<path d="M1389.9,1079.3 L1389.9,977.7 A8.8,8.4 0 0 1 1407.5,977.7 L1407.5,1079.3 A8.8,3 0 0 1 1389.9,1079.3 Z" fill="#f08a30" stroke="#000" stroke-width="1.5" stroke-linejoin="round" />
<path d="M1397.1,969.3 L1397.1,966.8 L1395.2,966.8 L1395.2,964.8 L1397.1,964.8 L1397.1,963.3 L1400.3,963.3 L1400.3,964.8 L1402.2,964.8 L1402.2,966.8 L1400.3,966.8 L1400.3,969.3 Z" fill="#55585c"/>
<rect x="1394.7" y="961.3" width="8" height="2" fill="#111"/>
<path d="M1260.1,1082.1 L1260.1,980.5 A8.8,8.4 0 0 1 1277.7,980.5 L1277.7,1082.1 A8.8,3 0 0 1 1260.1,1082.1 Z" fill="#f08a30" stroke="#000" stroke-width="1.5" stroke-linejoin="round" />
<path d="M1267.3,972.1 L1267.3,969.6 L1265.4,969.6 L1265.4,967.6 L1267.3,967.6 L1267.3,966.1 L1270.5,966.1 L1270.5,967.6 L1272.4,967.6 L1272.4,969.6 L1270.5,969.6 L1270.5,972.1 Z" fill="#55585c"/>
<rect x="1264.9" y="964.1" width="8" height="2" fill="#111"/>
<path d="M1197.5,1082.2 L1197.5,980.6 A8.8,8.4 0 0 1 1215.1,980.6 L1215.1,1082.2 A8.8,3 0 0 1 1197.5,1082.2 Z" fill="#056432" stroke="#000" stroke-width="1.5" stroke-linejoin="round" />
<path d="M1204.7,972.2 L1204.7,969.7 L1202.8,969.7 L1202.8,967.7 L1204.7,967.7 L1204.7,966.2 L1207.9,966.2 L1207.9,967.7 L1209.8,967.7 L1209.8,969.7 L1207.9,969.7 L1207.9,972.2 Z" fill="#55585c"/>
<rect x="1202.3" y="964.2" width="8" height="2" fill="#111"/>
<path d="M1067.7,1085 L1067.7,983.4 A8.8,8.4 0 0 1 1085.3,983.4 L1085.3,1085 A8.8,3 0 0 1 1067.7,1085 Z" fill="#056432" stroke="#000" stroke-width="1.5" stroke-linejoin="round" />
<path d="M1074.9,975 L1074.9,972.5 L1073,972.5 L1073,970.5 L1074.9,970.5 L1074.9,969 L1078.1,969 L1078.1,970.5 L1080,970.5 L1080,972.5 L1078.1,972.5 L1078.1,975 Z" fill="#55585c"/>
<rect x="1072.5" y="967" width="8" height="2" fill="#111"/>
<path d="M1005.1,1085.1 L1005.1,983.5 A8.8,8.4 0 0 1 1022.7,983.5 L1022.7,1085.1 A8.8,3 0 0 1 1005.1,1085.1 Z" fill="#056432" stroke="#000" stroke-width="1.5" stroke-linejoin="round" />
<path d="M1012.3,975.1 L1012.3,972.6 L1010.4,972.6 L1010.4,970.6 L1012.3,970.6 L1012.3,969.1 L1015.5,969.1 L1015.5,970.6 L1017.4,970.6 L1017.4,972.6 L1015.5,972.6 L1015.5,975.1 Z" fill="#55585c"/>
<rect x="1009.9" y="967.1" width="8" height="2" fill="#111"/>
<path d="M1372.2,1089.6 L1372.2,988 A8.8,8.4 0 0 1 1389.8,988 L1389.8,1089.6 A8.8,3 0 0 1 1372.2,1089.6 Z" fill="#f08a30" stroke="#000" stroke-width="1.5" stroke-linejoin="round" />
<path d="M1379.4,979.6 L1379.4,977.1 L1377.5,977.1 L1377.5,975.1 L1379.4,975.1 L1379.4,973.6 L1382.6,973.6 L1382.6,975.1 L1384.5,975.1 L1384.5,977.1 L1382.6,977.1 L1382.6,979.6 Z" fill="#55585c"/>
<rect x="1377" y="971.6" width="8" height="2" fill="#111"/>
<path d="M1309.6,1089.7 L1309.6,988.1 A8.8,8.4 0 0 1 1327.2,988.1 L1327.2,1089.7 A8.8,3 0 0 1 1309.6,1089.7 Z" fill="#f08a30" stroke="#000" stroke-width="1.5" stroke-linejoin="round" />
<path d="M1316.8,979.7 L1316.8,977.2 L1314.9,977.2 L1314.9,975.2 L1316.8,975.2 L1316.8,973.7 L1320,973.7 L1320,975.2 L1321.9,975.2 L1321.9,977.2 L1320,977.2 L1320,979.7 Z" fill="#55585c"/>
<rect x="1314.4" y="971.7" width="8" height="2" fill="#111"/>
<path d="M1179.8,1092.5 L1179.8,990.9 A8.8,8.4 0 0 1 1197.4,990.9 L1197.4,1092.5 A8.8,3 0 0 1 1179.8,1092.5 Z" fill="#056432" stroke="#000" stroke-width="1.5" stroke-linejoin="round" />
<path d="M1187,982.5 L1187,980 L1185.1,980 L1185.1,978 L1187,978 L1187,976.5 L1190.2,976.5 L1190.2,978 L1192.1,978 L1192.1,980 L1190.2,980 L1190.2,982.5 Z" fill="#55585c"/>
<rect x="1184.6" y="974.5" width="8" height="2" fill="#111"/>
<path d="M1117.2,1092.6 L1117.2,991 A8.8,8.4 0 0 1 1134.8,991 L1134.8,1092.6 A8.8,3 0 0 1 1117.2,1092.6 Z" fill="#056432" stroke="#000" stroke-width="1.5" stroke-linejoin="round" />
<path d="M1124.4,982.6 L1124.4,980.1 L1122.5,980.1 L1122.5,978.1 L1124.4,978.1 L1124.4,976.6 L1127.6,976.6 L1127.6,978.1 L1129.5,978.1 L1129.5,980.1 L1127.6,980.1 L1127.6,982.6 Z" fill="#55585c"/>
<rect x="1122" y="974.6" width="8" height="2" fill="#111"/>
<path d="M987.4,1095.4 L987.4,993.8 A8.8,8.4 0 0 1 1005,993.8 L1005,1095.4 A8.8,3 0 0 1 987.4,1095.4 Z" fill="#056432" stroke="#000" stroke-width="1.5" stroke-linejoin="round" />
<path d="M994.6,985.4 L994.6,982.9 L992.7,982.9 L992.7,980.9 L994.6,980.9 L994.6,979.4 L997.8,979.4 L997.8,980.9 L999.7,980.9 L999.7,982.9 L997.8,982.9 L997.8,985.4 Z" fill="#55585c"/>
<rect x="992.2" y="977.4" width="8" height="2" fill="#111"/>
<path d="M1291.9,1100 L1291.9,998.4 A8.8,8.4 0 0 1 1309.5,998.4 L1309.5,1100 A8.8,3 0 0 1 1291.9,1100 Z" fill="#f08a30" stroke="#000" stroke-width="1.5" stroke-linejoin="round" />
<path d="M1299.1,990 L1299.1,987.5 L1297.2,987.5 L1297.2,985.5 L1299.1,985.5 L1299.1,984 L1302.3,984 L1302.3,985.5 L1304.2,985.5 L1304.2,987.5 L1302.3,987.5 L1302.3,990 Z" fill="#55585c"/>
<rect x="1296.7" y="982" width="8" height="2" fill="#111"/>
<path d="M1229.3,1100.1 L1229.3,998.5 A8.8,8.4 0 0 1 1246.9,998.5 L1246.9,1100.1 A8.8,3 0 0 1 1229.3,1100.1 Z" fill="#056432" stroke="#000" stroke-width="1.5" stroke-linejoin="round" />
<path d="M1236.5,990.1 L1236.5,987.6 L1234.6,987.6 L1234.6,985.6 L1236.5,985.6 L1236.5,984.1 L1239.7,984.1 L1239.7,985.6 L1241.6,985.6 L1241.6,987.6 L1239.7,987.6 L1239.7,990.1 Z" fill="#55585c"/>
<rect x="1234.1" y="982.1" width="8" height="2" fill="#111"/>
<path d="M1099.5,1102.9 L1099.5,1001.3 A8.8,8.4 0 0 1 1117.1,1001.3 L1117.1,1102.9 A8.8,3 0 0 1 1099.5,1102.9 Z" fill="#056432" stroke="#000" stroke-width="1.5" stroke-linejoin="round" />
<path d="M1106.7,992.9 L1106.7,990.4 L1104.8,990.4 L1104.8,988.4 L1106.7,988.4 L1106.7,986.9 L1109.9,986.9 L1109.9,988.4 L1111.8,988.4 L1111.8,990.4 L1109.9,990.4 L1109.9,992.9 Z" fill="#55585c"/>
<rect x="1104.3" y="984.9" width="8" height="2" fill="#111"/>
<path d="M1036.9,1103 L1036.9,1001.4 A8.8,8.4 0 0 1 1054.5,1001.4 L1054.5,1103 A8.8,3 0 0 1 1036.9,1103 Z" fill="#056432" stroke="#000" stroke-width="1.5" stroke-linejoin="round" />
<path d="M1044.1,993 L1044.1,990.5 L1042.2,990.5 L1042.2,988.5 L1044.1,988.5 L1044.1,987 L1047.3,987 L1047.3,988.5 L1049.2,988.5 L1049.2,990.5 L1047.3,990.5 L1047.3,993 Z" fill="#55585c"/>
<rect x="1041.7" y="985" width="8" height="2" fill="#111"/>
<path d="M1341.4,1107.6 L1341.4,1006 A8.8,8.4 0 0 1 1359,1006 L1359,1107.6 A8.8,3 0 0 1 1341.4,1107.6 Z" fill="#f08a30" stroke="#000" stroke-width="1.5" stroke-linejoin="round" />
<path d="M1348.6,997.6 L1348.6,995.1 L1346.7,995.1 L1346.7,993.1 L1348.6,993.1 L1348.6,991.6 L1351.8,991.6 L1351.8,993.1 L1353.7,993.1 L1353.7,995.1 L1351.8,995.1 L1351.8,997.6 Z" fill="#55585c"/>
<rect x="1346.2" y="989.6" width="8" height="2" fill="#111"/>
<path d="M1211.6,1110.4 L1211.6,1008.8 A8.8,8.4 0 0 1 1229.2,1008.8 L1229.2,1110.4 A8.8,3 0 0 1 1211.6,1110.4 Z" fill="#056432" stroke="#000" stroke-width="1.5" stroke-linejoin="round" />
<path d="M1218.8,1000.4 L1218.8,997.9 L1216.9,997.9 L1216.9,995.9 L1218.8,995.9 L1218.8,994.4 L1222,994.4 L1222,995.9 L1223.9,995.9 L1223.9,997.9 L1222,997.9 L1222,1000.4 Z" fill="#55585c"/>
<rect x="1216.4" y="992.4" width="8" height="2" fill="#111"/>
<path d="M1149,1110.5 L1149,1008.9 A8.8,8.4 0 0 1 1166.6,1008.9 L1166.6,1110.5 A8.8,3 0 0 1 1149,1110.5 Z" fill="#056432" stroke="#000" stroke-width="1.5" stroke-linejoin="round" />
<path d="M1156.2,1000.5 L1156.2,998 L1154.3,998 L1154.3,996 L1156.2,996 L1156.2,994.5 L1159.4,994.5 L1159.4,996 L1161.3,996 L1161.3,998 L1159.4,998 L1159.4,1000.5 Z" fill="#55585c"/>
<rect x="1153.8" y="992.5" width="8" height="2" fill="#111"/>
<path d="M1019.2,1113.3 L1019.2,1011.7 A8.8,8.4 0 0 1 1036.8,1011.7 L1036.8,1113.3 A8.8,3 0 0 1 1019.2,1113.3 Z" fill="#056432" stroke="#000" stroke-width="1.5" stroke-linejoin="round" />
<path d="M1026.4,1003.3 L1026.4,1000.8 L1024.5,1000.8 L1024.5,998.8 L1026.4,998.8 L1026.4,997.3 L1029.6,997.3 L1029.6,998.8 L1031.5,998.8 L1031.5,1000.8 L1029.6,1000.8 L1029.6,1003.3 Z" fill="#55585c"/>
<rect x="1024" y="995.3" width="8" height="2" fill="#111"/>
<path d="M1323.7,1117.9 L1323.7,1016.3 A8.8,8.4 0 0 1 1341.3,1016.3 L1341.3,1117.9 A8.8,3 0 0 1 1323.7,1117.9 Z" fill="#f08a30" stroke="#000" stroke-width="1.5" stroke-linejoin="round" />
<path d="M1330.9,1007.9 L1330.9,1005.4 L1329,1005.4 L1329,1003.4 L1330.9,1003.4 L1330.9,1001.9 L1334.1,1001.9 L1334.1,1003.4 L1336,1003.4 L1336,1005.4 L1334.1,1005.4 L1334.1,1007.9 Z" fill="#55585c"/>
<rect x="1328.5" y="999.9" width="8" height="2" fill="#111"/>
<path d="M1261.1,1118 L1261.1,1016.4 A8.8,8.4 0 0 1 1278.7,1016.4 L1278.7,1118 A8.8,3 0 0 1 1261.1,1118 Z" fill="#056432" stroke="#000" stroke-width="1.5" stroke-linejoin="round" />
<path d="M1268.3,1008 L1268.3,1005.5 L1266.4,1005.5 L1266.4,1003.5 L1268.3,1003.5 L1268.3,1002 L1271.5,1002 L1271.5,1003.5 L1273.4,1003.5 L1273.4,1005.5 L1271.5,1005.5 L1271.5,1008 Z" fill="#55585c"/>
<rect x="1265.9" y="1000" width="8" height="2" fill="#111"/>
<path d="M1131.3,1120.8 L1131.3,1019.2 A8.8,8.4 0 0 1 1148.9,1019.2 L1148.9,1120.8 A8.8,3 0 0 1 1131.3,1120.8 Z" fill="#056432" stroke="#000" stroke-width="1.5" stroke-linejoin="round" />
<path d="M1138.5,1010.8 L1138.5,1008.3 L1136.6,1008.3 L1136.6,1006.3 L1138.5,1006.3 L1138.5,1004.8 L1141.7,1004.8 L1141.7,1006.3 L1143.6,1006.3 L1143.6,1008.3 L1141.7,1008.3 L1141.7,1010.8 Z" fill="#55585c"/>
<rect x="1136.1" y="1002.8" width="8" height="2" fill="#111"/>
<path d="M1068.7,1120.9 L1068.7,1019.3 A8.8,8.4 0 0 1 1086.3,1019.3 L1086.3,1120.9 A8.8,3 0 0 1 1068.7,1120.9 Z" fill="#056432" stroke="#000" stroke-width="1.5" stroke-linejoin="round" />
<path d="M1075.9,1010.9 L1075.9,1008.4 L1074,1008.4 L1074,1006.4 L1075.9,1006.4 L1075.9,1004.9 L1079.1,1004.9 L1079.1,1006.4 L1081,1006.4 L1081,1008.4 L1079.1,1008.4 L1079.1,1010.9 Z" fill="#55585c"/>
<rect x="1073.5" y="1002.9" width="8" height="2" fill="#111"/>
<path d="M1243.4,1128.3 L1243.4,1026.7 A8.8,8.4 0 0 1 1261,1026.7 L1261,1128.3 A8.8,3 0 0 1 1243.4,1128.3 Z" fill="#056432" stroke="#000" stroke-width="1.5" stroke-linejoin="round" />
<path d="M1250.6,1018.3 L1250.6,1015.8 L1248.7,1015.8 L1248.7,1013.8 L1250.6,1013.8 L1250.6,1012.3 L1253.8,1012.3 L1253.8,1013.8 L1255.7,1013.8 L1255.7,1015.8 L1253.8,1015.8 L1253.8,1018.3 Z" fill="#55585c"/>
<rect x="1248.2" y="1010.3" width="8" height="2" fill="#111"/>
<path d="M1180.8,1128.4 L1180.8,1026.8 A8.8,8.4 0 0 1 1198.4,1026.8 L1198.4,1128.4 A8.8,3 0 0 1 1180.8,1128.4 Z" fill="#056432" stroke="#000" stroke-width="1.5" stroke-linejoin="round" />
<path d="M1188,1018.4 L1188,1015.9 L1186.1,1015.9 L1186.1,1013.9 L1188,1013.9 L1188,1012.4 L1191.2,1012.4 L1191.2,1013.9 L1193.1,1013.9 L1193.1,1015.9 L1191.2,1015.9 L1191.2,1018.4 Z" fill="#55585c"/>
<rect x="1185.6" y="1010.4" width="8" height="2" fill="#111"/>
<path d="M1051,1131.2 L1051,1029.6 A8.8,8.4 0 0 1 1068.6,1029.6 L1068.6,1131.2 A8.8,3 0 0 1 1051,1131.2 Z" fill="#056432" stroke="#000" stroke-width="1.5" stroke-linejoin="round" />
<path d="M1058.2,1021.2 L1058.2,1018.7 L1056.3,1018.7 L1056.3,1016.7 L1058.2,1016.7 L1058.2,1015.2 L1061.4,1015.2 L1061.4,1016.7 L1063.3,1016.7 L1063.3,1018.7 L1061.4,1018.7 L1061.4,1021.2 Z" fill="#55585c"/>
<rect x="1055.8" y="1013.2" width="8" height="2" fill="#111"/>
<path d="M1292.9,1135.9 L1292.9,1034.3 A8.8,8.4 0 0 1 1310.5,1034.3 L1310.5,1135.9 A8.8,3 0 0 1 1292.9,1135.9 Z" fill="#056432" stroke="#000" stroke-width="1.5" stroke-linejoin="round" />
<path d="M1300.1,1025.9 L1300.1,1023.4 L1298.2,1023.4 L1298.2,1021.4 L1300.1,1021.4 L1300.1,1019.9 L1303.3,1019.9 L1303.3,1021.4 L1305.2,1021.4 L1305.2,1023.4 L1303.3,1023.4 L1303.3,1025.9 Z" fill="#55585c"/>
<rect x="1297.7" y="1017.9" width="8" height="2" fill="#111"/>
<path d="M1163.1,1138.7 L1163.1,1037.1 A8.8,8.4 0 0 1 1180.7,1037.1 L1180.7,1138.7 A8.8,3 0 0 1 1163.1,1138.7 Z" fill="#056432" stroke="#000" stroke-width="1.5" stroke-linejoin="round" />
<path d="M1170.3,1028.7 L1170.3,1026.2 L1168.4,1026.2 L1168.4,1024.2 L1170.3,1024.2 L1170.3,1022.7 L1173.5,1022.7 L1173.5,1024.2 L1175.4,1024.2 L1175.4,1026.2 L1173.5,1026.2 L1173.5,1028.7 Z" fill="#55585c"/>
<rect x="1167.9" y="1020.7" width="8" height="2" fill="#111"/>
<path d="M1100.5,1138.8 L1100.5,1037.2 A8.8,8.4 0 0 1 1118.1,1037.2 L1118.1,1138.8 A8.8,3 0 0 1 1100.5,1138.8 Z" fill="#056432" stroke="#000" stroke-width="1.5" stroke-linejoin="round" />
<path d="M1107.7,1028.8 L1107.7,1026.3 L1105.8,1026.3 L1105.8,1024.3 L1107.7,1024.3 L1107.7,1022.8 L1110.9,1022.8 L1110.9,1024.3 L1112.8,1024.3 L1112.8,1026.3 L1110.9,1026.3 L1110.9,1028.8 Z" fill="#55585c"/>
<rect x="1105.3" y="1020.8" width="8" height="2" fill="#111"/>
<path d="M1275.2,1146.2 L1275.2,1044.6 A8.8,8.4 0 0 1 1292.8,1044.6 L1292.8,1146.2 A8.8,3 0 0 1 1275.2,1146.2 Z" fill="#056432" stroke="#000" stroke-width="1.5" stroke-linejoin="round" />
<path d="M1282.4,1036.2 L1282.4,1033.7 L1280.5,1033.7 L1280.5,1031.7 L1282.4,1031.7 L1282.4,1030.2 L1285.6,1030.2 L1285.6,1031.7 L1287.5,1031.7 L1287.5,1033.7 L1285.6,1033.7 L1285.6,1036.2 Z" fill="#55585c"/>
<rect x="1280" y="1028.2" width="8" height="2" fill="#111"/>
<path d="M1212.6,1146.3 L1212.6,1044.7 A8.8,8.4 0 0 1 1230.2,1044.7 L1230.2,1146.3 A8.8,3 0 0 1 1212.6,1146.3 Z" fill="#056432" stroke="#000" stroke-width="1.5" stroke-linejoin="round" />
<path d="M1219.8,1036.3 L1219.8,1033.8 L1217.9,1033.8 L1217.9,1031.8 L1219.8,1031.8 L1219.8,1030.3 L1223,1030.3 L1223,1031.8 L1224.9,1031.8 L1224.9,1033.8 L1223,1033.8 L1223,1036.3 Z" fill="#55585c"/>
<rect x="1217.4" y="1028.3" width="8" height="2" fill="#111"/>
<path d="M1082.8,1149.1 L1082.8,1047.5 A8.8,8.4 0 0 1 1100.4,1047.5 L1100.4,1149.1 A8.8,3 0 0 1 1082.8,1149.1 Z" fill="#056432" stroke="#000" stroke-width="1.5" stroke-linejoin="round" />
<path d="M1090,1039.1 L1090,1036.6 L1088.1,1036.6 L1088.1,1034.6 L1090,1034.6 L1090,1033.1 L1093.2,1033.1 L1093.2,1034.6 L1095.1,1034.6 L1095.1,1036.6 L1093.2,1036.6 L1093.2,1039.1 Z" fill="#55585c"/>
<rect x="1087.6" y="1031.1" width="8" height="2" fill="#111"/>
<path d="M1194.9,1156.6 L1194.9,1055 A8.8,8.4 0 0 1 1212.5,1055 L1212.5,1156.6 A8.8,3 0 0 1 1194.9,1156.6 Z" fill="#056432" stroke="#000" stroke-width="1.5" stroke-linejoin="round" />
<path d="M1202.1,1046.6 L1202.1,1044.1 L1200.2,1044.1 L1200.2,1042.1 L1202.1,1042.1 L1202.1,1040.6 L1205.3,1040.6 L1205.3,1042.1 L1207.2,1042.1 L1207.2,1044.1 L1205.3,1044.1 L1205.3,1046.6 Z" fill="#55585c"/>
<rect x="1199.7" y="1038.6" width="8" height="2" fill="#111"/>
<path d="M1132.3,1156.7 L1132.3,1055.1 A8.8,8.4 0 0 1 1149.9,1055.1 L1149.9,1156.7 A8.8,3 0 0 1 1132.3,1156.7 Z" fill="#056432" stroke="#000" stroke-width="1.5" stroke-linejoin="round" />
<path d="M1139.5,1046.7 L1139.5,1044.2 L1137.6,1044.2 L1137.6,1042.2 L1139.5,1042.2 L1139.5,1040.7 L1142.7,1040.7 L1142.7,1042.2 L1144.6,1042.2 L1144.6,1044.2 L1142.7,1044.2 L1142.7,1046.7 Z" fill="#55585c"/>
<rect x="1137.1" y="1038.7" width="8" height="2" fill="#111"/>
<path d="M1244.4,1164.2 L1244.4,1062.6 A8.8,8.4 0 0 1 1262,1062.6 L1262,1164.2 A8.8,3 0 0 1 1244.4,1164.2 Z" fill="#056432" stroke="#000" stroke-width="1.5" stroke-linejoin="round" />
<path d="M1251.6,1054.2 L1251.6,1051.7 L1249.7,1051.7 L1249.7,1049.7 L1251.6,1049.7 L1251.6,1048.2 L1254.8,1048.2 L1254.8,1049.7 L1256.7,1049.7 L1256.7,1051.7 L1254.8,1051.7 L1254.8,1054.2 Z" fill="#55585c"/>
<rect x="1249.2" y="1046.2" width="8" height="2" fill="#111"/>
<path d="M1114.6,1167 L1114.6,1065.4 A8.8,8.4 0 0 1 1132.2,1065.4 L1132.2,1167 A8.8,3 0 0 1 1114.6,1167 Z" fill="#056432" stroke="#000" stroke-width="1.5" stroke-linejoin="round" />
<path d="M1121.8,1057 L1121.8,1054.5 L1119.9,1054.5 L1119.9,1052.5 L1121.8,1052.5 L1121.8,1051 L1125,1051 L1125,1052.5 L1126.9,1052.5 L1126.9,1054.5 L1125,1054.5 L1125,1057 Z" fill="#55585c"/>
<rect x="1119.4" y="1049" width="8" height="2" fill="#111"/>
<path d="M1226.7,1174.5 L1226.7,1072.9 A8.8,8.4 0 0 1 1244.3,1072.9 L1244.3,1174.5 A8.8,3 0 0 1 1226.7,1174.5 Z" fill="#056432" stroke="#000" stroke-width="1.5" stroke-linejoin="round" />
<path d="M1233.9,1064.5 L1233.9,1062 L1232,1062 L1232,1060 L1233.9,1060 L1233.9,1058.5 L1237.1,1058.5 L1237.1,1060 L1239,1060 L1239,1062 L1237.1,1062 L1237.1,1064.5 Z" fill="#55585c"/>
<rect x="1231.5" y="1056.5" width="8" height="2" fill="#111"/>
<path d="M1164.1,1174.6 L1164.1,1073 A8.8,8.4 0 0 1 1181.7,1073 L1181.7,1174.6 A8.8,3 0 0 1 1164.1,1174.6 Z" fill="#056432" stroke="#000" stroke-width="1.5" stroke-linejoin="round" />
<path d="M1171.3,1064.6 L1171.3,1062.1 L1169.4,1062.1 L1169.4,1060.1 L1171.3,1060.1 L1171.3,1058.6 L1174.5,1058.6 L1174.5,1060.1 L1176.4,1060.1 L1176.4,1062.1 L1174.5,1062.1 L1174.5,1064.6 Z" fill="#55585c"/>
<rect x="1168.9" y="1056.6" width="8" height="2" fill="#111"/>
<path d="M1146.4,1184.9 L1146.4,1083.3 A8.8,8.4 0 0 1 1164,1083.3 L1164,1184.9 A8.8,3 0 0 1 1146.4,1184.9 Z" fill="#056432" stroke="#000" stroke-width="1.5" stroke-linejoin="round" />
<path d="M1153.6,1074.9 L1153.6,1072.4 L1151.7,1072.4 L1151.7,1070.4 L1153.6,1070.4 L1153.6,1068.9 L1156.8,1068.9 L1156.8,1070.4 L1158.7,1070.4 L1158.7,1072.4 L1156.8,1072.4 L1156.8,1074.9 Z" fill="#55585c"/>
<rect x="1151.2" y="1066.9" width="8" height="2" fill="#111"/>
<path d="M1195.9,1192.5 L1195.9,1090.9 A8.8,8.4 0 0 1 1213.5,1090.9 L1213.5,1192.5 A8.8,3 0 0 1 1195.9,1192.5 Z" fill="#056432" stroke="#000" stroke-width="1.5" stroke-linejoin="round" />
<path d="M1203.1,1082.5 L1203.1,1080 L1201.2,1080 L1201.2,1078 L1203.1,1078 L1203.1,1076.5 L1206.3,1076.5 L1206.3,1078 L1208.2,1078 L1208.2,1080 L1206.3,1080 L1206.3,1082.5 Z" fill="#55585c"/>
<rect x="1200.7" y="1074.5" width="8" height="2" fill="#111"/>
<path d="M1178.2,1202.8 L1178.2,1101.2 A8.8,8.4 0 0 1 1195.8,1101.2 L1195.8,1202.8 A8.8,3 0 0 1 1178.2,1202.8 Z" fill="#056432" stroke="#000" stroke-width="1.5" stroke-linejoin="round" />
<path d="M1185.4,1092.8 L1185.4,1090.3 L1183.5,1090.3 L1183.5,1088.3 L1185.4,1088.3 L1185.4,1086.8 L1188.6,1086.8 L1188.6,1088.3 L1190.5,1088.3 L1190.5,1090.3 L1188.6,1090.3 L1188.6,1092.8 Z" fill="#55585c"/>
<rect x="1183" y="1084.8" width="8" height="2" fill="#111"/>
<polygon points="830,828 862,822 851,837 850,842 842,842 841,838" fill="#bcc1c9" stroke="#111" stroke-width="1.2" stroke-linejoin="round" />
<polygon points="842,838 850,836 850,890 842,892" fill="#bcc1c9" stroke="#111" stroke-width="1.3" stroke-linejoin="round" />
<line x1="846.4" y1="838" x2="846.4" y2="891" stroke="#111" stroke-width="1.0" stroke-linecap="butt"/>
<polygon points="986.5,903.1 993.5,899.1 993.5,954.1 986.5,958.1" fill="#bcc1c9" stroke="#111" stroke-width="1.3" stroke-linejoin="round" />
<polygon points="853.5,834 986.5,907.1 986.5,938.1 853.5,865" fill="#bcc1c9" stroke="#111" stroke-width="1.6" stroke-linejoin="round" />
<text x="0" y="0" font-family="Liberation Sans, sans-serif" font-size="22" fill="#1a1a1a" text-anchor="middle" dominant-baseline="central" textLength="61" lengthAdjust="spacingAndGlyphs" transform="translate(920,887.1) rotate(28.8)">Oxygen</text>
<polygon points="841.4,880.7 1153,1058.3 1153,1068.3 841.4,890.7" fill="#bcc1c9" stroke="#000" stroke-width="1.3" stroke-linejoin="round" />
<line x1="841.4" y1="886.2" x2="1153" y2="1063.8" stroke="#000" stroke-width="1.3" stroke-linecap="butt"/>
<line x1="841.4" y1="879.2" x2="1153" y2="1056.8" stroke="#111" stroke-width="5.2" stroke-linecap="butt"/>
<line x1="841.4" y1="879.2" x2="1153" y2="1056.8" stroke="#f4a173" stroke-width="3.0" stroke-linecap="butt"/>
<polygon points="838,876.8 848,872.8 857,878.8 857,888.8 847,884.8 838,882.8" fill="#c6cad0" stroke="#222" stroke-width="1.0" stroke-linejoin="round" />
<path d="M861.9,875 A2.3,2.3 0 0 1 858.9,877.7 A2.3,2.3 0 0 1 855,876.5 A2.3,2.3 0 0 1 854.1,872.5 A2.3,2.3 0 0 1 857.1,869.8 A2.3,2.3 0 0 1 861,871 A2.3,2.3 0 0 1 861.9,875 Z" fill="#c6cad0" stroke="#111" stroke-width="1.2" stroke-linejoin="round" />
<circle cx="858" cy="873.8" r="2.3" fill="none" stroke="#111" stroke-width="1.0"/>
<line x1="841" y1="889.8" x2="841" y2="899.8" stroke="#c6cad0" stroke-width="2.4" stroke-linecap="butt"/>
<ellipse cx="841" cy="900.8" rx="3.5" ry="1.8" fill="#c6cad0" stroke="#222" stroke-width="0.8"/>
<path d="M835.9,891 A2.3,2.3 0 0 1 832.9,893.7 A2.3,2.3 0 0 1 829,892.5 A2.3,2.3 0 0 1 828.1,888.5 A2.3,2.3 0 0 1 831.1,885.8 A2.3,2.3 0 0 1 835,887 A2.3,2.3 0 0 1 835.9,891 Z" fill="#c6cad0" stroke="#111" stroke-width="1.2" stroke-linejoin="round" />
<circle cx="832" cy="889.8" r="2.3" fill="none" stroke="#111" stroke-width="1.0"/>
<polygon points="870,895 880,891 889,897 889,907 879,903 870,901" fill="#c6cad0" stroke="#222" stroke-width="1.0" stroke-linejoin="round" />
<path d="M893.9,893.2 A2.3,2.3 0 0 1 890.9,896 A2.3,2.3 0 0 1 887,894.8 A2.3,2.3 0 0 1 886.1,890.8 A2.3,2.3 0 0 1 889.1,888 A2.3,2.3 0 0 1 893,889.2 A2.3,2.3 0 0 1 893.9,893.2 Z" fill="#c6cad0" stroke="#111" stroke-width="1.2" stroke-linejoin="round" />
<circle cx="890" cy="892" r="2.3" fill="none" stroke="#111" stroke-width="1.0"/>
<line x1="873" y1="908" x2="873" y2="918" stroke="#c6cad0" stroke-width="2.4" stroke-linecap="butt"/>
<ellipse cx="873" cy="919" rx="3.5" ry="1.8" fill="#c6cad0" stroke="#222" stroke-width="0.8"/>
<path d="M867.9,909.2 A2.3,2.3 0 0 1 864.9,912 A2.3,2.3 0 0 1 861,910.8 A2.3,2.3 0 0 1 860.1,906.8 A2.3,2.3 0 0 1 863.1,904 A2.3,2.3 0 0 1 867,905.2 A2.3,2.3 0 0 1 867.9,909.2 Z" fill="#c6cad0" stroke="#111" stroke-width="1.2" stroke-linejoin="round" />
<circle cx="864" cy="908" r="2.3" fill="none" stroke="#111" stroke-width="1.0"/>
<polygon points="902,913.2 912,909.2 921,915.2 921,925.2 911,921.2 902,919.2" fill="#c6cad0" stroke="#222" stroke-width="1.0" stroke-linejoin="round" />
<path d="M925.9,911.4 A2.3,2.3 0 0 1 922.9,914.2 A2.3,2.3 0 0 1 919,913 A2.3,2.3 0 0 1 918.1,909 A2.3,2.3 0 0 1 921.1,906.3 A2.3,2.3 0 0 1 925,907.5 A2.3,2.3 0 0 1 925.9,911.4 Z" fill="#c6cad0" stroke="#111" stroke-width="1.2" stroke-linejoin="round" />
<circle cx="922" cy="910.2" r="2.3" fill="none" stroke="#111" stroke-width="1.0"/>
<line x1="905" y1="926.2" x2="905" y2="936.2" stroke="#c6cad0" stroke-width="2.4" stroke-linecap="butt"/>
<ellipse cx="905" cy="937.2" rx="3.5" ry="1.8" fill="#c6cad0" stroke="#222" stroke-width="0.8"/>
<path d="M899.9,927.4 A2.3,2.3 0 0 1 896.9,930.2 A2.3,2.3 0 0 1 893,929 A2.3,2.3 0 0 1 892.1,925 A2.3,2.3 0 0 1 895.1,922.3 A2.3,2.3 0 0 1 899,923.5 A2.3,2.3 0 0 1 899.9,927.4 Z" fill="#c6cad0" stroke="#111" stroke-width="1.2" stroke-linejoin="round" />
<circle cx="896" cy="926.2" r="2.3" fill="none" stroke="#111" stroke-width="1.0"/>
<polygon points="934,931.5 944,927.5 953,933.5 953,943.5 943,939.5 934,937.5" fill="#c6cad0" stroke="#222" stroke-width="1.0" stroke-linejoin="round" />
<path d="M957.9,929.7 A2.3,2.3 0 0 1 954.9,932.4 A2.3,2.3 0 0 1 951,931.2 A2.3,2.3 0 0 1 950.1,927.3 A2.3,2.3 0 0 1 953.1,924.5 A2.3,2.3 0 0 1 957,925.7 A2.3,2.3 0 0 1 957.9,929.7 Z" fill="#c6cad0" stroke="#111" stroke-width="1.2" stroke-linejoin="round" />
<circle cx="954" cy="928.5" r="2.3" fill="none" stroke="#111" stroke-width="1.0"/>
<line x1="937" y1="944.5" x2="937" y2="954.5" stroke="#c6cad0" stroke-width="2.4" stroke-linecap="butt"/>
<ellipse cx="937" cy="955.5" rx="3.5" ry="1.8" fill="#c6cad0" stroke="#222" stroke-width="0.8"/>
<path d="M931.9,945.7 A2.3,2.3 0 0 1 928.9,948.4 A2.3,2.3 0 0 1 925,947.2 A2.3,2.3 0 0 1 924.1,943.3 A2.3,2.3 0 0 1 927.1,940.5 A2.3,2.3 0 0 1 931,941.7 A2.3,2.3 0 0 1 931.9,945.7 Z" fill="#c6cad0" stroke="#111" stroke-width="1.2" stroke-linejoin="round" />
<circle cx="928" cy="944.5" r="2.3" fill="none" stroke="#111" stroke-width="1.0"/>
<polygon points="966,949.7 976,945.7 985,951.7 985,961.7 975,957.7 966,955.7" fill="#c6cad0" stroke="#222" stroke-width="1.0" stroke-linejoin="round" />
<path d="M989.9,947.9 A2.3,2.3 0 0 1 986.9,950.7 A2.3,2.3 0 0 1 983,949.5 A2.3,2.3 0 0 1 982.1,945.5 A2.3,2.3 0 0 1 985.1,942.7 A2.3,2.3 0 0 1 989,943.9 A2.3,2.3 0 0 1 989.9,947.9 Z" fill="#c6cad0" stroke="#111" stroke-width="1.2" stroke-linejoin="round" />
<circle cx="986" cy="946.7" r="2.3" fill="none" stroke="#111" stroke-width="1.0"/>
<line x1="969" y1="962.7" x2="969" y2="972.7" stroke="#c6cad0" stroke-width="2.4" stroke-linecap="butt"/>
<ellipse cx="969" cy="973.7" rx="3.5" ry="1.8" fill="#c6cad0" stroke="#222" stroke-width="0.8"/>
<path d="M963.9,963.9 A2.3,2.3 0 0 1 960.9,966.7 A2.3,2.3 0 0 1 957,965.5 A2.3,2.3 0 0 1 956.1,961.5 A2.3,2.3 0 0 1 959.1,958.7 A2.3,2.3 0 0 1 963,959.9 A2.3,2.3 0 0 1 963.9,963.9 Z" fill="#c6cad0" stroke="#111" stroke-width="1.2" stroke-linejoin="round" />
<circle cx="960" cy="962.7" r="2.3" fill="none" stroke="#111" stroke-width="1.0"/>
<polygon points="998,968 1008,964 1017,970 1017,980 1007,976 998,974" fill="#c6cad0" stroke="#222" stroke-width="1.0" stroke-linejoin="round" />
<path d="M1021.9,966.2 A2.3,2.3 0 0 1 1018.9,968.9 A2.3,2.3 0 0 1 1015,967.7 A2.3,2.3 0 0 1 1014.1,963.7 A2.3,2.3 0 0 1 1017.1,961 A2.3,2.3 0 0 1 1021,962.2 A2.3,2.3 0 0 1 1021.9,966.2 Z" fill="#c6cad0" stroke="#111" stroke-width="1.2" stroke-linejoin="round" />
<circle cx="1018" cy="965" r="2.3" fill="none" stroke="#111" stroke-width="1.0"/>
<line x1="1001" y1="981" x2="1001" y2="991" stroke="#c6cad0" stroke-width="2.4" stroke-linecap="butt"/>
<ellipse cx="1001" cy="992" rx="3.5" ry="1.8" fill="#c6cad0" stroke="#222" stroke-width="0.8"/>
<path d="M995.9,982.2 A2.3,2.3 0 0 1 992.9,984.9 A2.3,2.3 0 0 1 989,983.7 A2.3,2.3 0 0 1 988.1,979.7 A2.3,2.3 0 0 1 991.1,977 A2.3,2.3 0 0 1 995,978.2 A2.3,2.3 0 0 1 995.9,982.2 Z" fill="#c6cad0" stroke="#111" stroke-width="1.2" stroke-linejoin="round" />
<circle cx="992" cy="981" r="2.3" fill="none" stroke="#111" stroke-width="1.0"/>
<polygon points="1030,986.2 1040,982.2 1049,988.2 1049,998.2 1039,994.2 1030,992.2" fill="#c6cad0" stroke="#222" stroke-width="1.0" stroke-linejoin="round" />
<path d="M1053.9,984.4 A2.3,2.3 0 0 1 1050.9,987.2 A2.3,2.3 0 0 1 1047,986 A2.3,2.3 0 0 1 1046.1,982 A2.3,2.3 0 0 1 1049.1,979.2 A2.3,2.3 0 0 1 1053,980.4 A2.3,2.3 0 0 1 1053.9,984.4 Z" fill="#c6cad0" stroke="#111" stroke-width="1.2" stroke-linejoin="round" />
<circle cx="1050" cy="983.2" r="2.3" fill="none" stroke="#111" stroke-width="1.0"/>
<line x1="1033" y1="999.2" x2="1033" y2="1009.2" stroke="#c6cad0" stroke-width="2.4" stroke-linecap="butt"/>
<ellipse cx="1033" cy="1010.2" rx="3.5" ry="1.8" fill="#c6cad0" stroke="#222" stroke-width="0.8"/>
<path d="M1027.9,1000.4 A2.3,2.3 0 0 1 1024.9,1003.2 A2.3,2.3 0 0 1 1021,1002 A2.3,2.3 0 0 1 1020.1,998 A2.3,2.3 0 0 1 1023.1,995.2 A2.3,2.3 0 0 1 1027,996.4 A2.3,2.3 0 0 1 1027.9,1000.4 Z" fill="#c6cad0" stroke="#111" stroke-width="1.2" stroke-linejoin="round" />
<circle cx="1024" cy="999.2" r="2.3" fill="none" stroke="#111" stroke-width="1.0"/>
<polygon points="1062,1004.4 1072,1000.4 1081,1006.4 1081,1016.4 1071,1012.4 1062,1010.4" fill="#c6cad0" stroke="#222" stroke-width="1.0" stroke-linejoin="round" />
<path d="M1085.9,1002.6 A2.3,2.3 0 0 1 1082.9,1005.4 A2.3,2.3 0 0 1 1079,1004.2 A2.3,2.3 0 0 1 1078.1,1000.2 A2.3,2.3 0 0 1 1081.1,997.5 A2.3,2.3 0 0 1 1085,998.7 A2.3,2.3 0 0 1 1085.9,1002.6 Z" fill="#c6cad0" stroke="#111" stroke-width="1.2" stroke-linejoin="round" />
<circle cx="1082" cy="1001.4" r="2.3" fill="none" stroke="#111" stroke-width="1.0"/>
<line x1="1065" y1="1017.4" x2="1065" y2="1027.4" stroke="#c6cad0" stroke-width="2.4" stroke-linecap="butt"/>
<ellipse cx="1065" cy="1028.4" rx="3.5" ry="1.8" fill="#c6cad0" stroke="#222" stroke-width="0.8"/>
<path d="M1059.9,1018.6 A2.3,2.3 0 0 1 1056.9,1021.4 A2.3,2.3 0 0 1 1053,1020.2 A2.3,2.3 0 0 1 1052.1,1016.2 A2.3,2.3 0 0 1 1055.1,1013.5 A2.3,2.3 0 0 1 1059,1014.7 A2.3,2.3 0 0 1 1059.9,1018.6 Z" fill="#c6cad0" stroke="#111" stroke-width="1.2" stroke-linejoin="round" />
<circle cx="1056" cy="1017.4" r="2.3" fill="none" stroke="#111" stroke-width="1.0"/>
<polygon points="1094,1022.7 1104,1018.7 1113,1024.7 1113,1034.7 1103,1030.7 1094,1028.7" fill="#c6cad0" stroke="#222" stroke-width="1.0" stroke-linejoin="round" />
<path d="M1117.9,1020.9 A2.3,2.3 0 0 1 1114.9,1023.6 A2.3,2.3 0 0 1 1111,1022.4 A2.3,2.3 0 0 1 1110.1,1018.5 A2.3,2.3 0 0 1 1113.1,1015.7 A2.3,2.3 0 0 1 1117,1016.9 A2.3,2.3 0 0 1 1117.9,1020.9 Z" fill="#c6cad0" stroke="#111" stroke-width="1.2" stroke-linejoin="round" />
<circle cx="1114" cy="1019.7" r="2.3" fill="none" stroke="#111" stroke-width="1.0"/>
<line x1="1097" y1="1035.7" x2="1097" y2="1045.7" stroke="#c6cad0" stroke-width="2.4" stroke-linecap="butt"/>
<ellipse cx="1097" cy="1046.7" rx="3.5" ry="1.8" fill="#c6cad0" stroke="#222" stroke-width="0.8"/>
<path d="M1091.9,1036.9 A2.3,2.3 0 0 1 1088.9,1039.6 A2.3,2.3 0 0 1 1085,1038.4 A2.3,2.3 0 0 1 1084.1,1034.5 A2.3,2.3 0 0 1 1087.1,1031.7 A2.3,2.3 0 0 1 1091,1032.9 A2.3,2.3 0 0 1 1091.9,1036.9 Z" fill="#c6cad0" stroke="#111" stroke-width="1.2" stroke-linejoin="round" />
<circle cx="1088" cy="1035.7" r="2.3" fill="none" stroke="#111" stroke-width="1.0"/>
<polygon points="1126,1040.9 1136,1036.9 1145,1042.9 1145,1052.9 1135,1048.9 1126,1046.9" fill="#c6cad0" stroke="#222" stroke-width="1.0" stroke-linejoin="round" />
<path d="M1149.9,1039.1 A2.3,2.3 0 0 1 1146.9,1041.9 A2.3,2.3 0 0 1 1143,1040.7 A2.3,2.3 0 0 1 1142.1,1036.7 A2.3,2.3 0 0 1 1145.1,1033.9 A2.3,2.3 0 0 1 1149,1035.1 A2.3,2.3 0 0 1 1149.9,1039.1 Z" fill="#c6cad0" stroke="#111" stroke-width="1.2" stroke-linejoin="round" />
<circle cx="1146" cy="1037.9" r="2.3" fill="none" stroke="#111" stroke-width="1.0"/>
<line x1="1129" y1="1053.9" x2="1129" y2="1063.9" stroke="#c6cad0" stroke-width="2.4" stroke-linecap="butt"/>
<ellipse cx="1129" cy="1064.9" rx="3.5" ry="1.8" fill="#c6cad0" stroke="#222" stroke-width="0.8"/>
<path d="M1123.9,1055.1 A2.3,2.3 0 0 1 1120.9,1057.9 A2.3,2.3 0 0 1 1117,1056.7 A2.3,2.3 0 0 1 1116.1,1052.7 A2.3,2.3 0 0 1 1119.1,1049.9 A2.3,2.3 0 0 1 1123,1051.1 A2.3,2.3 0 0 1 1123.9,1055.1 Z" fill="#c6cad0" stroke="#111" stroke-width="1.2" stroke-linejoin="round" />
<circle cx="1120" cy="1053.9" r="2.3" fill="none" stroke="#111" stroke-width="1.0"/>
<path d="M841,901.8 C838,915.3 844,928.8 840,943.8 C839,950.8 846,950.8 849,944.8" fill="none" stroke="#2e3fa0" stroke-width="2.1" stroke-linejoin="round" />
<path d="M857,893.8 C854,905.5 860,917.2 856,929.8 C855,936.8 862,936.8 865,930.8" fill="none" stroke="#2e3fa0" stroke-width="2.1" stroke-linejoin="round" />
<path d="M873,920 C870,938 876,956 872,977 C871,984 878,984 881,978" fill="none" stroke="#2e3fa0" stroke-width="2.1" stroke-linejoin="round" />
<path d="M889,912 C886,928.2 892,944.4 888,963 C887,970 894,970 897,964" fill="none" stroke="#2e3fa0" stroke-width="2.1" stroke-linejoin="round" />
<path d="M905,938.2 C902,951.7 908,965.2 904,980.2 C903,987.2 910,987.2 913,981.2" fill="none" stroke="#2e3fa0" stroke-width="2.1" stroke-linejoin="round" />
<path d="M921,930.2 C918,941.9 924,953.6 920,966.2 C919,973.2 926,973.2 929,967.2" fill="none" stroke="#2e3fa0" stroke-width="2.1" stroke-linejoin="round" />
<path d="M937,956.5 C934,974.5 940,992.5 936,1013.5 C935,1020.5 942,1020.5 945,1014.5" fill="none" stroke="#2e3fa0" stroke-width="2.1" stroke-linejoin="round" />
<path d="M953,948.5 C950,964.7 956,980.9 952,999.5 C951,1006.5 958,1006.5 961,1000.5" fill="none" stroke="#2e3fa0" stroke-width="2.1" stroke-linejoin="round" />
<path d="M969,974.7 C966,988.2 972,1001.7 968,1016.7 C967,1023.7 974,1023.7 977,1017.7" fill="none" stroke="#2e3fa0" stroke-width="2.1" stroke-linejoin="round" />
<path d="M985,966.7 C982,978.4 988,990.1 984,1002.7 C983,1009.7 990,1009.7 993,1003.7" fill="none" stroke="#2e3fa0" stroke-width="2.1" stroke-linejoin="round" />
<path d="M1001,993 C998,1011 1004,1029 1000,1050 C999,1057 1006,1057 1009,1051" fill="none" stroke="#2e3fa0" stroke-width="2.1" stroke-linejoin="round" />
<path d="M1017,985 C1014,1001.2 1020,1017.4 1016,1036 C1015,1043 1022,1043 1025,1037" fill="none" stroke="#2e3fa0" stroke-width="2.1" stroke-linejoin="round" />
<path d="M1033,1011.2 C1030,1024.7 1036,1038.2 1032,1053.2 C1031,1060.2 1038,1060.2 1041,1054.2" fill="none" stroke="#2e3fa0" stroke-width="2.1" stroke-linejoin="round" />
<path d="M1049,1003.2 C1046,1014.9 1052,1026.6 1048,1039.2 C1047,1046.2 1054,1046.2 1057,1040.2" fill="none" stroke="#2e3fa0" stroke-width="2.1" stroke-linejoin="round" />
<path d="M1065,1029.4 C1062,1047.4 1068,1065.4 1064,1086.4 C1063,1093.4 1070,1093.4 1073,1087.4" fill="none" stroke="#2e3fa0" stroke-width="2.1" stroke-linejoin="round" />
<path d="M1081,1021.4 C1078,1037.6 1084,1053.8 1080,1072.4 C1079,1079.4 1086,1079.4 1089,1073.4" fill="none" stroke="#2e3fa0" stroke-width="2.1" stroke-linejoin="round" />
<path d="M1097,1047.7 C1094,1061.2 1100,1074.7 1096,1089.7 C1095,1096.7 1102,1096.7 1105,1090.7" fill="none" stroke="#2e3fa0" stroke-width="2.1" stroke-linejoin="round" />
<path d="M1113,1039.7 C1110,1051.4 1116,1063.1 1112,1075.7 C1111,1082.7 1118,1082.7 1121,1076.7" fill="none" stroke="#2e3fa0" stroke-width="2.1" stroke-linejoin="round" />
<path d="M1129,1065.9 C1126,1083.9 1132,1101.9 1128,1122.9 C1127,1129.9 1134,1129.9 1137,1123.9" fill="none" stroke="#2e3fa0" stroke-width="2.1" stroke-linejoin="round" />
<path d="M1145,1057.9 C1142,1074.1 1148,1090.3 1144,1108.9 C1143,1115.9 1150,1115.9 1153,1109.9" fill="none" stroke="#2e3fa0" stroke-width="2.1" stroke-linejoin="round" />
<path d="M861.2,1059.7 L861.2,958.1 A8.8,8.4 0 0 1 878.8,958.1 L878.8,1059.7 A8.8,3 0 0 1 861.2,1059.7 Z" fill="#056432" stroke="#000" stroke-width="1.5" stroke-linejoin="round" />
<path d="M868.4,949.7 L868.4,947.2 L866.5,947.2 L866.5,945.2 L868.4,945.2 L868.4,943.7 L871.6,943.7 L871.6,945.2 L873.5,945.2 L873.5,947.2 L871.6,947.2 L871.6,949.7 Z" fill="#55585c"/>
<rect x="866" y="941.7" width="8" height="2" fill="#111"/>
<path d="M843.5,1070 L843.5,968.4 A8.8,8.4 0 0 1 861.1,968.4 L861.1,1070 A8.8,3 0 0 1 843.5,1070 Z" fill="#056432" stroke="#000" stroke-width="1.5" stroke-linejoin="round" />
<path d="M850.7,960 L850.7,957.5 L848.8,957.5 L848.8,955.5 L850.7,955.5 L850.7,954 L853.9,954 L853.9,955.5 L855.8,955.5 L855.8,957.5 L853.9,957.5 L853.9,960 Z" fill="#55585c"/>
<rect x="848.3" y="952" width="8" height="2" fill="#111"/>
<path d="M893,1077.6 L893,976 A8.8,8.4 0 0 1 910.6,976 L910.6,1077.6 A8.8,3 0 0 1 893,1077.6 Z" fill="#056432" stroke="#000" stroke-width="1.5" stroke-linejoin="round" />
<path d="M900.2,967.6 L900.2,965.1 L898.3,965.1 L898.3,963.1 L900.2,963.1 L900.2,961.6 L903.4,961.6 L903.4,963.1 L905.3,963.1 L905.3,965.1 L903.4,965.1 L903.4,967.6 Z" fill="#55585c"/>
<rect x="897.8" y="959.6" width="8" height="2" fill="#111"/>
<path d="M875.3,1087.9 L875.3,986.3 A8.8,8.4 0 0 1 892.9,986.3 L892.9,1087.9 A8.8,3 0 0 1 875.3,1087.9 Z" fill="#056432" stroke="#000" stroke-width="1.5" stroke-linejoin="round" />
<path d="M882.5,977.9 L882.5,975.4 L880.6,975.4 L880.6,973.4 L882.5,973.4 L882.5,971.9 L885.7,971.9 L885.7,973.4 L887.6,973.4 L887.6,975.4 L885.7,975.4 L885.7,977.9 Z" fill="#55585c"/>
<rect x="880.1" y="969.9" width="8" height="2" fill="#111"/>
<path d="M924.8,1095.5 L924.8,993.9 A8.8,8.4 0 0 1 942.4,993.9 L942.4,1095.5 A8.8,3 0 0 1 924.8,1095.5 Z" fill="#056432" stroke="#000" stroke-width="1.5" stroke-linejoin="round" />
<path d="M932,985.5 L932,983 L930.1,983 L930.1,981 L932,981 L932,979.5 L935.2,979.5 L935.2,981 L937.1,981 L937.1,983 L935.2,983 L935.2,985.5 Z" fill="#55585c"/>
<rect x="929.6" y="977.5" width="8" height="2" fill="#111"/>
<path d="M907.1,1105.8 L907.1,1004.2 A8.8,8.4 0 0 1 924.7,1004.2 L924.7,1105.8 A8.8,3 0 0 1 907.1,1105.8 Z" fill="#056432" stroke="#000" stroke-width="1.5" stroke-linejoin="round" />
<path d="M914.3,995.8 L914.3,993.3 L912.4,993.3 L912.4,991.3 L914.3,991.3 L914.3,989.8 L917.5,989.8 L917.5,991.3 L919.4,991.3 L919.4,993.3 L917.5,993.3 L917.5,995.8 Z" fill="#55585c"/>
<rect x="911.9" y="987.8" width="8" height="2" fill="#111"/>
<path d="M956.6,1113.4 L956.6,1011.8 A8.8,8.4 0 0 1 974.2,1011.8 L974.2,1113.4 A8.8,3 0 0 1 956.6,1113.4 Z" fill="#056432" stroke="#000" stroke-width="1.5" stroke-linejoin="round" />
<path d="M963.8,1003.4 L963.8,1000.9 L961.9,1000.9 L961.9,998.9 L963.8,998.9 L963.8,997.4 L967,997.4 L967,998.9 L968.9,998.9 L968.9,1000.9 L967,1000.9 L967,1003.4 Z" fill="#55585c"/>
<rect x="961.4" y="995.4" width="8" height="2" fill="#111"/>
<path d="M938.9,1123.7 L938.9,1022.1 A8.8,8.4 0 0 1 956.5,1022.1 L956.5,1123.7 A8.8,3 0 0 1 938.9,1123.7 Z" fill="#056432" stroke="#000" stroke-width="1.5" stroke-linejoin="round" />
<path d="M946.1,1013.7 L946.1,1011.2 L944.2,1011.2 L944.2,1009.2 L946.1,1009.2 L946.1,1007.7 L949.3,1007.7 L949.3,1009.2 L951.2,1009.2 L951.2,1011.2 L949.3,1011.2 L949.3,1013.7 Z" fill="#55585c"/>
<rect x="943.7" y="1005.7" width="8" height="2" fill="#111"/>
<path d="M988.4,1131.3 L988.4,1029.7 A8.8,8.4 0 0 1 1006,1029.7 L1006,1131.3 A8.8,3 0 0 1 988.4,1131.3 Z" fill="#056432" stroke="#000" stroke-width="1.5" stroke-linejoin="round" />
<path d="M995.6,1021.3 L995.6,1018.8 L993.7,1018.8 L993.7,1016.8 L995.6,1016.8 L995.6,1015.3 L998.8,1015.3 L998.8,1016.8 L1000.7,1016.8 L1000.7,1018.8 L998.8,1018.8 L998.8,1021.3 Z" fill="#55585c"/>
<rect x="993.2" y="1013.3" width="8" height="2" fill="#111"/>
<path d="M970.7,1141.6 L970.7,1040 A8.8,8.4 0 0 1 988.3,1040 L988.3,1141.6 A8.8,3 0 0 1 970.7,1141.6 Z" fill="#056432" stroke="#000" stroke-width="1.5" stroke-linejoin="round" />
<path d="M977.9,1031.6 L977.9,1029.1 L976,1029.1 L976,1027.1 L977.9,1027.1 L977.9,1025.6 L981.1,1025.6 L981.1,1027.1 L983,1027.1 L983,1029.1 L981.1,1029.1 L981.1,1031.6 Z" fill="#55585c"/>
<rect x="975.5" y="1023.6" width="8" height="2" fill="#111"/>
<path d="M1020.2,1149.2 L1020.2,1047.6 A8.8,8.4 0 0 1 1037.8,1047.6 L1037.8,1149.2 A8.8,3 0 0 1 1020.2,1149.2 Z" fill="#056432" stroke="#000" stroke-width="1.5" stroke-linejoin="round" />
<path d="M1027.4,1039.2 L1027.4,1036.7 L1025.5,1036.7 L1025.5,1034.7 L1027.4,1034.7 L1027.4,1033.2 L1030.6,1033.2 L1030.6,1034.7 L1032.5,1034.7 L1032.5,1036.7 L1030.6,1036.7 L1030.6,1039.2 Z" fill="#55585c"/>
<rect x="1025" y="1031.2" width="8" height="2" fill="#111"/>
<path d="M1002.5,1159.5 L1002.5,1057.9 A8.8,8.4 0 0 1 1020.1,1057.9 L1020.1,1159.5 A8.8,3 0 0 1 1002.5,1159.5 Z" fill="#056432" stroke="#000" stroke-width="1.5" stroke-linejoin="round" />
<path d="M1009.7,1049.5 L1009.7,1047 L1007.8,1047 L1007.8,1045 L1009.7,1045 L1009.7,1043.5 L1012.9,1043.5 L1012.9,1045 L1014.8,1045 L1014.8,1047 L1012.9,1047 L1012.9,1049.5 Z" fill="#55585c"/>
<rect x="1007.3" y="1041.5" width="8" height="2" fill="#111"/>
<path d="M1052,1167.1 L1052,1065.5 A8.8,8.4 0 0 1 1069.6,1065.5 L1069.6,1167.1 A8.8,3 0 0 1 1052,1167.1 Z" fill="#056432" stroke="#000" stroke-width="1.5" stroke-linejoin="round" />
<path d="M1059.2,1057.1 L1059.2,1054.6 L1057.3,1054.6 L1057.3,1052.6 L1059.2,1052.6 L1059.2,1051.1 L1062.4,1051.1 L1062.4,1052.6 L1064.3,1052.6 L1064.3,1054.6 L1062.4,1054.6 L1062.4,1057.1 Z" fill="#55585c"/>
<rect x="1056.8" y="1049.1" width="8" height="2" fill="#111"/>
<path d="M1034.3,1177.4 L1034.3,1075.8 A8.8,8.4 0 0 1 1051.9,1075.8 L1051.9,1177.4 A8.8,3 0 0 1 1034.3,1177.4 Z" fill="#056432" stroke="#000" stroke-width="1.5" stroke-linejoin="round" />
<path d="M1041.5,1067.4 L1041.5,1064.9 L1039.6,1064.9 L1039.6,1062.9 L1041.5,1062.9 L1041.5,1061.4 L1044.7,1061.4 L1044.7,1062.9 L1046.6,1062.9 L1046.6,1064.9 L1044.7,1064.9 L1044.7,1067.4 Z" fill="#55585c"/>
<rect x="1039.1" y="1059.4" width="8" height="2" fill="#111"/>
<path d="M1083.8,1185 L1083.8,1083.4 A8.8,8.4 0 0 1 1101.4,1083.4 L1101.4,1185 A8.8,3 0 0 1 1083.8,1185 Z" fill="#056432" stroke="#000" stroke-width="1.5" stroke-linejoin="round" />
<path d="M1091,1075 L1091,1072.5 L1089.1,1072.5 L1089.1,1070.5 L1091,1070.5 L1091,1069 L1094.2,1069 L1094.2,1070.5 L1096.1,1070.5 L1096.1,1072.5 L1094.2,1072.5 L1094.2,1075 Z" fill="#55585c"/>
<rect x="1088.6" y="1067" width="8" height="2" fill="#111"/>
<path d="M1066.1,1195.3 L1066.1,1093.7 A8.8,8.4 0 0 1 1083.7,1093.7 L1083.7,1195.3 A8.8,3 0 0 1 1066.1,1195.3 Z" fill="#056432" stroke="#000" stroke-width="1.5" stroke-linejoin="round" />
<path d="M1073.3,1085.3 L1073.3,1082.8 L1071.4,1082.8 L1071.4,1080.8 L1073.3,1080.8 L1073.3,1079.3 L1076.5,1079.3 L1076.5,1080.8 L1078.4,1080.8 L1078.4,1082.8 L1076.5,1082.8 L1076.5,1085.3 Z" fill="#55585c"/>
<rect x="1070.9" y="1077.3" width="8" height="2" fill="#111"/>
<path d="M1115.6,1202.9 L1115.6,1101.3 A8.8,8.4 0 0 1 1133.2,1101.3 L1133.2,1202.9 A8.8,3 0 0 1 1115.6,1202.9 Z" fill="#056432" stroke="#000" stroke-width="1.5" stroke-linejoin="round" />
<path d="M1122.8,1092.9 L1122.8,1090.4 L1120.9,1090.4 L1120.9,1088.4 L1122.8,1088.4 L1122.8,1086.9 L1126,1086.9 L1126,1088.4 L1127.9,1088.4 L1127.9,1090.4 L1126,1090.4 L1126,1092.9 Z" fill="#55585c"/>
<rect x="1120.4" y="1084.9" width="8" height="2" fill="#111"/>
<path d="M1097.9,1213.2 L1097.9,1111.6 A8.8,8.4 0 0 1 1115.5,1111.6 L1115.5,1213.2 A8.8,3 0 0 1 1097.9,1213.2 Z" fill="#056432" stroke="#000" stroke-width="1.5" stroke-linejoin="round" />
<path d="M1105.1,1103.2 L1105.1,1100.7 L1103.2,1100.7 L1103.2,1098.7 L1105.1,1098.7 L1105.1,1097.2 L1108.3,1097.2 L1108.3,1098.7 L1110.2,1098.7 L1110.2,1100.7 L1108.3,1100.7 L1108.3,1103.2 Z" fill="#55585c"/>
<rect x="1102.7" y="1095.2" width="8" height="2" fill="#111"/>
<path d="M1147.4,1220.8 L1147.4,1119.2 A8.8,8.4 0 0 1 1165,1119.2 L1165,1220.8 A8.8,3 0 0 1 1147.4,1220.8 Z" fill="#056432" stroke="#000" stroke-width="1.5" stroke-linejoin="round" />
<path d="M1154.6,1110.8 L1154.6,1108.3 L1152.7,1108.3 L1152.7,1106.3 L1154.6,1106.3 L1154.6,1104.8 L1157.8,1104.8 L1157.8,1106.3 L1159.7,1106.3 L1159.7,1108.3 L1157.8,1108.3 L1157.8,1110.8 Z" fill="#55585c"/>
<rect x="1152.2" y="1102.8" width="8" height="2" fill="#111"/>
<path d="M1129.7,1231.1 L1129.7,1129.5 A8.8,8.4 0 0 1 1147.3,1129.5 L1147.3,1231.1 A8.8,3 0 0 1 1129.7,1231.1 Z" fill="#056432" stroke="#000" stroke-width="1.5" stroke-linejoin="round" />
<path d="M1136.9,1121.1 L1136.9,1118.6 L1135,1118.6 L1135,1116.6 L1136.9,1116.6 L1136.9,1115.1 L1140.1,1115.1 L1140.1,1116.6 L1142,1116.6 L1142,1118.6 L1140.1,1118.6 L1140.1,1121.1 Z" fill="#55585c"/>
<rect x="1134.5" y="1113.1" width="8" height="2" fill="#111"/>
<polygon points="1132,998 1164,992 1153,1007 1152,1012 1144,1012 1143,1008" fill="#bcc1c9" stroke="#111" stroke-width="1.2" stroke-linejoin="round" />
<polygon points="1144,1008 1152,1006 1152,1060 1144,1062" fill="#bcc1c9" stroke="#111" stroke-width="1.3" stroke-linejoin="round" />
<line x1="1148.4" y1="1008" x2="1148.4" y2="1061" stroke="#111" stroke-width="1.0" stroke-linecap="butt"/>
<polygon points="1421,833 1453,827 1442,842 1441,847 1433,847 1432,843" fill="#bcc1c9" stroke="#111" stroke-width="1.2" stroke-linejoin="round" />
<polygon points="1433,843 1441,841 1441,893 1433,895" fill="#bcc1c9" stroke="#111" stroke-width="1.3" stroke-linejoin="round" />
<line x1="1437.4" y1="843" x2="1437.4" y2="894" stroke="#111" stroke-width="1.0" stroke-linecap="butt"/>
<polygon points="1656,698 1688,692 1677,707 1676,712 1668,712 1667,708" fill="#bcc1c9" stroke="#111" stroke-width="1.2" stroke-linejoin="round" />
<polygon points="1668,708 1676,706 1676,758 1668,760" fill="#bcc1c9" stroke="#111" stroke-width="1.3" stroke-linejoin="round" />
<line x1="1672.4" y1="708" x2="1672.4" y2="759" stroke="#111" stroke-width="1.0" stroke-linecap="butt"/>
<polygon points="1860,581 1892,575 1881,590 1880,595 1872,595 1871,591" fill="#bcc1c9" stroke="#111" stroke-width="1.2" stroke-linejoin="round" />
<polygon points="1872,591 1880,589 1880,638 1872,640" fill="#bcc1c9" stroke="#111" stroke-width="1.3" stroke-linejoin="round" />
<line x1="1876.4" y1="591" x2="1876.4" y2="639" stroke="#111" stroke-width="1.0" stroke-linecap="butt"/>
<polygon points="1073,1003 1940.5,500.9 1940.5,513.9 1073,1016" fill="#bcc1c9" stroke="#111" stroke-width="1.5" stroke-linejoin="round" />
<line x1="1073" y1="1009" x2="1940.5" y2="506.9" stroke="#111" stroke-width="1.2" stroke-linecap="butt"/>
<line x1="1073" y1="1012.5" x2="1940.5" y2="510.4" stroke="#111" stroke-width="1.2" stroke-linecap="butt"/>
<polygon points="1094,1003.8 1943.5,512.2 1943.5,535.2 1094,1026.8" fill="#bcc1c9" stroke="#111" stroke-width="1.5" stroke-linejoin="round" />
<polygon points="1094,1003.8 1943.5,512.2 1943.5,518.7 1094,1010.3" fill="#d6d9de" stroke="#111" stroke-width="1.1" stroke-linejoin="round" />
<line x1="1094" y1="1015.8" x2="1943.5" y2="524.2" stroke="#111" stroke-width="1.2" stroke-linecap="butt"/>
<line x1="1094" y1="1020.8" x2="1943.5" y2="529.2" stroke="#111" stroke-width="1.2" stroke-linecap="butt"/>
<polygon points="1081,1003.5 1114.4,986.1 1114.4,998.1 1104.9,1012.4 1090.5,1020.1 1081.6,1016" fill="#b1282e" stroke="#111" stroke-width="1.4" stroke-linejoin="round" />
<polygon points="1174.5,949.4 1207.9,932 1207.9,944 1198.4,958.3 1184,966 1175.1,961.9" fill="#b1282e" stroke="#111" stroke-width="1.4" stroke-linejoin="round" />
<polygon points="1371,835.6 1404.4,818.2 1404.4,830.2 1394.9,844.5 1380.5,852.2 1371.6,848.1" fill="#b1282e" stroke="#111" stroke-width="1.4" stroke-linejoin="round" />
<polygon points="1463,782.4 1496.4,765 1496.4,777 1486.9,791.3 1472.5,799 1463.6,794.9" fill="#b1282e" stroke="#111" stroke-width="1.4" stroke-linejoin="round" />
<polygon points="1606,699.6 1639.4,682.2 1639.4,694.2 1629.9,708.5 1615.5,716.2 1606.6,712.1" fill="#b1282e" stroke="#111" stroke-width="1.4" stroke-linejoin="round" />
<polygon points="1698,646.4 1731.4,629 1731.4,641 1721.9,655.2 1707.5,663 1698.6,658.9" fill="#b1282e" stroke="#111" stroke-width="1.4" stroke-linejoin="round" />
<polygon points="1810,581.5 1843.4,564.1 1843.4,576.1 1833.9,590.4 1819.5,598.1 1810.6,594" fill="#b1282e" stroke="#111" stroke-width="1.4" stroke-linejoin="round" />
<polygon points="1903,527.7 1936.4,510.3 1936.4,522.3 1926.9,536.6 1912.5,544.3 1903.6,540.2" fill="#b1282e" stroke="#111" stroke-width="1.4" stroke-linejoin="round" />
<polyline points="1946,402.4 1008,955 1008,1112" fill="none" stroke="#f6efb0" stroke-width="4.2" stroke-linejoin="round" stroke-linejoin="round"/>
<polyline points="1959.7,410.6 1021.5,958 1021.5,1112" fill="none" stroke="#e6449a" stroke-width="4.2" stroke-linejoin="round" stroke-linejoin="round"/>
<polyline points="1975.3,419.5 1037.5,963 1037.5,1114" fill="none" stroke="#f4a167" stroke-width="4.2" stroke-linejoin="round" stroke-linejoin="round"/>
<polyline points="1985.8,431.5 1053.5,968 1053.5,1116" fill="none" stroke="#0aa650" stroke-width="4.2" stroke-linejoin="round" stroke-linejoin="round"/>
<path d="M1280,780 C1300,768 1322,780 1338,786 C1352,778 1362,760 1376,756 C1390,752 1398,760 1409,756 C1418,752 1422,744 1430,738" fill="none" stroke="#f4a167" stroke-width="3.6" stroke-linejoin="round" />
<path d="M1285,786 C1300,790 1318,792 1336,782 C1348,772 1356,766 1374,764 C1392,762 1402,768 1414,760 C1420,754 1424,748 1430,740" fill="none" stroke="#f4a167" stroke-width="3.6" stroke-linejoin="round" />
<path d="M1528,668 C1538,655 1545,645 1560,643 C1575,642 1580,650 1590,646 C1600,640 1610,620 1625,607 C1632,602 1640,601 1650,597" fill="none" stroke="#e6449a" stroke-width="3.6" stroke-linejoin="round" />
<path d="M1733,545 C1750,530 1765,520 1785,525 C1800,528 1805,505 1815,490 C1830,470 1850,470 1862,462 C1870,455 1873,448 1878,444" fill="none" stroke="#f6efb0" stroke-width="3.6" stroke-linejoin="round" />
<path d="M1000,952 C1020,950 1035,956 1048,961 C1060,963 1070,952 1082,943 C1094,936 1108,936 1118,937 C1130,934 1142,928 1155,924" fill="none" stroke="#0aa650" stroke-width="3.6" stroke-linejoin="round" />
<path d="M1022,956 C1030,950 1040,946 1052,948 C1062,950 1068,955 1080,953" fill="none" stroke="#0aa650" stroke-width="3.0" stroke-linejoin="round" />
<polyline points="672,990 672,880 1058,1102 1058,1108" fill="none" stroke="#1a1a1a" stroke-width="5.0" stroke-linejoin="round" stroke-linecap="square"/>
<polyline points="672,990 672,880 1058,1102 1058,1108" fill="none" stroke="#f4a173" stroke-width="2.8" stroke-linejoin="round" stroke-linecap="square"/>
<polyline points="678.3,990 678.3,890.3 1042,1099.4 1042,1105.4" fill="none" stroke="#1a1a1a" stroke-width="5.0" stroke-linejoin="round" stroke-linecap="square"/>
<polyline points="678.3,990 678.3,890.3 1042,1099.4 1042,1105.4" fill="none" stroke="#f4a173" stroke-width="2.8" stroke-linejoin="round" stroke-linecap="square"/>
<polyline points="684.6,990 684.6,900.6 1026,1096.9 1026,1102.9" fill="none" stroke="#1a1a1a" stroke-width="5.0" stroke-linejoin="round" stroke-linecap="square"/>
<polyline points="684.6,990 684.6,900.6 1026,1096.9 1026,1102.9" fill="none" stroke="#f4a173" stroke-width="2.8" stroke-linejoin="round" stroke-linecap="square"/>
<polyline points="690.9,990 690.9,910.9 1010,1094.4 1010,1100.4" fill="none" stroke="#1a1a1a" stroke-width="5.0" stroke-linejoin="round" stroke-linecap="square"/>
<polyline points="690.9,990 690.9,910.9 1010,1094.4 1010,1100.4" fill="none" stroke="#f4a173" stroke-width="2.8" stroke-linejoin="round" stroke-linecap="square"/>
<polygon points="969.7,1253.7 1026,1224 1032,1228.5 975.7,1258.7" fill="#575e61" stroke="#111" stroke-width="1.2" stroke-linejoin="round" />
<polygon points="991,1188.8 1002.5,1193 1002.5,1241 991,1236" fill="#575e61" stroke="#111" stroke-width="1.2" stroke-linejoin="round" />
<polygon points="979.5,1102 991,1098 1062,1137 1057.5,1145.3 991,1110" fill="#5d6265" stroke="#111" stroke-width="1.2" stroke-linejoin="round" />
<polygon points="979.5,1102 991,1110 991,1145 979.5,1137" fill="#474b4e" stroke="#111" stroke-width="1.2" stroke-linejoin="round" />
<polyline points="1058,1102 1058,1145.5" fill="none" stroke="#1a1a1a" stroke-width="4.800000000000001" stroke-linejoin="round" stroke-linecap="square"/>
<polyline points="1058,1102 1058,1145.5" fill="none" stroke="#f4a173" stroke-width="2.6" stroke-linejoin="round" stroke-linecap="square"/>
<polyline points="1042,1100.5 1042,1137" fill="none" stroke="#1a1a1a" stroke-width="4.800000000000001" stroke-linejoin="round" stroke-linecap="square"/>
<polyline points="1042,1100.5 1042,1137" fill="none" stroke="#f4a173" stroke-width="2.6" stroke-linejoin="round" stroke-linecap="square"/>
<polyline points="1026,1099 1026,1128.5" fill="none" stroke="#1a1a1a" stroke-width="4.800000000000001" stroke-linejoin="round" stroke-linecap="square"/>
<polyline points="1026,1099 1026,1128.5" fill="none" stroke="#f4a173" stroke-width="2.6" stroke-linejoin="round" stroke-linecap="square"/>
<polyline points="1010,1097.5 1010,1120.1" fill="none" stroke="#1a1a1a" stroke-width="4.800000000000001" stroke-linejoin="round" stroke-linecap="square"/>
<polyline points="1010,1097.5 1010,1120.1" fill="none" stroke="#f4a173" stroke-width="2.6" stroke-linejoin="round" stroke-linecap="square"/>
<polygon points="991,1110 1057.5,1145.3 1057.5,1225 991,1188.8" fill="#575e61" stroke="#111" stroke-width="1.5" stroke-linejoin="round" />
<polygon points="1057.5,1145.3 1068,1140 1075.5,1146 1075.5,1180.6 1057.5,1172" fill="#4a4e51" stroke="#111" stroke-width="1.2" stroke-linejoin="round" />
<polygon points="1057.5,1225 1068,1222 1068,1290 1057.5,1294" fill="#575e61" stroke="#111" stroke-width="1.2" stroke-linejoin="round" />
<polygon points="1042,1280 1080,1260 1086,1264.3 1048,1284" fill="#575e61" stroke="#111" stroke-width="1.2" stroke-linejoin="round" />
<line x1="235.3" y1="517.6" x2="235.3" y2="856" stroke="#111" stroke-width="3.5" stroke-linecap="butt"/>
<line x1="235.3" y1="517.6" x2="1069" y2="979" stroke="#111" stroke-width="2.6" stroke-linecap="butt"/>
<line x1="1069" y1="979" x2="2003.3" y2="437" stroke="#111" stroke-width="4.2" stroke-linecap="round"/>
<line x1="2003.3" y1="437" x2="2003.3" y2="775" stroke="#111" stroke-width="4" stroke-linecap="butt"/>
<line x1="1069" y1="979" x2="1069" y2="1317.6" stroke="#111" stroke-width="3.5" stroke-linecap="butt"/>
<polygon points="446,888 453.5,886.5 453.5,1000 446,1000" fill="#b4b9c1" stroke="#000" stroke-width="1.6" stroke-linejoin="round" />
<line x1="449.4" y1="890" x2="449.4" y2="999" stroke="#000" stroke-width="1.6" stroke-linecap="butt"/>
<polygon points="453.5,886.5 461,885 461,1000 453.5,1000" fill="#b4b9c1" stroke="#000" stroke-width="1.6" stroke-linejoin="round" />
<line x1="456.9" y1="888.5" x2="456.9" y2="999" stroke="#000" stroke-width="1.6" stroke-linecap="butt"/>
<polygon points="461,885 468.5,883.5 468.5,1000 461,1000" fill="#b4b9c1" stroke="#000" stroke-width="1.6" stroke-linejoin="round" />
<line x1="464.4" y1="887" x2="464.4" y2="999" stroke="#000" stroke-width="1.6" stroke-linecap="butt"/>
<polygon points="468.5,883.5 476,882 476,1000 468.5,1000" fill="#b4b9c1" stroke="#000" stroke-width="1.6" stroke-linejoin="round" />
<line x1="471.9" y1="885.5" x2="471.9" y2="999" stroke="#000" stroke-width="1.6" stroke-linecap="butt"/>
<polygon points="476,882 483.5,880.5 483.5,1000 476,1000" fill="#b4b9c1" stroke="#000" stroke-width="1.6" stroke-linejoin="round" />
<line x1="479.4" y1="884" x2="479.4" y2="999" stroke="#000" stroke-width="1.6" stroke-linecap="butt"/>
<polygon points="483.5,880.5 491,879 491,1000 483.5,1000" fill="#b4b9c1" stroke="#000" stroke-width="1.6" stroke-linejoin="round" />
<line x1="486.9" y1="882.5" x2="486.9" y2="999" stroke="#000" stroke-width="1.6" stroke-linecap="butt"/>
<polygon points="491,879 498.5,877.5 498.5,1000 491,1000" fill="#b4b9c1" stroke="#000" stroke-width="1.6" stroke-linejoin="round" />
<line x1="494.4" y1="881" x2="494.4" y2="999" stroke="#000" stroke-width="1.6" stroke-linecap="butt"/>
<polygon points="498.5,877.5 506,876 506,1000 498.5,1000" fill="#b4b9c1" stroke="#000" stroke-width="1.6" stroke-linejoin="round" />
<line x1="501.9" y1="879.5" x2="501.9" y2="999" stroke="#000" stroke-width="1.6" stroke-linecap="butt"/>
<polygon points="506,876 513.5,874.5 513.5,1000 506,1000" fill="#b4b9c1" stroke="#000" stroke-width="1.6" stroke-linejoin="round" />
<line x1="509.4" y1="878" x2="509.4" y2="999" stroke="#000" stroke-width="1.6" stroke-linecap="butt"/>
<polygon points="513.5,874.5 521,873 521,1000 513.5,1000" fill="#b4b9c1" stroke="#000" stroke-width="1.6" stroke-linejoin="round" />
<line x1="516.9" y1="876.5" x2="516.9" y2="999" stroke="#000" stroke-width="1.6" stroke-linecap="butt"/>
<polygon points="521,873 528.5,871.5 528.5,1000 521,1000" fill="#b4b9c1" stroke="#000" stroke-width="1.6" stroke-linejoin="round" />
<line x1="524.4" y1="875" x2="524.4" y2="999" stroke="#000" stroke-width="1.6" stroke-linecap="butt"/>
<polygon points="528.5,871.5 536,870 536,1000 528.5,1000" fill="#b4b9c1" stroke="#000" stroke-width="1.6" stroke-linejoin="round" />
<line x1="531.9" y1="873.5" x2="531.9" y2="999" stroke="#000" stroke-width="1.6" stroke-linecap="butt"/>
<path d="M448,890 C448,874 465,871 465,887" fill="none" stroke="#111" stroke-width="3.4" stroke-linejoin="round" />
<path d="M448,890 C448,874 465,871 465,887" fill="none" stroke="#c3c7cd" stroke-width="1.7" stroke-linejoin="round" />
<path d="M463,887 C463,871 480,868 480,884" fill="none" stroke="#111" stroke-width="3.4" stroke-linejoin="round" />
<path d="M463,887 C463,871 480,868 480,884" fill="none" stroke="#c3c7cd" stroke-width="1.7" stroke-linejoin="round" />
<path d="M478,884 C478,868 495,865 495,881" fill="none" stroke="#111" stroke-width="3.4" stroke-linejoin="round" />
<path d="M478,884 C478,868 495,865 495,881" fill="none" stroke="#c3c7cd" stroke-width="1.7" stroke-linejoin="round" />
<path d="M493,881 C493,865 510,862 510,878" fill="none" stroke="#111" stroke-width="3.4" stroke-linejoin="round" />
<path d="M493,881 C493,865 510,862 510,878" fill="none" stroke="#c3c7cd" stroke-width="1.7" stroke-linejoin="round" />
<path d="M508,878 C508,862 525,859 525,875" fill="none" stroke="#111" stroke-width="3.4" stroke-linejoin="round" />
<path d="M508,878 C508,862 525,859 525,875" fill="none" stroke="#c3c7cd" stroke-width="1.7" stroke-linejoin="round" />
<polygon points="458,905.6 465.5,904.1 465.5,1006 458,1006" fill="#b4b9c1" stroke="#000" stroke-width="1.6" stroke-linejoin="round" />
<line x1="461.4" y1="907.6" x2="461.4" y2="1005" stroke="#000" stroke-width="1.6" stroke-linecap="butt"/>
<polygon points="465.5,904.1 473,902.6 473,1006 465.5,1006" fill="#b4b9c1" stroke="#000" stroke-width="1.6" stroke-linejoin="round" />
<line x1="468.9" y1="906.1" x2="468.9" y2="1005" stroke="#000" stroke-width="1.6" stroke-linecap="butt"/>
<polygon points="473,902.6 480.5,901.1 480.5,1006 473,1006" fill="#b4b9c1" stroke="#000" stroke-width="1.6" stroke-linejoin="round" />
<line x1="476.4" y1="904.6" x2="476.4" y2="1005" stroke="#000" stroke-width="1.6" stroke-linecap="butt"/>
<polygon points="480.5,901.1 488,899.6 488,1006 480.5,1006" fill="#b4b9c1" stroke="#000" stroke-width="1.6" stroke-linejoin="round" />
<line x1="483.9" y1="903.1" x2="483.9" y2="1005" stroke="#000" stroke-width="1.6" stroke-linecap="butt"/>
<polygon points="488,899.6 495.5,898.1 495.5,1006 488,1006" fill="#b4b9c1" stroke="#000" stroke-width="1.6" stroke-linejoin="round" />
<line x1="491.4" y1="901.6" x2="491.4" y2="1005" stroke="#000" stroke-width="1.6" stroke-linecap="butt"/>
<polygon points="495.5,898.1 503,896.6 503,1006 495.5,1006" fill="#b4b9c1" stroke="#000" stroke-width="1.6" stroke-linejoin="round" />
<line x1="498.9" y1="900.1" x2="498.9" y2="1005" stroke="#000" stroke-width="1.6" stroke-linecap="butt"/>
<polygon points="503,896.6 510.5,895.1 510.5,1006 503,1006" fill="#b4b9c1" stroke="#000" stroke-width="1.6" stroke-linejoin="round" />
<line x1="506.4" y1="898.6" x2="506.4" y2="1005" stroke="#000" stroke-width="1.6" stroke-linecap="butt"/>
<polygon points="510.5,895.1 518,893.6 518,1006 510.5,1006" fill="#b4b9c1" stroke="#000" stroke-width="1.6" stroke-linejoin="round" />
<line x1="513.9" y1="897.1" x2="513.9" y2="1005" stroke="#000" stroke-width="1.6" stroke-linecap="butt"/>
<polygon points="518,893.6 525.5,892.1 525.5,1006 518,1006" fill="#b4b9c1" stroke="#000" stroke-width="1.6" stroke-linejoin="round" />
<line x1="521.4" y1="895.6" x2="521.4" y2="1005" stroke="#000" stroke-width="1.6" stroke-linecap="butt"/>
<polygon points="525.5,892.1 533,890.6 533,1006 525.5,1006" fill="#b4b9c1" stroke="#000" stroke-width="1.6" stroke-linejoin="round" />
<line x1="528.9" y1="894.1" x2="528.9" y2="1005" stroke="#000" stroke-width="1.6" stroke-linecap="butt"/>
<polygon points="533,890.6 540.5,889.1 540.5,1006 533,1006" fill="#b4b9c1" stroke="#000" stroke-width="1.6" stroke-linejoin="round" />
<line x1="536.4" y1="892.6" x2="536.4" y2="1005" stroke="#000" stroke-width="1.6" stroke-linecap="butt"/>
<path d="M460,907.6 C460,891.6 477,888.6 477,904.6" fill="none" stroke="#111" stroke-width="3.4" stroke-linejoin="round" />
<path d="M460,907.6 C460,891.6 477,888.6 477,904.6" fill="none" stroke="#c3c7cd" stroke-width="1.7" stroke-linejoin="round" />
<path d="M475,904.6 C475,888.6 492,885.6 492,901.6" fill="none" stroke="#111" stroke-width="3.4" stroke-linejoin="round" />
<path d="M475,904.6 C475,888.6 492,885.6 492,901.6" fill="none" stroke="#c3c7cd" stroke-width="1.7" stroke-linejoin="round" />
<path d="M490,901.6 C490,885.6 507,882.6 507,898.6" fill="none" stroke="#111" stroke-width="3.4" stroke-linejoin="round" />
<path d="M490,901.6 C490,885.6 507,882.6 507,898.6" fill="none" stroke="#c3c7cd" stroke-width="1.7" stroke-linejoin="round" />
<path d="M505,898.6 C505,882.6 522,879.6 522,895.6" fill="none" stroke="#111" stroke-width="3.4" stroke-linejoin="round" />
<path d="M505,898.6 C505,882.6 522,879.6 522,895.6" fill="none" stroke="#c3c7cd" stroke-width="1.7" stroke-linejoin="round" />
<path d="M520,895.6 C520,879.6 537,876.6 537,892.6" fill="none" stroke="#111" stroke-width="3.4" stroke-linejoin="round" />
<path d="M520,895.6 C520,879.6 537,876.6 537,892.6" fill="none" stroke="#c3c7cd" stroke-width="1.7" stroke-linejoin="round" />
<path d="M70.5,872.7 L240.1,769.6 C262,762 290,790 304,828 L310,880 L177.5,999.3 L130.5,1027 Z" fill="#fff" stroke="#000" stroke-width="2.8" stroke-linejoin="round" />
<path d="M26.1,896.2 L70.5,872.7 C95,870 118,895 127,925 C131,940 130.5,948 130.5,948.4 L130.5,1029.3 L90,1052.8 L90,966.6 Z" fill="#fff" stroke="#000" stroke-width="2.8" stroke-linejoin="round" />
<path d="M2.6,1005.8 L2.6,932.7 C4,912 16,899 29,897.5 C50,897 70,912 80,929 C87,941 90,955 90,966.6 L90,1052.8 Z" fill="#fff" stroke="#000" stroke-width="3" stroke-linejoin="round" />
<text x="0" y="0" font-family="Liberation Sans, sans-serif" font-size="43" fill="#000" textLength="36" lengthAdjust="spacingAndGlyphs" stroke="#000" stroke-width="0.6" transform="translate(18.5,965) skewY(29)">CO</text>
<text x="0" y="0" font-family="Liberation Sans, sans-serif" font-size="34" fill="#000" textLength="15" lengthAdjust="spacingAndGlyphs" stroke="#000" stroke-width="0.5" transform="translate(56.5,998) skewY(29)">2</text>
<path d="M178.5,892 L178.5,1080 C178.5,1112.4 219.8,1116 253.5,1116 C287.2,1116 328.5,1112.4 328.5,1080 L328.5,892 Z" fill="#fff" stroke="#222" stroke-width="2.2" stroke-linejoin="round" />
<ellipse cx="253.5" cy="892" rx="75" ry="42" fill="#fff" stroke="#000" stroke-width="2.6"/>
<ellipse cx="253.5" cy="892" rx="72.5" ry="34" fill="#fff" stroke="#000" stroke-width="2.6"/>
<text x="196" y="1007" font-family="Liberation Sans, sans-serif" font-size="34" fill="#000">Argon</text>
<path d="M295.2,848.5 L295.2,1137 C295.2,1167.6 336.4,1171 370.2,1171 C403.9,1171 445.2,1167.6 445.2,1137 L445.2,848.5 Z" fill="#fff" stroke="#222" stroke-width="2.2" stroke-linejoin="round" />
<ellipse cx="370.2" cy="848.5" rx="75" ry="42" fill="#fff" stroke="#000" stroke-width="2.6"/>
<ellipse cx="370.2" cy="848.5" rx="72.5" ry="34" fill="#fff" stroke="#000" stroke-width="2.6"/>
<text x="307" y="934" font-family="Liberation Sans, sans-serif" font-size="34" fill="#000">Nitrogen</text>
<path d="M429.5,965.8 L429.5,1190 C429.5,1222.4 470.8,1226 504.5,1226 C538.2,1226 579.5,1222.4 579.5,1190 L579.5,965.8 Z" fill="#fff" stroke="#222" stroke-width="2.2" stroke-linejoin="round" />
<ellipse cx="504.5" cy="965.8" rx="75" ry="42" fill="#fff" stroke="#000" stroke-width="2.6"/>
<ellipse cx="504.5" cy="965.8" rx="72.5" ry="34" fill="#fff" stroke="#000" stroke-width="2.6"/>
<text x="447" y="1089" font-family="Liberation Sans, sans-serif" font-size="34" fill="#000">Oxygen</text>
<rect x="-4.5" y="-7" width="9" height="14" fill="#fff" stroke="#000" stroke-width="1.4" transform="translate(210,926) rotate(20)"/>
<rect x="-4.5" y="-7" width="9" height="14" fill="#fff" stroke="#000" stroke-width="1.4" transform="translate(289,858) rotate(-18)"/>
<rect x="-4.5" y="-7" width="9" height="14" fill="#fff" stroke="#000" stroke-width="1.4" transform="translate(328,883) rotate(20)"/>
<rect x="-4.5" y="-7" width="9" height="14" fill="#fff" stroke="#000" stroke-width="1.4" transform="translate(462,997) rotate(18)"/>
<polygon points="623,1192 635,1186 647,1192 647,1216 635,1222 623,1216" fill="#b0b5bd" stroke="#000" stroke-width="1.3" stroke-linejoin="round" />
<line x1="635" y1="1198" x2="635" y2="1222" stroke="#111" stroke-width="1.1" stroke-linecap="butt"/>
<polygon points="705,1146 717,1140 729,1146 729,1170 717,1176 705,1170" fill="#b0b5bd" stroke="#000" stroke-width="1.3" stroke-linejoin="round" />
<line x1="717" y1="1152" x2="717" y2="1176" stroke="#111" stroke-width="1.1" stroke-linecap="butt"/>
<polygon points="580,1164 702,1125 731,1142 633,1197" fill="#b9bec6" stroke="#000" stroke-width="1.5" stroke-linejoin="round" />
<polygon points="580,1164 633,1197 633,1204 580,1171" fill="#a9aeb6" stroke="#000" stroke-width="1.2" stroke-linejoin="round" />
<polygon points="633,1197 731,1142 731,1149 633,1204" fill="#a9aeb6" stroke="#000" stroke-width="1.2" stroke-linejoin="round" />
<polygon points="580,990 589,987.7 589,1151.3 580,1150" fill="#b4b9c1" stroke="#000" stroke-width="1.6" stroke-linejoin="round" />
<line x1="584" y1="992" x2="584" y2="1149" stroke="#000" stroke-width="1.6" stroke-linecap="butt"/>
<polygon points="589,987.7 598,985.3 598,1152.7 589,1151.3" fill="#b4b9c1" stroke="#000" stroke-width="1.6" stroke-linejoin="round" />
<line x1="593" y1="989.7" x2="593" y2="1150.3" stroke="#000" stroke-width="1.6" stroke-linecap="butt"/>
<polygon points="598,985.3 607,983 607,1154 598,1152.7" fill="#b4b9c1" stroke="#000" stroke-width="1.6" stroke-linejoin="round" />
<line x1="602" y1="987.3" x2="602" y2="1151.7" stroke="#000" stroke-width="1.6" stroke-linecap="butt"/>
<polygon points="607,983 616,980.6 616,1155.4 607,1154" fill="#b4b9c1" stroke="#000" stroke-width="1.6" stroke-linejoin="round" />
<line x1="611" y1="985" x2="611" y2="1153" stroke="#000" stroke-width="1.6" stroke-linecap="butt"/>
<polygon points="616,980.6 625,978.3 625,1156.8 616,1155.4" fill="#b4b9c1" stroke="#000" stroke-width="1.6" stroke-linejoin="round" />
<line x1="620" y1="982.6" x2="620" y2="1154.4" stroke="#000" stroke-width="1.6" stroke-linecap="butt"/>
<polygon points="625,978.3 634,976 634,1158.1 625,1156.8" fill="#b4b9c1" stroke="#000" stroke-width="1.6" stroke-linejoin="round" />
<line x1="629" y1="980.3" x2="629" y2="1155.8" stroke="#000" stroke-width="1.6" stroke-linecap="butt"/>
<polygon points="634,976 643,973.6 643,1159.5 634,1158.1" fill="#b4b9c1" stroke="#000" stroke-width="1.6" stroke-linejoin="round" />
<line x1="638" y1="978" x2="638" y2="1157.1" stroke="#000" stroke-width="1.6" stroke-linecap="butt"/>
<polygon points="643,973.6 652,971.3 652,1160.8 643,1159.5" fill="#b4b9c1" stroke="#000" stroke-width="1.6" stroke-linejoin="round" />
<line x1="647" y1="975.6" x2="647" y2="1158.5" stroke="#000" stroke-width="1.6" stroke-linecap="butt"/>
<polygon points="652,971.3 661,968.9 661,1162.2 652,1160.8" fill="#b4b9c1" stroke="#000" stroke-width="1.6" stroke-linejoin="round" />
<line x1="656" y1="973.3" x2="656" y2="1159.8" stroke="#000" stroke-width="1.6" stroke-linecap="butt"/>
<polygon points="661,968.9 670,966.6 670,1163.5 661,1162.2" fill="#b4b9c1" stroke="#000" stroke-width="1.6" stroke-linejoin="round" />
<line x1="665" y1="970.9" x2="665" y2="1161.2" stroke="#000" stroke-width="1.6" stroke-linecap="butt"/>
<path d="M582,992 C582,972 595,969.7 595,989.7" fill="none" stroke="#111" stroke-width="3.4" stroke-linejoin="round" />
<path d="M582,992 C582,972 595,969.7 595,989.7" fill="none" stroke="#c3c7cd" stroke-width="1.7" stroke-linejoin="round" />
<path d="M591,989.7 C591,969.7 604,967.3 604,987.3" fill="none" stroke="#111" stroke-width="3.4" stroke-linejoin="round" />
<path d="M591,989.7 C591,969.7 604,967.3 604,987.3" fill="none" stroke="#c3c7cd" stroke-width="1.7" stroke-linejoin="round" />
<path d="M600,987.3 C600,967.3 613,965 613,985" fill="none" stroke="#111" stroke-width="3.4" stroke-linejoin="round" />
<path d="M600,987.3 C600,967.3 613,965 613,985" fill="none" stroke="#c3c7cd" stroke-width="1.7" stroke-linejoin="round" />
<path d="M609,985 C609,965 622,962.6 622,982.6" fill="none" stroke="#111" stroke-width="3.4" stroke-linejoin="round" />
<path d="M609,985 C609,965 622,962.6 622,982.6" fill="none" stroke="#c3c7cd" stroke-width="1.7" stroke-linejoin="round" />
<path d="M618,982.6 C618,962.6 631,960.3 631,980.3" fill="none" stroke="#111" stroke-width="3.4" stroke-linejoin="round" />
<path d="M618,982.6 C618,962.6 631,960.3 631,980.3" fill="none" stroke="#c3c7cd" stroke-width="1.7" stroke-linejoin="round" />
<path d="M627,980.3 C627,960.3 640,958 640,978" fill="none" stroke="#111" stroke-width="3.4" stroke-linejoin="round" />
<path d="M627,980.3 C627,960.3 640,958 640,978" fill="none" stroke="#c3c7cd" stroke-width="1.7" stroke-linejoin="round" />
<path d="M636,978 C636,958 649,955.6 649,975.6" fill="none" stroke="#111" stroke-width="3.4" stroke-linejoin="round" />
<path d="M636,978 C636,958 649,955.6 649,975.6" fill="none" stroke="#c3c7cd" stroke-width="1.7" stroke-linejoin="round" />
<path d="M645,975.6 C645,955.6 658,953.3 658,973.3" fill="none" stroke="#111" stroke-width="3.4" stroke-linejoin="round" />
<path d="M645,975.6 C645,955.6 658,953.3 658,973.3" fill="none" stroke="#c3c7cd" stroke-width="1.7" stroke-linejoin="round" />
<path d="M654,973.3 C654,953.3 667,950.9 667,970.9" fill="none" stroke="#111" stroke-width="3.4" stroke-linejoin="round" />
<path d="M654,973.3 C654,953.3 667,950.9 667,970.9" fill="none" stroke="#c3c7cd" stroke-width="1.7" stroke-linejoin="round" />
<polygon points="612,1022 621,1018.8 621,1172.3 612,1166" fill="#b4b9c1" stroke="#000" stroke-width="1.6" stroke-linejoin="round" />
<line x1="616" y1="1024" x2="616" y2="1165" stroke="#000" stroke-width="1.6" stroke-linecap="butt"/>
<polygon points="621,1018.8 630,1015.5 630,1178.6 621,1172.3" fill="#b4b9c1" stroke="#000" stroke-width="1.6" stroke-linejoin="round" />
<line x1="625" y1="1020.8" x2="625" y2="1171.3" stroke="#000" stroke-width="1.6" stroke-linecap="butt"/>
<polygon points="630,1015.5 639,1012.3 639,1176.9 630,1178.6" fill="#b4b9c1" stroke="#000" stroke-width="1.6" stroke-linejoin="round" />
<line x1="634" y1="1017.5" x2="634" y2="1177.6" stroke="#000" stroke-width="1.6" stroke-linecap="butt"/>
<polygon points="639,1012.3 648,1009 648,1173 639,1176.9" fill="#b4b9c1" stroke="#000" stroke-width="1.6" stroke-linejoin="round" />
<line x1="643" y1="1014.3" x2="643" y2="1175.9" stroke="#000" stroke-width="1.6" stroke-linecap="butt"/>
<polygon points="648,1009 657,1005.8 657,1169 648,1173" fill="#b4b9c1" stroke="#000" stroke-width="1.6" stroke-linejoin="round" />
<line x1="652" y1="1011" x2="652" y2="1172" stroke="#000" stroke-width="1.6" stroke-linecap="butt"/>
<polygon points="657,1005.8 666,1002.6 666,1165 657,1169" fill="#b4b9c1" stroke="#000" stroke-width="1.6" stroke-linejoin="round" />
<line x1="661" y1="1007.8" x2="661" y2="1168" stroke="#000" stroke-width="1.6" stroke-linecap="butt"/>
<polygon points="666,1002.6 675,999.3 675,1161.1 666,1165" fill="#b4b9c1" stroke="#000" stroke-width="1.6" stroke-linejoin="round" />
<line x1="670" y1="1004.6" x2="670" y2="1164" stroke="#000" stroke-width="1.6" stroke-linecap="butt"/>
<polygon points="675,999.3 684,996.1 684,1157.1 675,1161.1" fill="#b4b9c1" stroke="#000" stroke-width="1.6" stroke-linejoin="round" />
<line x1="679" y1="1001.3" x2="679" y2="1160.1" stroke="#000" stroke-width="1.6" stroke-linecap="butt"/>
<polygon points="684,996.1 693,992.8 693,1153.2 684,1157.1" fill="#b4b9c1" stroke="#000" stroke-width="1.6" stroke-linejoin="round" />
<line x1="688" y1="998.1" x2="688" y2="1156.1" stroke="#000" stroke-width="1.6" stroke-linecap="butt"/>
<polygon points="693,992.8 702,989.6 702,1149.2 693,1153.2" fill="#b4b9c1" stroke="#000" stroke-width="1.6" stroke-linejoin="round" />
<line x1="697" y1="994.8" x2="697" y2="1152.2" stroke="#000" stroke-width="1.6" stroke-linecap="butt"/>
<path d="M614,1024 C614,1004 627,1000.8 627,1020.8" fill="none" stroke="#111" stroke-width="3.4" stroke-linejoin="round" />
<path d="M614,1024 C614,1004 627,1000.8 627,1020.8" fill="none" stroke="#c3c7cd" stroke-width="1.7" stroke-linejoin="round" />
<path d="M623,1020.8 C623,1000.8 636,997.5 636,1017.5" fill="none" stroke="#111" stroke-width="3.4" stroke-linejoin="round" />
<path d="M623,1020.8 C623,1000.8 636,997.5 636,1017.5" fill="none" stroke="#c3c7cd" stroke-width="1.7" stroke-linejoin="round" />
<path d="M632,1017.5 C632,997.5 645,994.3 645,1014.3" fill="none" stroke="#111" stroke-width="3.4" stroke-linejoin="round" />
<path d="M632,1017.5 C632,997.5 645,994.3 645,1014.3" fill="none" stroke="#c3c7cd" stroke-width="1.7" stroke-linejoin="round" />
<path d="M641,1014.3 C641,994.3 654,991 654,1011" fill="none" stroke="#111" stroke-width="3.4" stroke-linejoin="round" />
<path d="M641,1014.3 C641,994.3 654,991 654,1011" fill="none" stroke="#c3c7cd" stroke-width="1.7" stroke-linejoin="round" />
<path d="M650,1011 C650,991 663,987.8 663,1007.8" fill="none" stroke="#111" stroke-width="3.4" stroke-linejoin="round" />
<path d="M650,1011 C650,991 663,987.8 663,1007.8" fill="none" stroke="#c3c7cd" stroke-width="1.7" stroke-linejoin="round" />
<path d="M659,1007.8 C659,987.8 672,984.6 672,1004.6" fill="none" stroke="#111" stroke-width="3.4" stroke-linejoin="round" />
<path d="M659,1007.8 C659,987.8 672,984.6 672,1004.6" fill="none" stroke="#c3c7cd" stroke-width="1.7" stroke-linejoin="round" />
<path d="M668,1004.6 C668,984.6 681,981.3 681,1001.3" fill="none" stroke="#111" stroke-width="3.4" stroke-linejoin="round" />
<path d="M668,1004.6 C668,984.6 681,981.3 681,1001.3" fill="none" stroke="#c3c7cd" stroke-width="1.7" stroke-linejoin="round" />
<path d="M677,1001.3 C677,981.3 690,978.1 690,998.1" fill="none" stroke="#111" stroke-width="3.4" stroke-linejoin="round" />
<path d="M677,1001.3 C677,981.3 690,978.1 690,998.1" fill="none" stroke="#c3c7cd" stroke-width="1.7" stroke-linejoin="round" />
<path d="M686,998.1 C686,978.1 699,974.8 699,994.8" fill="none" stroke="#111" stroke-width="3.4" stroke-linejoin="round" />
<path d="M686,998.1 C686,978.1 699,974.8 699,994.8" fill="none" stroke="#c3c7cd" stroke-width="1.7" stroke-linejoin="round" />
<polygon points="180,1090 202,1094 197,1150 187,1150" fill="#fff" stroke="#000" stroke-width="1.5" stroke-linejoin="round" />
<line x1="192" y1="1092" x2="192" y2="1150" stroke="#111" stroke-width="1.0" stroke-linecap="butt"/>
<polygon points="174,1154 192,1144 210,1154 192,1163" fill="#fff" stroke="#000" stroke-width="1.5" stroke-linejoin="round" />
<polygon points="298,1150 320,1154 315,1208 305,1208" fill="#fff" stroke="#000" stroke-width="1.5" stroke-linejoin="round" />
<line x1="310" y1="1152" x2="310" y2="1208" stroke="#111" stroke-width="1.0" stroke-linecap="butt"/>
<polygon points="292,1212 310,1202 328,1212 310,1221" fill="#fff" stroke="#000" stroke-width="1.5" stroke-linejoin="round" />
<polygon points="352,1168 374,1172 369,1206 359,1206" fill="#fff" stroke="#000" stroke-width="1.5" stroke-linejoin="round" />
<line x1="364" y1="1170" x2="364" y2="1206" stroke="#111" stroke-width="1.0" stroke-linecap="butt"/>
<polygon points="346,1210 364,1200 382,1210 364,1219" fill="#fff" stroke="#000" stroke-width="1.5" stroke-linejoin="round" />
<polygon points="434,1200 456,1204 451,1258 441,1258" fill="#fff" stroke="#000" stroke-width="1.5" stroke-linejoin="round" />
<line x1="446" y1="1202" x2="446" y2="1258" stroke="#111" stroke-width="1.0" stroke-linecap="butt"/>
<polygon points="428,1262 446,1252 464,1262 446,1271" fill="#fff" stroke="#000" stroke-width="1.5" stroke-linejoin="round" />
<polygon points="551,1200 573,1204 568,1258 558,1258" fill="#fff" stroke="#000" stroke-width="1.5" stroke-linejoin="round" />
<line x1="563" y1="1202" x2="563" y2="1258" stroke="#111" stroke-width="1.0" stroke-linecap="butt"/>
<polygon points="545,1262 563,1252 581,1262 563,1271" fill="#fff" stroke="#000" stroke-width="1.5" stroke-linejoin="round" />
<polyline points="251,1142 251,1192 503.5,1336.7 667.8,1242.6" fill="none" stroke="#1a1a1a" stroke-width="4.800000000000001" stroke-linejoin="round" stroke-linecap="square"/>
<polyline points="251,1142 251,1192 503.5,1336.7 667.8,1242.6" fill="none" stroke="#f4a173" stroke-width="2.6" stroke-linejoin="round" stroke-linecap="square"/>
<polyline points="376.5,1196 376.5,1229 348,1244" fill="none" stroke="#1a1a1a" stroke-width="4.800000000000001" stroke-linejoin="round" stroke-linecap="square"/>
<polyline points="376.5,1196 376.5,1229 348,1244" fill="none" stroke="#f4a173" stroke-width="2.6" stroke-linejoin="round" stroke-linecap="square"/>
<polyline points="512.4,1253 512.4,1281.5 461.7,1308.4" fill="none" stroke="#1a1a1a" stroke-width="4.800000000000001" stroke-linejoin="round" stroke-linecap="square"/>
<polyline points="512.4,1253 512.4,1281.5 461.7,1308.4" fill="none" stroke="#f4a173" stroke-width="2.6" stroke-linejoin="round" stroke-linecap="square"/>
<polyline points="672,1243 690,1233" fill="none" stroke="#1a1a1a" stroke-width="4.800000000000001" stroke-linejoin="round" stroke-linecap="square"/>
<polyline points="672,1243 690,1233" fill="none" stroke="#f4a173" stroke-width="2.6" stroke-linejoin="round" stroke-linecap="square"/>
<polyline points="220,1114 242,1128 266,1114" fill="none" stroke="#000" stroke-width="5" stroke-linejoin="round" />
<polyline points="220,1114 242,1128 266,1114" fill="none" stroke="#fff" stroke-width="2.6" stroke-linejoin="round" />
<line x1="232" y1="1102" x2="232" y2="1122" stroke="#000" stroke-width="4.4" stroke-linecap="butt"/>
<line x1="232" y1="1102" x2="232" y2="1122" stroke="#fff" stroke-width="2.2" stroke-linecap="butt"/>
<ellipse cx="232" cy="1102" rx="5.5" ry="3.2" fill="#fff" stroke="#000" stroke-width="1.3"/>
<line x1="248" y1="1110" x2="248" y2="1130" stroke="#000" stroke-width="4.4" stroke-linecap="butt"/>
<line x1="248" y1="1110" x2="248" y2="1130" stroke="#fff" stroke-width="2.2" stroke-linecap="butt"/>
<ellipse cx="248" cy="1110" rx="5.5" ry="3.2" fill="#fff" stroke="#000" stroke-width="1.3"/>
<line x1="260" y1="1102" x2="260" y2="1122" stroke="#000" stroke-width="4.4" stroke-linecap="butt"/>
<line x1="260" y1="1102" x2="260" y2="1122" stroke="#fff" stroke-width="2.2" stroke-linecap="butt"/>
<ellipse cx="260" cy="1102" rx="5.5" ry="3.2" fill="#fff" stroke="#000" stroke-width="1.3"/>
<ellipse cx="214" cy="1112" rx="4" ry="5" fill="#2e3a8c"/>
<polyline points="346,1174 368,1188 392,1174" fill="none" stroke="#000" stroke-width="5" stroke-linejoin="round" />
<polyline points="346,1174 368,1188 392,1174" fill="none" stroke="#fff" stroke-width="2.6" stroke-linejoin="round" />
<line x1="358" y1="1162" x2="358" y2="1182" stroke="#000" stroke-width="4.4" stroke-linecap="butt"/>
<line x1="358" y1="1162" x2="358" y2="1182" stroke="#fff" stroke-width="2.2" stroke-linecap="butt"/>
<ellipse cx="358" cy="1162" rx="5.5" ry="3.2" fill="#fff" stroke="#000" stroke-width="1.3"/>
<line x1="374" y1="1170" x2="374" y2="1190" stroke="#000" stroke-width="4.4" stroke-linecap="butt"/>
<line x1="374" y1="1170" x2="374" y2="1190" stroke="#fff" stroke-width="2.2" stroke-linecap="butt"/>
<ellipse cx="374" cy="1170" rx="5.5" ry="3.2" fill="#fff" stroke="#000" stroke-width="1.3"/>
<line x1="386" y1="1162" x2="386" y2="1182" stroke="#000" stroke-width="4.4" stroke-linecap="butt"/>
<line x1="386" y1="1162" x2="386" y2="1182" stroke="#fff" stroke-width="2.2" stroke-linecap="butt"/>
<ellipse cx="386" cy="1162" rx="5.5" ry="3.2" fill="#fff" stroke="#000" stroke-width="1.3"/>
<ellipse cx="340" cy="1172" rx="4" ry="5" fill="#2e3a8c"/>
<polyline points="478,1226 500,1240 524,1226" fill="none" stroke="#000" stroke-width="5" stroke-linejoin="round" />
<polyline points="478,1226 500,1240 524,1226" fill="none" stroke="#fff" stroke-width="2.6" stroke-linejoin="round" />
<line x1="490" y1="1214" x2="490" y2="1234" stroke="#000" stroke-width="4.4" stroke-linecap="butt"/>
<line x1="490" y1="1214" x2="490" y2="1234" stroke="#fff" stroke-width="2.2" stroke-linecap="butt"/>
<ellipse cx="490" cy="1214" rx="5.5" ry="3.2" fill="#fff" stroke="#000" stroke-width="1.3"/>
<line x1="506" y1="1222" x2="506" y2="1242" stroke="#000" stroke-width="4.4" stroke-linecap="butt"/>
<line x1="506" y1="1222" x2="506" y2="1242" stroke="#fff" stroke-width="2.2" stroke-linecap="butt"/>
<ellipse cx="506" cy="1222" rx="5.5" ry="3.2" fill="#fff" stroke="#000" stroke-width="1.3"/>
<line x1="518" y1="1214" x2="518" y2="1234" stroke="#000" stroke-width="4.4" stroke-linecap="butt"/>
<line x1="518" y1="1214" x2="518" y2="1234" stroke="#fff" stroke-width="2.2" stroke-linecap="butt"/>
<ellipse cx="518" cy="1214" rx="5.5" ry="3.2" fill="#fff" stroke="#000" stroke-width="1.3"/>
<ellipse cx="472" cy="1224" rx="4" ry="5" fill="#2e3a8c"/>
<polyline points="671,1183 690,1172 690,1205" fill="none" stroke="#1a1a1a" stroke-width="4.800000000000001" stroke-linejoin="round" stroke-linecap="square"/>
<polyline points="671,1183 690,1172 690,1205" fill="none" stroke="#f4a173" stroke-width="2.6" stroke-linejoin="round" stroke-linecap="square"/>
<path d="M714,1212 C708,1196 738,1188 747,1200 C754,1210 744,1222 732,1222" fill="none" stroke="#1b7fd0" stroke-width="7"/>
<polygon points="669,1226 698,1208 712,1214 728,1206 744,1214 740,1232 722,1240 722,1262 700,1274 669,1262" fill="#54595c" stroke="#000" stroke-width="1.5" stroke-linejoin="round" />
<polygon points="690,1240 722,1226 722,1262 700,1274 690,1268" fill="#0c6b38" stroke="#000" stroke-width="1.4" stroke-linejoin="round" />
<ellipse cx="706" cy="1253" rx="9" ry="11" fill="#0c6b38" stroke="#000" stroke-width="1.4"/>
<ellipse cx="706" cy="1253" rx="4.5" ry="6" fill="none" stroke="#000" stroke-width="1.2"/>
<path d="M718,1212 C714,1200 726,1196 734,1206" fill="none" stroke="#000" stroke-width="2"/>
<polygon points="716,1222 726,1217 729,1224 719,1229" fill="#fff" stroke="#000" stroke-width="1.0" stroke-linejoin="round" />
</svg>
</body></html>
